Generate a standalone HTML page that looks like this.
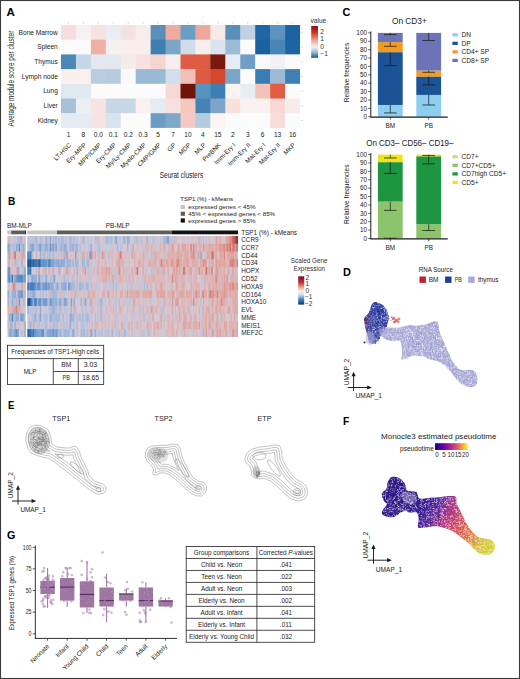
<!DOCTYPE html><html><head><meta charset="utf-8"><style>html,body{margin:0;padding:0;background:#fff;overflow:hidden;width:520px;height:679px;}svg{display:block;}text{font-family:"Liberation Sans", sans-serif;}</style></head><body>
<svg width="520" height="679" viewBox="0 0 520 679">
<rect x="0.00" y="0.00" width="520.00" height="679.00" fill="#fff"/>
<text x="6.50" y="16.30" font-size="11.5" font-weight="bold" fill="#000">A</text>
<rect x="61.00" y="25.00" width="15.44" height="15.20" fill="#f7dedd"/>
<rect x="75.94" y="25.00" width="15.44" height="15.20" fill="#f6f1f2"/>
<rect x="90.88" y="25.00" width="15.44" height="15.20" fill="#f6e2e1"/>
<rect x="105.82" y="25.00" width="15.44" height="15.20" fill="#e7edf3"/>
<rect x="120.76" y="25.00" width="15.44" height="15.20" fill="#f6e1e2"/>
<rect x="135.70" y="25.00" width="15.44" height="15.20" fill="#f8ecec"/>
<rect x="150.64" y="25.00" width="15.44" height="15.20" fill="#5b8fba"/>
<rect x="165.58" y="25.00" width="15.44" height="15.20" fill="#f0aba0"/>
<rect x="180.52" y="25.00" width="15.44" height="15.20" fill="#6b9dc6"/>
<rect x="195.46" y="25.00" width="15.44" height="15.20" fill="#eea79b"/>
<rect x="210.40" y="25.00" width="15.44" height="15.20" fill="#f8e8e6"/>
<rect x="225.34" y="25.00" width="15.44" height="15.20" fill="#5a8fba"/>
<rect x="240.28" y="25.00" width="15.44" height="15.20" fill="#c1d1e2"/>
<rect x="255.22" y="25.00" width="15.44" height="15.20" fill="#1f66a4"/>
<rect x="270.16" y="25.00" width="15.44" height="15.20" fill="#5f93bf"/>
<rect x="285.10" y="25.00" width="14.94" height="15.20" fill="#1b62a0"/>
<rect x="61.00" y="39.70" width="15.44" height="15.20" fill="#fbfbfc"/>
<rect x="75.94" y="39.70" width="15.44" height="15.20" fill="#fbfbfc"/>
<rect x="90.88" y="39.70" width="15.44" height="15.20" fill="#eeb1a3"/>
<rect x="105.82" y="39.70" width="15.44" height="15.20" fill="#f8f0f0"/>
<rect x="120.76" y="39.70" width="15.44" height="15.20" fill="#f8eeee"/>
<rect x="135.70" y="39.70" width="15.44" height="15.20" fill="#f8eeee"/>
<rect x="150.64" y="39.70" width="15.44" height="15.20" fill="#3f7fb0"/>
<rect x="165.58" y="39.70" width="15.44" height="15.20" fill="#7ca6c8"/>
<rect x="180.52" y="39.70" width="15.44" height="15.20" fill="#d0dde9"/>
<rect x="195.46" y="39.70" width="15.44" height="15.20" fill="#f7eeee"/>
<rect x="210.40" y="39.70" width="15.44" height="15.20" fill="#dbe4ee"/>
<rect x="225.34" y="39.70" width="15.44" height="15.20" fill="#9dbad4"/>
<rect x="240.28" y="39.70" width="15.44" height="15.20" fill="#fbfbfc"/>
<rect x="255.22" y="39.70" width="15.44" height="15.20" fill="#1a61a0"/>
<rect x="270.16" y="39.70" width="15.44" height="15.20" fill="#4885b6"/>
<rect x="285.10" y="39.70" width="14.94" height="15.20" fill="#1d64a2"/>
<rect x="61.00" y="54.40" width="15.44" height="15.20" fill="#4b88b5"/>
<rect x="75.94" y="54.40" width="15.44" height="15.20" fill="#c5d6e6"/>
<rect x="90.88" y="54.40" width="15.44" height="15.20" fill="#e3e8f0"/>
<rect x="105.82" y="54.40" width="15.44" height="15.20" fill="#e3e8f0"/>
<rect x="120.76" y="54.40" width="15.44" height="15.20" fill="#f6ebeb"/>
<rect x="135.70" y="54.40" width="15.44" height="15.20" fill="#f6e1e0"/>
<rect x="150.64" y="54.40" width="15.44" height="15.20" fill="#f5d5d0"/>
<rect x="165.58" y="54.40" width="15.44" height="15.20" fill="#f7eeee"/>
<rect x="180.52" y="54.40" width="15.44" height="15.20" fill="#de5b45"/>
<rect x="195.46" y="54.40" width="15.44" height="15.20" fill="#de5b45"/>
<rect x="210.40" y="54.40" width="15.44" height="15.20" fill="#7a1a0e"/>
<rect x="225.34" y="54.40" width="15.44" height="15.20" fill="#e6ecf3"/>
<rect x="240.28" y="54.40" width="15.44" height="15.20" fill="#6f9ec6"/>
<rect x="255.22" y="54.40" width="15.44" height="15.20" fill="#fafafa"/>
<rect x="270.16" y="54.40" width="15.44" height="15.20" fill="#f0f2f6"/>
<rect x="285.10" y="54.40" width="14.94" height="15.20" fill="#fbfbfc"/>
<rect x="61.00" y="69.10" width="15.44" height="15.20" fill="#fbf0ef"/>
<rect x="75.94" y="69.10" width="15.44" height="15.20" fill="#faf0ee"/>
<rect x="90.88" y="69.10" width="15.44" height="15.20" fill="#b8cde0"/>
<rect x="105.82" y="69.10" width="15.44" height="15.20" fill="#b5cbdf"/>
<rect x="120.76" y="69.10" width="15.44" height="15.20" fill="#faf9fa"/>
<rect x="135.70" y="69.10" width="15.44" height="15.20" fill="#9ab9d4"/>
<rect x="150.64" y="69.10" width="15.44" height="15.20" fill="#9ab9d4"/>
<rect x="165.58" y="69.10" width="15.44" height="15.20" fill="#d2dfeb"/>
<rect x="180.52" y="69.10" width="15.44" height="15.20" fill="#f3beb5"/>
<rect x="195.46" y="69.10" width="15.44" height="15.20" fill="#df5a44"/>
<rect x="210.40" y="69.10" width="15.44" height="15.20" fill="#d5472d"/>
<rect x="225.34" y="69.10" width="15.44" height="15.20" fill="#7aa4c8"/>
<rect x="240.28" y="69.10" width="15.44" height="15.20" fill="#fbfbfc"/>
<rect x="255.22" y="69.10" width="15.44" height="15.20" fill="#3a7db2"/>
<rect x="270.16" y="69.10" width="15.44" height="15.20" fill="#9dbad4"/>
<rect x="285.10" y="69.10" width="14.94" height="15.20" fill="#3f80b4"/>
<rect x="61.00" y="83.80" width="15.44" height="15.20" fill="#e0e8f0"/>
<rect x="75.94" y="83.80" width="15.44" height="15.20" fill="#e0e8f0"/>
<rect x="90.88" y="83.80" width="15.44" height="15.20" fill="#fbfbfc"/>
<rect x="105.82" y="83.80" width="15.44" height="15.20" fill="#fbfbfc"/>
<rect x="120.76" y="83.80" width="15.44" height="15.20" fill="#fbfbfc"/>
<rect x="135.70" y="83.80" width="15.44" height="15.20" fill="#fbfbfc"/>
<rect x="150.64" y="83.80" width="15.44" height="15.20" fill="#fbfbfc"/>
<rect x="165.58" y="83.80" width="15.44" height="15.20" fill="#f7d8d4"/>
<rect x="180.52" y="83.80" width="15.44" height="15.20" fill="#6e1408"/>
<rect x="195.46" y="83.80" width="15.44" height="15.20" fill="#5892bf"/>
<rect x="210.40" y="83.80" width="15.44" height="15.20" fill="#3d7eb3"/>
<rect x="225.34" y="83.80" width="15.44" height="15.20" fill="#fbf2f2"/>
<rect x="240.28" y="83.80" width="15.44" height="15.20" fill="#e8edf3"/>
<rect x="255.22" y="83.80" width="15.44" height="15.20" fill="#f3c2b8"/>
<rect x="270.16" y="83.80" width="15.44" height="15.20" fill="#e05d44"/>
<rect x="285.10" y="83.80" width="14.94" height="15.20" fill="#fbfbfc"/>
<rect x="61.00" y="98.50" width="15.44" height="15.20" fill="#a8c1d8"/>
<rect x="75.94" y="98.50" width="15.44" height="15.20" fill="#ecf0f5"/>
<rect x="90.88" y="98.50" width="15.44" height="15.20" fill="#f7e4e2"/>
<rect x="105.82" y="98.50" width="15.44" height="15.20" fill="#c7d7e6"/>
<rect x="120.76" y="98.50" width="15.44" height="15.20" fill="#c7d7e6"/>
<rect x="135.70" y="98.50" width="15.44" height="15.20" fill="#faf0ef"/>
<rect x="150.64" y="98.50" width="15.44" height="15.20" fill="#e4ebf2"/>
<rect x="165.58" y="98.50" width="15.44" height="15.20" fill="#f8e0de"/>
<rect x="180.52" y="98.50" width="15.44" height="15.20" fill="#f4c8c0"/>
<rect x="195.46" y="98.50" width="15.44" height="15.20" fill="#4383b6"/>
<rect x="210.40" y="98.50" width="15.44" height="15.20" fill="#7aa4c8"/>
<rect x="225.34" y="98.50" width="15.44" height="15.20" fill="#f8e0dc"/>
<rect x="240.28" y="98.50" width="15.44" height="15.20" fill="#faf2f1"/>
<rect x="255.22" y="98.50" width="15.44" height="15.20" fill="#f9f1f0"/>
<rect x="270.16" y="98.50" width="15.44" height="15.20" fill="#f7d8d4"/>
<rect x="285.10" y="98.50" width="14.94" height="15.20" fill="#f8eceb"/>
<rect x="61.00" y="113.20" width="15.44" height="14.70" fill="#e4ebf2"/>
<rect x="75.94" y="113.20" width="15.44" height="14.70" fill="#e4ebf2"/>
<rect x="90.88" y="113.20" width="15.44" height="14.70" fill="#f7e4e2"/>
<rect x="105.82" y="113.20" width="15.44" height="14.70" fill="#d9e3ee"/>
<rect x="120.76" y="113.20" width="15.44" height="14.70" fill="#fbfbfc"/>
<rect x="135.70" y="113.20" width="15.44" height="14.70" fill="#fbfbfc"/>
<rect x="150.64" y="113.20" width="15.44" height="14.70" fill="#6c9cc4"/>
<rect x="165.58" y="113.20" width="15.44" height="14.70" fill="#7ea8ca"/>
<rect x="180.52" y="113.20" width="15.44" height="14.70" fill="#f4cac3"/>
<rect x="195.46" y="113.20" width="15.44" height="14.70" fill="#b5cbdf"/>
<rect x="210.40" y="113.20" width="15.44" height="14.70" fill="#fbf4f4"/>
<rect x="225.34" y="113.20" width="15.44" height="14.70" fill="#fbfbfc"/>
<rect x="240.28" y="113.20" width="15.44" height="14.70" fill="#fbfbfc"/>
<rect x="255.22" y="113.20" width="15.44" height="14.70" fill="#fbfbfc"/>
<rect x="270.16" y="113.20" width="15.44" height="14.70" fill="#f8dcd8"/>
<rect x="285.10" y="113.20" width="14.94" height="14.70" fill="#fbfbfc"/>
<line x1="68.47" y1="21.80" x2="68.47" y2="24.40" stroke="#c4c4c4" stroke-width="0.6"/>
<line x1="83.41" y1="21.80" x2="83.41" y2="24.40" stroke="#c4c4c4" stroke-width="0.6"/>
<line x1="98.35" y1="21.80" x2="98.35" y2="24.40" stroke="#c4c4c4" stroke-width="0.6"/>
<line x1="113.29" y1="21.80" x2="113.29" y2="24.40" stroke="#c4c4c4" stroke-width="0.6"/>
<line x1="128.23" y1="21.80" x2="128.23" y2="24.40" stroke="#c4c4c4" stroke-width="0.6"/>
<line x1="143.17" y1="21.80" x2="143.17" y2="24.40" stroke="#c4c4c4" stroke-width="0.6"/>
<line x1="158.11" y1="21.80" x2="158.11" y2="24.40" stroke="#c4c4c4" stroke-width="0.6"/>
<line x1="173.05" y1="21.80" x2="173.05" y2="24.40" stroke="#c4c4c4" stroke-width="0.6"/>
<line x1="187.99" y1="21.80" x2="187.99" y2="24.40" stroke="#c4c4c4" stroke-width="0.6"/>
<line x1="202.93" y1="21.80" x2="202.93" y2="24.40" stroke="#c4c4c4" stroke-width="0.6"/>
<line x1="217.87" y1="21.80" x2="217.87" y2="24.40" stroke="#c4c4c4" stroke-width="0.6"/>
<line x1="232.81" y1="21.80" x2="232.81" y2="24.40" stroke="#c4c4c4" stroke-width="0.6"/>
<line x1="247.75" y1="21.80" x2="247.75" y2="24.40" stroke="#c4c4c4" stroke-width="0.6"/>
<line x1="262.69" y1="21.80" x2="262.69" y2="24.40" stroke="#c4c4c4" stroke-width="0.6"/>
<line x1="277.63" y1="21.80" x2="277.63" y2="24.40" stroke="#c4c4c4" stroke-width="0.6"/>
<line x1="292.57" y1="21.80" x2="292.57" y2="24.40" stroke="#c4c4c4" stroke-width="0.6"/>
<line x1="300.64" y1="32.35" x2="303.24" y2="32.35" stroke="#c4c4c4" stroke-width="0.6"/>
<line x1="300.64" y1="47.05" x2="303.24" y2="47.05" stroke="#c4c4c4" stroke-width="0.6"/>
<line x1="300.64" y1="61.75" x2="303.24" y2="61.75" stroke="#c4c4c4" stroke-width="0.6"/>
<line x1="300.64" y1="76.45" x2="303.24" y2="76.45" stroke="#c4c4c4" stroke-width="0.6"/>
<line x1="300.64" y1="91.15" x2="303.24" y2="91.15" stroke="#c4c4c4" stroke-width="0.6"/>
<line x1="300.64" y1="105.85" x2="303.24" y2="105.85" stroke="#c4c4c4" stroke-width="0.6"/>
<line x1="300.64" y1="120.55" x2="303.24" y2="120.55" stroke="#c4c4c4" stroke-width="0.6"/>
<text x="57.80" y="34.65" font-size="6.6" text-anchor="end" fill="#222">Bone Marrow</text>
<text x="57.80" y="49.35" font-size="6.6" text-anchor="end" fill="#222">Spleen</text>
<text x="57.80" y="64.05" font-size="6.6" text-anchor="end" fill="#222">Thymus</text>
<text x="57.80" y="78.75" font-size="6.6" text-anchor="end" fill="#222">Lymph node</text>
<text x="57.80" y="93.45" font-size="6.6" text-anchor="end" fill="#222">Lung</text>
<text x="57.80" y="108.15" font-size="6.6" text-anchor="end" fill="#222">Liver</text>
<text x="57.80" y="122.85" font-size="6.6" text-anchor="end" fill="#222">Kidney</text>
<text x="68.47" y="137.20" font-size="6.6" text-anchor="middle" fill="#222">1</text>
<text x="83.41" y="137.20" font-size="6.6" text-anchor="middle" fill="#222">8</text>
<text x="98.35" y="137.20" font-size="6.6" text-anchor="middle" fill="#222">0.0</text>
<text x="113.29" y="137.20" font-size="6.6" text-anchor="middle" fill="#222">0.1</text>
<text x="128.23" y="137.20" font-size="6.6" text-anchor="middle" fill="#222">0.2</text>
<text x="143.17" y="137.20" font-size="6.6" text-anchor="middle" fill="#222">0.3</text>
<text x="158.11" y="137.20" font-size="6.6" text-anchor="middle" fill="#222">5</text>
<text x="173.05" y="137.20" font-size="6.6" text-anchor="middle" fill="#222">7</text>
<text x="187.99" y="137.20" font-size="6.6" text-anchor="middle" fill="#222">10</text>
<text x="202.93" y="137.20" font-size="6.6" text-anchor="middle" fill="#222">4</text>
<text x="217.87" y="137.20" font-size="6.6" text-anchor="middle" fill="#222">15</text>
<text x="232.81" y="137.20" font-size="6.6" text-anchor="middle" fill="#222">2</text>
<text x="247.75" y="137.20" font-size="6.6" text-anchor="middle" fill="#222">3</text>
<text x="262.69" y="137.20" font-size="6.6" text-anchor="middle" fill="#222">6</text>
<text x="277.63" y="137.20" font-size="6.6" text-anchor="middle" fill="#222">13</text>
<text x="292.57" y="137.20" font-size="6.6" text-anchor="middle" fill="#222">16</text>
<text transform="translate(71.67 145.60) rotate(-45)" font-size="6.3" text-anchor="end" fill="#222">LT-HSC</text>
<text transform="translate(86.61 145.60) rotate(-45)" font-size="6.3" text-anchor="end" fill="#222">Ery-MPP</text>
<text transform="translate(101.55 145.60) rotate(-45)" font-size="6.3" text-anchor="end" fill="#222">MPP/CMP</text>
<text transform="translate(116.49 145.60) rotate(-45)" font-size="6.3" text-anchor="end" fill="#222">Ery-CMP</text>
<text transform="translate(131.43 145.60) rotate(-45)" font-size="6.3" text-anchor="end" fill="#222">My/Ly-CMP</text>
<text transform="translate(146.37 145.60) rotate(-45)" font-size="6.3" text-anchor="end" fill="#222">Myelo-CMP</text>
<text transform="translate(161.31 145.60) rotate(-45)" font-size="6.3" text-anchor="end" fill="#222">CMP/GMP</text>
<text transform="translate(176.25 145.60) rotate(-45)" font-size="6.3" text-anchor="end" fill="#222">GP</text>
<text transform="translate(191.19 145.60) rotate(-45)" font-size="6.3" text-anchor="end" fill="#222">MDP</text>
<text transform="translate(206.13 145.60) rotate(-45)" font-size="6.3" text-anchor="end" fill="#222">MLP</text>
<text transform="translate(221.07 145.60) rotate(-45)" font-size="6.3" text-anchor="end" fill="#222">PreBNK</text>
<text transform="translate(236.01 145.60) rotate(-45)" font-size="6.3" text-anchor="end" fill="#222">Imm-Ery I</text>
<text transform="translate(250.95 145.60) rotate(-45)" font-size="6.3" text-anchor="end" fill="#222">Imm-Ery II</text>
<text transform="translate(265.89 145.60) rotate(-45)" font-size="6.3" text-anchor="end" fill="#222">Mat-Ery I</text>
<text transform="translate(280.83 145.60) rotate(-45)" font-size="6.3" text-anchor="end" fill="#222">Mat-Ery II</text>
<text transform="translate(295.77 145.60) rotate(-45)" font-size="6.3" text-anchor="end" fill="#222">MKP</text>
<text transform="translate(159.70 178.30) scale(0.7858 1)" font-size="8.3" fill="#222">Seurat clusters</text>
<text transform="translate(14.40 78.60) rotate(-90) scale(0.7637 1)" font-size="8.4" text-anchor="middle" fill="#222">Average module score per cluster</text>
<text x="310.50" y="22.60" font-size="6.6" fill="#333">value</text>
<defs><linearGradient id="ga" x1="0" y1="0" x2="0" y2="1"><stop offset="0" stop-color="#8b0a0e"/><stop offset="0.2" stop-color="#d0301f"/><stop offset="0.45" stop-color="#f1a089"/><stop offset="0.66" stop-color="#f7f3f3"/><stop offset="0.82" stop-color="#98bcd7"/><stop offset="1" stop-color="#0e5a9a"/></linearGradient></defs>
<rect x="311.20" y="26.00" width="6.80" height="31.80" fill="url(#ga)"/>
<text x="320.30" y="33.90" font-size="6.6" fill="#333">2</text>
<text x="320.30" y="41.10" font-size="6.6" fill="#333">1</text>
<text x="320.30" y="48.80" font-size="6.6" fill="#333">0</text>
<text x="320.30" y="56.00" font-size="6.6" fill="#333">−1</text>
<text transform="translate(342.40 16.10) scale(0.9512 1)" font-size="11.5" font-weight="bold" fill="#000">C</text>
<text x="392.00" y="24.00" font-size="8.3" fill="#222">On CD3+</text>
<rect x="377.90" y="104.97" width="24.80" height="11.73" fill="#8ccdf0"/>
<rect x="377.90" y="52.17" width="24.80" height="52.79" fill="#1b5396"/>
<rect x="377.90" y="42.12" width="24.80" height="10.06" fill="#f49a1e"/>
<rect x="377.90" y="32.90" width="24.80" height="9.22" fill="#6c74b7"/>
<rect x="416.30" y="94.91" width="24.80" height="21.79" fill="#8ccdf0"/>
<rect x="416.30" y="76.48" width="24.80" height="18.44" fill="#1b5396"/>
<rect x="416.30" y="70.61" width="24.80" height="5.87" fill="#f49a1e"/>
<rect x="416.30" y="32.90" width="24.80" height="37.71" fill="#6c74b7"/>
<line x1="390.30" y1="104.97" x2="390.30" y2="112.93" stroke="#1a1a1a" stroke-width="0.7"/>
<line x1="384.00" y1="112.93" x2="396.60" y2="112.93" stroke="#1a1a1a" stroke-width="0.75"/>
<line x1="390.30" y1="52.17" x2="390.30" y2="65.58" stroke="#1a1a1a" stroke-width="0.7"/>
<line x1="384.00" y1="65.58" x2="396.60" y2="65.58" stroke="#1a1a1a" stroke-width="0.75"/>
<line x1="390.30" y1="42.12" x2="390.30" y2="46.31" stroke="#1a1a1a" stroke-width="0.7"/>
<line x1="384.00" y1="46.31" x2="396.60" y2="46.31" stroke="#1a1a1a" stroke-width="0.75"/>
<line x1="390.30" y1="32.90" x2="390.30" y2="34.58" stroke="#1a1a1a" stroke-width="0.7"/>
<line x1="384.00" y1="34.58" x2="396.60" y2="34.58" stroke="#1a1a1a" stroke-width="0.75"/>
<line x1="428.70" y1="94.91" x2="428.70" y2="104.97" stroke="#1a1a1a" stroke-width="0.7"/>
<line x1="422.40" y1="104.97" x2="435.00" y2="104.97" stroke="#1a1a1a" stroke-width="0.75"/>
<line x1="428.70" y1="76.48" x2="428.70" y2="84.86" stroke="#1a1a1a" stroke-width="0.7"/>
<line x1="422.40" y1="84.86" x2="435.00" y2="84.86" stroke="#1a1a1a" stroke-width="0.75"/>
<line x1="428.70" y1="70.61" x2="428.70" y2="72.29" stroke="#1a1a1a" stroke-width="0.7"/>
<line x1="422.40" y1="72.29" x2="435.00" y2="72.29" stroke="#1a1a1a" stroke-width="0.75"/>
<line x1="428.70" y1="32.90" x2="428.70" y2="40.44" stroke="#1a1a1a" stroke-width="0.7"/>
<line x1="422.40" y1="40.44" x2="435.00" y2="40.44" stroke="#1a1a1a" stroke-width="0.75"/>
<line x1="370.80" y1="31.40" x2="370.80" y2="117.10" stroke="#1a1a1a" stroke-width="1.0"/>
<line x1="370.30" y1="117.10" x2="447.70" y2="117.10" stroke="#1a1a1a" stroke-width="1.1"/>
<line x1="368.20" y1="116.70" x2="370.80" y2="116.70" stroke="#1a1a1a" stroke-width="0.7"/>
<text x="367.00" y="118.90" font-size="6.4" text-anchor="end" fill="#222">0</text>
<line x1="368.20" y1="108.32" x2="370.80" y2="108.32" stroke="#1a1a1a" stroke-width="0.7"/>
<text x="367.00" y="110.52" font-size="6.4" text-anchor="end" fill="#222">10</text>
<line x1="368.20" y1="99.94" x2="370.80" y2="99.94" stroke="#1a1a1a" stroke-width="0.7"/>
<text x="367.00" y="102.14" font-size="6.4" text-anchor="end" fill="#222">20</text>
<line x1="368.20" y1="91.56" x2="370.80" y2="91.56" stroke="#1a1a1a" stroke-width="0.7"/>
<text x="367.00" y="93.76" font-size="6.4" text-anchor="end" fill="#222">30</text>
<line x1="368.20" y1="83.18" x2="370.80" y2="83.18" stroke="#1a1a1a" stroke-width="0.7"/>
<text x="367.00" y="85.38" font-size="6.4" text-anchor="end" fill="#222">40</text>
<line x1="368.20" y1="74.80" x2="370.80" y2="74.80" stroke="#1a1a1a" stroke-width="0.7"/>
<text x="367.00" y="77.00" font-size="6.4" text-anchor="end" fill="#222">50</text>
<line x1="368.20" y1="66.42" x2="370.80" y2="66.42" stroke="#1a1a1a" stroke-width="0.7"/>
<text x="367.00" y="68.62" font-size="6.4" text-anchor="end" fill="#222">60</text>
<line x1="368.20" y1="58.04" x2="370.80" y2="58.04" stroke="#1a1a1a" stroke-width="0.7"/>
<text x="367.00" y="60.24" font-size="6.4" text-anchor="end" fill="#222">70</text>
<line x1="368.20" y1="49.66" x2="370.80" y2="49.66" stroke="#1a1a1a" stroke-width="0.7"/>
<text x="367.00" y="51.86" font-size="6.4" text-anchor="end" fill="#222">80</text>
<line x1="368.20" y1="41.28" x2="370.80" y2="41.28" stroke="#1a1a1a" stroke-width="0.7"/>
<text x="367.00" y="43.48" font-size="6.4" text-anchor="end" fill="#222">90</text>
<line x1="368.20" y1="32.90" x2="370.80" y2="32.90" stroke="#1a1a1a" stroke-width="0.7"/>
<text x="367.00" y="35.10" font-size="6.4" text-anchor="end" fill="#222">100</text>
<line x1="390.30" y1="117.10" x2="390.30" y2="119.50" stroke="#1a1a1a" stroke-width="0.7"/>
<line x1="428.70" y1="117.10" x2="428.70" y2="119.50" stroke="#1a1a1a" stroke-width="0.7"/>
<text x="390.30" y="127.90" font-size="6.4" text-anchor="middle" fill="#222">BM</text>
<text x="428.70" y="127.90" font-size="6.4" text-anchor="middle" fill="#222">PB</text>
<text transform="translate(348.90 72.50) rotate(-90) scale(0.8433 1)" font-size="7.8" text-anchor="middle" fill="#222">Relative frequencies</text>
<rect x="452.40" y="33.20" width="5.40" height="3.20" fill="#8ccdf0"/>
<text x="461.50" y="37.20" font-size="6.6" fill="#222">DN</text>
<rect x="452.40" y="41.75" width="5.40" height="3.20" fill="#1b5396"/>
<text x="461.50" y="45.75" font-size="6.6" fill="#222">DP</text>
<rect x="452.40" y="50.30" width="5.40" height="3.20" fill="#f49a1e"/>
<text x="461.50" y="54.30" font-size="6.6" fill="#222">CD4+ SP</text>
<rect x="452.40" y="58.85" width="5.40" height="3.20" fill="#6c74b7"/>
<text x="461.50" y="62.85" font-size="6.6" fill="#222">CD8+ SP</text>
<text transform="translate(366.20 146.30) scale(0.9628 1)" font-size="8.3" fill="#222">On CD3– CD56– CD19–</text>
<rect x="377.90" y="238.08" width="24.80" height="0.42" fill="#c9d98c"/>
<rect x="377.90" y="201.58" width="24.80" height="36.50" fill="#8cc46c"/>
<rect x="377.90" y="162.15" width="24.80" height="39.43" fill="#1e9540"/>
<rect x="377.90" y="154.60" width="24.80" height="7.55" fill="#efe41c"/>
<rect x="416.30" y="238.25" width="24.80" height="0.25" fill="#c9d98c"/>
<rect x="416.30" y="224.24" width="24.80" height="14.01" fill="#8cc46c"/>
<rect x="416.30" y="156.28" width="24.80" height="67.96" fill="#1e9540"/>
<rect x="416.30" y="154.60" width="24.80" height="1.68" fill="#efe41c"/>
<line x1="390.30" y1="237.66" x2="390.30" y2="238.25" stroke="#1a1a1a" stroke-width="0.7"/>
<line x1="384.00" y1="238.25" x2="396.60" y2="238.25" stroke="#1a1a1a" stroke-width="0.75"/>
<line x1="390.30" y1="201.58" x2="390.30" y2="210.39" stroke="#1a1a1a" stroke-width="0.7"/>
<line x1="384.00" y1="210.39" x2="396.60" y2="210.39" stroke="#1a1a1a" stroke-width="0.75"/>
<line x1="390.30" y1="162.15" x2="390.30" y2="173.48" stroke="#1a1a1a" stroke-width="0.7"/>
<line x1="384.00" y1="173.48" x2="396.60" y2="173.48" stroke="#1a1a1a" stroke-width="0.75"/>
<line x1="390.30" y1="154.60" x2="390.30" y2="157.96" stroke="#1a1a1a" stroke-width="0.7"/>
<line x1="384.00" y1="157.96" x2="396.60" y2="157.96" stroke="#1a1a1a" stroke-width="0.75"/>
<line x1="428.70" y1="224.24" x2="428.70" y2="230.53" stroke="#1a1a1a" stroke-width="0.7"/>
<line x1="422.40" y1="230.53" x2="435.00" y2="230.53" stroke="#1a1a1a" stroke-width="0.75"/>
<line x1="428.70" y1="156.28" x2="428.70" y2="163.83" stroke="#1a1a1a" stroke-width="0.7"/>
<line x1="422.40" y1="163.83" x2="435.00" y2="163.83" stroke="#1a1a1a" stroke-width="0.75"/>
<line x1="428.70" y1="154.60" x2="428.70" y2="155.44" stroke="#1a1a1a" stroke-width="0.7"/>
<line x1="422.40" y1="155.44" x2="435.00" y2="155.44" stroke="#1a1a1a" stroke-width="0.75"/>
<line x1="370.80" y1="153.10" x2="370.80" y2="238.90" stroke="#1a1a1a" stroke-width="1.0"/>
<line x1="370.30" y1="238.90" x2="447.70" y2="238.90" stroke="#1a1a1a" stroke-width="1.1"/>
<line x1="368.20" y1="238.50" x2="370.80" y2="238.50" stroke="#1a1a1a" stroke-width="0.7"/>
<text x="367.00" y="240.70" font-size="6.4" text-anchor="end" fill="#222">0</text>
<line x1="368.20" y1="230.11" x2="370.80" y2="230.11" stroke="#1a1a1a" stroke-width="0.7"/>
<text x="367.00" y="232.31" font-size="6.4" text-anchor="end" fill="#222">10</text>
<line x1="368.20" y1="221.72" x2="370.80" y2="221.72" stroke="#1a1a1a" stroke-width="0.7"/>
<text x="367.00" y="223.92" font-size="6.4" text-anchor="end" fill="#222">20</text>
<line x1="368.20" y1="213.33" x2="370.80" y2="213.33" stroke="#1a1a1a" stroke-width="0.7"/>
<text x="367.00" y="215.53" font-size="6.4" text-anchor="end" fill="#222">30</text>
<line x1="368.20" y1="204.94" x2="370.80" y2="204.94" stroke="#1a1a1a" stroke-width="0.7"/>
<text x="367.00" y="207.14" font-size="6.4" text-anchor="end" fill="#222">40</text>
<line x1="368.20" y1="196.55" x2="370.80" y2="196.55" stroke="#1a1a1a" stroke-width="0.7"/>
<text x="367.00" y="198.75" font-size="6.4" text-anchor="end" fill="#222">50</text>
<line x1="368.20" y1="188.16" x2="370.80" y2="188.16" stroke="#1a1a1a" stroke-width="0.7"/>
<text x="367.00" y="190.36" font-size="6.4" text-anchor="end" fill="#222">60</text>
<line x1="368.20" y1="179.77" x2="370.80" y2="179.77" stroke="#1a1a1a" stroke-width="0.7"/>
<text x="367.00" y="181.97" font-size="6.4" text-anchor="end" fill="#222">70</text>
<line x1="368.20" y1="171.38" x2="370.80" y2="171.38" stroke="#1a1a1a" stroke-width="0.7"/>
<text x="367.00" y="173.58" font-size="6.4" text-anchor="end" fill="#222">80</text>
<line x1="368.20" y1="162.99" x2="370.80" y2="162.99" stroke="#1a1a1a" stroke-width="0.7"/>
<text x="367.00" y="165.19" font-size="6.4" text-anchor="end" fill="#222">90</text>
<line x1="368.20" y1="154.60" x2="370.80" y2="154.60" stroke="#1a1a1a" stroke-width="0.7"/>
<text x="367.00" y="156.80" font-size="6.4" text-anchor="end" fill="#222">100</text>
<line x1="390.30" y1="238.90" x2="390.30" y2="241.30" stroke="#1a1a1a" stroke-width="0.7"/>
<line x1="428.70" y1="238.90" x2="428.70" y2="241.30" stroke="#1a1a1a" stroke-width="0.7"/>
<text x="390.30" y="249.70" font-size="6.4" text-anchor="middle" fill="#222">BM</text>
<text x="428.70" y="249.70" font-size="6.4" text-anchor="middle" fill="#222">PB</text>
<text transform="translate(348.90 194.25) rotate(-90) scale(0.8433 1)" font-size="7.8" text-anchor="middle" fill="#222">Relative frequencies</text>
<rect x="452.40" y="155.20" width="5.40" height="3.20" fill="#c9d98c"/>
<text x="461.50" y="159.20" font-size="6.6" fill="#222">CD7+</text>
<rect x="452.40" y="163.75" width="5.40" height="3.20" fill="#8cc46c"/>
<text x="461.50" y="167.75" font-size="6.6" fill="#222">CD7+CD5+</text>
<rect x="452.40" y="172.30" width="5.40" height="3.20" fill="#1e9540"/>
<text x="461.50" y="176.30" font-size="6.6" fill="#222">CD7high CD5+</text>
<rect x="452.40" y="180.85" width="5.40" height="3.20" fill="#efe41c"/>
<text x="461.50" y="184.85" font-size="6.6" fill="#222">CD5+</text>
<text transform="translate(7.90 205.10) scale(0.8790 1)" font-size="11.5" font-weight="bold" fill="#000">B</text>
<text transform="translate(180.20 200.70) scale(0.9798 1)" font-size="6.2" fill="#222">TSP1 (%) - kMeans</text>
<rect x="180.70" y="204.90" width="4.20" height="4.20" fill="#c4c4c4"/>
<text x="188.30" y="209.20" font-size="6.25" fill="#222">expressed genes &lt; 45%</text>
<rect x="180.70" y="211.65" width="4.20" height="4.20" fill="#5e5e5e"/>
<text x="188.30" y="215.95" font-size="6.25" fill="#222">45% &lt; expressed genes &lt; 85%</text>
<rect x="180.70" y="218.40" width="4.20" height="4.20" fill="#111111"/>
<text x="188.30" y="222.70" font-size="6.25" fill="#222">expressed genes &gt; 85%</text>
<text x="7.00" y="227.60" font-size="6.4" fill="#222">BM-MLP</text>
<text x="117.70" y="227.60" font-size="6.4" text-anchor="middle" fill="#222">PB-MLP</text>
<rect x="7.40" y="230.50" width="3.80" height="3.80" fill="#c4c4c4"/>
<rect x="11.20" y="230.50" width="13.50" height="3.80" fill="#5e5e5e"/>
<rect x="24.70" y="230.50" width="1.20" height="3.80" fill="#111"/>
<rect x="27.20" y="230.50" width="29.80" height="3.80" fill="#c4c4c4"/>
<rect x="57.00" y="230.50" width="115.00" height="3.80" fill="#5e5e5e"/>
<rect x="172.00" y="230.50" width="66.00" height="3.80" fill="#111"/>
<defs><filter id="hb" x="-2%" y="-2%" width="104%" height="104%"><feGaussianBlur stdDeviation="0.45 0.3"/></filter></defs>
<g filter="url(#hb)">
<path fill="#b6c1dc" d="M27.2 236.0h1.91v8.3h-1.91z"/>
<path fill="#c0c4da" d="M28.6 236.0h1.91v8.3h-1.91z"/>
<path fill="#b6c1dc" d="M30.0 236.0h1.91v8.3h-1.91z"/>
<path fill="#bbc3db" d="M31.4 236.0h1.91v8.3h-1.91z"/>
<path fill="#b8c2dc" d="M32.8 236.0h1.91v8.3h-1.91z"/>
<path fill="#b3bfdb" d="M34.2 236.0h1.91v8.3h-1.91z"/>
<path fill="#a7b8da" d="M35.6 236.0h1.91v8.3h-1.91z"/>
<path fill="#c0c4da" d="M37.0 236.0h1.91v8.3h-1.91z"/>
<path fill="#d7c3cc" d="M38.4 236.0h1.91v8.3h-1.91z"/>
<path fill="#aebcdb" d="M39.8 236.0h1.91v8.3h-1.91z"/>
<path fill="#b2bedb" d="M41.3 236.0h1.91v8.3h-1.91z"/>
<path fill="#ccc8d8" d="M42.7 236.0h1.91v8.3h-1.91z"/>
<path fill="#d7c3cb" d="M44.1 236.0h1.91v8.3h-1.91z"/>
<path fill="#98b0d7" d="M45.5 236.0h1.91v8.3h-1.91z"/>
<path fill="#bdc3db" d="M46.9 236.0h1.91v8.3h-1.91z"/>
<path fill="#bcc3db" d="M48.3 236.0h1.91v8.3h-1.91z"/>
<path fill="#8ca9d5" d="M49.7 236.0h1.91v8.3h-1.91z"/>
<path fill="#cbc7d8" d="M51.1 236.0h1.91v8.3h-1.91z"/>
<path fill="#acbbda" d="M52.5 236.0h1.91v8.3h-1.91z"/>
<path fill="#b5c0dc" d="M53.9 236.0h1.91v8.3h-1.91z"/>
<path fill="#9cb2d8" d="M55.3 236.0h1.91v8.3h-1.91z"/>
<path fill="#c7c6d9" d="M56.7 236.0h1.91v8.3h-1.91z"/>
<path fill="#a7b8da" d="M58.1 236.0h1.91v8.3h-1.91z"/>
<path fill="#c0c4da" d="M59.5 236.0h1.91v8.3h-1.91z"/>
<path fill="#aabada" d="M60.9 236.0h1.91v8.3h-1.91z"/>
<path fill="#a4b7d9" d="M62.3 236.0h1.91v8.3h-1.91z"/>
<path fill="#c1c5da" d="M63.7 236.0h1.91v8.3h-1.91z"/>
<path fill="#b0bddb" d="M65.1 236.0h1.91v8.3h-1.91z"/>
<path fill="#c5c6d9" d="M66.5 236.0h1.91v8.3h-1.91z"/>
<path fill="#c0c4da" d="M68.0 236.0h1.91v8.3h-1.91z"/>
<path fill="#a6b8d9" d="M69.4 236.0h1.91v8.3h-1.91z"/>
<path fill="#b1bedb" d="M70.8 236.0h1.91v8.3h-1.91z"/>
<path fill="#c3c5da" d="M72.2 236.0h1.91v8.3h-1.91z"/>
<path fill="#b2bedb" d="M73.6 236.0h1.91v8.3h-1.91z"/>
<path fill="#c7c6d9" d="M75.0 236.0h1.91v8.3h-1.91z"/>
<path fill="#b9c2dc" d="M76.4 236.0h1.91v8.3h-1.91z"/>
<path fill="#d5c8d4" d="M77.8 236.0h1.91v8.3h-1.91z"/>
<path fill="#d4c9d4" d="M79.2 236.0h1.91v8.3h-1.91z"/>
<path fill="#c2c5da" d="M80.6 236.0h1.91v8.3h-1.91z"/>
<path fill="#b3bfdb" d="M82.0 236.0h1.91v8.3h-1.91z"/>
<path fill="#a4b6d9" d="M83.4 236.0h1.91v8.3h-1.91z"/>
<path fill="#d3cad6" d="M84.8 236.0h1.91v8.3h-1.91z"/>
<path fill="#c7c6d9" d="M86.2 236.0h1.91v8.3h-1.91z"/>
<path fill="#bec4db" d="M87.6 236.0h1.91v8.3h-1.91z"/>
<path fill="#d5c8d2" d="M89.0 236.0h1.91v8.3h-1.91z"/>
<path fill="#c0c4da" d="M90.4 236.0h1.91v8.3h-1.91z"/>
<path fill="#d5c7d1" d="M91.8 236.0h1.91v8.3h-1.91z"/>
<path fill="#d3cad6" d="M93.3 236.0h1.91v8.3h-1.91z"/>
<path fill="#b0bddb" d="M94.7 236.0h1.91v8.3h-1.91z"/>
<path fill="#dcb6b8" d="M96.1 236.0h1.91v8.3h-1.91z"/>
<path fill="#aebcdb" d="M97.5 236.0h1.91v8.3h-1.91z"/>
<path fill="#c5c6d9" d="M98.9 236.0h1.91v8.3h-1.91z"/>
<path fill="#cac7d8" d="M100.3 236.0h1.91v8.3h-1.91z"/>
<path fill="#d5c8d3" d="M101.7 236.0h1.91v8.3h-1.91z"/>
<path fill="#d8bfc6" d="M103.1 236.0h1.91v8.3h-1.91z"/>
<path fill="#d9bfc5" d="M104.5 236.0h1.91v8.3h-1.91z"/>
<path fill="#a8b9da" d="M105.9 236.0h1.91v8.3h-1.91z"/>
<path fill="#a4b7d9" d="M107.3 236.0h1.91v8.3h-1.91z"/>
<path fill="#d7c2ca" d="M108.7 236.0h1.91v8.3h-1.91z"/>
<path fill="#a5b7d9" d="M110.1 236.0h1.91v8.3h-1.91z"/>
<path fill="#c4c5d9" d="M111.5 236.0h1.91v8.3h-1.91z"/>
<path fill="#cec8d7" d="M112.9 236.0h1.91v8.3h-1.91z"/>
<path fill="#a1b5d9" d="M114.3 236.0h1.91v8.3h-1.91z"/>
<path fill="#87a6d4" d="M115.7 236.0h1.91v8.3h-1.91z"/>
<path fill="#c3c5da" d="M117.1 236.0h1.91v8.3h-1.91z"/>
<path fill="#c2c5da" d="M118.5 236.0h1.91v8.3h-1.91z"/>
<path fill="#c8c6d9" d="M120.0 236.0h1.91v8.3h-1.91z"/>
<path fill="#d0c9d7" d="M121.4 236.0h1.91v8.3h-1.91z"/>
<path fill="#a4b7d9" d="M122.8 236.0h1.91v8.3h-1.91z"/>
<path fill="#9cb2d8" d="M124.2 236.0h1.91v8.3h-1.91z"/>
<path fill="#c8c7d9" d="M125.6 236.0h1.91v8.3h-1.91z"/>
<path fill="#9bb2d8" d="M127.0 236.0h1.91v8.3h-1.91z"/>
<path fill="#9eb3d8" d="M128.4 236.0h1.91v8.3h-1.91z"/>
<path fill="#cec8d7" d="M129.8 236.0h1.91v8.3h-1.91z"/>
<path fill="#d1c9d7" d="M131.2 236.0h1.91v8.3h-1.91z"/>
<path fill="#d4cad5" d="M132.6 236.0h1.91v8.3h-1.91z"/>
<path fill="#afbddb" d="M134.0 236.0h1.91v8.3h-1.91z"/>
<path fill="#b6c1dc" d="M135.4 236.0h1.91v8.3h-1.91z"/>
<path fill="#b0bedb" d="M136.8 236.0h1.91v8.3h-1.91z"/>
<path fill="#c5c6d9" d="M138.2 236.0h1.91v8.3h-1.91z"/>
<path fill="#c7c6d9" d="M139.6 236.0h1.91v8.3h-1.91z"/>
<path fill="#b5c1dc" d="M141.0 236.0h1.91v8.3h-1.91z"/>
<path fill="#d2c9d6" d="M142.4 236.0h1.91v8.3h-1.91z"/>
<path fill="#cec8d7" d="M143.8 236.0h1.91v8.3h-1.91z"/>
<path fill="#dbb8bb" d="M145.2 236.0h1.91v8.3h-1.91z"/>
<path fill="#a0b4d9" d="M146.7 236.0h1.91v8.3h-1.91z"/>
<path fill="#d6c6d0" d="M148.1 236.0h1.91v8.3h-1.91z"/>
<path fill="#c3c5da" d="M149.5 236.0h1.91v8.3h-1.91z"/>
<path fill="#d4cad5" d="M150.9 236.0h1.91v8.3h-1.91z"/>
<path fill="#b4c0db" d="M152.3 236.0h1.91v8.3h-1.91z"/>
<path fill="#c1c5da" d="M153.7 236.0h1.91v8.3h-1.91z"/>
<path fill="#d7c2ca" d="M155.1 236.0h1.91v8.3h-1.91z"/>
<path fill="#c6c6d9" d="M156.5 236.0h1.91v8.3h-1.91z"/>
<path fill="#d5c8d3" d="M157.9 236.0h1.91v8.3h-1.91z"/>
<path fill="#c6c6d9" d="M159.3 236.0h1.91v8.3h-1.91z"/>
<path fill="#dabcc1" d="M160.7 236.0h1.91v8.3h-1.91z"/>
<path fill="#bfc4db" d="M162.1 236.0h1.91v8.3h-1.91z"/>
<path fill="#a2b5d9" d="M163.5 236.0h1.91v8.3h-1.91z"/>
<path fill="#aebcdb" d="M164.9 236.0h1.91v8.3h-1.91z"/>
<path fill="#8eaad6" d="M166.3 236.0h1.91v8.3h-1.91z"/>
<path fill="#84a5d3" d="M167.7 236.0h1.91v8.3h-1.91z"/>
<path fill="#bcc3db" d="M169.1 236.0h1.91v8.3h-1.91z"/>
<path fill="#dababe" d="M170.5 236.0h1.91v8.3h-1.91z"/>
<path fill="#d9bdc2" d="M171.9 236.0h1.91v8.3h-1.91z"/>
<path fill="#b2bedb" d="M173.4 236.0h1.91v8.3h-1.91z"/>
<path fill="#bac2dc" d="M174.8 236.0h1.91v8.3h-1.91z"/>
<path fill="#dababe" d="M176.2 236.0h1.91v8.3h-1.91z"/>
<path fill="#d6c5cf" d="M177.6 236.0h1.91v8.3h-1.91z"/>
<path fill="#d3cad6" d="M179.0 236.0h1.91v8.3h-1.91z"/>
<path fill="#d1c9d7" d="M180.4 236.0h1.91v8.3h-1.91z"/>
<path fill="#d6c4cd" d="M181.8 236.0h1.91v8.3h-1.91z"/>
<path fill="#dababe" d="M183.2 236.0h1.91v8.3h-1.91z"/>
<path fill="#d5c8d3" d="M184.6 236.0h1.91v8.3h-1.91z"/>
<path fill="#d6c5cf" d="M186.0 236.0h1.91v8.3h-1.91z"/>
<path fill="#c4c5d9" d="M187.4 236.0h1.91v8.3h-1.91z"/>
<path fill="#d5c7d1" d="M188.8 236.0h1.91v8.3h-1.91z"/>
<path fill="#cfc8d7" d="M190.2 236.0h1.91v8.3h-1.91z"/>
<path fill="#d9bdc2" d="M191.6 236.0h1.91v8.3h-1.91z"/>
<path fill="#ccc8d8" d="M193.0 236.0h1.91v8.3h-1.91z"/>
<path fill="#d6c5cf" d="M194.4 236.0h1.91v8.3h-1.91z"/>
<path fill="#d6c4cd" d="M195.8 236.0h1.91v8.3h-1.91z"/>
<path fill="#bec4db" d="M197.2 236.0h1.91v8.3h-1.91z"/>
<path fill="#ddaeac" d="M198.7 236.0h1.91v8.3h-1.91z"/>
<path fill="#d9bcc2" d="M200.1 236.0h1.91v8.3h-1.91z"/>
<path fill="#cbc7d8" d="M201.5 236.0h1.91v8.3h-1.91z"/>
<path fill="#dcb5b6" d="M202.9 236.0h1.91v8.3h-1.91z"/>
<path fill="#d3cad6" d="M204.3 236.0h1.91v8.3h-1.91z"/>
<path fill="#b7c1dc" d="M205.7 236.0h1.91v8.3h-1.91z"/>
<path fill="#d4c9d4" d="M207.1 236.0h1.91v8.3h-1.91z"/>
<path fill="#dabcc0" d="M208.5 236.0h1.91v8.3h-1.91z"/>
<path fill="#d6c4cd" d="M209.9 236.0h1.91v8.3h-1.91z"/>
<path fill="#d5c8d3" d="M211.3 236.0h1.91v8.3h-1.91z"/>
<path fill="#d8c1c9" d="M212.7 236.0h1.91v8.3h-1.91z"/>
<path fill="#d3cad6" d="M214.1 236.0h1.91v8.3h-1.91z"/>
<path fill="#dfa7a2" d="M215.5 236.0h1.91v8.3h-1.91z"/>
<path fill="#ddb0af" d="M216.9 236.0h1.91v8.3h-1.91z"/>
<path fill="#d9bdc2" d="M218.3 236.0h1.91v8.3h-1.91z"/>
<path fill="#deaba8" d="M219.7 236.0h1.91v8.3h-1.91z"/>
<path fill="#d6c4cd" d="M221.1 236.0h1.91v8.3h-1.91z"/>
<path fill="#d5c7d1" d="M222.5 236.0h1.91v8.3h-1.91z"/>
<path fill="#d1c9d7" d="M223.9 236.0h1.91v8.3h-1.91z"/>
<path fill="#deaaa7" d="M225.4 236.0h1.91v8.3h-1.91z"/>
<path fill="#dfa49e" d="M226.8 236.0h1.91v8.3h-1.91z"/>
<path fill="#df9d95" d="M228.2 236.0h1.91v8.3h-1.91z"/>
<path fill="#da8c86" d="M229.6 236.0h1.91v8.3h-1.91z"/>
<path fill="#d98c85" d="M231.0 236.0h1.91v8.3h-1.91z"/>
<path fill="#c75958" d="M232.4 236.0h1.91v8.3h-1.91z"/>
<path fill="#ca5f5c" d="M233.8 236.0h1.91v8.3h-1.91z"/>
<path fill="#b33940" d="M235.2 236.0h1.91v8.3h-1.91z"/>
<path fill="#a92832" d="M236.6 236.0h1.41v8.3h-1.41z"/>
<path fill="#bdc3db" d="M27.2 243.8h1.91v8.3h-1.91z"/>
<path fill="#acbbda" d="M28.6 243.8h1.91v8.3h-1.91z"/>
<path fill="#99b0d8" d="M30.0 243.8h1.91v8.3h-1.91z"/>
<path fill="#85a5d4" d="M31.4 243.8h1.91v8.3h-1.91z"/>
<path fill="#8ba8d5" d="M32.8 243.8h1.91v8.3h-1.91z"/>
<path fill="#b8c2dc" d="M34.2 243.8h1.91v8.3h-1.91z"/>
<path fill="#acbbda" d="M35.6 243.8h1.91v8.3h-1.91z"/>
<path fill="#b1bedb" d="M37.0 243.8h1.91v8.3h-1.91z"/>
<path fill="#94add7" d="M38.4 243.8h1.91v8.3h-1.91z"/>
<path fill="#7fa2d2" d="M39.8 243.8h1.91v8.3h-1.91z"/>
<path fill="#a6b8d9" d="M41.3 243.8h1.91v8.3h-1.91z"/>
<path fill="#bac3dc" d="M42.7 243.8h1.91v8.3h-1.91z"/>
<path fill="#9cb2d8" d="M44.1 243.8h1.91v8.3h-1.91z"/>
<path fill="#95aed7" d="M45.5 243.8h1.91v8.3h-1.91z"/>
<path fill="#9fb4d8" d="M46.9 243.8h1.91v8.3h-1.91z"/>
<path fill="#b0bddb" d="M48.3 243.8h1.91v8.3h-1.91z"/>
<path fill="#6e99cd" d="M49.7 243.8h1.91v8.3h-1.91z"/>
<path fill="#9cb2d8" d="M51.1 243.8h1.91v8.3h-1.91z"/>
<path fill="#7ca0d1" d="M52.5 243.8h1.91v8.3h-1.91z"/>
<path fill="#adbcda" d="M53.9 243.8h1.91v8.3h-1.91z"/>
<path fill="#80a3d2" d="M55.3 243.8h1.91v8.3h-1.91z"/>
<path fill="#b3bfdb" d="M56.7 243.8h1.91v8.3h-1.91z"/>
<path fill="#bdc3db" d="M58.1 243.8h1.91v8.3h-1.91z"/>
<path fill="#a7b8da" d="M59.5 243.8h1.91v8.3h-1.91z"/>
<path fill="#a0b4d9" d="M60.9 243.8h1.91v8.3h-1.91z"/>
<path fill="#afbddb" d="M62.3 243.8h1.91v8.3h-1.91z"/>
<path fill="#91acd6" d="M63.7 243.8h1.91v8.3h-1.91z"/>
<path fill="#92acd7" d="M65.1 243.8h1.91v8.3h-1.91z"/>
<path fill="#b9c2dc" d="M66.5 243.8h1.91v8.3h-1.91z"/>
<path fill="#d5c6d0" d="M68.0 243.8h1.91v8.3h-1.91z"/>
<path fill="#9ab1d8" d="M69.4 243.8h1.91v8.3h-1.91z"/>
<path fill="#a8b9da" d="M70.8 243.8h1.91v8.3h-1.91z"/>
<path fill="#91acd6" d="M72.2 243.8h1.91v8.3h-1.91z"/>
<path fill="#b2bfdb" d="M73.6 243.8h1.91v8.3h-1.91z"/>
<path fill="#a5b7d9" d="M75.0 243.8h1.91v8.3h-1.91z"/>
<path fill="#94add7" d="M76.4 243.8h1.91v8.3h-1.91z"/>
<path fill="#cfc9d7" d="M77.8 243.8h1.91v8.3h-1.91z"/>
<path fill="#adbcda" d="M79.2 243.8h1.91v8.3h-1.91z"/>
<path fill="#c8c7d9" d="M80.6 243.8h1.91v8.3h-1.91z"/>
<path fill="#d4c9d4" d="M82.0 243.8h1.91v8.3h-1.91z"/>
<path fill="#c0c4da" d="M83.4 243.8h1.91v8.3h-1.91z"/>
<path fill="#c6c6d9" d="M84.8 243.8h1.91v8.3h-1.91z"/>
<path fill="#d4c9d4" d="M86.2 243.8h1.91v8.3h-1.91z"/>
<path fill="#bac2dc" d="M87.6 243.8h1.91v8.3h-1.91z"/>
<path fill="#bfc4da" d="M89.0 243.8h1.91v8.3h-1.91z"/>
<path fill="#90abd6" d="M90.4 243.8h1.91v8.3h-1.91z"/>
<path fill="#c8c7d9" d="M91.8 243.8h1.91v8.3h-1.91z"/>
<path fill="#d7c3cc" d="M93.3 243.8h1.91v8.3h-1.91z"/>
<path fill="#cdc8d8" d="M94.7 243.8h1.91v8.3h-1.91z"/>
<path fill="#c3c5da" d="M96.1 243.8h1.91v8.3h-1.91z"/>
<path fill="#b9c2dc" d="M97.5 243.8h1.91v8.3h-1.91z"/>
<path fill="#acbbda" d="M98.9 243.8h1.91v8.3h-1.91z"/>
<path fill="#cac7d8" d="M100.3 243.8h1.91v8.3h-1.91z"/>
<path fill="#c6c6d9" d="M101.7 243.8h1.91v8.3h-1.91z"/>
<path fill="#c8c7d9" d="M103.1 243.8h1.91v8.3h-1.91z"/>
<path fill="#d3cad6" d="M104.5 243.8h1.91v8.3h-1.91z"/>
<path fill="#c1c5da" d="M105.9 243.8h1.91v8.3h-1.91z"/>
<path fill="#cec8d7" d="M107.3 243.8h1.91v8.3h-1.91z"/>
<path fill="#d6c5ce" d="M108.7 243.8h1.91v8.3h-1.91z"/>
<path fill="#c2c5da" d="M110.1 243.8h1.91v8.3h-1.91z"/>
<path fill="#d5c8d3" d="M111.5 243.8h1.91v8.3h-1.91z"/>
<path fill="#dbb9bd" d="M112.9 243.8h1.91v8.3h-1.91z"/>
<path fill="#d6c6d0" d="M114.3 243.8h1.91v8.3h-1.91z"/>
<path fill="#c3c5da" d="M115.7 243.8h1.91v8.3h-1.91z"/>
<path fill="#a6b8d9" d="M117.1 243.8h1.91v8.3h-1.91z"/>
<path fill="#d4c9d5" d="M118.5 243.8h1.91v8.3h-1.91z"/>
<path fill="#b3bfdb" d="M120.0 243.8h1.91v8.3h-1.91z"/>
<path fill="#c1c5da" d="M121.4 243.8h1.91v8.3h-1.91z"/>
<path fill="#d5c9d4" d="M122.8 243.8h1.91v8.3h-1.91z"/>
<path fill="#d5c6d1" d="M124.2 243.8h1.91v8.3h-1.91z"/>
<path fill="#d5c8d2" d="M125.6 243.8h1.91v8.3h-1.91z"/>
<path fill="#9db3d8" d="M127.0 243.8h1.91v8.3h-1.91z"/>
<path fill="#cac7d8" d="M128.4 243.8h1.91v8.3h-1.91z"/>
<path fill="#c9c7d8" d="M129.8 243.8h1.91v8.3h-1.91z"/>
<path fill="#dcb6b8" d="M131.2 243.8h1.91v8.3h-1.91z"/>
<path fill="#dfa6a1" d="M132.6 243.8h1.91v8.3h-1.91z"/>
<path fill="#d6c5cf" d="M134.0 243.8h1.91v8.3h-1.91z"/>
<path fill="#c8c6d9" d="M135.4 243.8h1.91v8.3h-1.91z"/>
<path fill="#c2c5da" d="M136.8 243.8h1.91v8.3h-1.91z"/>
<path fill="#dabbbf" d="M138.2 243.8h1.91v8.3h-1.91z"/>
<path fill="#d4c9d4" d="M139.6 243.8h1.91v8.3h-1.91z"/>
<path fill="#c5c6d9" d="M141.0 243.8h1.91v8.3h-1.91z"/>
<path fill="#d9bec5" d="M142.4 243.8h1.91v8.3h-1.91z"/>
<path fill="#c8c7d8" d="M143.8 243.8h1.91v8.3h-1.91z"/>
<path fill="#dcb4b4" d="M145.2 243.8h1.91v8.3h-1.91z"/>
<path fill="#dbb9bd" d="M146.7 243.8h1.91v8.3h-1.91z"/>
<path fill="#ddb2b2" d="M148.1 243.8h1.91v8.3h-1.91z"/>
<path fill="#d5c9d4" d="M149.5 243.8h1.91v8.3h-1.91z"/>
<path fill="#ddb0b0" d="M150.9 243.8h1.91v8.3h-1.91z"/>
<path fill="#dabbc0" d="M152.3 243.8h1.91v8.3h-1.91z"/>
<path fill="#d7c3cb" d="M153.7 243.8h1.91v8.3h-1.91z"/>
<path fill="#d9bdc2" d="M155.1 243.8h1.91v8.3h-1.91z"/>
<path fill="#cbc8d8" d="M156.5 243.8h1.91v8.3h-1.91z"/>
<path fill="#d5c8d3" d="M157.9 243.8h1.91v8.3h-1.91z"/>
<path fill="#ddb1b0" d="M159.3 243.8h1.91v8.3h-1.91z"/>
<path fill="#dbb9bc" d="M160.7 243.8h1.91v8.3h-1.91z"/>
<path fill="#d8bfc6" d="M162.1 243.8h1.91v8.3h-1.91z"/>
<path fill="#deaba7" d="M163.5 243.8h1.91v8.3h-1.91z"/>
<path fill="#bbc3db" d="M164.9 243.8h1.91v8.3h-1.91z"/>
<path fill="#cbc7d8" d="M166.3 243.8h1.91v8.3h-1.91z"/>
<path fill="#dcb7b9" d="M167.7 243.8h1.91v8.3h-1.91z"/>
<path fill="#dcb7ba" d="M169.1 243.8h1.91v8.3h-1.91z"/>
<path fill="#dababe" d="M170.5 243.8h1.91v8.3h-1.91z"/>
<path fill="#de9991" d="M171.9 243.8h1.91v8.3h-1.91z"/>
<path fill="#dbb7ba" d="M173.4 243.8h1.91v8.3h-1.91z"/>
<path fill="#d4c9d4" d="M174.8 243.8h1.91v8.3h-1.91z"/>
<path fill="#d9bfc5" d="M176.2 243.8h1.91v8.3h-1.91z"/>
<path fill="#dfa7a2" d="M177.6 243.8h1.91v8.3h-1.91z"/>
<path fill="#ddaead" d="M179.0 243.8h1.91v8.3h-1.91z"/>
<path fill="#d0c9d7" d="M180.4 243.8h1.91v8.3h-1.91z"/>
<path fill="#df9c94" d="M181.8 243.8h1.91v8.3h-1.91z"/>
<path fill="#dfa7a2" d="M183.2 243.8h1.91v8.3h-1.91z"/>
<path fill="#dfa7a2" d="M184.6 243.8h1.91v8.3h-1.91z"/>
<path fill="#dcb5b7" d="M186.0 243.8h1.91v8.3h-1.91z"/>
<path fill="#ddb3b3" d="M187.4 243.8h1.91v8.3h-1.91z"/>
<path fill="#d6c5ce" d="M188.8 243.8h1.91v8.3h-1.91z"/>
<path fill="#d6827c" d="M190.2 243.8h1.91v8.3h-1.91z"/>
<path fill="#dcb5b7" d="M191.6 243.8h1.91v8.3h-1.91z"/>
<path fill="#da8c86" d="M193.0 243.8h1.91v8.3h-1.91z"/>
<path fill="#dcb3b4" d="M194.4 243.8h1.91v8.3h-1.91z"/>
<path fill="#deaaa7" d="M195.8 243.8h1.91v8.3h-1.91z"/>
<path fill="#d6c5cf" d="M197.2 243.8h1.91v8.3h-1.91z"/>
<path fill="#ddb1b0" d="M198.7 243.8h1.91v8.3h-1.91z"/>
<path fill="#deaba8" d="M200.1 243.8h1.91v8.3h-1.91z"/>
<path fill="#d7c1c9" d="M201.5 243.8h1.91v8.3h-1.91z"/>
<path fill="#dd9790" d="M202.9 243.8h1.91v8.3h-1.91z"/>
<path fill="#ddb2b2" d="M204.3 243.8h1.91v8.3h-1.91z"/>
<path fill="#ddb0b0" d="M205.7 243.8h1.91v8.3h-1.91z"/>
<path fill="#dbb9bc" d="M207.1 243.8h1.91v8.3h-1.91z"/>
<path fill="#dea9a5" d="M208.5 243.8h1.91v8.3h-1.91z"/>
<path fill="#deadab" d="M209.9 243.8h1.91v8.3h-1.91z"/>
<path fill="#dea9a4" d="M211.3 243.8h1.91v8.3h-1.91z"/>
<path fill="#ddafae" d="M212.7 243.8h1.91v8.3h-1.91z"/>
<path fill="#ddb2b3" d="M214.1 243.8h1.91v8.3h-1.91z"/>
<path fill="#deaaa7" d="M215.5 243.8h1.91v8.3h-1.91z"/>
<path fill="#deaba9" d="M216.9 243.8h1.91v8.3h-1.91z"/>
<path fill="#dfa5a0" d="M218.3 243.8h1.91v8.3h-1.91z"/>
<path fill="#dd9790" d="M219.7 243.8h1.91v8.3h-1.91z"/>
<path fill="#dfa7a3" d="M221.1 243.8h1.91v8.3h-1.91z"/>
<path fill="#dc958d" d="M222.5 243.8h1.91v8.3h-1.91z"/>
<path fill="#d98c85" d="M223.9 243.8h1.91v8.3h-1.91z"/>
<path fill="#e0a29a" d="M225.4 243.8h1.91v8.3h-1.91z"/>
<path fill="#d27671" d="M226.8 243.8h1.91v8.3h-1.91z"/>
<path fill="#de9a92" d="M228.2 243.8h1.91v8.3h-1.91z"/>
<path fill="#cf6c68" d="M229.6 243.8h1.91v8.3h-1.91z"/>
<path fill="#e0a29a" d="M231.0 243.8h1.91v8.3h-1.91z"/>
<path fill="#d06e69" d="M232.4 243.8h1.91v8.3h-1.91z"/>
<path fill="#d98983" d="M233.8 243.8h1.91v8.3h-1.91z"/>
<path fill="#d88881" d="M235.2 243.8h1.91v8.3h-1.91z"/>
<path fill="#d2746f" d="M236.6 243.8h1.41v8.3h-1.41z"/>
<path fill="#427bb9" d="M27.2 251.5h1.91v8.3h-1.91z"/>
<path fill="#5f91ca" d="M28.6 251.5h1.91v8.3h-1.91z"/>
<path fill="#437dbb" d="M30.0 251.5h1.91v8.3h-1.91z"/>
<path fill="#a9b9da" d="M31.4 251.5h1.91v8.3h-1.91z"/>
<path fill="#cfc9d7" d="M32.8 251.5h1.91v8.3h-1.91z"/>
<path fill="#d0c9d7" d="M34.2 251.5h1.91v8.3h-1.91z"/>
<path fill="#ddb1b1" d="M35.6 251.5h1.91v8.3h-1.91z"/>
<path fill="#c9c7d8" d="M37.0 251.5h1.91v8.3h-1.91z"/>
<path fill="#d4cad6" d="M38.4 251.5h1.91v8.3h-1.91z"/>
<path fill="#99b0d8" d="M39.8 251.5h1.91v8.3h-1.91z"/>
<path fill="#ddb3b4" d="M41.3 251.5h1.91v8.3h-1.91z"/>
<path fill="#bdc3db" d="M42.7 251.5h1.91v8.3h-1.91z"/>
<path fill="#a0b5d9" d="M44.1 251.5h1.91v8.3h-1.91z"/>
<path fill="#d2cad6" d="M45.5 251.5h1.91v8.3h-1.91z"/>
<path fill="#deaca9" d="M46.9 251.5h1.91v8.3h-1.91z"/>
<path fill="#b4c0db" d="M48.3 251.5h1.91v8.3h-1.91z"/>
<path fill="#aebcdb" d="M49.7 251.5h1.91v8.3h-1.91z"/>
<path fill="#c4c5d9" d="M51.1 251.5h1.91v8.3h-1.91z"/>
<path fill="#a8b9da" d="M52.5 251.5h1.91v8.3h-1.91z"/>
<path fill="#d8c0c8" d="M53.9 251.5h1.91v8.3h-1.91z"/>
<path fill="#b7c1dc" d="M55.3 251.5h1.91v8.3h-1.91z"/>
<path fill="#cac7d8" d="M56.7 251.5h1.91v8.3h-1.91z"/>
<path fill="#dababe" d="M58.1 251.5h1.91v8.3h-1.91z"/>
<path fill="#cfc8d7" d="M59.5 251.5h1.91v8.3h-1.91z"/>
<path fill="#dcb4b5" d="M60.9 251.5h1.91v8.3h-1.91z"/>
<path fill="#c4c5d9" d="M62.3 251.5h1.91v8.3h-1.91z"/>
<path fill="#a3b6d9" d="M63.7 251.5h1.91v8.3h-1.91z"/>
<path fill="#a2b6d9" d="M65.1 251.5h1.91v8.3h-1.91z"/>
<path fill="#db928b" d="M66.5 251.5h1.91v8.3h-1.91z"/>
<path fill="#d6c4cd" d="M68.0 251.5h1.91v8.3h-1.91z"/>
<path fill="#d7c2ca" d="M69.4 251.5h1.91v8.3h-1.91z"/>
<path fill="#d8c1c8" d="M70.8 251.5h1.91v8.3h-1.91z"/>
<path fill="#d8c0c7" d="M72.2 251.5h1.91v8.3h-1.91z"/>
<path fill="#d8c1c8" d="M73.6 251.5h1.91v8.3h-1.91z"/>
<path fill="#d7837d" d="M75.0 251.5h1.91v8.3h-1.91z"/>
<path fill="#bec4db" d="M76.4 251.5h1.91v8.3h-1.91z"/>
<path fill="#b5c0dc" d="M77.8 251.5h1.91v8.3h-1.91z"/>
<path fill="#d0c9d7" d="M79.2 251.5h1.91v8.3h-1.91z"/>
<path fill="#b8c2dc" d="M80.6 251.5h1.91v8.3h-1.91z"/>
<path fill="#deadaa" d="M82.0 251.5h1.91v8.3h-1.91z"/>
<path fill="#deaaa6" d="M83.4 251.5h1.91v8.3h-1.91z"/>
<path fill="#cbc7d8" d="M84.8 251.5h1.91v8.3h-1.91z"/>
<path fill="#b0bddb" d="M86.2 251.5h1.91v8.3h-1.91z"/>
<path fill="#d7c2ca" d="M87.6 251.5h1.91v8.3h-1.91z"/>
<path fill="#db8f88" d="M89.0 251.5h1.91v8.3h-1.91z"/>
<path fill="#739ccf" d="M90.4 251.5h1.91v8.3h-1.91z"/>
<path fill="#deaaa7" d="M91.8 251.5h1.91v8.3h-1.91z"/>
<path fill="#c9c7d8" d="M93.3 251.5h1.91v8.3h-1.91z"/>
<path fill="#dea9a4" d="M94.7 251.5h1.91v8.3h-1.91z"/>
<path fill="#d6c4ce" d="M96.1 251.5h1.91v8.3h-1.91z"/>
<path fill="#dabbbf" d="M97.5 251.5h1.91v8.3h-1.91z"/>
<path fill="#afbddb" d="M98.9 251.5h1.91v8.3h-1.91z"/>
<path fill="#cdc8d7" d="M100.3 251.5h1.91v8.3h-1.91z"/>
<path fill="#dc958e" d="M101.7 251.5h1.91v8.3h-1.91z"/>
<path fill="#dea9a5" d="M103.1 251.5h1.91v8.3h-1.91z"/>
<path fill="#d9bdc2" d="M104.5 251.5h1.91v8.3h-1.91z"/>
<path fill="#d1c9d7" d="M105.9 251.5h1.91v8.3h-1.91z"/>
<path fill="#b7c1dc" d="M107.3 251.5h1.91v8.3h-1.91z"/>
<path fill="#dcb7b9" d="M108.7 251.5h1.91v8.3h-1.91z"/>
<path fill="#d9bdc2" d="M110.1 251.5h1.91v8.3h-1.91z"/>
<path fill="#dbb8bb" d="M111.5 251.5h1.91v8.3h-1.91z"/>
<path fill="#d9bcc2" d="M112.9 251.5h1.91v8.3h-1.91z"/>
<path fill="#ccc8d8" d="M114.3 251.5h1.91v8.3h-1.91z"/>
<path fill="#d8c0c8" d="M115.7 251.5h1.91v8.3h-1.91z"/>
<path fill="#dabbc0" d="M117.1 251.5h1.91v8.3h-1.91z"/>
<path fill="#df9d95" d="M118.5 251.5h1.91v8.3h-1.91z"/>
<path fill="#d57c77" d="M120.0 251.5h1.91v8.3h-1.91z"/>
<path fill="#ddb2b2" d="M121.4 251.5h1.91v8.3h-1.91z"/>
<path fill="#cbc7d8" d="M122.8 251.5h1.91v8.3h-1.91z"/>
<path fill="#d9bdc2" d="M124.2 251.5h1.91v8.3h-1.91z"/>
<path fill="#d8bfc5" d="M125.6 251.5h1.91v8.3h-1.91z"/>
<path fill="#c6c6d9" d="M127.0 251.5h1.91v8.3h-1.91z"/>
<path fill="#dbbabd" d="M128.4 251.5h1.91v8.3h-1.91z"/>
<path fill="#cfc9d7" d="M129.8 251.5h1.91v8.3h-1.91z"/>
<path fill="#e0a29a" d="M131.2 251.5h1.91v8.3h-1.91z"/>
<path fill="#ddb3b3" d="M132.6 251.5h1.91v8.3h-1.91z"/>
<path fill="#ddb2b2" d="M134.0 251.5h1.91v8.3h-1.91z"/>
<path fill="#dabbbf" d="M135.4 251.5h1.91v8.3h-1.91z"/>
<path fill="#d6c6d0" d="M136.8 251.5h1.91v8.3h-1.91z"/>
<path fill="#d8bfc5" d="M138.2 251.5h1.91v8.3h-1.91z"/>
<path fill="#dabcc1" d="M139.6 251.5h1.91v8.3h-1.91z"/>
<path fill="#d7c2ca" d="M141.0 251.5h1.91v8.3h-1.91z"/>
<path fill="#deadab" d="M142.4 251.5h1.91v8.3h-1.91z"/>
<path fill="#dcb4b5" d="M143.8 251.5h1.91v8.3h-1.91z"/>
<path fill="#c7c6d9" d="M145.2 251.5h1.91v8.3h-1.91z"/>
<path fill="#dbb9bc" d="M146.7 251.5h1.91v8.3h-1.91z"/>
<path fill="#cac7d8" d="M148.1 251.5h1.91v8.3h-1.91z"/>
<path fill="#d7c3cc" d="M149.5 251.5h1.91v8.3h-1.91z"/>
<path fill="#ddb1b1" d="M150.9 251.5h1.91v8.3h-1.91z"/>
<path fill="#bac3dc" d="M152.3 251.5h1.91v8.3h-1.91z"/>
<path fill="#ddb1b0" d="M153.7 251.5h1.91v8.3h-1.91z"/>
<path fill="#deaba8" d="M155.1 251.5h1.91v8.3h-1.91z"/>
<path fill="#dcb7ba" d="M156.5 251.5h1.91v8.3h-1.91z"/>
<path fill="#dcb4b5" d="M157.9 251.5h1.91v8.3h-1.91z"/>
<path fill="#dbb9bd" d="M159.3 251.5h1.91v8.3h-1.91z"/>
<path fill="#d7c3cb" d="M160.7 251.5h1.91v8.3h-1.91z"/>
<path fill="#d8bfc6" d="M162.1 251.5h1.91v8.3h-1.91z"/>
<path fill="#dabbbf" d="M163.5 251.5h1.91v8.3h-1.91z"/>
<path fill="#dbbabd" d="M164.9 251.5h1.91v8.3h-1.91z"/>
<path fill="#bec4db" d="M166.3 251.5h1.91v8.3h-1.91z"/>
<path fill="#ddaeac" d="M167.7 251.5h1.91v8.3h-1.91z"/>
<path fill="#ddb3b4" d="M169.1 251.5h1.91v8.3h-1.91z"/>
<path fill="#ddb2b3" d="M170.5 251.5h1.91v8.3h-1.91z"/>
<path fill="#deaca9" d="M171.9 251.5h1.91v8.3h-1.91z"/>
<path fill="#deaba7" d="M173.4 251.5h1.91v8.3h-1.91z"/>
<path fill="#bec4db" d="M174.8 251.5h1.91v8.3h-1.91z"/>
<path fill="#dfa6a1" d="M176.2 251.5h1.91v8.3h-1.91z"/>
<path fill="#dea9a4" d="M177.6 251.5h1.91v8.3h-1.91z"/>
<path fill="#deaca9" d="M179.0 251.5h1.91v8.3h-1.91z"/>
<path fill="#deaaa6" d="M180.4 251.5h1.91v8.3h-1.91z"/>
<path fill="#dbb9bc" d="M181.8 251.5h1.91v8.3h-1.91z"/>
<path fill="#ddb2b2" d="M183.2 251.5h1.91v8.3h-1.91z"/>
<path fill="#dea9a6" d="M184.6 251.5h1.91v8.3h-1.91z"/>
<path fill="#dfa8a3" d="M186.0 251.5h1.91v8.3h-1.91z"/>
<path fill="#deaba8" d="M187.4 251.5h1.91v8.3h-1.91z"/>
<path fill="#c0c4da" d="M188.8 251.5h1.91v8.3h-1.91z"/>
<path fill="#dfa39d" d="M190.2 251.5h1.91v8.3h-1.91z"/>
<path fill="#de9b94" d="M191.6 251.5h1.91v8.3h-1.91z"/>
<path fill="#da8d87" d="M193.0 251.5h1.91v8.3h-1.91z"/>
<path fill="#dea9a6" d="M194.4 251.5h1.91v8.3h-1.91z"/>
<path fill="#cbc7d8" d="M195.8 251.5h1.91v8.3h-1.91z"/>
<path fill="#e0a098" d="M197.2 251.5h1.91v8.3h-1.91z"/>
<path fill="#ddb2b3" d="M198.7 251.5h1.91v8.3h-1.91z"/>
<path fill="#92add7" d="M200.1 251.5h1.91v8.3h-1.91z"/>
<path fill="#ddaeac" d="M201.5 251.5h1.91v8.3h-1.91z"/>
<path fill="#d0c9d7" d="M202.9 251.5h1.91v8.3h-1.91z"/>
<path fill="#bfc4db" d="M204.3 251.5h1.91v8.3h-1.91z"/>
<path fill="#dcb6b8" d="M205.7 251.5h1.91v8.3h-1.91z"/>
<path fill="#e09f97" d="M207.1 251.5h1.91v8.3h-1.91z"/>
<path fill="#ddb1b1" d="M208.5 251.5h1.91v8.3h-1.91z"/>
<path fill="#deaeac" d="M209.9 251.5h1.91v8.3h-1.91z"/>
<path fill="#d1736e" d="M211.3 251.5h1.91v8.3h-1.91z"/>
<path fill="#d57f79" d="M212.7 251.5h1.91v8.3h-1.91z"/>
<path fill="#dbb9bd" d="M214.1 251.5h1.91v8.3h-1.91z"/>
<path fill="#deaba8" d="M215.5 251.5h1.91v8.3h-1.91z"/>
<path fill="#d8bfc6" d="M216.9 251.5h1.91v8.3h-1.91z"/>
<path fill="#d9bcc1" d="M218.3 251.5h1.91v8.3h-1.91z"/>
<path fill="#dfa7a2" d="M219.7 251.5h1.91v8.3h-1.91z"/>
<path fill="#dfa6a1" d="M221.1 251.5h1.91v8.3h-1.91z"/>
<path fill="#ddb1b0" d="M222.5 251.5h1.91v8.3h-1.91z"/>
<path fill="#d98982" d="M223.9 251.5h1.91v8.3h-1.91z"/>
<path fill="#d8c1c8" d="M225.4 251.5h1.91v8.3h-1.91z"/>
<path fill="#ddaead" d="M226.8 251.5h1.91v8.3h-1.91z"/>
<path fill="#dfa39d" d="M228.2 251.5h1.91v8.3h-1.91z"/>
<path fill="#dfa59f" d="M229.6 251.5h1.91v8.3h-1.91z"/>
<path fill="#e09e97" d="M231.0 251.5h1.91v8.3h-1.91z"/>
<path fill="#de9b94" d="M232.4 251.5h1.91v8.3h-1.91z"/>
<path fill="#dcb3b4" d="M233.8 251.5h1.91v8.3h-1.91z"/>
<path fill="#e09f97" d="M235.2 251.5h1.91v8.3h-1.91z"/>
<path fill="#d7c1c9" d="M236.6 251.5h1.41v8.3h-1.41z"/>
<path fill="#23508f" d="M27.2 259.3h1.91v8.3h-1.91z"/>
<path fill="#2a5a99" d="M28.6 259.3h1.91v8.3h-1.91z"/>
<path fill="#23508f" d="M30.0 259.3h1.91v8.3h-1.91z"/>
<path fill="#4078b7" d="M31.4 259.3h1.91v8.3h-1.91z"/>
<path fill="#2d5d9c" d="M32.8 259.3h1.91v8.3h-1.91z"/>
<path fill="#3a70af" d="M34.2 259.3h1.91v8.3h-1.91z"/>
<path fill="#3f77b5" d="M35.6 259.3h1.91v8.3h-1.91z"/>
<path fill="#457fbd" d="M37.0 259.3h1.91v8.3h-1.91z"/>
<path fill="#2b5b9a" d="M38.4 259.3h1.91v8.3h-1.91z"/>
<path fill="#427bb9" d="M39.8 259.3h1.91v8.3h-1.91z"/>
<path fill="#6b98cd" d="M41.3 259.3h1.91v8.3h-1.91z"/>
<path fill="#5e91c9" d="M42.7 259.3h1.91v8.3h-1.91z"/>
<path fill="#6091ca" d="M44.1 259.3h1.91v8.3h-1.91z"/>
<path fill="#6494cb" d="M45.5 259.3h1.91v8.3h-1.91z"/>
<path fill="#89a7d5" d="M46.9 259.3h1.91v8.3h-1.91z"/>
<path fill="#417ab8" d="M48.3 259.3h1.91v8.3h-1.91z"/>
<path fill="#6594cb" d="M49.7 259.3h1.91v8.3h-1.91z"/>
<path fill="#86a6d4" d="M51.1 259.3h1.91v8.3h-1.91z"/>
<path fill="#799fd1" d="M52.5 259.3h1.91v8.3h-1.91z"/>
<path fill="#9db3d8" d="M53.9 259.3h1.91v8.3h-1.91z"/>
<path fill="#8da9d6" d="M55.3 259.3h1.91v8.3h-1.91z"/>
<path fill="#8fabd6" d="M56.7 259.3h1.91v8.3h-1.91z"/>
<path fill="#84a5d3" d="M58.1 259.3h1.91v8.3h-1.91z"/>
<path fill="#a4b7d9" d="M59.5 259.3h1.91v8.3h-1.91z"/>
<path fill="#87a6d4" d="M60.9 259.3h1.91v8.3h-1.91z"/>
<path fill="#92add7" d="M62.3 259.3h1.91v8.3h-1.91z"/>
<path fill="#90abd6" d="M63.7 259.3h1.91v8.3h-1.91z"/>
<path fill="#c0c4da" d="M65.1 259.3h1.91v8.3h-1.91z"/>
<path fill="#9ab1d8" d="M66.5 259.3h1.91v8.3h-1.91z"/>
<path fill="#a1b5d9" d="M68.0 259.3h1.91v8.3h-1.91z"/>
<path fill="#97afd7" d="M69.4 259.3h1.91v8.3h-1.91z"/>
<path fill="#bec4db" d="M70.8 259.3h1.91v8.3h-1.91z"/>
<path fill="#9eb3d8" d="M72.2 259.3h1.91v8.3h-1.91z"/>
<path fill="#c2c5da" d="M73.6 259.3h1.91v8.3h-1.91z"/>
<path fill="#a5b7d9" d="M75.0 259.3h1.91v8.3h-1.91z"/>
<path fill="#a4b7d9" d="M76.4 259.3h1.91v8.3h-1.91z"/>
<path fill="#b0bddb" d="M77.8 259.3h1.91v8.3h-1.91z"/>
<path fill="#cfc9d7" d="M79.2 259.3h1.91v8.3h-1.91z"/>
<path fill="#c8c7d9" d="M80.6 259.3h1.91v8.3h-1.91z"/>
<path fill="#9ab1d8" d="M82.0 259.3h1.91v8.3h-1.91z"/>
<path fill="#acbbda" d="M83.4 259.3h1.91v8.3h-1.91z"/>
<path fill="#c8c7d9" d="M84.8 259.3h1.91v8.3h-1.91z"/>
<path fill="#a9b9da" d="M86.2 259.3h1.91v8.3h-1.91z"/>
<path fill="#a7b8da" d="M87.6 259.3h1.91v8.3h-1.91z"/>
<path fill="#dabbbf" d="M89.0 259.3h1.91v8.3h-1.91z"/>
<path fill="#c5c6d9" d="M90.4 259.3h1.91v8.3h-1.91z"/>
<path fill="#d7c2ca" d="M91.8 259.3h1.91v8.3h-1.91z"/>
<path fill="#c8c6d9" d="M93.3 259.3h1.91v8.3h-1.91z"/>
<path fill="#d7c2ca" d="M94.7 259.3h1.91v8.3h-1.91z"/>
<path fill="#d8bfc6" d="M96.1 259.3h1.91v8.3h-1.91z"/>
<path fill="#dcb4b5" d="M97.5 259.3h1.91v8.3h-1.91z"/>
<path fill="#bcc3db" d="M98.9 259.3h1.91v8.3h-1.91z"/>
<path fill="#ccc8d8" d="M100.3 259.3h1.91v8.3h-1.91z"/>
<path fill="#d9bdc3" d="M101.7 259.3h1.91v8.3h-1.91z"/>
<path fill="#cec8d7" d="M103.1 259.3h1.91v8.3h-1.91z"/>
<path fill="#dcb5b7" d="M104.5 259.3h1.91v8.3h-1.91z"/>
<path fill="#d8bfc6" d="M105.9 259.3h1.91v8.3h-1.91z"/>
<path fill="#d4cad6" d="M107.3 259.3h1.91v8.3h-1.91z"/>
<path fill="#dcb6b9" d="M108.7 259.3h1.91v8.3h-1.91z"/>
<path fill="#d4cad6" d="M110.1 259.3h1.91v8.3h-1.91z"/>
<path fill="#ddb3b3" d="M111.5 259.3h1.91v8.3h-1.91z"/>
<path fill="#d2c9d6" d="M112.9 259.3h1.91v8.3h-1.91z"/>
<path fill="#d6c4ce" d="M114.3 259.3h1.91v8.3h-1.91z"/>
<path fill="#dcb6b8" d="M115.7 259.3h1.91v8.3h-1.91z"/>
<path fill="#dfa6a1" d="M117.1 259.3h1.91v8.3h-1.91z"/>
<path fill="#dfa6a1" d="M118.5 259.3h1.91v8.3h-1.91z"/>
<path fill="#dcb6b8" d="M120.0 259.3h1.91v8.3h-1.91z"/>
<path fill="#ddb2b3" d="M121.4 259.3h1.91v8.3h-1.91z"/>
<path fill="#ddb1b1" d="M122.8 259.3h1.91v8.3h-1.91z"/>
<path fill="#d7c3cb" d="M124.2 259.3h1.91v8.3h-1.91z"/>
<path fill="#d6c4cd" d="M125.6 259.3h1.91v8.3h-1.91z"/>
<path fill="#d5c7d1" d="M127.0 259.3h1.91v8.3h-1.91z"/>
<path fill="#dcb7ba" d="M128.4 259.3h1.91v8.3h-1.91z"/>
<path fill="#d6c6cf" d="M129.8 259.3h1.91v8.3h-1.91z"/>
<path fill="#d5c7d2" d="M131.2 259.3h1.91v8.3h-1.91z"/>
<path fill="#d5c8d2" d="M132.6 259.3h1.91v8.3h-1.91z"/>
<path fill="#ddb2b2" d="M134.0 259.3h1.91v8.3h-1.91z"/>
<path fill="#d6c5ce" d="M135.4 259.3h1.91v8.3h-1.91z"/>
<path fill="#dabbbf" d="M136.8 259.3h1.91v8.3h-1.91z"/>
<path fill="#deaba8" d="M138.2 259.3h1.91v8.3h-1.91z"/>
<path fill="#ddb1b1" d="M139.6 259.3h1.91v8.3h-1.91z"/>
<path fill="#dabcc1" d="M141.0 259.3h1.91v8.3h-1.91z"/>
<path fill="#deadab" d="M142.4 259.3h1.91v8.3h-1.91z"/>
<path fill="#d7c2c9" d="M143.8 259.3h1.91v8.3h-1.91z"/>
<path fill="#dababe" d="M145.2 259.3h1.91v8.3h-1.91z"/>
<path fill="#d4c9d5" d="M146.7 259.3h1.91v8.3h-1.91z"/>
<path fill="#dfa6a1" d="M148.1 259.3h1.91v8.3h-1.91z"/>
<path fill="#dcb6b8" d="M149.5 259.3h1.91v8.3h-1.91z"/>
<path fill="#dcb4b6" d="M150.9 259.3h1.91v8.3h-1.91z"/>
<path fill="#ddb2b3" d="M152.3 259.3h1.91v8.3h-1.91z"/>
<path fill="#dcb4b6" d="M153.7 259.3h1.91v8.3h-1.91z"/>
<path fill="#dfa59f" d="M155.1 259.3h1.91v8.3h-1.91z"/>
<path fill="#d5c8d3" d="M156.5 259.3h1.91v8.3h-1.91z"/>
<path fill="#dcb6b9" d="M157.9 259.3h1.91v8.3h-1.91z"/>
<path fill="#dcb4b6" d="M159.3 259.3h1.91v8.3h-1.91z"/>
<path fill="#d6807a" d="M160.7 259.3h1.91v8.3h-1.91z"/>
<path fill="#deaba9" d="M162.1 259.3h1.91v8.3h-1.91z"/>
<path fill="#ddaeac" d="M163.5 259.3h1.91v8.3h-1.91z"/>
<path fill="#ddb0af" d="M164.9 259.3h1.91v8.3h-1.91z"/>
<path fill="#e0a29b" d="M166.3 259.3h1.91v8.3h-1.91z"/>
<path fill="#ddb2b3" d="M167.7 259.3h1.91v8.3h-1.91z"/>
<path fill="#dbb7ba" d="M169.1 259.3h1.91v8.3h-1.91z"/>
<path fill="#df9d95" d="M170.5 259.3h1.91v8.3h-1.91z"/>
<path fill="#dd968e" d="M171.9 259.3h1.91v8.3h-1.91z"/>
<path fill="#deaaa7" d="M173.4 259.3h1.91v8.3h-1.91z"/>
<path fill="#dcb6b9" d="M174.8 259.3h1.91v8.3h-1.91z"/>
<path fill="#d98c85" d="M176.2 259.3h1.91v8.3h-1.91z"/>
<path fill="#da8d86" d="M177.6 259.3h1.91v8.3h-1.91z"/>
<path fill="#dfa6a1" d="M179.0 259.3h1.91v8.3h-1.91z"/>
<path fill="#dfa59f" d="M180.4 259.3h1.91v8.3h-1.91z"/>
<path fill="#d8c1c8" d="M181.8 259.3h1.91v8.3h-1.91z"/>
<path fill="#e0a199" d="M183.2 259.3h1.91v8.3h-1.91z"/>
<path fill="#dcb3b4" d="M184.6 259.3h1.91v8.3h-1.91z"/>
<path fill="#dfa6a1" d="M186.0 259.3h1.91v8.3h-1.91z"/>
<path fill="#e0a29c" d="M187.4 259.3h1.91v8.3h-1.91z"/>
<path fill="#dcb5b6" d="M188.8 259.3h1.91v8.3h-1.91z"/>
<path fill="#d9bec3" d="M190.2 259.3h1.91v8.3h-1.91z"/>
<path fill="#deaba8" d="M191.6 259.3h1.91v8.3h-1.91z"/>
<path fill="#deadaa" d="M193.0 259.3h1.91v8.3h-1.91z"/>
<path fill="#deacaa" d="M194.4 259.3h1.91v8.3h-1.91z"/>
<path fill="#ddb0af" d="M195.8 259.3h1.91v8.3h-1.91z"/>
<path fill="#ddb0b0" d="M197.2 259.3h1.91v8.3h-1.91z"/>
<path fill="#d5c7d2" d="M198.7 259.3h1.91v8.3h-1.91z"/>
<path fill="#dfa6a1" d="M200.1 259.3h1.91v8.3h-1.91z"/>
<path fill="#deaca9" d="M201.5 259.3h1.91v8.3h-1.91z"/>
<path fill="#dc938c" d="M202.9 259.3h1.91v8.3h-1.91z"/>
<path fill="#de9b93" d="M204.3 259.3h1.91v8.3h-1.91z"/>
<path fill="#e0a29b" d="M205.7 259.3h1.91v8.3h-1.91z"/>
<path fill="#d4cad5" d="M207.1 259.3h1.91v8.3h-1.91z"/>
<path fill="#deadab" d="M208.5 259.3h1.91v8.3h-1.91z"/>
<path fill="#dabbbf" d="M209.9 259.3h1.91v8.3h-1.91z"/>
<path fill="#dfa8a4" d="M211.3 259.3h1.91v8.3h-1.91z"/>
<path fill="#dfa59f" d="M212.7 259.3h1.91v8.3h-1.91z"/>
<path fill="#d4cad5" d="M214.1 259.3h1.91v8.3h-1.91z"/>
<path fill="#dd968f" d="M215.5 259.3h1.91v8.3h-1.91z"/>
<path fill="#ddafae" d="M216.9 259.3h1.91v8.3h-1.91z"/>
<path fill="#e0a29b" d="M218.3 259.3h1.91v8.3h-1.91z"/>
<path fill="#dfa8a4" d="M219.7 259.3h1.91v8.3h-1.91z"/>
<path fill="#deaaa6" d="M221.1 259.3h1.91v8.3h-1.91z"/>
<path fill="#deaba9" d="M222.5 259.3h1.91v8.3h-1.91z"/>
<path fill="#dfa49e" d="M223.9 259.3h1.91v8.3h-1.91z"/>
<path fill="#ddafad" d="M225.4 259.3h1.91v8.3h-1.91z"/>
<path fill="#dbb8bc" d="M226.8 259.3h1.91v8.3h-1.91z"/>
<path fill="#dea9a5" d="M228.2 259.3h1.91v8.3h-1.91z"/>
<path fill="#d88680" d="M229.6 259.3h1.91v8.3h-1.91z"/>
<path fill="#d98a83" d="M231.0 259.3h1.91v8.3h-1.91z"/>
<path fill="#d47c77" d="M232.4 259.3h1.91v8.3h-1.91z"/>
<path fill="#dd9890" d="M233.8 259.3h1.91v8.3h-1.91z"/>
<path fill="#dfa59f" d="M235.2 259.3h1.91v8.3h-1.91z"/>
<path fill="#d7867f" d="M236.6 259.3h1.41v8.3h-1.41z"/>
<path fill="#447ebc" d="M27.2 267.1h1.91v8.3h-1.91z"/>
<path fill="#4681bf" d="M28.6 267.1h1.91v8.3h-1.91z"/>
<path fill="#3f77b5" d="M30.0 267.1h1.91v8.3h-1.91z"/>
<path fill="#d1c9d7" d="M31.4 267.1h1.91v8.3h-1.91z"/>
<path fill="#c5c6d9" d="M32.8 267.1h1.91v8.3h-1.91z"/>
<path fill="#ccc8d8" d="M34.2 267.1h1.91v8.3h-1.91z"/>
<path fill="#b7c1dc" d="M35.6 267.1h1.91v8.3h-1.91z"/>
<path fill="#d6c5ce" d="M37.0 267.1h1.91v8.3h-1.91z"/>
<path fill="#dc938c" d="M38.4 267.1h1.91v8.3h-1.91z"/>
<path fill="#d4cad6" d="M39.8 267.1h1.91v8.3h-1.91z"/>
<path fill="#d6c6d0" d="M41.3 267.1h1.91v8.3h-1.91z"/>
<path fill="#dcb5b6" d="M42.7 267.1h1.91v8.3h-1.91z"/>
<path fill="#ddb2b2" d="M44.1 267.1h1.91v8.3h-1.91z"/>
<path fill="#b2bfdb" d="M45.5 267.1h1.91v8.3h-1.91z"/>
<path fill="#d6c6d0" d="M46.9 267.1h1.91v8.3h-1.91z"/>
<path fill="#dea9a5" d="M48.3 267.1h1.91v8.3h-1.91z"/>
<path fill="#d7c3cb" d="M49.7 267.1h1.91v8.3h-1.91z"/>
<path fill="#d8bfc6" d="M51.1 267.1h1.91v8.3h-1.91z"/>
<path fill="#deaaa7" d="M52.5 267.1h1.91v8.3h-1.91z"/>
<path fill="#c3c5da" d="M53.9 267.1h1.91v8.3h-1.91z"/>
<path fill="#d5c8d3" d="M55.3 267.1h1.91v8.3h-1.91z"/>
<path fill="#d4cad6" d="M56.7 267.1h1.91v8.3h-1.91z"/>
<path fill="#dfa5a0" d="M58.1 267.1h1.91v8.3h-1.91z"/>
<path fill="#aabada" d="M59.5 267.1h1.91v8.3h-1.91z"/>
<path fill="#d4cad6" d="M60.9 267.1h1.91v8.3h-1.91z"/>
<path fill="#d4c9d4" d="M62.3 267.1h1.91v8.3h-1.91z"/>
<path fill="#d9bdc3" d="M63.7 267.1h1.91v8.3h-1.91z"/>
<path fill="#ddb2b2" d="M65.1 267.1h1.91v8.3h-1.91z"/>
<path fill="#e09f97" d="M66.5 267.1h1.91v8.3h-1.91z"/>
<path fill="#b8c2dc" d="M68.0 267.1h1.91v8.3h-1.91z"/>
<path fill="#dcb5b6" d="M69.4 267.1h1.91v8.3h-1.91z"/>
<path fill="#d6c5ce" d="M70.8 267.1h1.91v8.3h-1.91z"/>
<path fill="#cbc7d8" d="M72.2 267.1h1.91v8.3h-1.91z"/>
<path fill="#dcb4b5" d="M73.6 267.1h1.91v8.3h-1.91z"/>
<path fill="#d5c8d4" d="M75.0 267.1h1.91v8.3h-1.91z"/>
<path fill="#9bb2d8" d="M76.4 267.1h1.91v8.3h-1.91z"/>
<path fill="#d7c3cc" d="M77.8 267.1h1.91v8.3h-1.91z"/>
<path fill="#c3c5da" d="M79.2 267.1h1.91v8.3h-1.91z"/>
<path fill="#d0c9d7" d="M80.6 267.1h1.91v8.3h-1.91z"/>
<path fill="#ddb3b4" d="M82.0 267.1h1.91v8.3h-1.91z"/>
<path fill="#ddb3b3" d="M83.4 267.1h1.91v8.3h-1.91z"/>
<path fill="#dc958e" d="M84.8 267.1h1.91v8.3h-1.91z"/>
<path fill="#d5c7d1" d="M86.2 267.1h1.91v8.3h-1.91z"/>
<path fill="#bac3db" d="M87.6 267.1h1.91v8.3h-1.91z"/>
<path fill="#d7c2c9" d="M89.0 267.1h1.91v8.3h-1.91z"/>
<path fill="#bfc4db" d="M90.4 267.1h1.91v8.3h-1.91z"/>
<path fill="#ccc8d8" d="M91.8 267.1h1.91v8.3h-1.91z"/>
<path fill="#ddb0af" d="M93.3 267.1h1.91v8.3h-1.91z"/>
<path fill="#d1c9d7" d="M94.7 267.1h1.91v8.3h-1.91z"/>
<path fill="#c0c4da" d="M96.1 267.1h1.91v8.3h-1.91z"/>
<path fill="#dfa7a1" d="M97.5 267.1h1.91v8.3h-1.91z"/>
<path fill="#d7c4cd" d="M98.9 267.1h1.91v8.3h-1.91z"/>
<path fill="#ddb1b1" d="M100.3 267.1h1.91v8.3h-1.91z"/>
<path fill="#ddb3b3" d="M101.7 267.1h1.91v8.3h-1.91z"/>
<path fill="#deadab" d="M103.1 267.1h1.91v8.3h-1.91z"/>
<path fill="#dcb3b4" d="M104.5 267.1h1.91v8.3h-1.91z"/>
<path fill="#e0a098" d="M105.9 267.1h1.91v8.3h-1.91z"/>
<path fill="#deaca9" d="M107.3 267.1h1.91v8.3h-1.91z"/>
<path fill="#dfa8a3" d="M108.7 267.1h1.91v8.3h-1.91z"/>
<path fill="#dcb4b5" d="M110.1 267.1h1.91v8.3h-1.91z"/>
<path fill="#c1c4da" d="M111.5 267.1h1.91v8.3h-1.91z"/>
<path fill="#d9bfc5" d="M112.9 267.1h1.91v8.3h-1.91z"/>
<path fill="#d9bdc2" d="M114.3 267.1h1.91v8.3h-1.91z"/>
<path fill="#dabbbf" d="M115.7 267.1h1.91v8.3h-1.91z"/>
<path fill="#bdc3db" d="M117.1 267.1h1.91v8.3h-1.91z"/>
<path fill="#db928b" d="M118.5 267.1h1.91v8.3h-1.91z"/>
<path fill="#ddb0af" d="M120.0 267.1h1.91v8.3h-1.91z"/>
<path fill="#d3cad6" d="M121.4 267.1h1.91v8.3h-1.91z"/>
<path fill="#a9bada" d="M122.8 267.1h1.91v8.3h-1.91z"/>
<path fill="#d7c3cb" d="M124.2 267.1h1.91v8.3h-1.91z"/>
<path fill="#dcb4b6" d="M125.6 267.1h1.91v8.3h-1.91z"/>
<path fill="#c5c6d9" d="M127.0 267.1h1.91v8.3h-1.91z"/>
<path fill="#dbb7ba" d="M128.4 267.1h1.91v8.3h-1.91z"/>
<path fill="#d6c6cf" d="M129.8 267.1h1.91v8.3h-1.91z"/>
<path fill="#dfa49e" d="M131.2 267.1h1.91v8.3h-1.91z"/>
<path fill="#d7c2ca" d="M132.6 267.1h1.91v8.3h-1.91z"/>
<path fill="#dbb9bc" d="M134.0 267.1h1.91v8.3h-1.91z"/>
<path fill="#dfa59f" d="M135.4 267.1h1.91v8.3h-1.91z"/>
<path fill="#d06f6a" d="M136.8 267.1h1.91v8.3h-1.91z"/>
<path fill="#d7c2ca" d="M138.2 267.1h1.91v8.3h-1.91z"/>
<path fill="#d7c3cb" d="M139.6 267.1h1.91v8.3h-1.91z"/>
<path fill="#d3cad6" d="M141.0 267.1h1.91v8.3h-1.91z"/>
<path fill="#dfa49d" d="M142.4 267.1h1.91v8.3h-1.91z"/>
<path fill="#ccc8d8" d="M143.8 267.1h1.91v8.3h-1.91z"/>
<path fill="#d8c1c9" d="M145.2 267.1h1.91v8.3h-1.91z"/>
<path fill="#d9bdc2" d="M146.7 267.1h1.91v8.3h-1.91z"/>
<path fill="#d3cad6" d="M148.1 267.1h1.91v8.3h-1.91z"/>
<path fill="#cfc9d7" d="M149.5 267.1h1.91v8.3h-1.91z"/>
<path fill="#dcb7ba" d="M150.9 267.1h1.91v8.3h-1.91z"/>
<path fill="#b5c0dc" d="M152.3 267.1h1.91v8.3h-1.91z"/>
<path fill="#c4c6d9" d="M153.7 267.1h1.91v8.3h-1.91z"/>
<path fill="#dbb9bc" d="M155.1 267.1h1.91v8.3h-1.91z"/>
<path fill="#ddb3b4" d="M156.5 267.1h1.91v8.3h-1.91z"/>
<path fill="#ddb1b1" d="M157.9 267.1h1.91v8.3h-1.91z"/>
<path fill="#bbc3db" d="M159.3 267.1h1.91v8.3h-1.91z"/>
<path fill="#dababe" d="M160.7 267.1h1.91v8.3h-1.91z"/>
<path fill="#deaca9" d="M162.1 267.1h1.91v8.3h-1.91z"/>
<path fill="#dfa7a2" d="M163.5 267.1h1.91v8.3h-1.91z"/>
<path fill="#d8c0c8" d="M164.9 267.1h1.91v8.3h-1.91z"/>
<path fill="#c4c5d9" d="M166.3 267.1h1.91v8.3h-1.91z"/>
<path fill="#dea9a5" d="M167.7 267.1h1.91v8.3h-1.91z"/>
<path fill="#d5c6d0" d="M169.1 267.1h1.91v8.3h-1.91z"/>
<path fill="#d1c9d7" d="M170.5 267.1h1.91v8.3h-1.91z"/>
<path fill="#dcb6b8" d="M171.9 267.1h1.91v8.3h-1.91z"/>
<path fill="#de9891" d="M173.4 267.1h1.91v8.3h-1.91z"/>
<path fill="#ddb3b3" d="M174.8 267.1h1.91v8.3h-1.91z"/>
<path fill="#dd9790" d="M176.2 267.1h1.91v8.3h-1.91z"/>
<path fill="#dababe" d="M177.6 267.1h1.91v8.3h-1.91z"/>
<path fill="#e0a29b" d="M179.0 267.1h1.91v8.3h-1.91z"/>
<path fill="#d7c2c9" d="M180.4 267.1h1.91v8.3h-1.91z"/>
<path fill="#ddb2b2" d="M181.8 267.1h1.91v8.3h-1.91z"/>
<path fill="#cd6560" d="M183.2 267.1h1.91v8.3h-1.91z"/>
<path fill="#deaaa6" d="M184.6 267.1h1.91v8.3h-1.91z"/>
<path fill="#d9bec4" d="M186.0 267.1h1.91v8.3h-1.91z"/>
<path fill="#dcb4b5" d="M187.4 267.1h1.91v8.3h-1.91z"/>
<path fill="#ddb3b3" d="M188.8 267.1h1.91v8.3h-1.91z"/>
<path fill="#dc948d" d="M190.2 267.1h1.91v8.3h-1.91z"/>
<path fill="#d7c3cc" d="M191.6 267.1h1.91v8.3h-1.91z"/>
<path fill="#c7c6d9" d="M193.0 267.1h1.91v8.3h-1.91z"/>
<path fill="#dcb7b9" d="M194.4 267.1h1.91v8.3h-1.91z"/>
<path fill="#ddb2b2" d="M195.8 267.1h1.91v8.3h-1.91z"/>
<path fill="#dcb4b5" d="M197.2 267.1h1.91v8.3h-1.91z"/>
<path fill="#dc948d" d="M198.7 267.1h1.91v8.3h-1.91z"/>
<path fill="#dbb8bb" d="M200.1 267.1h1.91v8.3h-1.91z"/>
<path fill="#dea9a5" d="M201.5 267.1h1.91v8.3h-1.91z"/>
<path fill="#d5c8d3" d="M202.9 267.1h1.91v8.3h-1.91z"/>
<path fill="#deaeac" d="M204.3 267.1h1.91v8.3h-1.91z"/>
<path fill="#d06e69" d="M205.7 267.1h1.91v8.3h-1.91z"/>
<path fill="#deadab" d="M207.1 267.1h1.91v8.3h-1.91z"/>
<path fill="#dea9a5" d="M208.5 267.1h1.91v8.3h-1.91z"/>
<path fill="#dcb4b5" d="M209.9 267.1h1.91v8.3h-1.91z"/>
<path fill="#d37973" d="M211.3 267.1h1.91v8.3h-1.91z"/>
<path fill="#d6c6cf" d="M212.7 267.1h1.91v8.3h-1.91z"/>
<path fill="#d9bec4" d="M214.1 267.1h1.91v8.3h-1.91z"/>
<path fill="#e0a19a" d="M215.5 267.1h1.91v8.3h-1.91z"/>
<path fill="#dd978f" d="M216.9 267.1h1.91v8.3h-1.91z"/>
<path fill="#dabbc0" d="M218.3 267.1h1.91v8.3h-1.91z"/>
<path fill="#deadab" d="M219.7 267.1h1.91v8.3h-1.91z"/>
<path fill="#dbb8bc" d="M221.1 267.1h1.91v8.3h-1.91z"/>
<path fill="#dcb5b6" d="M222.5 267.1h1.91v8.3h-1.91z"/>
<path fill="#deaeac" d="M223.9 267.1h1.91v8.3h-1.91z"/>
<path fill="#cec8d7" d="M225.4 267.1h1.91v8.3h-1.91z"/>
<path fill="#ddb2b2" d="M226.8 267.1h1.91v8.3h-1.91z"/>
<path fill="#dfa59f" d="M228.2 267.1h1.91v8.3h-1.91z"/>
<path fill="#d3cad6" d="M229.6 267.1h1.91v8.3h-1.91z"/>
<path fill="#d8bfc5" d="M231.0 267.1h1.91v8.3h-1.91z"/>
<path fill="#de9a93" d="M232.4 267.1h1.91v8.3h-1.91z"/>
<path fill="#d4cad6" d="M233.8 267.1h1.91v8.3h-1.91z"/>
<path fill="#dfa8a4" d="M235.2 267.1h1.91v8.3h-1.91z"/>
<path fill="#d5c8d4" d="M236.6 267.1h1.41v8.3h-1.41z"/>
<path fill="#9eb3d8" d="M27.2 274.8h1.91v8.3h-1.91z"/>
<path fill="#bec4db" d="M28.6 274.8h1.91v8.3h-1.91z"/>
<path fill="#b6c1dc" d="M30.0 274.8h1.91v8.3h-1.91z"/>
<path fill="#7da1d1" d="M31.4 274.8h1.91v8.3h-1.91z"/>
<path fill="#9eb3d8" d="M32.8 274.8h1.91v8.3h-1.91z"/>
<path fill="#8da9d6" d="M34.2 274.8h1.91v8.3h-1.91z"/>
<path fill="#9cb2d8" d="M35.6 274.8h1.91v8.3h-1.91z"/>
<path fill="#cbc7d8" d="M37.0 274.8h1.91v8.3h-1.91z"/>
<path fill="#799fd0" d="M38.4 274.8h1.91v8.3h-1.91z"/>
<path fill="#b3bfdb" d="M39.8 274.8h1.91v8.3h-1.91z"/>
<path fill="#aabada" d="M41.3 274.8h1.91v8.3h-1.91z"/>
<path fill="#cac7d8" d="M42.7 274.8h1.91v8.3h-1.91z"/>
<path fill="#b2bfdb" d="M44.1 274.8h1.91v8.3h-1.91z"/>
<path fill="#97afd7" d="M45.5 274.8h1.91v8.3h-1.91z"/>
<path fill="#b9c2dc" d="M46.9 274.8h1.91v8.3h-1.91z"/>
<path fill="#ccc8d8" d="M48.3 274.8h1.91v8.3h-1.91z"/>
<path fill="#acbbda" d="M49.7 274.8h1.91v8.3h-1.91z"/>
<path fill="#c2c5da" d="M51.1 274.8h1.91v8.3h-1.91z"/>
<path fill="#a0b4d9" d="M52.5 274.8h1.91v8.3h-1.91z"/>
<path fill="#84a5d3" d="M53.9 274.8h1.91v8.3h-1.91z"/>
<path fill="#c5c6d9" d="M55.3 274.8h1.91v8.3h-1.91z"/>
<path fill="#d3cad6" d="M56.7 274.8h1.91v8.3h-1.91z"/>
<path fill="#c2c5da" d="M58.1 274.8h1.91v8.3h-1.91z"/>
<path fill="#d0c9d7" d="M59.5 274.8h1.91v8.3h-1.91z"/>
<path fill="#d8c0c6" d="M60.9 274.8h1.91v8.3h-1.91z"/>
<path fill="#c3c5da" d="M62.3 274.8h1.91v8.3h-1.91z"/>
<path fill="#a6b8d9" d="M63.7 274.8h1.91v8.3h-1.91z"/>
<path fill="#c6c6d9" d="M65.1 274.8h1.91v8.3h-1.91z"/>
<path fill="#d9bdc3" d="M66.5 274.8h1.91v8.3h-1.91z"/>
<path fill="#b7c1dc" d="M68.0 274.8h1.91v8.3h-1.91z"/>
<path fill="#d6c6d0" d="M69.4 274.8h1.91v8.3h-1.91z"/>
<path fill="#c1c5da" d="M70.8 274.8h1.91v8.3h-1.91z"/>
<path fill="#b3bfdb" d="M72.2 274.8h1.91v8.3h-1.91z"/>
<path fill="#d8bfc5" d="M73.6 274.8h1.91v8.3h-1.91z"/>
<path fill="#d6c4cd" d="M75.0 274.8h1.91v8.3h-1.91z"/>
<path fill="#b3bfdb" d="M76.4 274.8h1.91v8.3h-1.91z"/>
<path fill="#cec8d7" d="M77.8 274.8h1.91v8.3h-1.91z"/>
<path fill="#dcb6b8" d="M79.2 274.8h1.91v8.3h-1.91z"/>
<path fill="#dabcc1" d="M80.6 274.8h1.91v8.3h-1.91z"/>
<path fill="#cec8d7" d="M82.0 274.8h1.91v8.3h-1.91z"/>
<path fill="#d8c1c8" d="M83.4 274.8h1.91v8.3h-1.91z"/>
<path fill="#d9bdc2" d="M84.8 274.8h1.91v8.3h-1.91z"/>
<path fill="#c1c5da" d="M86.2 274.8h1.91v8.3h-1.91z"/>
<path fill="#d8c0c8" d="M87.6 274.8h1.91v8.3h-1.91z"/>
<path fill="#d9bcc2" d="M89.0 274.8h1.91v8.3h-1.91z"/>
<path fill="#c2c5da" d="M90.4 274.8h1.91v8.3h-1.91z"/>
<path fill="#d6c5cf" d="M91.8 274.8h1.91v8.3h-1.91z"/>
<path fill="#d7c2ca" d="M93.3 274.8h1.91v8.3h-1.91z"/>
<path fill="#d5c7d2" d="M94.7 274.8h1.91v8.3h-1.91z"/>
<path fill="#d9bdc2" d="M96.1 274.8h1.91v8.3h-1.91z"/>
<path fill="#d7c3cc" d="M97.5 274.8h1.91v8.3h-1.91z"/>
<path fill="#dabbbf" d="M98.9 274.8h1.91v8.3h-1.91z"/>
<path fill="#d9bec4" d="M100.3 274.8h1.91v8.3h-1.91z"/>
<path fill="#ddb2b2" d="M101.7 274.8h1.91v8.3h-1.91z"/>
<path fill="#ddb2b3" d="M103.1 274.8h1.91v8.3h-1.91z"/>
<path fill="#dcb4b6" d="M104.5 274.8h1.91v8.3h-1.91z"/>
<path fill="#dfa59f" d="M105.9 274.8h1.91v8.3h-1.91z"/>
<path fill="#d5c7d2" d="M107.3 274.8h1.91v8.3h-1.91z"/>
<path fill="#deadab" d="M108.7 274.8h1.91v8.3h-1.91z"/>
<path fill="#d4c9d5" d="M110.1 274.8h1.91v8.3h-1.91z"/>
<path fill="#dfa8a3" d="M111.5 274.8h1.91v8.3h-1.91z"/>
<path fill="#deadab" d="M112.9 274.8h1.91v8.3h-1.91z"/>
<path fill="#bec4db" d="M114.3 274.8h1.91v8.3h-1.91z"/>
<path fill="#c5c6d9" d="M115.7 274.8h1.91v8.3h-1.91z"/>
<path fill="#dababe" d="M117.1 274.8h1.91v8.3h-1.91z"/>
<path fill="#dcb6b7" d="M118.5 274.8h1.91v8.3h-1.91z"/>
<path fill="#ddb0af" d="M120.0 274.8h1.91v8.3h-1.91z"/>
<path fill="#dbb8bb" d="M121.4 274.8h1.91v8.3h-1.91z"/>
<path fill="#d8c1c9" d="M122.8 274.8h1.91v8.3h-1.91z"/>
<path fill="#dabbbf" d="M124.2 274.8h1.91v8.3h-1.91z"/>
<path fill="#dabbbf" d="M125.6 274.8h1.91v8.3h-1.91z"/>
<path fill="#d9bdc3" d="M127.0 274.8h1.91v8.3h-1.91z"/>
<path fill="#b5c0dc" d="M128.4 274.8h1.91v8.3h-1.91z"/>
<path fill="#dcb5b7" d="M129.8 274.8h1.91v8.3h-1.91z"/>
<path fill="#d7c3cb" d="M131.2 274.8h1.91v8.3h-1.91z"/>
<path fill="#deadab" d="M132.6 274.8h1.91v8.3h-1.91z"/>
<path fill="#d7c2ca" d="M134.0 274.8h1.91v8.3h-1.91z"/>
<path fill="#d2c9d6" d="M135.4 274.8h1.91v8.3h-1.91z"/>
<path fill="#dbb9bd" d="M136.8 274.8h1.91v8.3h-1.91z"/>
<path fill="#d9bec4" d="M138.2 274.8h1.91v8.3h-1.91z"/>
<path fill="#d2c9d6" d="M139.6 274.8h1.91v8.3h-1.91z"/>
<path fill="#c7c6d9" d="M141.0 274.8h1.91v8.3h-1.91z"/>
<path fill="#dbbabd" d="M142.4 274.8h1.91v8.3h-1.91z"/>
<path fill="#dcb6b7" d="M143.8 274.8h1.91v8.3h-1.91z"/>
<path fill="#ddb0af" d="M145.2 274.8h1.91v8.3h-1.91z"/>
<path fill="#d6c5ce" d="M146.7 274.8h1.91v8.3h-1.91z"/>
<path fill="#ddaeac" d="M148.1 274.8h1.91v8.3h-1.91z"/>
<path fill="#d9bec3" d="M149.5 274.8h1.91v8.3h-1.91z"/>
<path fill="#dcb4b5" d="M150.9 274.8h1.91v8.3h-1.91z"/>
<path fill="#ddafae" d="M152.3 274.8h1.91v8.3h-1.91z"/>
<path fill="#deadab" d="M153.7 274.8h1.91v8.3h-1.91z"/>
<path fill="#dababe" d="M155.1 274.8h1.91v8.3h-1.91z"/>
<path fill="#d8bfc6" d="M156.5 274.8h1.91v8.3h-1.91z"/>
<path fill="#dcb5b6" d="M157.9 274.8h1.91v8.3h-1.91z"/>
<path fill="#dbb8bb" d="M159.3 274.8h1.91v8.3h-1.91z"/>
<path fill="#d7c2c9" d="M160.7 274.8h1.91v8.3h-1.91z"/>
<path fill="#dcb4b5" d="M162.1 274.8h1.91v8.3h-1.91z"/>
<path fill="#dabcc1" d="M163.5 274.8h1.91v8.3h-1.91z"/>
<path fill="#d9bec4" d="M164.9 274.8h1.91v8.3h-1.91z"/>
<path fill="#c9c7d8" d="M166.3 274.8h1.91v8.3h-1.91z"/>
<path fill="#dcb5b7" d="M167.7 274.8h1.91v8.3h-1.91z"/>
<path fill="#dbb9bc" d="M169.1 274.8h1.91v8.3h-1.91z"/>
<path fill="#d9bcc2" d="M170.5 274.8h1.91v8.3h-1.91z"/>
<path fill="#d88781" d="M171.9 274.8h1.91v8.3h-1.91z"/>
<path fill="#dbb8bb" d="M173.4 274.8h1.91v8.3h-1.91z"/>
<path fill="#dfa6a0" d="M174.8 274.8h1.91v8.3h-1.91z"/>
<path fill="#deaaa7" d="M176.2 274.8h1.91v8.3h-1.91z"/>
<path fill="#d9bcc2" d="M177.6 274.8h1.91v8.3h-1.91z"/>
<path fill="#d9bdc2" d="M179.0 274.8h1.91v8.3h-1.91z"/>
<path fill="#ddb2b3" d="M180.4 274.8h1.91v8.3h-1.91z"/>
<path fill="#ddb1b1" d="M181.8 274.8h1.91v8.3h-1.91z"/>
<path fill="#ddb2b2" d="M183.2 274.8h1.91v8.3h-1.91z"/>
<path fill="#d8c1c8" d="M184.6 274.8h1.91v8.3h-1.91z"/>
<path fill="#cdc8d7" d="M186.0 274.8h1.91v8.3h-1.91z"/>
<path fill="#dbb8bb" d="M187.4 274.8h1.91v8.3h-1.91z"/>
<path fill="#bdc3db" d="M188.8 274.8h1.91v8.3h-1.91z"/>
<path fill="#ddafae" d="M190.2 274.8h1.91v8.3h-1.91z"/>
<path fill="#d6c4cd" d="M191.6 274.8h1.91v8.3h-1.91z"/>
<path fill="#dbb7ba" d="M193.0 274.8h1.91v8.3h-1.91z"/>
<path fill="#dcb6b8" d="M194.4 274.8h1.91v8.3h-1.91z"/>
<path fill="#ddb0b0" d="M195.8 274.8h1.91v8.3h-1.91z"/>
<path fill="#d2c9d6" d="M197.2 274.8h1.91v8.3h-1.91z"/>
<path fill="#d1c9d7" d="M198.7 274.8h1.91v8.3h-1.91z"/>
<path fill="#ccc8d8" d="M200.1 274.8h1.91v8.3h-1.91z"/>
<path fill="#c2c5da" d="M201.5 274.8h1.91v8.3h-1.91z"/>
<path fill="#d9bdc3" d="M202.9 274.8h1.91v8.3h-1.91z"/>
<path fill="#deadab" d="M204.3 274.8h1.91v8.3h-1.91z"/>
<path fill="#dabbbf" d="M205.7 274.8h1.91v8.3h-1.91z"/>
<path fill="#dcb5b7" d="M207.1 274.8h1.91v8.3h-1.91z"/>
<path fill="#d8bfc6" d="M208.5 274.8h1.91v8.3h-1.91z"/>
<path fill="#dcb4b5" d="M209.9 274.8h1.91v8.3h-1.91z"/>
<path fill="#ddb1b1" d="M211.3 274.8h1.91v8.3h-1.91z"/>
<path fill="#ddb2b2" d="M212.7 274.8h1.91v8.3h-1.91z"/>
<path fill="#dcb4b5" d="M214.1 274.8h1.91v8.3h-1.91z"/>
<path fill="#da8d86" d="M215.5 274.8h1.91v8.3h-1.91z"/>
<path fill="#dfa7a2" d="M216.9 274.8h1.91v8.3h-1.91z"/>
<path fill="#ddb0af" d="M218.3 274.8h1.91v8.3h-1.91z"/>
<path fill="#d8bfc6" d="M219.7 274.8h1.91v8.3h-1.91z"/>
<path fill="#deaba8" d="M221.1 274.8h1.91v8.3h-1.91z"/>
<path fill="#dbbabe" d="M222.5 274.8h1.91v8.3h-1.91z"/>
<path fill="#e0a098" d="M223.9 274.8h1.91v8.3h-1.91z"/>
<path fill="#dcb4b5" d="M225.4 274.8h1.91v8.3h-1.91z"/>
<path fill="#de9891" d="M226.8 274.8h1.91v8.3h-1.91z"/>
<path fill="#ccc8d8" d="M228.2 274.8h1.91v8.3h-1.91z"/>
<path fill="#dcb7b9" d="M229.6 274.8h1.91v8.3h-1.91z"/>
<path fill="#deadaa" d="M231.0 274.8h1.91v8.3h-1.91z"/>
<path fill="#deaca9" d="M232.4 274.8h1.91v8.3h-1.91z"/>
<path fill="#dababe" d="M233.8 274.8h1.91v8.3h-1.91z"/>
<path fill="#deacaa" d="M235.2 274.8h1.91v8.3h-1.91z"/>
<path fill="#d8c0c7" d="M236.6 274.8h1.41v8.3h-1.41z"/>
<path fill="#356aa8" d="M27.2 282.6h1.91v8.3h-1.91z"/>
<path fill="#6092ca" d="M28.6 282.6h1.91v8.3h-1.91z"/>
<path fill="#427bb9" d="M30.0 282.6h1.91v8.3h-1.91z"/>
<path fill="#427bba" d="M31.4 282.6h1.91v8.3h-1.91z"/>
<path fill="#4984c2" d="M32.8 282.6h1.91v8.3h-1.91z"/>
<path fill="#4f89c5" d="M34.2 282.6h1.91v8.3h-1.91z"/>
<path fill="#86a6d4" d="M35.6 282.6h1.91v8.3h-1.91z"/>
<path fill="#6996cc" d="M37.0 282.6h1.91v8.3h-1.91z"/>
<path fill="#568cc7" d="M38.4 282.6h1.91v8.3h-1.91z"/>
<path fill="#81a3d3" d="M39.8 282.6h1.91v8.3h-1.91z"/>
<path fill="#92acd7" d="M41.3 282.6h1.91v8.3h-1.91z"/>
<path fill="#729bce" d="M42.7 282.6h1.91v8.3h-1.91z"/>
<path fill="#799fd0" d="M44.1 282.6h1.91v8.3h-1.91z"/>
<path fill="#6192ca" d="M45.5 282.6h1.91v8.3h-1.91z"/>
<path fill="#87a7d4" d="M46.9 282.6h1.91v8.3h-1.91z"/>
<path fill="#6a97cd" d="M48.3 282.6h1.91v8.3h-1.91z"/>
<path fill="#9eb3d8" d="M49.7 282.6h1.91v8.3h-1.91z"/>
<path fill="#8ba8d5" d="M51.1 282.6h1.91v8.3h-1.91z"/>
<path fill="#96afd7" d="M52.5 282.6h1.91v8.3h-1.91z"/>
<path fill="#bdc4db" d="M53.9 282.6h1.91v8.3h-1.91z"/>
<path fill="#abbada" d="M55.3 282.6h1.91v8.3h-1.91z"/>
<path fill="#8aa8d5" d="M56.7 282.6h1.91v8.3h-1.91z"/>
<path fill="#afbddb" d="M58.1 282.6h1.91v8.3h-1.91z"/>
<path fill="#c5c6d9" d="M59.5 282.6h1.91v8.3h-1.91z"/>
<path fill="#9db2d8" d="M60.9 282.6h1.91v8.3h-1.91z"/>
<path fill="#95aed7" d="M62.3 282.6h1.91v8.3h-1.91z"/>
<path fill="#8faad6" d="M63.7 282.6h1.91v8.3h-1.91z"/>
<path fill="#82a4d3" d="M65.1 282.6h1.91v8.3h-1.91z"/>
<path fill="#ccc8d8" d="M66.5 282.6h1.91v8.3h-1.91z"/>
<path fill="#789ed0" d="M68.0 282.6h1.91v8.3h-1.91z"/>
<path fill="#86a6d4" d="M69.4 282.6h1.91v8.3h-1.91z"/>
<path fill="#a7b8da" d="M70.8 282.6h1.91v8.3h-1.91z"/>
<path fill="#a3b6d9" d="M72.2 282.6h1.91v8.3h-1.91z"/>
<path fill="#afbddb" d="M73.6 282.6h1.91v8.3h-1.91z"/>
<path fill="#c5c6d9" d="M75.0 282.6h1.91v8.3h-1.91z"/>
<path fill="#a8b9da" d="M76.4 282.6h1.91v8.3h-1.91z"/>
<path fill="#cdc8d8" d="M77.8 282.6h1.91v8.3h-1.91z"/>
<path fill="#92acd7" d="M79.2 282.6h1.91v8.3h-1.91z"/>
<path fill="#b2bfdb" d="M80.6 282.6h1.91v8.3h-1.91z"/>
<path fill="#a8b9da" d="M82.0 282.6h1.91v8.3h-1.91z"/>
<path fill="#bec4db" d="M83.4 282.6h1.91v8.3h-1.91z"/>
<path fill="#c0c4da" d="M84.8 282.6h1.91v8.3h-1.91z"/>
<path fill="#9ab1d8" d="M86.2 282.6h1.91v8.3h-1.91z"/>
<path fill="#b0bddb" d="M87.6 282.6h1.91v8.3h-1.91z"/>
<path fill="#d6c6d0" d="M89.0 282.6h1.91v8.3h-1.91z"/>
<path fill="#b6c1dc" d="M90.4 282.6h1.91v8.3h-1.91z"/>
<path fill="#bac3dc" d="M91.8 282.6h1.91v8.3h-1.91z"/>
<path fill="#dabcc0" d="M93.3 282.6h1.91v8.3h-1.91z"/>
<path fill="#d9bdc2" d="M94.7 282.6h1.91v8.3h-1.91z"/>
<path fill="#b9c2dc" d="M96.1 282.6h1.91v8.3h-1.91z"/>
<path fill="#cfc9d7" d="M97.5 282.6h1.91v8.3h-1.91z"/>
<path fill="#dabcc1" d="M98.9 282.6h1.91v8.3h-1.91z"/>
<path fill="#d4cad6" d="M100.3 282.6h1.91v8.3h-1.91z"/>
<path fill="#cec8d7" d="M101.7 282.6h1.91v8.3h-1.91z"/>
<path fill="#c0c4da" d="M103.1 282.6h1.91v8.3h-1.91z"/>
<path fill="#c2c5da" d="M104.5 282.6h1.91v8.3h-1.91z"/>
<path fill="#c2c5da" d="M105.9 282.6h1.91v8.3h-1.91z"/>
<path fill="#c3c5da" d="M107.3 282.6h1.91v8.3h-1.91z"/>
<path fill="#d9bec5" d="M108.7 282.6h1.91v8.3h-1.91z"/>
<path fill="#bbc3db" d="M110.1 282.6h1.91v8.3h-1.91z"/>
<path fill="#c3c5da" d="M111.5 282.6h1.91v8.3h-1.91z"/>
<path fill="#adbcda" d="M112.9 282.6h1.91v8.3h-1.91z"/>
<path fill="#cbc8d8" d="M114.3 282.6h1.91v8.3h-1.91z"/>
<path fill="#aebcdb" d="M115.7 282.6h1.91v8.3h-1.91z"/>
<path fill="#c3c5da" d="M117.1 282.6h1.91v8.3h-1.91z"/>
<path fill="#d7c2ca" d="M118.5 282.6h1.91v8.3h-1.91z"/>
<path fill="#d7c3cc" d="M120.0 282.6h1.91v8.3h-1.91z"/>
<path fill="#d8bfc6" d="M121.4 282.6h1.91v8.3h-1.91z"/>
<path fill="#c9c7d8" d="M122.8 282.6h1.91v8.3h-1.91z"/>
<path fill="#cac7d8" d="M124.2 282.6h1.91v8.3h-1.91z"/>
<path fill="#d4cad5" d="M125.6 282.6h1.91v8.3h-1.91z"/>
<path fill="#b8c2dc" d="M127.0 282.6h1.91v8.3h-1.91z"/>
<path fill="#d6c4cd" d="M128.4 282.6h1.91v8.3h-1.91z"/>
<path fill="#bdc3db" d="M129.8 282.6h1.91v8.3h-1.91z"/>
<path fill="#ddb0b0" d="M131.2 282.6h1.91v8.3h-1.91z"/>
<path fill="#d6c5ce" d="M132.6 282.6h1.91v8.3h-1.91z"/>
<path fill="#c4c5da" d="M134.0 282.6h1.91v8.3h-1.91z"/>
<path fill="#c9c7d8" d="M135.4 282.6h1.91v8.3h-1.91z"/>
<path fill="#c7c6d9" d="M136.8 282.6h1.91v8.3h-1.91z"/>
<path fill="#dabbc0" d="M138.2 282.6h1.91v8.3h-1.91z"/>
<path fill="#c6c6d9" d="M139.6 282.6h1.91v8.3h-1.91z"/>
<path fill="#dbb9bd" d="M141.0 282.6h1.91v8.3h-1.91z"/>
<path fill="#cec8d7" d="M142.4 282.6h1.91v8.3h-1.91z"/>
<path fill="#acbbda" d="M143.8 282.6h1.91v8.3h-1.91z"/>
<path fill="#cbc7d8" d="M145.2 282.6h1.91v8.3h-1.91z"/>
<path fill="#a8b9da" d="M146.7 282.6h1.91v8.3h-1.91z"/>
<path fill="#d6c5ce" d="M148.1 282.6h1.91v8.3h-1.91z"/>
<path fill="#dbb8bb" d="M149.5 282.6h1.91v8.3h-1.91z"/>
<path fill="#ddb3b3" d="M150.9 282.6h1.91v8.3h-1.91z"/>
<path fill="#cbc7d8" d="M152.3 282.6h1.91v8.3h-1.91z"/>
<path fill="#d0c9d7" d="M153.7 282.6h1.91v8.3h-1.91z"/>
<path fill="#dfa7a2" d="M155.1 282.6h1.91v8.3h-1.91z"/>
<path fill="#d8bfc6" d="M156.5 282.6h1.91v8.3h-1.91z"/>
<path fill="#dbb9bd" d="M157.9 282.6h1.91v8.3h-1.91z"/>
<path fill="#ddb2b3" d="M159.3 282.6h1.91v8.3h-1.91z"/>
<path fill="#df9c95" d="M160.7 282.6h1.91v8.3h-1.91z"/>
<path fill="#dcb6b8" d="M162.1 282.6h1.91v8.3h-1.91z"/>
<path fill="#dababe" d="M163.5 282.6h1.91v8.3h-1.91z"/>
<path fill="#d6c5ce" d="M164.9 282.6h1.91v8.3h-1.91z"/>
<path fill="#d7c3cb" d="M166.3 282.6h1.91v8.3h-1.91z"/>
<path fill="#d5c7d2" d="M167.7 282.6h1.91v8.3h-1.91z"/>
<path fill="#cac7d8" d="M169.1 282.6h1.91v8.3h-1.91z"/>
<path fill="#dababe" d="M170.5 282.6h1.91v8.3h-1.91z"/>
<path fill="#dbb9bc" d="M171.9 282.6h1.91v8.3h-1.91z"/>
<path fill="#d8c1c9" d="M173.4 282.6h1.91v8.3h-1.91z"/>
<path fill="#d9bdc3" d="M174.8 282.6h1.91v8.3h-1.91z"/>
<path fill="#de9992" d="M176.2 282.6h1.91v8.3h-1.91z"/>
<path fill="#d7c1c9" d="M177.6 282.6h1.91v8.3h-1.91z"/>
<path fill="#dabbc0" d="M179.0 282.6h1.91v8.3h-1.91z"/>
<path fill="#dabcc0" d="M180.4 282.6h1.91v8.3h-1.91z"/>
<path fill="#ddaeac" d="M181.8 282.6h1.91v8.3h-1.91z"/>
<path fill="#dfa7a3" d="M183.2 282.6h1.91v8.3h-1.91z"/>
<path fill="#d6c4cd" d="M184.6 282.6h1.91v8.3h-1.91z"/>
<path fill="#d7c2c9" d="M186.0 282.6h1.91v8.3h-1.91z"/>
<path fill="#d2c9d6" d="M187.4 282.6h1.91v8.3h-1.91z"/>
<path fill="#d5c9d4" d="M188.8 282.6h1.91v8.3h-1.91z"/>
<path fill="#deadaa" d="M190.2 282.6h1.91v8.3h-1.91z"/>
<path fill="#dbb9bc" d="M191.6 282.6h1.91v8.3h-1.91z"/>
<path fill="#dababe" d="M193.0 282.6h1.91v8.3h-1.91z"/>
<path fill="#dcb6b8" d="M194.4 282.6h1.91v8.3h-1.91z"/>
<path fill="#ddb2b2" d="M195.8 282.6h1.91v8.3h-1.91z"/>
<path fill="#ddb0af" d="M197.2 282.6h1.91v8.3h-1.91z"/>
<path fill="#dbbabe" d="M198.7 282.6h1.91v8.3h-1.91z"/>
<path fill="#d7c1c9" d="M200.1 282.6h1.91v8.3h-1.91z"/>
<path fill="#cbc7d8" d="M201.5 282.6h1.91v8.3h-1.91z"/>
<path fill="#d9bcc2" d="M202.9 282.6h1.91v8.3h-1.91z"/>
<path fill="#dea9a5" d="M204.3 282.6h1.91v8.3h-1.91z"/>
<path fill="#d5c6d0" d="M205.7 282.6h1.91v8.3h-1.91z"/>
<path fill="#d9bec4" d="M207.1 282.6h1.91v8.3h-1.91z"/>
<path fill="#dfa7a3" d="M208.5 282.6h1.91v8.3h-1.91z"/>
<path fill="#dbb7ba" d="M209.9 282.6h1.91v8.3h-1.91z"/>
<path fill="#ddb2b3" d="M211.3 282.6h1.91v8.3h-1.91z"/>
<path fill="#deadab" d="M212.7 282.6h1.91v8.3h-1.91z"/>
<path fill="#dcb5b7" d="M214.1 282.6h1.91v8.3h-1.91z"/>
<path fill="#dfa6a0" d="M215.5 282.6h1.91v8.3h-1.91z"/>
<path fill="#dbbabd" d="M216.9 282.6h1.91v8.3h-1.91z"/>
<path fill="#deadab" d="M218.3 282.6h1.91v8.3h-1.91z"/>
<path fill="#dcb6b8" d="M219.7 282.6h1.91v8.3h-1.91z"/>
<path fill="#ddb1b1" d="M221.1 282.6h1.91v8.3h-1.91z"/>
<path fill="#deadaa" d="M222.5 282.6h1.91v8.3h-1.91z"/>
<path fill="#dd9790" d="M223.9 282.6h1.91v8.3h-1.91z"/>
<path fill="#e0a19a" d="M225.4 282.6h1.91v8.3h-1.91z"/>
<path fill="#ddaead" d="M226.8 282.6h1.91v8.3h-1.91z"/>
<path fill="#e0a29a" d="M228.2 282.6h1.91v8.3h-1.91z"/>
<path fill="#de9b93" d="M229.6 282.6h1.91v8.3h-1.91z"/>
<path fill="#e0a199" d="M231.0 282.6h1.91v8.3h-1.91z"/>
<path fill="#d6817b" d="M232.4 282.6h1.91v8.3h-1.91z"/>
<path fill="#dea8a4" d="M233.8 282.6h1.91v8.3h-1.91z"/>
<path fill="#e0a29b" d="M235.2 282.6h1.91v8.3h-1.91z"/>
<path fill="#dd9790" d="M236.6 282.6h1.41v8.3h-1.41z"/>
<path fill="#90abd6" d="M27.2 290.4h1.91v8.3h-1.91z"/>
<path fill="#b8c2dc" d="M28.6 290.4h1.91v8.3h-1.91z"/>
<path fill="#a3b6d9" d="M30.0 290.4h1.91v8.3h-1.91z"/>
<path fill="#a2b5d9" d="M31.4 290.4h1.91v8.3h-1.91z"/>
<path fill="#89a7d5" d="M32.8 290.4h1.91v8.3h-1.91z"/>
<path fill="#99b0d8" d="M34.2 290.4h1.91v8.3h-1.91z"/>
<path fill="#bac3dc" d="M35.6 290.4h1.91v8.3h-1.91z"/>
<path fill="#d5c6d0" d="M37.0 290.4h1.91v8.3h-1.91z"/>
<path fill="#cbc7d8" d="M38.4 290.4h1.91v8.3h-1.91z"/>
<path fill="#b7c1dc" d="M39.8 290.4h1.91v8.3h-1.91z"/>
<path fill="#c1c5da" d="M41.3 290.4h1.91v8.3h-1.91z"/>
<path fill="#b5c0dc" d="M42.7 290.4h1.91v8.3h-1.91z"/>
<path fill="#ccc8d8" d="M44.1 290.4h1.91v8.3h-1.91z"/>
<path fill="#b7c2dc" d="M45.5 290.4h1.91v8.3h-1.91z"/>
<path fill="#d2c9d6" d="M46.9 290.4h1.91v8.3h-1.91z"/>
<path fill="#dcb6b8" d="M48.3 290.4h1.91v8.3h-1.91z"/>
<path fill="#bcc3db" d="M49.7 290.4h1.91v8.3h-1.91z"/>
<path fill="#a8b9da" d="M51.1 290.4h1.91v8.3h-1.91z"/>
<path fill="#a8b9da" d="M52.5 290.4h1.91v8.3h-1.91z"/>
<path fill="#a3b6d9" d="M53.9 290.4h1.91v8.3h-1.91z"/>
<path fill="#a5b7d9" d="M55.3 290.4h1.91v8.3h-1.91z"/>
<path fill="#dabbc0" d="M56.7 290.4h1.91v8.3h-1.91z"/>
<path fill="#ccc8d8" d="M58.1 290.4h1.91v8.3h-1.91z"/>
<path fill="#bac3dc" d="M59.5 290.4h1.91v8.3h-1.91z"/>
<path fill="#d8bfc6" d="M60.9 290.4h1.91v8.3h-1.91z"/>
<path fill="#dbb8bc" d="M62.3 290.4h1.91v8.3h-1.91z"/>
<path fill="#b8c2dc" d="M63.7 290.4h1.91v8.3h-1.91z"/>
<path fill="#c6c6d9" d="M65.1 290.4h1.91v8.3h-1.91z"/>
<path fill="#d2c9d7" d="M66.5 290.4h1.91v8.3h-1.91z"/>
<path fill="#d7c1c9" d="M68.0 290.4h1.91v8.3h-1.91z"/>
<path fill="#d5c7d2" d="M69.4 290.4h1.91v8.3h-1.91z"/>
<path fill="#dbb8bb" d="M70.8 290.4h1.91v8.3h-1.91z"/>
<path fill="#dabbbf" d="M72.2 290.4h1.91v8.3h-1.91z"/>
<path fill="#dbb9bd" d="M73.6 290.4h1.91v8.3h-1.91z"/>
<path fill="#deaba8" d="M75.0 290.4h1.91v8.3h-1.91z"/>
<path fill="#d8bfc6" d="M76.4 290.4h1.91v8.3h-1.91z"/>
<path fill="#c1c5da" d="M77.8 290.4h1.91v8.3h-1.91z"/>
<path fill="#d9bdc3" d="M79.2 290.4h1.91v8.3h-1.91z"/>
<path fill="#d8c1c8" d="M80.6 290.4h1.91v8.3h-1.91z"/>
<path fill="#d5c6d1" d="M82.0 290.4h1.91v8.3h-1.91z"/>
<path fill="#ddb3b4" d="M83.4 290.4h1.91v8.3h-1.91z"/>
<path fill="#d6c4cd" d="M84.8 290.4h1.91v8.3h-1.91z"/>
<path fill="#c6c6d9" d="M86.2 290.4h1.91v8.3h-1.91z"/>
<path fill="#deaca9" d="M87.6 290.4h1.91v8.3h-1.91z"/>
<path fill="#deadaa" d="M89.0 290.4h1.91v8.3h-1.91z"/>
<path fill="#d6c5ce" d="M90.4 290.4h1.91v8.3h-1.91z"/>
<path fill="#deaca9" d="M91.8 290.4h1.91v8.3h-1.91z"/>
<path fill="#ddaeac" d="M93.3 290.4h1.91v8.3h-1.91z"/>
<path fill="#dabbbf" d="M94.7 290.4h1.91v8.3h-1.91z"/>
<path fill="#cdc8d7" d="M96.1 290.4h1.91v8.3h-1.91z"/>
<path fill="#d9bec4" d="M97.5 290.4h1.91v8.3h-1.91z"/>
<path fill="#d5c8d3" d="M98.9 290.4h1.91v8.3h-1.91z"/>
<path fill="#d6c6d0" d="M100.3 290.4h1.91v8.3h-1.91z"/>
<path fill="#ddb3b3" d="M101.7 290.4h1.91v8.3h-1.91z"/>
<path fill="#deaba8" d="M103.1 290.4h1.91v8.3h-1.91z"/>
<path fill="#dababe" d="M104.5 290.4h1.91v8.3h-1.91z"/>
<path fill="#d5c8d3" d="M105.9 290.4h1.91v8.3h-1.91z"/>
<path fill="#de9991" d="M107.3 290.4h1.91v8.3h-1.91z"/>
<path fill="#dcb4b6" d="M108.7 290.4h1.91v8.3h-1.91z"/>
<path fill="#d0c9d7" d="M110.1 290.4h1.91v8.3h-1.91z"/>
<path fill="#ddb3b4" d="M111.5 290.4h1.91v8.3h-1.91z"/>
<path fill="#dcb5b6" d="M112.9 290.4h1.91v8.3h-1.91z"/>
<path fill="#d8c0c7" d="M114.3 290.4h1.91v8.3h-1.91z"/>
<path fill="#dcb4b6" d="M115.7 290.4h1.91v8.3h-1.91z"/>
<path fill="#d8c1c9" d="M117.1 290.4h1.91v8.3h-1.91z"/>
<path fill="#d6c4ce" d="M118.5 290.4h1.91v8.3h-1.91z"/>
<path fill="#ddafae" d="M120.0 290.4h1.91v8.3h-1.91z"/>
<path fill="#dfa6a1" d="M121.4 290.4h1.91v8.3h-1.91z"/>
<path fill="#d5c8d2" d="M122.8 290.4h1.91v8.3h-1.91z"/>
<path fill="#dcb7b9" d="M124.2 290.4h1.91v8.3h-1.91z"/>
<path fill="#ddb3b3" d="M125.6 290.4h1.91v8.3h-1.91z"/>
<path fill="#e0a098" d="M127.0 290.4h1.91v8.3h-1.91z"/>
<path fill="#d7c2ca" d="M128.4 290.4h1.91v8.3h-1.91z"/>
<path fill="#dfa5a0" d="M129.8 290.4h1.91v8.3h-1.91z"/>
<path fill="#ddaead" d="M131.2 290.4h1.91v8.3h-1.91z"/>
<path fill="#ddb2b2" d="M132.6 290.4h1.91v8.3h-1.91z"/>
<path fill="#ddaeac" d="M134.0 290.4h1.91v8.3h-1.91z"/>
<path fill="#deacaa" d="M135.4 290.4h1.91v8.3h-1.91z"/>
<path fill="#dfa7a2" d="M136.8 290.4h1.91v8.3h-1.91z"/>
<path fill="#dfa7a3" d="M138.2 290.4h1.91v8.3h-1.91z"/>
<path fill="#d9bfc5" d="M139.6 290.4h1.91v8.3h-1.91z"/>
<path fill="#d9bdc2" d="M141.0 290.4h1.91v8.3h-1.91z"/>
<path fill="#deaba9" d="M142.4 290.4h1.91v8.3h-1.91z"/>
<path fill="#deadab" d="M143.8 290.4h1.91v8.3h-1.91z"/>
<path fill="#dfa49e" d="M145.2 290.4h1.91v8.3h-1.91z"/>
<path fill="#dcb5b6" d="M146.7 290.4h1.91v8.3h-1.91z"/>
<path fill="#dfa7a1" d="M148.1 290.4h1.91v8.3h-1.91z"/>
<path fill="#dfa49d" d="M149.5 290.4h1.91v8.3h-1.91z"/>
<path fill="#deaaa6" d="M150.9 290.4h1.91v8.3h-1.91z"/>
<path fill="#d7c2ca" d="M152.3 290.4h1.91v8.3h-1.91z"/>
<path fill="#d7c2ca" d="M153.7 290.4h1.91v8.3h-1.91z"/>
<path fill="#d8c1c8" d="M155.1 290.4h1.91v8.3h-1.91z"/>
<path fill="#e0a19a" d="M156.5 290.4h1.91v8.3h-1.91z"/>
<path fill="#dcb6b7" d="M157.9 290.4h1.91v8.3h-1.91z"/>
<path fill="#dfa39d" d="M159.3 290.4h1.91v8.3h-1.91z"/>
<path fill="#dfa7a2" d="M160.7 290.4h1.91v8.3h-1.91z"/>
<path fill="#dfa59f" d="M162.1 290.4h1.91v8.3h-1.91z"/>
<path fill="#dfa39d" d="M163.5 290.4h1.91v8.3h-1.91z"/>
<path fill="#d9bdc2" d="M164.9 290.4h1.91v8.3h-1.91z"/>
<path fill="#d8c0c7" d="M166.3 290.4h1.91v8.3h-1.91z"/>
<path fill="#ddb1b1" d="M167.7 290.4h1.91v8.3h-1.91z"/>
<path fill="#ddb3b4" d="M169.1 290.4h1.91v8.3h-1.91z"/>
<path fill="#dcb5b6" d="M170.5 290.4h1.91v8.3h-1.91z"/>
<path fill="#e0a39c" d="M171.9 290.4h1.91v8.3h-1.91z"/>
<path fill="#e0a19a" d="M173.4 290.4h1.91v8.3h-1.91z"/>
<path fill="#d4c9d5" d="M174.8 290.4h1.91v8.3h-1.91z"/>
<path fill="#deaaa7" d="M176.2 290.4h1.91v8.3h-1.91z"/>
<path fill="#dcb6b8" d="M177.6 290.4h1.91v8.3h-1.91z"/>
<path fill="#deadab" d="M179.0 290.4h1.91v8.3h-1.91z"/>
<path fill="#dfa59f" d="M180.4 290.4h1.91v8.3h-1.91z"/>
<path fill="#deaaa6" d="M181.8 290.4h1.91v8.3h-1.91z"/>
<path fill="#e0a199" d="M183.2 290.4h1.91v8.3h-1.91z"/>
<path fill="#d5c8d3" d="M184.6 290.4h1.91v8.3h-1.91z"/>
<path fill="#e0a098" d="M186.0 290.4h1.91v8.3h-1.91z"/>
<path fill="#ddb3b4" d="M187.4 290.4h1.91v8.3h-1.91z"/>
<path fill="#deaba8" d="M188.8 290.4h1.91v8.3h-1.91z"/>
<path fill="#dfa8a4" d="M190.2 290.4h1.91v8.3h-1.91z"/>
<path fill="#c7c6d9" d="M191.6 290.4h1.91v8.3h-1.91z"/>
<path fill="#ddaead" d="M193.0 290.4h1.91v8.3h-1.91z"/>
<path fill="#dfa7a2" d="M194.4 290.4h1.91v8.3h-1.91z"/>
<path fill="#db918a" d="M195.8 290.4h1.91v8.3h-1.91z"/>
<path fill="#deaaa7" d="M197.2 290.4h1.91v8.3h-1.91z"/>
<path fill="#dfa8a3" d="M198.7 290.4h1.91v8.3h-1.91z"/>
<path fill="#d4c9d4" d="M200.1 290.4h1.91v8.3h-1.91z"/>
<path fill="#e09f97" d="M201.5 290.4h1.91v8.3h-1.91z"/>
<path fill="#d88680" d="M202.9 290.4h1.91v8.3h-1.91z"/>
<path fill="#dcb5b7" d="M204.3 290.4h1.91v8.3h-1.91z"/>
<path fill="#dfa6a1" d="M205.7 290.4h1.91v8.3h-1.91z"/>
<path fill="#d5c8d3" d="M207.1 290.4h1.91v8.3h-1.91z"/>
<path fill="#dc948d" d="M208.5 290.4h1.91v8.3h-1.91z"/>
<path fill="#d57e78" d="M209.9 290.4h1.91v8.3h-1.91z"/>
<path fill="#dd968f" d="M211.3 290.4h1.91v8.3h-1.91z"/>
<path fill="#db918a" d="M212.7 290.4h1.91v8.3h-1.91z"/>
<path fill="#deaaa6" d="M214.1 290.4h1.91v8.3h-1.91z"/>
<path fill="#deaba8" d="M215.5 290.4h1.91v8.3h-1.91z"/>
<path fill="#d6807a" d="M216.9 290.4h1.91v8.3h-1.91z"/>
<path fill="#dcb5b7" d="M218.3 290.4h1.91v8.3h-1.91z"/>
<path fill="#deaaa6" d="M219.7 290.4h1.91v8.3h-1.91z"/>
<path fill="#dfa39d" d="M221.1 290.4h1.91v8.3h-1.91z"/>
<path fill="#e0a199" d="M222.5 290.4h1.91v8.3h-1.91z"/>
<path fill="#dc948d" d="M223.9 290.4h1.91v8.3h-1.91z"/>
<path fill="#dfa39d" d="M225.4 290.4h1.91v8.3h-1.91z"/>
<path fill="#deaeac" d="M226.8 290.4h1.91v8.3h-1.91z"/>
<path fill="#dbb8bb" d="M228.2 290.4h1.91v8.3h-1.91z"/>
<path fill="#dfa7a2" d="M229.6 290.4h1.91v8.3h-1.91z"/>
<path fill="#dcb3b4" d="M231.0 290.4h1.91v8.3h-1.91z"/>
<path fill="#deaba8" d="M232.4 290.4h1.91v8.3h-1.91z"/>
<path fill="#ddb3b3" d="M233.8 290.4h1.91v8.3h-1.91z"/>
<path fill="#dfa39c" d="M235.2 290.4h1.91v8.3h-1.91z"/>
<path fill="#dbb8bc" d="M236.6 290.4h1.41v8.3h-1.41z"/>
<path fill="#245291" d="M27.2 298.2h1.91v8.3h-1.91z"/>
<path fill="#245190" d="M28.6 298.2h1.91v8.3h-1.91z"/>
<path fill="#376baa" d="M30.0 298.2h1.91v8.3h-1.91z"/>
<path fill="#6292ca" d="M31.4 298.2h1.91v8.3h-1.91z"/>
<path fill="#94aed7" d="M32.8 298.2h1.91v8.3h-1.91z"/>
<path fill="#3f77b6" d="M34.2 298.2h1.91v8.3h-1.91z"/>
<path fill="#598ec8" d="M35.6 298.2h1.91v8.3h-1.91z"/>
<path fill="#96afd7" d="M37.0 298.2h1.91v8.3h-1.91z"/>
<path fill="#6393cb" d="M38.4 298.2h1.91v8.3h-1.91z"/>
<path fill="#6092ca" d="M39.8 298.2h1.91v8.3h-1.91z"/>
<path fill="#a5b7d9" d="M41.3 298.2h1.91v8.3h-1.91z"/>
<path fill="#739bcf" d="M42.7 298.2h1.91v8.3h-1.91z"/>
<path fill="#789ed0" d="M44.1 298.2h1.91v8.3h-1.91z"/>
<path fill="#6896cc" d="M45.5 298.2h1.91v8.3h-1.91z"/>
<path fill="#a0b4d9" d="M46.9 298.2h1.91v8.3h-1.91z"/>
<path fill="#a9bada" d="M48.3 298.2h1.91v8.3h-1.91z"/>
<path fill="#6896cc" d="M49.7 298.2h1.91v8.3h-1.91z"/>
<path fill="#81a3d3" d="M51.1 298.2h1.91v8.3h-1.91z"/>
<path fill="#98afd7" d="M52.5 298.2h1.91v8.3h-1.91z"/>
<path fill="#a1b5d9" d="M53.9 298.2h1.91v8.3h-1.91z"/>
<path fill="#7fa2d2" d="M55.3 298.2h1.91v8.3h-1.91z"/>
<path fill="#b2bfdb" d="M56.7 298.2h1.91v8.3h-1.91z"/>
<path fill="#a8b9da" d="M58.1 298.2h1.91v8.3h-1.91z"/>
<path fill="#84a5d3" d="M59.5 298.2h1.91v8.3h-1.91z"/>
<path fill="#a7b8da" d="M60.9 298.2h1.91v8.3h-1.91z"/>
<path fill="#b5c0dc" d="M62.3 298.2h1.91v8.3h-1.91z"/>
<path fill="#84a5d3" d="M63.7 298.2h1.91v8.3h-1.91z"/>
<path fill="#769dd0" d="M65.1 298.2h1.91v8.3h-1.91z"/>
<path fill="#aabada" d="M66.5 298.2h1.91v8.3h-1.91z"/>
<path fill="#c3c5da" d="M68.0 298.2h1.91v8.3h-1.91z"/>
<path fill="#c4c5d9" d="M69.4 298.2h1.91v8.3h-1.91z"/>
<path fill="#7ba0d1" d="M70.8 298.2h1.91v8.3h-1.91z"/>
<path fill="#d7c2ca" d="M72.2 298.2h1.91v8.3h-1.91z"/>
<path fill="#95aed7" d="M73.6 298.2h1.91v8.3h-1.91z"/>
<path fill="#d4c9d5" d="M75.0 298.2h1.91v8.3h-1.91z"/>
<path fill="#cac7d8" d="M76.4 298.2h1.91v8.3h-1.91z"/>
<path fill="#cdc8d7" d="M77.8 298.2h1.91v8.3h-1.91z"/>
<path fill="#c7c6d9" d="M79.2 298.2h1.91v8.3h-1.91z"/>
<path fill="#9db3d8" d="M80.6 298.2h1.91v8.3h-1.91z"/>
<path fill="#c9c7d8" d="M82.0 298.2h1.91v8.3h-1.91z"/>
<path fill="#b1bedb" d="M83.4 298.2h1.91v8.3h-1.91z"/>
<path fill="#89a7d5" d="M84.8 298.2h1.91v8.3h-1.91z"/>
<path fill="#dbb9bd" d="M86.2 298.2h1.91v8.3h-1.91z"/>
<path fill="#d1c9d7" d="M87.6 298.2h1.91v8.3h-1.91z"/>
<path fill="#dcb4b5" d="M89.0 298.2h1.91v8.3h-1.91z"/>
<path fill="#a1b5d9" d="M90.4 298.2h1.91v8.3h-1.91z"/>
<path fill="#dababf" d="M91.8 298.2h1.91v8.3h-1.91z"/>
<path fill="#d9bdc3" d="M93.3 298.2h1.91v8.3h-1.91z"/>
<path fill="#d7c2ca" d="M94.7 298.2h1.91v8.3h-1.91z"/>
<path fill="#d6c5ce" d="M96.1 298.2h1.91v8.3h-1.91z"/>
<path fill="#bac3dc" d="M97.5 298.2h1.91v8.3h-1.91z"/>
<path fill="#bcc3db" d="M98.9 298.2h1.91v8.3h-1.91z"/>
<path fill="#9fb4d8" d="M100.3 298.2h1.91v8.3h-1.91z"/>
<path fill="#b0bedb" d="M101.7 298.2h1.91v8.3h-1.91z"/>
<path fill="#cdc8d8" d="M103.1 298.2h1.91v8.3h-1.91z"/>
<path fill="#c1c5da" d="M104.5 298.2h1.91v8.3h-1.91z"/>
<path fill="#cac7d8" d="M105.9 298.2h1.91v8.3h-1.91z"/>
<path fill="#d3cad6" d="M107.3 298.2h1.91v8.3h-1.91z"/>
<path fill="#deaba8" d="M108.7 298.2h1.91v8.3h-1.91z"/>
<path fill="#d8c0c7" d="M110.1 298.2h1.91v8.3h-1.91z"/>
<path fill="#d1c9d7" d="M111.5 298.2h1.91v8.3h-1.91z"/>
<path fill="#d8bfc5" d="M112.9 298.2h1.91v8.3h-1.91z"/>
<path fill="#c4c5da" d="M114.3 298.2h1.91v8.3h-1.91z"/>
<path fill="#c0c4da" d="M115.7 298.2h1.91v8.3h-1.91z"/>
<path fill="#d7c3cb" d="M117.1 298.2h1.91v8.3h-1.91z"/>
<path fill="#b9c2dc" d="M118.5 298.2h1.91v8.3h-1.91z"/>
<path fill="#d5c8d3" d="M120.0 298.2h1.91v8.3h-1.91z"/>
<path fill="#c6c6d9" d="M121.4 298.2h1.91v8.3h-1.91z"/>
<path fill="#cac7d8" d="M122.8 298.2h1.91v8.3h-1.91z"/>
<path fill="#dbb8bb" d="M124.2 298.2h1.91v8.3h-1.91z"/>
<path fill="#cdc8d7" d="M125.6 298.2h1.91v8.3h-1.91z"/>
<path fill="#c7c6d9" d="M127.0 298.2h1.91v8.3h-1.91z"/>
<path fill="#c1c5da" d="M128.4 298.2h1.91v8.3h-1.91z"/>
<path fill="#c0c4da" d="M129.8 298.2h1.91v8.3h-1.91z"/>
<path fill="#ccc8d8" d="M131.2 298.2h1.91v8.3h-1.91z"/>
<path fill="#ddafae" d="M132.6 298.2h1.91v8.3h-1.91z"/>
<path fill="#deaaa7" d="M134.0 298.2h1.91v8.3h-1.91z"/>
<path fill="#d7c2ca" d="M135.4 298.2h1.91v8.3h-1.91z"/>
<path fill="#cac7d8" d="M136.8 298.2h1.91v8.3h-1.91z"/>
<path fill="#ddb2b2" d="M138.2 298.2h1.91v8.3h-1.91z"/>
<path fill="#d0c9d7" d="M139.6 298.2h1.91v8.3h-1.91z"/>
<path fill="#dabcc1" d="M141.0 298.2h1.91v8.3h-1.91z"/>
<path fill="#d9bec4" d="M142.4 298.2h1.91v8.3h-1.91z"/>
<path fill="#d8c1c8" d="M143.8 298.2h1.91v8.3h-1.91z"/>
<path fill="#d9bdc2" d="M145.2 298.2h1.91v8.3h-1.91z"/>
<path fill="#c8c7d9" d="M146.7 298.2h1.91v8.3h-1.91z"/>
<path fill="#d5c8d4" d="M148.1 298.2h1.91v8.3h-1.91z"/>
<path fill="#b9c2dc" d="M149.5 298.2h1.91v8.3h-1.91z"/>
<path fill="#d8c0c7" d="M150.9 298.2h1.91v8.3h-1.91z"/>
<path fill="#cbc7d8" d="M152.3 298.2h1.91v8.3h-1.91z"/>
<path fill="#d7c3cc" d="M153.7 298.2h1.91v8.3h-1.91z"/>
<path fill="#d4c9d5" d="M155.1 298.2h1.91v8.3h-1.91z"/>
<path fill="#d7c1c9" d="M156.5 298.2h1.91v8.3h-1.91z"/>
<path fill="#ddb3b4" d="M157.9 298.2h1.91v8.3h-1.91z"/>
<path fill="#c7c6d9" d="M159.3 298.2h1.91v8.3h-1.91z"/>
<path fill="#d5c6d1" d="M160.7 298.2h1.91v8.3h-1.91z"/>
<path fill="#c5c6d9" d="M162.1 298.2h1.91v8.3h-1.91z"/>
<path fill="#ddb2b3" d="M163.5 298.2h1.91v8.3h-1.91z"/>
<path fill="#ddb3b3" d="M164.9 298.2h1.91v8.3h-1.91z"/>
<path fill="#d8c0c7" d="M166.3 298.2h1.91v8.3h-1.91z"/>
<path fill="#d6c4ce" d="M167.7 298.2h1.91v8.3h-1.91z"/>
<path fill="#ddb0b0" d="M169.1 298.2h1.91v8.3h-1.91z"/>
<path fill="#cbc7d8" d="M170.5 298.2h1.91v8.3h-1.91z"/>
<path fill="#de9a93" d="M171.9 298.2h1.91v8.3h-1.91z"/>
<path fill="#d3cad6" d="M173.4 298.2h1.91v8.3h-1.91z"/>
<path fill="#aabada" d="M174.8 298.2h1.91v8.3h-1.91z"/>
<path fill="#dd968f" d="M176.2 298.2h1.91v8.3h-1.91z"/>
<path fill="#dfa59f" d="M177.6 298.2h1.91v8.3h-1.91z"/>
<path fill="#d4cad6" d="M179.0 298.2h1.91v8.3h-1.91z"/>
<path fill="#dbbabe" d="M180.4 298.2h1.91v8.3h-1.91z"/>
<path fill="#dbb8bc" d="M181.8 298.2h1.91v8.3h-1.91z"/>
<path fill="#dcb5b7" d="M183.2 298.2h1.91v8.3h-1.91z"/>
<path fill="#c5c6d9" d="M184.6 298.2h1.91v8.3h-1.91z"/>
<path fill="#d7c3cc" d="M186.0 298.2h1.91v8.3h-1.91z"/>
<path fill="#ddb3b3" d="M187.4 298.2h1.91v8.3h-1.91z"/>
<path fill="#d9bdc2" d="M188.8 298.2h1.91v8.3h-1.91z"/>
<path fill="#dea8a4" d="M190.2 298.2h1.91v8.3h-1.91z"/>
<path fill="#d9bdc2" d="M191.6 298.2h1.91v8.3h-1.91z"/>
<path fill="#da8e87" d="M193.0 298.2h1.91v8.3h-1.91z"/>
<path fill="#d8c0c7" d="M194.4 298.2h1.91v8.3h-1.91z"/>
<path fill="#dcb3b4" d="M195.8 298.2h1.91v8.3h-1.91z"/>
<path fill="#c5c6d9" d="M197.2 298.2h1.91v8.3h-1.91z"/>
<path fill="#d5c8d3" d="M198.7 298.2h1.91v8.3h-1.91z"/>
<path fill="#ddb2b2" d="M200.1 298.2h1.91v8.3h-1.91z"/>
<path fill="#d4cad6" d="M201.5 298.2h1.91v8.3h-1.91z"/>
<path fill="#deadab" d="M202.9 298.2h1.91v8.3h-1.91z"/>
<path fill="#d6c4ce" d="M204.3 298.2h1.91v8.3h-1.91z"/>
<path fill="#d9bdc3" d="M205.7 298.2h1.91v8.3h-1.91z"/>
<path fill="#d6c5cf" d="M207.1 298.2h1.91v8.3h-1.91z"/>
<path fill="#dcb6b8" d="M208.5 298.2h1.91v8.3h-1.91z"/>
<path fill="#d8c0c7" d="M209.9 298.2h1.91v8.3h-1.91z"/>
<path fill="#dfa6a1" d="M211.3 298.2h1.91v8.3h-1.91z"/>
<path fill="#deaba8" d="M212.7 298.2h1.91v8.3h-1.91z"/>
<path fill="#d6c5cf" d="M214.1 298.2h1.91v8.3h-1.91z"/>
<path fill="#dcb6b8" d="M215.5 298.2h1.91v8.3h-1.91z"/>
<path fill="#dfa7a2" d="M216.9 298.2h1.91v8.3h-1.91z"/>
<path fill="#dcb4b5" d="M218.3 298.2h1.91v8.3h-1.91z"/>
<path fill="#dfa8a3" d="M219.7 298.2h1.91v8.3h-1.91z"/>
<path fill="#d98983" d="M221.1 298.2h1.91v8.3h-1.91z"/>
<path fill="#deadab" d="M222.5 298.2h1.91v8.3h-1.91z"/>
<path fill="#deaba8" d="M223.9 298.2h1.91v8.3h-1.91z"/>
<path fill="#dcb6b8" d="M225.4 298.2h1.91v8.3h-1.91z"/>
<path fill="#dabcc1" d="M226.8 298.2h1.91v8.3h-1.91z"/>
<path fill="#d7c1c9" d="M228.2 298.2h1.91v8.3h-1.91z"/>
<path fill="#d8c1c9" d="M229.6 298.2h1.91v8.3h-1.91z"/>
<path fill="#d9bdc2" d="M231.0 298.2h1.91v8.3h-1.91z"/>
<path fill="#deadab" d="M232.4 298.2h1.91v8.3h-1.91z"/>
<path fill="#dfa7a3" d="M233.8 298.2h1.91v8.3h-1.91z"/>
<path fill="#ddaeac" d="M235.2 298.2h1.91v8.3h-1.91z"/>
<path fill="#ddb1b1" d="M236.6 298.2h1.41v8.3h-1.41z"/>
<path fill="#89a7d5" d="M27.2 305.9h1.91v8.3h-1.91z"/>
<path fill="#ccc8d8" d="M28.6 305.9h1.91v8.3h-1.91z"/>
<path fill="#b1bedb" d="M30.0 305.9h1.91v8.3h-1.91z"/>
<path fill="#c6c6d9" d="M31.4 305.9h1.91v8.3h-1.91z"/>
<path fill="#b8c2dc" d="M32.8 305.9h1.91v8.3h-1.91z"/>
<path fill="#c1c5da" d="M34.2 305.9h1.91v8.3h-1.91z"/>
<path fill="#a9bada" d="M35.6 305.9h1.91v8.3h-1.91z"/>
<path fill="#cbc8d8" d="M37.0 305.9h1.91v8.3h-1.91z"/>
<path fill="#d8c1c8" d="M38.4 305.9h1.91v8.3h-1.91z"/>
<path fill="#90abd6" d="M39.8 305.9h1.91v8.3h-1.91z"/>
<path fill="#d0c9d7" d="M41.3 305.9h1.91v8.3h-1.91z"/>
<path fill="#d6c6d0" d="M42.7 305.9h1.91v8.3h-1.91z"/>
<path fill="#c0c4da" d="M44.1 305.9h1.91v8.3h-1.91z"/>
<path fill="#bec4db" d="M45.5 305.9h1.91v8.3h-1.91z"/>
<path fill="#d2c9d6" d="M46.9 305.9h1.91v8.3h-1.91z"/>
<path fill="#b4c0db" d="M48.3 305.9h1.91v8.3h-1.91z"/>
<path fill="#b7c1dc" d="M49.7 305.9h1.91v8.3h-1.91z"/>
<path fill="#a5b7d9" d="M51.1 305.9h1.91v8.3h-1.91z"/>
<path fill="#9bb1d8" d="M52.5 305.9h1.91v8.3h-1.91z"/>
<path fill="#a5b7d9" d="M53.9 305.9h1.91v8.3h-1.91z"/>
<path fill="#abbada" d="M55.3 305.9h1.91v8.3h-1.91z"/>
<path fill="#c3c5da" d="M56.7 305.9h1.91v8.3h-1.91z"/>
<path fill="#c0c4da" d="M58.1 305.9h1.91v8.3h-1.91z"/>
<path fill="#a9b9da" d="M59.5 305.9h1.91v8.3h-1.91z"/>
<path fill="#dbb8bb" d="M60.9 305.9h1.91v8.3h-1.91z"/>
<path fill="#d6c5cf" d="M62.3 305.9h1.91v8.3h-1.91z"/>
<path fill="#bcc3db" d="M63.7 305.9h1.91v8.3h-1.91z"/>
<path fill="#bac3dc" d="M65.1 305.9h1.91v8.3h-1.91z"/>
<path fill="#c5c6d9" d="M66.5 305.9h1.91v8.3h-1.91z"/>
<path fill="#d3cad6" d="M68.0 305.9h1.91v8.3h-1.91z"/>
<path fill="#c2c5da" d="M69.4 305.9h1.91v8.3h-1.91z"/>
<path fill="#a0b4d9" d="M70.8 305.9h1.91v8.3h-1.91z"/>
<path fill="#cec8d7" d="M72.2 305.9h1.91v8.3h-1.91z"/>
<path fill="#ddafae" d="M73.6 305.9h1.91v8.3h-1.91z"/>
<path fill="#afbddb" d="M75.0 305.9h1.91v8.3h-1.91z"/>
<path fill="#d5c8d3" d="M76.4 305.9h1.91v8.3h-1.91z"/>
<path fill="#d2cad6" d="M77.8 305.9h1.91v8.3h-1.91z"/>
<path fill="#d2c9d6" d="M79.2 305.9h1.91v8.3h-1.91z"/>
<path fill="#d8c0c7" d="M80.6 305.9h1.91v8.3h-1.91z"/>
<path fill="#b4c0db" d="M82.0 305.9h1.91v8.3h-1.91z"/>
<path fill="#d2c9d6" d="M83.4 305.9h1.91v8.3h-1.91z"/>
<path fill="#dbb9bd" d="M84.8 305.9h1.91v8.3h-1.91z"/>
<path fill="#bfc4db" d="M86.2 305.9h1.91v8.3h-1.91z"/>
<path fill="#c8c6d9" d="M87.6 305.9h1.91v8.3h-1.91z"/>
<path fill="#d7c2ca" d="M89.0 305.9h1.91v8.3h-1.91z"/>
<path fill="#b9c2dc" d="M90.4 305.9h1.91v8.3h-1.91z"/>
<path fill="#ddb1b1" d="M91.8 305.9h1.91v8.3h-1.91z"/>
<path fill="#c0c4da" d="M93.3 305.9h1.91v8.3h-1.91z"/>
<path fill="#d7c4cd" d="M94.7 305.9h1.91v8.3h-1.91z"/>
<path fill="#cdc8d8" d="M96.1 305.9h1.91v8.3h-1.91z"/>
<path fill="#dabcc1" d="M97.5 305.9h1.91v8.3h-1.91z"/>
<path fill="#c6c6d9" d="M98.9 305.9h1.91v8.3h-1.91z"/>
<path fill="#9eb3d8" d="M100.3 305.9h1.91v8.3h-1.91z"/>
<path fill="#d6c6d0" d="M101.7 305.9h1.91v8.3h-1.91z"/>
<path fill="#bec4db" d="M103.1 305.9h1.91v8.3h-1.91z"/>
<path fill="#d3cad6" d="M104.5 305.9h1.91v8.3h-1.91z"/>
<path fill="#dcb4b5" d="M105.9 305.9h1.91v8.3h-1.91z"/>
<path fill="#c7c6d9" d="M107.3 305.9h1.91v8.3h-1.91z"/>
<path fill="#d0c9d7" d="M108.7 305.9h1.91v8.3h-1.91z"/>
<path fill="#dbb8bb" d="M110.1 305.9h1.91v8.3h-1.91z"/>
<path fill="#d6c4ce" d="M111.5 305.9h1.91v8.3h-1.91z"/>
<path fill="#dcb5b6" d="M112.9 305.9h1.91v8.3h-1.91z"/>
<path fill="#d7c1c9" d="M114.3 305.9h1.91v8.3h-1.91z"/>
<path fill="#bcc3db" d="M115.7 305.9h1.91v8.3h-1.91z"/>
<path fill="#d2cad6" d="M117.1 305.9h1.91v8.3h-1.91z"/>
<path fill="#dcb6b8" d="M118.5 305.9h1.91v8.3h-1.91z"/>
<path fill="#ddb3b3" d="M120.0 305.9h1.91v8.3h-1.91z"/>
<path fill="#d9bdc3" d="M121.4 305.9h1.91v8.3h-1.91z"/>
<path fill="#cfc9d7" d="M122.8 305.9h1.91v8.3h-1.91z"/>
<path fill="#d2c9d6" d="M124.2 305.9h1.91v8.3h-1.91z"/>
<path fill="#d5c8d3" d="M125.6 305.9h1.91v8.3h-1.91z"/>
<path fill="#dcb6b9" d="M127.0 305.9h1.91v8.3h-1.91z"/>
<path fill="#d5c7d1" d="M128.4 305.9h1.91v8.3h-1.91z"/>
<path fill="#c6c6d9" d="M129.8 305.9h1.91v8.3h-1.91z"/>
<path fill="#d8c1c9" d="M131.2 305.9h1.91v8.3h-1.91z"/>
<path fill="#dcb4b5" d="M132.6 305.9h1.91v8.3h-1.91z"/>
<path fill="#dabcc0" d="M134.0 305.9h1.91v8.3h-1.91z"/>
<path fill="#d5c7d1" d="M135.4 305.9h1.91v8.3h-1.91z"/>
<path fill="#d0c9d7" d="M136.8 305.9h1.91v8.3h-1.91z"/>
<path fill="#dcb7b9" d="M138.2 305.9h1.91v8.3h-1.91z"/>
<path fill="#bbc3db" d="M139.6 305.9h1.91v8.3h-1.91z"/>
<path fill="#c4c6d9" d="M141.0 305.9h1.91v8.3h-1.91z"/>
<path fill="#ddb3b4" d="M142.4 305.9h1.91v8.3h-1.91z"/>
<path fill="#d5c8d3" d="M143.8 305.9h1.91v8.3h-1.91z"/>
<path fill="#dabcc1" d="M145.2 305.9h1.91v8.3h-1.91z"/>
<path fill="#dcb6b8" d="M146.7 305.9h1.91v8.3h-1.91z"/>
<path fill="#dcb6b8" d="M148.1 305.9h1.91v8.3h-1.91z"/>
<path fill="#d7c2c9" d="M149.5 305.9h1.91v8.3h-1.91z"/>
<path fill="#de9a93" d="M150.9 305.9h1.91v8.3h-1.91z"/>
<path fill="#ddb1b1" d="M152.3 305.9h1.91v8.3h-1.91z"/>
<path fill="#d7c3cc" d="M153.7 305.9h1.91v8.3h-1.91z"/>
<path fill="#ddb0af" d="M155.1 305.9h1.91v8.3h-1.91z"/>
<path fill="#dababe" d="M156.5 305.9h1.91v8.3h-1.91z"/>
<path fill="#d7c2ca" d="M157.9 305.9h1.91v8.3h-1.91z"/>
<path fill="#dabcc0" d="M159.3 305.9h1.91v8.3h-1.91z"/>
<path fill="#dabbbf" d="M160.7 305.9h1.91v8.3h-1.91z"/>
<path fill="#b4c0db" d="M162.1 305.9h1.91v8.3h-1.91z"/>
<path fill="#dabcc1" d="M163.5 305.9h1.91v8.3h-1.91z"/>
<path fill="#d3cad6" d="M164.9 305.9h1.91v8.3h-1.91z"/>
<path fill="#ccc8d8" d="M166.3 305.9h1.91v8.3h-1.91z"/>
<path fill="#c6c6d9" d="M167.7 305.9h1.91v8.3h-1.91z"/>
<path fill="#d6c6d0" d="M169.1 305.9h1.91v8.3h-1.91z"/>
<path fill="#dababe" d="M170.5 305.9h1.91v8.3h-1.91z"/>
<path fill="#deaba8" d="M171.9 305.9h1.91v8.3h-1.91z"/>
<path fill="#ccc8d8" d="M173.4 305.9h1.91v8.3h-1.91z"/>
<path fill="#dcb5b7" d="M174.8 305.9h1.91v8.3h-1.91z"/>
<path fill="#d4c9d5" d="M176.2 305.9h1.91v8.3h-1.91z"/>
<path fill="#dbb9bd" d="M177.6 305.9h1.91v8.3h-1.91z"/>
<path fill="#deaaa7" d="M179.0 305.9h1.91v8.3h-1.91z"/>
<path fill="#d6c4cd" d="M180.4 305.9h1.91v8.3h-1.91z"/>
<path fill="#dabbc0" d="M181.8 305.9h1.91v8.3h-1.91z"/>
<path fill="#dfa8a4" d="M183.2 305.9h1.91v8.3h-1.91z"/>
<path fill="#d6c5ce" d="M184.6 305.9h1.91v8.3h-1.91z"/>
<path fill="#d9bdc2" d="M186.0 305.9h1.91v8.3h-1.91z"/>
<path fill="#dcb5b6" d="M187.4 305.9h1.91v8.3h-1.91z"/>
<path fill="#ddb1b1" d="M188.8 305.9h1.91v8.3h-1.91z"/>
<path fill="#c5c6d9" d="M190.2 305.9h1.91v8.3h-1.91z"/>
<path fill="#d4c9d4" d="M191.6 305.9h1.91v8.3h-1.91z"/>
<path fill="#d9bfc5" d="M193.0 305.9h1.91v8.3h-1.91z"/>
<path fill="#d6c5ce" d="M194.4 305.9h1.91v8.3h-1.91z"/>
<path fill="#d7c2ca" d="M195.8 305.9h1.91v8.3h-1.91z"/>
<path fill="#d5c6d0" d="M197.2 305.9h1.91v8.3h-1.91z"/>
<path fill="#ddb3b4" d="M198.7 305.9h1.91v8.3h-1.91z"/>
<path fill="#cbc8d8" d="M200.1 305.9h1.91v8.3h-1.91z"/>
<path fill="#dabcc1" d="M201.5 305.9h1.91v8.3h-1.91z"/>
<path fill="#ddafad" d="M202.9 305.9h1.91v8.3h-1.91z"/>
<path fill="#cec8d7" d="M204.3 305.9h1.91v8.3h-1.91z"/>
<path fill="#ddafad" d="M205.7 305.9h1.91v8.3h-1.91z"/>
<path fill="#deaca9" d="M207.1 305.9h1.91v8.3h-1.91z"/>
<path fill="#deadaa" d="M208.5 305.9h1.91v8.3h-1.91z"/>
<path fill="#d7c3cc" d="M209.9 305.9h1.91v8.3h-1.91z"/>
<path fill="#ddb1b0" d="M211.3 305.9h1.91v8.3h-1.91z"/>
<path fill="#d8c0c7" d="M212.7 305.9h1.91v8.3h-1.91z"/>
<path fill="#dabbbf" d="M214.1 305.9h1.91v8.3h-1.91z"/>
<path fill="#e0a29b" d="M215.5 305.9h1.91v8.3h-1.91z"/>
<path fill="#dcb5b7" d="M216.9 305.9h1.91v8.3h-1.91z"/>
<path fill="#dcb7b9" d="M218.3 305.9h1.91v8.3h-1.91z"/>
<path fill="#dfa8a3" d="M219.7 305.9h1.91v8.3h-1.91z"/>
<path fill="#dabbbf" d="M221.1 305.9h1.91v8.3h-1.91z"/>
<path fill="#dcb7b9" d="M222.5 305.9h1.91v8.3h-1.91z"/>
<path fill="#dbb9bd" d="M223.9 305.9h1.91v8.3h-1.91z"/>
<path fill="#d8c1c9" d="M225.4 305.9h1.91v8.3h-1.91z"/>
<path fill="#dbb9bd" d="M226.8 305.9h1.91v8.3h-1.91z"/>
<path fill="#de9b94" d="M228.2 305.9h1.91v8.3h-1.91z"/>
<path fill="#dabbc0" d="M229.6 305.9h1.91v8.3h-1.91z"/>
<path fill="#d8c1c9" d="M231.0 305.9h1.91v8.3h-1.91z"/>
<path fill="#ddb1b1" d="M232.4 305.9h1.91v8.3h-1.91z"/>
<path fill="#dcb4b6" d="M233.8 305.9h1.91v8.3h-1.91z"/>
<path fill="#dfa49e" d="M235.2 305.9h1.91v8.3h-1.91z"/>
<path fill="#ddafae" d="M236.6 305.9h1.41v8.3h-1.41z"/>
<path fill="#d6c5ce" d="M27.2 313.7h1.91v8.3h-1.91z"/>
<path fill="#bcc3db" d="M28.6 313.7h1.91v8.3h-1.91z"/>
<path fill="#cec8d7" d="M30.0 313.7h1.91v8.3h-1.91z"/>
<path fill="#b1bedb" d="M31.4 313.7h1.91v8.3h-1.91z"/>
<path fill="#bdc4db" d="M32.8 313.7h1.91v8.3h-1.91z"/>
<path fill="#8aa8d5" d="M34.2 313.7h1.91v8.3h-1.91z"/>
<path fill="#b5c0dc" d="M35.6 313.7h1.91v8.3h-1.91z"/>
<path fill="#c3c5da" d="M37.0 313.7h1.91v8.3h-1.91z"/>
<path fill="#adbcda" d="M38.4 313.7h1.91v8.3h-1.91z"/>
<path fill="#7fa2d2" d="M39.8 313.7h1.91v8.3h-1.91z"/>
<path fill="#cfc9d7" d="M41.3 313.7h1.91v8.3h-1.91z"/>
<path fill="#b6c1dc" d="M42.7 313.7h1.91v8.3h-1.91z"/>
<path fill="#b2bfdb" d="M44.1 313.7h1.91v8.3h-1.91z"/>
<path fill="#abbbda" d="M45.5 313.7h1.91v8.3h-1.91z"/>
<path fill="#b7c1dc" d="M46.9 313.7h1.91v8.3h-1.91z"/>
<path fill="#cbc7d8" d="M48.3 313.7h1.91v8.3h-1.91z"/>
<path fill="#92acd7" d="M49.7 313.7h1.91v8.3h-1.91z"/>
<path fill="#a4b7d9" d="M51.1 313.7h1.91v8.3h-1.91z"/>
<path fill="#b0bddb" d="M52.5 313.7h1.91v8.3h-1.91z"/>
<path fill="#b4c0db" d="M53.9 313.7h1.91v8.3h-1.91z"/>
<path fill="#a3b6d9" d="M55.3 313.7h1.91v8.3h-1.91z"/>
<path fill="#b1bedb" d="M56.7 313.7h1.91v8.3h-1.91z"/>
<path fill="#a0b4d9" d="M58.1 313.7h1.91v8.3h-1.91z"/>
<path fill="#c2c5da" d="M59.5 313.7h1.91v8.3h-1.91z"/>
<path fill="#d5c7d1" d="M60.9 313.7h1.91v8.3h-1.91z"/>
<path fill="#a9b9da" d="M62.3 313.7h1.91v8.3h-1.91z"/>
<path fill="#c7c6d9" d="M63.7 313.7h1.91v8.3h-1.91z"/>
<path fill="#cdc8d8" d="M65.1 313.7h1.91v8.3h-1.91z"/>
<path fill="#b9c2dc" d="M66.5 313.7h1.91v8.3h-1.91z"/>
<path fill="#d3cad6" d="M68.0 313.7h1.91v8.3h-1.91z"/>
<path fill="#93add7" d="M69.4 313.7h1.91v8.3h-1.91z"/>
<path fill="#99b0d8" d="M70.8 313.7h1.91v8.3h-1.91z"/>
<path fill="#9eb3d8" d="M72.2 313.7h1.91v8.3h-1.91z"/>
<path fill="#b4c0db" d="M73.6 313.7h1.91v8.3h-1.91z"/>
<path fill="#c9c7d8" d="M75.0 313.7h1.91v8.3h-1.91z"/>
<path fill="#b3bfdb" d="M76.4 313.7h1.91v8.3h-1.91z"/>
<path fill="#c7c6d9" d="M77.8 313.7h1.91v8.3h-1.91z"/>
<path fill="#a2b6d9" d="M79.2 313.7h1.91v8.3h-1.91z"/>
<path fill="#cac7d8" d="M80.6 313.7h1.91v8.3h-1.91z"/>
<path fill="#a8b9da" d="M82.0 313.7h1.91v8.3h-1.91z"/>
<path fill="#bbc3db" d="M83.4 313.7h1.91v8.3h-1.91z"/>
<path fill="#c0c4da" d="M84.8 313.7h1.91v8.3h-1.91z"/>
<path fill="#a3b6d9" d="M86.2 313.7h1.91v8.3h-1.91z"/>
<path fill="#adbcda" d="M87.6 313.7h1.91v8.3h-1.91z"/>
<path fill="#c2c5da" d="M89.0 313.7h1.91v8.3h-1.91z"/>
<path fill="#bac3dc" d="M90.4 313.7h1.91v8.3h-1.91z"/>
<path fill="#d7c3cc" d="M91.8 313.7h1.91v8.3h-1.91z"/>
<path fill="#d5c9d4" d="M93.3 313.7h1.91v8.3h-1.91z"/>
<path fill="#b0bddb" d="M94.7 313.7h1.91v8.3h-1.91z"/>
<path fill="#cfc8d7" d="M96.1 313.7h1.91v8.3h-1.91z"/>
<path fill="#c1c5da" d="M97.5 313.7h1.91v8.3h-1.91z"/>
<path fill="#c9c7d8" d="M98.9 313.7h1.91v8.3h-1.91z"/>
<path fill="#a2b6d9" d="M100.3 313.7h1.91v8.3h-1.91z"/>
<path fill="#dabbbf" d="M101.7 313.7h1.91v8.3h-1.91z"/>
<path fill="#c2c5da" d="M103.1 313.7h1.91v8.3h-1.91z"/>
<path fill="#c5c6d9" d="M104.5 313.7h1.91v8.3h-1.91z"/>
<path fill="#d4cad6" d="M105.9 313.7h1.91v8.3h-1.91z"/>
<path fill="#dabbc0" d="M107.3 313.7h1.91v8.3h-1.91z"/>
<path fill="#d8bfc6" d="M108.7 313.7h1.91v8.3h-1.91z"/>
<path fill="#d7c4cd" d="M110.1 313.7h1.91v8.3h-1.91z"/>
<path fill="#d4cad6" d="M111.5 313.7h1.91v8.3h-1.91z"/>
<path fill="#d8bfc6" d="M112.9 313.7h1.91v8.3h-1.91z"/>
<path fill="#dabbbf" d="M114.3 313.7h1.91v8.3h-1.91z"/>
<path fill="#c4c5da" d="M115.7 313.7h1.91v8.3h-1.91z"/>
<path fill="#dabcc1" d="M117.1 313.7h1.91v8.3h-1.91z"/>
<path fill="#d3cad6" d="M118.5 313.7h1.91v8.3h-1.91z"/>
<path fill="#d6c4cd" d="M120.0 313.7h1.91v8.3h-1.91z"/>
<path fill="#ccc8d8" d="M121.4 313.7h1.91v8.3h-1.91z"/>
<path fill="#c1c5da" d="M122.8 313.7h1.91v8.3h-1.91z"/>
<path fill="#d6c5cf" d="M124.2 313.7h1.91v8.3h-1.91z"/>
<path fill="#c1c5da" d="M125.6 313.7h1.91v8.3h-1.91z"/>
<path fill="#cec8d7" d="M127.0 313.7h1.91v8.3h-1.91z"/>
<path fill="#d5c8d3" d="M128.4 313.7h1.91v8.3h-1.91z"/>
<path fill="#d6c6d0" d="M129.8 313.7h1.91v8.3h-1.91z"/>
<path fill="#b7c2dc" d="M131.2 313.7h1.91v8.3h-1.91z"/>
<path fill="#d6c5cf" d="M132.6 313.7h1.91v8.3h-1.91z"/>
<path fill="#d7c1c9" d="M134.0 313.7h1.91v8.3h-1.91z"/>
<path fill="#c5c6d9" d="M135.4 313.7h1.91v8.3h-1.91z"/>
<path fill="#d5c8d3" d="M136.8 313.7h1.91v8.3h-1.91z"/>
<path fill="#b9c2dc" d="M138.2 313.7h1.91v8.3h-1.91z"/>
<path fill="#d8c1c8" d="M139.6 313.7h1.91v8.3h-1.91z"/>
<path fill="#c9c7d8" d="M141.0 313.7h1.91v8.3h-1.91z"/>
<path fill="#dbb8bb" d="M142.4 313.7h1.91v8.3h-1.91z"/>
<path fill="#b5c0dc" d="M143.8 313.7h1.91v8.3h-1.91z"/>
<path fill="#d9bdc3" d="M145.2 313.7h1.91v8.3h-1.91z"/>
<path fill="#cbc8d8" d="M146.7 313.7h1.91v8.3h-1.91z"/>
<path fill="#dababe" d="M148.1 313.7h1.91v8.3h-1.91z"/>
<path fill="#c6c6d9" d="M149.5 313.7h1.91v8.3h-1.91z"/>
<path fill="#d6c5ce" d="M150.9 313.7h1.91v8.3h-1.91z"/>
<path fill="#dfa49e" d="M152.3 313.7h1.91v8.3h-1.91z"/>
<path fill="#cdc8d8" d="M153.7 313.7h1.91v8.3h-1.91z"/>
<path fill="#d5c8d4" d="M155.1 313.7h1.91v8.3h-1.91z"/>
<path fill="#d4c9d5" d="M156.5 313.7h1.91v8.3h-1.91z"/>
<path fill="#d4c9d5" d="M157.9 313.7h1.91v8.3h-1.91z"/>
<path fill="#ddb3b3" d="M159.3 313.7h1.91v8.3h-1.91z"/>
<path fill="#dea9a5" d="M160.7 313.7h1.91v8.3h-1.91z"/>
<path fill="#c6c6d9" d="M162.1 313.7h1.91v8.3h-1.91z"/>
<path fill="#c2c5da" d="M163.5 313.7h1.91v8.3h-1.91z"/>
<path fill="#d9bdc2" d="M164.9 313.7h1.91v8.3h-1.91z"/>
<path fill="#d8bfc6" d="M166.3 313.7h1.91v8.3h-1.91z"/>
<path fill="#dcb7ba" d="M167.7 313.7h1.91v8.3h-1.91z"/>
<path fill="#dcb6b9" d="M169.1 313.7h1.91v8.3h-1.91z"/>
<path fill="#d3cad6" d="M170.5 313.7h1.91v8.3h-1.91z"/>
<path fill="#ddb3b3" d="M171.9 313.7h1.91v8.3h-1.91z"/>
<path fill="#c1c4da" d="M173.4 313.7h1.91v8.3h-1.91z"/>
<path fill="#c3c5da" d="M174.8 313.7h1.91v8.3h-1.91z"/>
<path fill="#ddb0b0" d="M176.2 313.7h1.91v8.3h-1.91z"/>
<path fill="#d6c4cd" d="M177.6 313.7h1.91v8.3h-1.91z"/>
<path fill="#dfa39c" d="M179.0 313.7h1.91v8.3h-1.91z"/>
<path fill="#d9bec4" d="M180.4 313.7h1.91v8.3h-1.91z"/>
<path fill="#d8c1c9" d="M181.8 313.7h1.91v8.3h-1.91z"/>
<path fill="#ddafae" d="M183.2 313.7h1.91v8.3h-1.91z"/>
<path fill="#deacaa" d="M184.6 313.7h1.91v8.3h-1.91z"/>
<path fill="#dcb6b8" d="M186.0 313.7h1.91v8.3h-1.91z"/>
<path fill="#d1c9d7" d="M187.4 313.7h1.91v8.3h-1.91z"/>
<path fill="#d9bec3" d="M188.8 313.7h1.91v8.3h-1.91z"/>
<path fill="#dea9a5" d="M190.2 313.7h1.91v8.3h-1.91z"/>
<path fill="#d5c7d2" d="M191.6 313.7h1.91v8.3h-1.91z"/>
<path fill="#d9bec5" d="M193.0 313.7h1.91v8.3h-1.91z"/>
<path fill="#deacaa" d="M194.4 313.7h1.91v8.3h-1.91z"/>
<path fill="#dbb7ba" d="M195.8 313.7h1.91v8.3h-1.91z"/>
<path fill="#d0c9d7" d="M197.2 313.7h1.91v8.3h-1.91z"/>
<path fill="#d8bfc6" d="M198.7 313.7h1.91v8.3h-1.91z"/>
<path fill="#cac7d8" d="M200.1 313.7h1.91v8.3h-1.91z"/>
<path fill="#dabcc1" d="M201.5 313.7h1.91v8.3h-1.91z"/>
<path fill="#dcb4b6" d="M202.9 313.7h1.91v8.3h-1.91z"/>
<path fill="#dcb7b9" d="M204.3 313.7h1.91v8.3h-1.91z"/>
<path fill="#deaaa7" d="M205.7 313.7h1.91v8.3h-1.91z"/>
<path fill="#c0c4da" d="M207.1 313.7h1.91v8.3h-1.91z"/>
<path fill="#deaeac" d="M208.5 313.7h1.91v8.3h-1.91z"/>
<path fill="#ddb1b1" d="M209.9 313.7h1.91v8.3h-1.91z"/>
<path fill="#deacaa" d="M211.3 313.7h1.91v8.3h-1.91z"/>
<path fill="#dea9a5" d="M212.7 313.7h1.91v8.3h-1.91z"/>
<path fill="#d5c8d2" d="M214.1 313.7h1.91v8.3h-1.91z"/>
<path fill="#dbbabe" d="M215.5 313.7h1.91v8.3h-1.91z"/>
<path fill="#e0a29a" d="M216.9 313.7h1.91v8.3h-1.91z"/>
<path fill="#d7c4cc" d="M218.3 313.7h1.91v8.3h-1.91z"/>
<path fill="#c6c6d9" d="M219.7 313.7h1.91v8.3h-1.91z"/>
<path fill="#dea9a5" d="M221.1 313.7h1.91v8.3h-1.91z"/>
<path fill="#d6c4cd" d="M222.5 313.7h1.91v8.3h-1.91z"/>
<path fill="#ddb1b0" d="M223.9 313.7h1.91v8.3h-1.91z"/>
<path fill="#d4cad6" d="M225.4 313.7h1.91v8.3h-1.91z"/>
<path fill="#d6c5cf" d="M226.8 313.7h1.91v8.3h-1.91z"/>
<path fill="#d5c8d2" d="M228.2 313.7h1.91v8.3h-1.91z"/>
<path fill="#dabbc0" d="M229.6 313.7h1.91v8.3h-1.91z"/>
<path fill="#dcb5b7" d="M231.0 313.7h1.91v8.3h-1.91z"/>
<path fill="#d5c8d3" d="M232.4 313.7h1.91v8.3h-1.91z"/>
<path fill="#deaaa6" d="M233.8 313.7h1.91v8.3h-1.91z"/>
<path fill="#dababe" d="M235.2 313.7h1.91v8.3h-1.91z"/>
<path fill="#d8bfc5" d="M236.6 313.7h1.41v8.3h-1.41z"/>
<path fill="#c5c6d9" d="M27.2 321.5h1.91v8.3h-1.91z"/>
<path fill="#bac3dc" d="M28.6 321.5h1.91v8.3h-1.91z"/>
<path fill="#94aed7" d="M30.0 321.5h1.91v8.3h-1.91z"/>
<path fill="#d4c9d5" d="M31.4 321.5h1.91v8.3h-1.91z"/>
<path fill="#a3b6d9" d="M32.8 321.5h1.91v8.3h-1.91z"/>
<path fill="#b7c1dc" d="M34.2 321.5h1.91v8.3h-1.91z"/>
<path fill="#c1c4da" d="M35.6 321.5h1.91v8.3h-1.91z"/>
<path fill="#d9bec4" d="M37.0 321.5h1.91v8.3h-1.91z"/>
<path fill="#afbddb" d="M38.4 321.5h1.91v8.3h-1.91z"/>
<path fill="#ccc8d8" d="M39.8 321.5h1.91v8.3h-1.91z"/>
<path fill="#b5c0dc" d="M41.3 321.5h1.91v8.3h-1.91z"/>
<path fill="#d5c7d1" d="M42.7 321.5h1.91v8.3h-1.91z"/>
<path fill="#b2bfdb" d="M44.1 321.5h1.91v8.3h-1.91z"/>
<path fill="#b0bedb" d="M45.5 321.5h1.91v8.3h-1.91z"/>
<path fill="#d9bdc3" d="M46.9 321.5h1.91v8.3h-1.91z"/>
<path fill="#cfc9d7" d="M48.3 321.5h1.91v8.3h-1.91z"/>
<path fill="#b9c2dc" d="M49.7 321.5h1.91v8.3h-1.91z"/>
<path fill="#dbbabe" d="M51.1 321.5h1.91v8.3h-1.91z"/>
<path fill="#bac2dc" d="M52.5 321.5h1.91v8.3h-1.91z"/>
<path fill="#a7b8da" d="M53.9 321.5h1.91v8.3h-1.91z"/>
<path fill="#c3c5da" d="M55.3 321.5h1.91v8.3h-1.91z"/>
<path fill="#acbbda" d="M56.7 321.5h1.91v8.3h-1.91z"/>
<path fill="#d1c9d7" d="M58.1 321.5h1.91v8.3h-1.91z"/>
<path fill="#d8c0c7" d="M59.5 321.5h1.91v8.3h-1.91z"/>
<path fill="#bfc4da" d="M60.9 321.5h1.91v8.3h-1.91z"/>
<path fill="#bbc3db" d="M62.3 321.5h1.91v8.3h-1.91z"/>
<path fill="#b4c0db" d="M63.7 321.5h1.91v8.3h-1.91z"/>
<path fill="#c5c6d9" d="M65.1 321.5h1.91v8.3h-1.91z"/>
<path fill="#b7c1dc" d="M66.5 321.5h1.91v8.3h-1.91z"/>
<path fill="#d5c8d3" d="M68.0 321.5h1.91v8.3h-1.91z"/>
<path fill="#8fabd6" d="M69.4 321.5h1.91v8.3h-1.91z"/>
<path fill="#bfc4db" d="M70.8 321.5h1.91v8.3h-1.91z"/>
<path fill="#bbc3db" d="M72.2 321.5h1.91v8.3h-1.91z"/>
<path fill="#bfc4da" d="M73.6 321.5h1.91v8.3h-1.91z"/>
<path fill="#d7c4cd" d="M75.0 321.5h1.91v8.3h-1.91z"/>
<path fill="#acbbda" d="M76.4 321.5h1.91v8.3h-1.91z"/>
<path fill="#d5c7d1" d="M77.8 321.5h1.91v8.3h-1.91z"/>
<path fill="#d3cad6" d="M79.2 321.5h1.91v8.3h-1.91z"/>
<path fill="#bcc3db" d="M80.6 321.5h1.91v8.3h-1.91z"/>
<path fill="#b3bfdb" d="M82.0 321.5h1.91v8.3h-1.91z"/>
<path fill="#b9c2dc" d="M83.4 321.5h1.91v8.3h-1.91z"/>
<path fill="#d5c8d3" d="M84.8 321.5h1.91v8.3h-1.91z"/>
<path fill="#b1bedb" d="M86.2 321.5h1.91v8.3h-1.91z"/>
<path fill="#d2cad6" d="M87.6 321.5h1.91v8.3h-1.91z"/>
<path fill="#dcb5b6" d="M89.0 321.5h1.91v8.3h-1.91z"/>
<path fill="#d5c9d4" d="M90.4 321.5h1.91v8.3h-1.91z"/>
<path fill="#ddb1b1" d="M91.8 321.5h1.91v8.3h-1.91z"/>
<path fill="#cdc8d7" d="M93.3 321.5h1.91v8.3h-1.91z"/>
<path fill="#b7c2dc" d="M94.7 321.5h1.91v8.3h-1.91z"/>
<path fill="#ddb0b0" d="M96.1 321.5h1.91v8.3h-1.91z"/>
<path fill="#d8c1c9" d="M97.5 321.5h1.91v8.3h-1.91z"/>
<path fill="#d7c3cc" d="M98.9 321.5h1.91v8.3h-1.91z"/>
<path fill="#d4c9d5" d="M100.3 321.5h1.91v8.3h-1.91z"/>
<path fill="#dcb5b7" d="M101.7 321.5h1.91v8.3h-1.91z"/>
<path fill="#d8bfc6" d="M103.1 321.5h1.91v8.3h-1.91z"/>
<path fill="#dabbbf" d="M104.5 321.5h1.91v8.3h-1.91z"/>
<path fill="#d7c2ca" d="M105.9 321.5h1.91v8.3h-1.91z"/>
<path fill="#d9bec5" d="M107.3 321.5h1.91v8.3h-1.91z"/>
<path fill="#dabbc0" d="M108.7 321.5h1.91v8.3h-1.91z"/>
<path fill="#d4c9d5" d="M110.1 321.5h1.91v8.3h-1.91z"/>
<path fill="#dbb9bc" d="M111.5 321.5h1.91v8.3h-1.91z"/>
<path fill="#cac7d8" d="M112.9 321.5h1.91v8.3h-1.91z"/>
<path fill="#ddafae" d="M114.3 321.5h1.91v8.3h-1.91z"/>
<path fill="#cbc8d8" d="M115.7 321.5h1.91v8.3h-1.91z"/>
<path fill="#d9bdc2" d="M117.1 321.5h1.91v8.3h-1.91z"/>
<path fill="#d5c8d4" d="M118.5 321.5h1.91v8.3h-1.91z"/>
<path fill="#d7c3cb" d="M120.0 321.5h1.91v8.3h-1.91z"/>
<path fill="#dfa49f" d="M121.4 321.5h1.91v8.3h-1.91z"/>
<path fill="#c8c7d8" d="M122.8 321.5h1.91v8.3h-1.91z"/>
<path fill="#bbc3db" d="M124.2 321.5h1.91v8.3h-1.91z"/>
<path fill="#d4cad5" d="M125.6 321.5h1.91v8.3h-1.91z"/>
<path fill="#c3c5da" d="M127.0 321.5h1.91v8.3h-1.91z"/>
<path fill="#deaba8" d="M128.4 321.5h1.91v8.3h-1.91z"/>
<path fill="#d8c1c9" d="M129.8 321.5h1.91v8.3h-1.91z"/>
<path fill="#ddafae" d="M131.2 321.5h1.91v8.3h-1.91z"/>
<path fill="#d2c9d7" d="M132.6 321.5h1.91v8.3h-1.91z"/>
<path fill="#d8c0c7" d="M134.0 321.5h1.91v8.3h-1.91z"/>
<path fill="#dabbc0" d="M135.4 321.5h1.91v8.3h-1.91z"/>
<path fill="#deacaa" d="M136.8 321.5h1.91v8.3h-1.91z"/>
<path fill="#d8c1c8" d="M138.2 321.5h1.91v8.3h-1.91z"/>
<path fill="#dabcc1" d="M139.6 321.5h1.91v8.3h-1.91z"/>
<path fill="#d9bfc5" d="M141.0 321.5h1.91v8.3h-1.91z"/>
<path fill="#d1c9d7" d="M142.4 321.5h1.91v8.3h-1.91z"/>
<path fill="#d8c1c9" d="M143.8 321.5h1.91v8.3h-1.91z"/>
<path fill="#d6c5ce" d="M145.2 321.5h1.91v8.3h-1.91z"/>
<path fill="#a9bada" d="M146.7 321.5h1.91v8.3h-1.91z"/>
<path fill="#dcb7ba" d="M148.1 321.5h1.91v8.3h-1.91z"/>
<path fill="#dababf" d="M149.5 321.5h1.91v8.3h-1.91z"/>
<path fill="#d9bdc2" d="M150.9 321.5h1.91v8.3h-1.91z"/>
<path fill="#d1c9d7" d="M152.3 321.5h1.91v8.3h-1.91z"/>
<path fill="#deaca9" d="M153.7 321.5h1.91v8.3h-1.91z"/>
<path fill="#dcb5b7" d="M155.1 321.5h1.91v8.3h-1.91z"/>
<path fill="#ddb2b3" d="M156.5 321.5h1.91v8.3h-1.91z"/>
<path fill="#dfa5a0" d="M157.9 321.5h1.91v8.3h-1.91z"/>
<path fill="#d6c4cd" d="M159.3 321.5h1.91v8.3h-1.91z"/>
<path fill="#ddaead" d="M160.7 321.5h1.91v8.3h-1.91z"/>
<path fill="#d5c8d3" d="M162.1 321.5h1.91v8.3h-1.91z"/>
<path fill="#dababe" d="M163.5 321.5h1.91v8.3h-1.91z"/>
<path fill="#d5c8d3" d="M164.9 321.5h1.91v8.3h-1.91z"/>
<path fill="#d4c9d5" d="M166.3 321.5h1.91v8.3h-1.91z"/>
<path fill="#ddafae" d="M167.7 321.5h1.91v8.3h-1.91z"/>
<path fill="#d8bfc6" d="M169.1 321.5h1.91v8.3h-1.91z"/>
<path fill="#dabbc0" d="M170.5 321.5h1.91v8.3h-1.91z"/>
<path fill="#ddb0af" d="M171.9 321.5h1.91v8.3h-1.91z"/>
<path fill="#dabbbf" d="M173.4 321.5h1.91v8.3h-1.91z"/>
<path fill="#d4cad6" d="M174.8 321.5h1.91v8.3h-1.91z"/>
<path fill="#d9bfc5" d="M176.2 321.5h1.91v8.3h-1.91z"/>
<path fill="#dcb6b8" d="M177.6 321.5h1.91v8.3h-1.91z"/>
<path fill="#d7c2c9" d="M179.0 321.5h1.91v8.3h-1.91z"/>
<path fill="#dabbc0" d="M180.4 321.5h1.91v8.3h-1.91z"/>
<path fill="#dabcc1" d="M181.8 321.5h1.91v8.3h-1.91z"/>
<path fill="#de9b93" d="M183.2 321.5h1.91v8.3h-1.91z"/>
<path fill="#ddaeac" d="M184.6 321.5h1.91v8.3h-1.91z"/>
<path fill="#ddb2b3" d="M186.0 321.5h1.91v8.3h-1.91z"/>
<path fill="#dbb8ba" d="M187.4 321.5h1.91v8.3h-1.91z"/>
<path fill="#dfa39d" d="M188.8 321.5h1.91v8.3h-1.91z"/>
<path fill="#ddb1b1" d="M190.2 321.5h1.91v8.3h-1.91z"/>
<path fill="#d9bdc3" d="M191.6 321.5h1.91v8.3h-1.91z"/>
<path fill="#deadaa" d="M193.0 321.5h1.91v8.3h-1.91z"/>
<path fill="#ddb1b1" d="M194.4 321.5h1.91v8.3h-1.91z"/>
<path fill="#dfa49e" d="M195.8 321.5h1.91v8.3h-1.91z"/>
<path fill="#dbb9bd" d="M197.2 321.5h1.91v8.3h-1.91z"/>
<path fill="#de9b93" d="M198.7 321.5h1.91v8.3h-1.91z"/>
<path fill="#cec8d7" d="M200.1 321.5h1.91v8.3h-1.91z"/>
<path fill="#ddb3b4" d="M201.5 321.5h1.91v8.3h-1.91z"/>
<path fill="#d8bfc6" d="M202.9 321.5h1.91v8.3h-1.91z"/>
<path fill="#deaba8" d="M204.3 321.5h1.91v8.3h-1.91z"/>
<path fill="#ddb3b3" d="M205.7 321.5h1.91v8.3h-1.91z"/>
<path fill="#d8c0c7" d="M207.1 321.5h1.91v8.3h-1.91z"/>
<path fill="#dfa49e" d="M208.5 321.5h1.91v8.3h-1.91z"/>
<path fill="#dea9a6" d="M209.9 321.5h1.91v8.3h-1.91z"/>
<path fill="#d9bcc1" d="M211.3 321.5h1.91v8.3h-1.91z"/>
<path fill="#dcb6b8" d="M212.7 321.5h1.91v8.3h-1.91z"/>
<path fill="#ccc8d8" d="M214.1 321.5h1.91v8.3h-1.91z"/>
<path fill="#dea9a5" d="M215.5 321.5h1.91v8.3h-1.91z"/>
<path fill="#deaba8" d="M216.9 321.5h1.91v8.3h-1.91z"/>
<path fill="#dcb6b8" d="M218.3 321.5h1.91v8.3h-1.91z"/>
<path fill="#dabcc1" d="M219.7 321.5h1.91v8.3h-1.91z"/>
<path fill="#dcb7b9" d="M221.1 321.5h1.91v8.3h-1.91z"/>
<path fill="#d8c1c9" d="M222.5 321.5h1.91v8.3h-1.91z"/>
<path fill="#dfa49e" d="M223.9 321.5h1.91v8.3h-1.91z"/>
<path fill="#e0a29b" d="M225.4 321.5h1.91v8.3h-1.91z"/>
<path fill="#d4cad6" d="M226.8 321.5h1.91v8.3h-1.91z"/>
<path fill="#dcb6b8" d="M228.2 321.5h1.91v8.3h-1.91z"/>
<path fill="#dbb9bc" d="M229.6 321.5h1.91v8.3h-1.91z"/>
<path fill="#ddb1b1" d="M231.0 321.5h1.91v8.3h-1.91z"/>
<path fill="#ddb3b4" d="M232.4 321.5h1.91v8.3h-1.91z"/>
<path fill="#ddb2b2" d="M233.8 321.5h1.91v8.3h-1.91z"/>
<path fill="#dcb5b7" d="M235.2 321.5h1.91v8.3h-1.91z"/>
<path fill="#dfa6a1" d="M236.6 321.5h1.41v8.3h-1.41z"/>
<path fill="#3569a8" d="M27.2 329.2h1.91v7.8h-1.91z"/>
<path fill="#3569a7" d="M28.6 329.2h1.91v7.8h-1.91z"/>
<path fill="#396ead" d="M30.0 329.2h1.91v7.8h-1.91z"/>
<path fill="#5089c6" d="M31.4 329.2h1.91v7.8h-1.91z"/>
<path fill="#4179b8" d="M32.8 329.2h1.91v7.8h-1.91z"/>
<path fill="#6a97cd" d="M34.2 329.2h1.91v7.8h-1.91z"/>
<path fill="#739ccf" d="M35.6 329.2h1.91v7.8h-1.91z"/>
<path fill="#7ba0d1" d="M37.0 329.2h1.91v7.8h-1.91z"/>
<path fill="#83a4d3" d="M38.4 329.2h1.91v7.8h-1.91z"/>
<path fill="#8ba8d5" d="M39.8 329.2h1.91v7.8h-1.91z"/>
<path fill="#5d90c9" d="M41.3 329.2h1.91v7.8h-1.91z"/>
<path fill="#6695cc" d="M42.7 329.2h1.91v7.8h-1.91z"/>
<path fill="#b8c2dc" d="M44.1 329.2h1.91v7.8h-1.91z"/>
<path fill="#acbbda" d="M45.5 329.2h1.91v7.8h-1.91z"/>
<path fill="#86a6d4" d="M46.9 329.2h1.91v7.8h-1.91z"/>
<path fill="#87a6d4" d="M48.3 329.2h1.91v7.8h-1.91z"/>
<path fill="#7ca1d1" d="M49.7 329.2h1.91v7.8h-1.91z"/>
<path fill="#8faad6" d="M51.1 329.2h1.91v7.8h-1.91z"/>
<path fill="#6092ca" d="M52.5 329.2h1.91v7.8h-1.91z"/>
<path fill="#95aed7" d="M53.9 329.2h1.91v7.8h-1.91z"/>
<path fill="#6e99ce" d="M55.3 329.2h1.91v7.8h-1.91z"/>
<path fill="#88a7d5" d="M56.7 329.2h1.91v7.8h-1.91z"/>
<path fill="#b0bddb" d="M58.1 329.2h1.91v7.8h-1.91z"/>
<path fill="#9eb3d8" d="M59.5 329.2h1.91v7.8h-1.91z"/>
<path fill="#abbbda" d="M60.9 329.2h1.91v7.8h-1.91z"/>
<path fill="#b8c2dc" d="M62.3 329.2h1.91v7.8h-1.91z"/>
<path fill="#a3b6d9" d="M63.7 329.2h1.91v7.8h-1.91z"/>
<path fill="#a0b4d9" d="M65.1 329.2h1.91v7.8h-1.91z"/>
<path fill="#afbddb" d="M66.5 329.2h1.91v7.8h-1.91z"/>
<path fill="#9eb3d8" d="M68.0 329.2h1.91v7.8h-1.91z"/>
<path fill="#c4c5d9" d="M69.4 329.2h1.91v7.8h-1.91z"/>
<path fill="#bac2dc" d="M70.8 329.2h1.91v7.8h-1.91z"/>
<path fill="#8eaad6" d="M72.2 329.2h1.91v7.8h-1.91z"/>
<path fill="#a9bada" d="M73.6 329.2h1.91v7.8h-1.91z"/>
<path fill="#ccc8d8" d="M75.0 329.2h1.91v7.8h-1.91z"/>
<path fill="#b6c1dc" d="M76.4 329.2h1.91v7.8h-1.91z"/>
<path fill="#d5c7d2" d="M77.8 329.2h1.91v7.8h-1.91z"/>
<path fill="#d5c7d1" d="M79.2 329.2h1.91v7.8h-1.91z"/>
<path fill="#a4b6d9" d="M80.6 329.2h1.91v7.8h-1.91z"/>
<path fill="#b4c0db" d="M82.0 329.2h1.91v7.8h-1.91z"/>
<path fill="#9cb2d8" d="M83.4 329.2h1.91v7.8h-1.91z"/>
<path fill="#bec4db" d="M84.8 329.2h1.91v7.8h-1.91z"/>
<path fill="#afbddb" d="M86.2 329.2h1.91v7.8h-1.91z"/>
<path fill="#dcb7ba" d="M87.6 329.2h1.91v7.8h-1.91z"/>
<path fill="#c9c7d8" d="M89.0 329.2h1.91v7.8h-1.91z"/>
<path fill="#789ed0" d="M90.4 329.2h1.91v7.8h-1.91z"/>
<path fill="#b7c1dc" d="M91.8 329.2h1.91v7.8h-1.91z"/>
<path fill="#c0c4da" d="M93.3 329.2h1.91v7.8h-1.91z"/>
<path fill="#9bb1d8" d="M94.7 329.2h1.91v7.8h-1.91z"/>
<path fill="#c0c4da" d="M96.1 329.2h1.91v7.8h-1.91z"/>
<path fill="#bfc4db" d="M97.5 329.2h1.91v7.8h-1.91z"/>
<path fill="#bac3dc" d="M98.9 329.2h1.91v7.8h-1.91z"/>
<path fill="#bdc4db" d="M100.3 329.2h1.91v7.8h-1.91z"/>
<path fill="#b4c0db" d="M101.7 329.2h1.91v7.8h-1.91z"/>
<path fill="#cec8d7" d="M103.1 329.2h1.91v7.8h-1.91z"/>
<path fill="#bec4db" d="M104.5 329.2h1.91v7.8h-1.91z"/>
<path fill="#b8c2dc" d="M105.9 329.2h1.91v7.8h-1.91z"/>
<path fill="#adbcda" d="M107.3 329.2h1.91v7.8h-1.91z"/>
<path fill="#c2c5da" d="M108.7 329.2h1.91v7.8h-1.91z"/>
<path fill="#cac7d8" d="M110.1 329.2h1.91v7.8h-1.91z"/>
<path fill="#a5b7d9" d="M111.5 329.2h1.91v7.8h-1.91z"/>
<path fill="#c0c4da" d="M112.9 329.2h1.91v7.8h-1.91z"/>
<path fill="#d4c9d5" d="M114.3 329.2h1.91v7.8h-1.91z"/>
<path fill="#b4bfdb" d="M115.7 329.2h1.91v7.8h-1.91z"/>
<path fill="#c6c6d9" d="M117.1 329.2h1.91v7.8h-1.91z"/>
<path fill="#b0bddb" d="M118.5 329.2h1.91v7.8h-1.91z"/>
<path fill="#dababe" d="M120.0 329.2h1.91v7.8h-1.91z"/>
<path fill="#dabbbf" d="M121.4 329.2h1.91v7.8h-1.91z"/>
<path fill="#c2c5da" d="M122.8 329.2h1.91v7.8h-1.91z"/>
<path fill="#9db3d8" d="M124.2 329.2h1.91v7.8h-1.91z"/>
<path fill="#bdc4db" d="M125.6 329.2h1.91v7.8h-1.91z"/>
<path fill="#cbc8d8" d="M127.0 329.2h1.91v7.8h-1.91z"/>
<path fill="#dabbc0" d="M128.4 329.2h1.91v7.8h-1.91z"/>
<path fill="#d2c9d6" d="M129.8 329.2h1.91v7.8h-1.91z"/>
<path fill="#dcb5b6" d="M131.2 329.2h1.91v7.8h-1.91z"/>
<path fill="#c9c7d8" d="M132.6 329.2h1.91v7.8h-1.91z"/>
<path fill="#c8c7d9" d="M134.0 329.2h1.91v7.8h-1.91z"/>
<path fill="#ccc8d8" d="M135.4 329.2h1.91v7.8h-1.91z"/>
<path fill="#d5c9d4" d="M136.8 329.2h1.91v7.8h-1.91z"/>
<path fill="#c2c5da" d="M138.2 329.2h1.91v7.8h-1.91z"/>
<path fill="#d7c2ca" d="M139.6 329.2h1.91v7.8h-1.91z"/>
<path fill="#dabbc0" d="M141.0 329.2h1.91v7.8h-1.91z"/>
<path fill="#c0c4da" d="M142.4 329.2h1.91v7.8h-1.91z"/>
<path fill="#b8c2dc" d="M143.8 329.2h1.91v7.8h-1.91z"/>
<path fill="#d5c7d1" d="M145.2 329.2h1.91v7.8h-1.91z"/>
<path fill="#bdc4db" d="M146.7 329.2h1.91v7.8h-1.91z"/>
<path fill="#a5b7d9" d="M148.1 329.2h1.91v7.8h-1.91z"/>
<path fill="#d8c1c8" d="M149.5 329.2h1.91v7.8h-1.91z"/>
<path fill="#d9bec4" d="M150.9 329.2h1.91v7.8h-1.91z"/>
<path fill="#d4cad6" d="M152.3 329.2h1.91v7.8h-1.91z"/>
<path fill="#deacaa" d="M153.7 329.2h1.91v7.8h-1.91z"/>
<path fill="#d8c0c8" d="M155.1 329.2h1.91v7.8h-1.91z"/>
<path fill="#c7c6d9" d="M156.5 329.2h1.91v7.8h-1.91z"/>
<path fill="#d9bdc3" d="M157.9 329.2h1.91v7.8h-1.91z"/>
<path fill="#c6c6d9" d="M159.3 329.2h1.91v7.8h-1.91z"/>
<path fill="#d2c9d6" d="M160.7 329.2h1.91v7.8h-1.91z"/>
<path fill="#d5c8d3" d="M162.1 329.2h1.91v7.8h-1.91z"/>
<path fill="#d4c9d5" d="M163.5 329.2h1.91v7.8h-1.91z"/>
<path fill="#c4c5d9" d="M164.9 329.2h1.91v7.8h-1.91z"/>
<path fill="#dabbbf" d="M166.3 329.2h1.91v7.8h-1.91z"/>
<path fill="#dbb9bd" d="M167.7 329.2h1.91v7.8h-1.91z"/>
<path fill="#d9bec4" d="M169.1 329.2h1.91v7.8h-1.91z"/>
<path fill="#dababe" d="M170.5 329.2h1.91v7.8h-1.91z"/>
<path fill="#deadab" d="M171.9 329.2h1.91v7.8h-1.91z"/>
<path fill="#dcb4b5" d="M173.4 329.2h1.91v7.8h-1.91z"/>
<path fill="#d6c6d0" d="M174.8 329.2h1.91v7.8h-1.91z"/>
<path fill="#dfa8a4" d="M176.2 329.2h1.91v7.8h-1.91z"/>
<path fill="#d4cad6" d="M177.6 329.2h1.91v7.8h-1.91z"/>
<path fill="#d6c5ce" d="M179.0 329.2h1.91v7.8h-1.91z"/>
<path fill="#c6c6d9" d="M180.4 329.2h1.91v7.8h-1.91z"/>
<path fill="#d8bfc6" d="M181.8 329.2h1.91v7.8h-1.91z"/>
<path fill="#dcb4b6" d="M183.2 329.2h1.91v7.8h-1.91z"/>
<path fill="#ddb2b3" d="M184.6 329.2h1.91v7.8h-1.91z"/>
<path fill="#d5c8d3" d="M186.0 329.2h1.91v7.8h-1.91z"/>
<path fill="#d9bdc3" d="M187.4 329.2h1.91v7.8h-1.91z"/>
<path fill="#d4c9d5" d="M188.8 329.2h1.91v7.8h-1.91z"/>
<path fill="#d6c5cf" d="M190.2 329.2h1.91v7.8h-1.91z"/>
<path fill="#c8c6d9" d="M191.6 329.2h1.91v7.8h-1.91z"/>
<path fill="#dcb5b6" d="M193.0 329.2h1.91v7.8h-1.91z"/>
<path fill="#c8c7d8" d="M194.4 329.2h1.91v7.8h-1.91z"/>
<path fill="#dbb9bd" d="M195.8 329.2h1.91v7.8h-1.91z"/>
<path fill="#d8bfc5" d="M197.2 329.2h1.91v7.8h-1.91z"/>
<path fill="#d6c4ce" d="M198.7 329.2h1.91v7.8h-1.91z"/>
<path fill="#c3c5da" d="M200.1 329.2h1.91v7.8h-1.91z"/>
<path fill="#c5c6d9" d="M201.5 329.2h1.91v7.8h-1.91z"/>
<path fill="#e0a199" d="M202.9 329.2h1.91v7.8h-1.91z"/>
<path fill="#bdc4db" d="M204.3 329.2h1.91v7.8h-1.91z"/>
<path fill="#e0a19a" d="M205.7 329.2h1.91v7.8h-1.91z"/>
<path fill="#dabcc1" d="M207.1 329.2h1.91v7.8h-1.91z"/>
<path fill="#dbb8bb" d="M208.5 329.2h1.91v7.8h-1.91z"/>
<path fill="#cfc9d7" d="M209.9 329.2h1.91v7.8h-1.91z"/>
<path fill="#dfa6a1" d="M211.3 329.2h1.91v7.8h-1.91z"/>
<path fill="#e0a29a" d="M212.7 329.2h1.91v7.8h-1.91z"/>
<path fill="#cfc8d7" d="M214.1 329.2h1.91v7.8h-1.91z"/>
<path fill="#ddb2b2" d="M215.5 329.2h1.91v7.8h-1.91z"/>
<path fill="#e0a199" d="M216.9 329.2h1.91v7.8h-1.91z"/>
<path fill="#ddb2b2" d="M218.3 329.2h1.91v7.8h-1.91z"/>
<path fill="#e09f97" d="M219.7 329.2h1.91v7.8h-1.91z"/>
<path fill="#d9bdc3" d="M221.1 329.2h1.91v7.8h-1.91z"/>
<path fill="#dcb4b5" d="M222.5 329.2h1.91v7.8h-1.91z"/>
<path fill="#d9bdc3" d="M223.9 329.2h1.91v7.8h-1.91z"/>
<path fill="#df9d95" d="M225.4 329.2h1.91v7.8h-1.91z"/>
<path fill="#d9bdc3" d="M226.8 329.2h1.91v7.8h-1.91z"/>
<path fill="#c3c5da" d="M228.2 329.2h1.91v7.8h-1.91z"/>
<path fill="#dbb8bb" d="M229.6 329.2h1.91v7.8h-1.91z"/>
<path fill="#d9bcc2" d="M231.0 329.2h1.91v7.8h-1.91z"/>
<path fill="#d98b84" d="M232.4 329.2h1.91v7.8h-1.91z"/>
<path fill="#dcb7b9" d="M233.8 329.2h1.91v7.8h-1.91z"/>
<path fill="#deaca9" d="M235.2 329.2h1.91v7.8h-1.91z"/>
<path fill="#deaaa7" d="M236.6 329.2h1.41v7.8h-1.41z"/>
</g>
<g filter="url(#hb)">
<path fill="#ddb2b2" d="M7.4 236.0h1.92v8.3h-1.92z"/>
<path fill="#c2c5da" d="M8.8 236.0h1.92v8.3h-1.92z"/>
<path fill="#d9bec4" d="M10.2 236.0h1.92v8.3h-1.92z"/>
<path fill="#d4cad5" d="M11.7 236.0h1.92v8.3h-1.92z"/>
<path fill="#bbc3db" d="M13.1 236.0h1.92v8.3h-1.92z"/>
<path fill="#c6c6d9" d="M14.5 236.0h1.92v8.3h-1.92z"/>
<path fill="#c5c6d9" d="M15.9 236.0h1.92v8.3h-1.92z"/>
<path fill="#a4b6d9" d="M17.4 236.0h1.92v8.3h-1.92z"/>
<path fill="#dbbabe" d="M18.8 236.0h1.92v8.3h-1.92z"/>
<path fill="#92acd7" d="M20.2 236.0h1.92v8.3h-1.92z"/>
<path fill="#dabbbf" d="M21.6 236.0h1.92v8.3h-1.92z"/>
<path fill="#d8c0c6" d="M23.1 236.0h1.92v8.3h-1.92z"/>
<path fill="#c1c5da" d="M24.5 236.0h1.42v8.3h-1.42z"/>
<path fill="#82a4d3" d="M7.4 243.8h1.92v8.3h-1.92z"/>
<path fill="#98b0d7" d="M8.8 243.8h1.92v8.3h-1.92z"/>
<path fill="#b2bfdb" d="M10.2 243.8h1.92v8.3h-1.92z"/>
<path fill="#bcc3db" d="M11.7 243.8h1.92v8.3h-1.92z"/>
<path fill="#abbbda" d="M13.1 243.8h1.92v8.3h-1.92z"/>
<path fill="#c4c5d9" d="M14.5 243.8h1.92v8.3h-1.92z"/>
<path fill="#8ba9d5" d="M15.9 243.8h1.92v8.3h-1.92z"/>
<path fill="#a9bada" d="M17.4 243.8h1.92v8.3h-1.92z"/>
<path fill="#5e90c9" d="M18.8 243.8h1.92v8.3h-1.92z"/>
<path fill="#bcc3db" d="M20.2 243.8h1.92v8.3h-1.92z"/>
<path fill="#a6b8d9" d="M21.6 243.8h1.92v8.3h-1.92z"/>
<path fill="#91acd6" d="M23.1 243.8h1.92v8.3h-1.92z"/>
<path fill="#c9c7d8" d="M24.5 243.8h1.42v8.3h-1.42z"/>
<path fill="#dea8a4" d="M7.4 251.5h1.92v8.3h-1.92z"/>
<path fill="#90abd6" d="M8.8 251.5h1.92v8.3h-1.92z"/>
<path fill="#dcb5b7" d="M10.2 251.5h1.92v8.3h-1.92z"/>
<path fill="#c1c5da" d="M11.7 251.5h1.92v8.3h-1.92z"/>
<path fill="#e0a19a" d="M13.1 251.5h1.92v8.3h-1.92z"/>
<path fill="#d0706b" d="M14.5 251.5h1.92v8.3h-1.92z"/>
<path fill="#d7c2ca" d="M15.9 251.5h1.92v8.3h-1.92z"/>
<path fill="#dcb5b6" d="M17.4 251.5h1.92v8.3h-1.92z"/>
<path fill="#dabcc1" d="M18.8 251.5h1.92v8.3h-1.92z"/>
<path fill="#ddafae" d="M20.2 251.5h1.92v8.3h-1.92z"/>
<path fill="#dea9a6" d="M21.6 251.5h1.92v8.3h-1.92z"/>
<path fill="#de9a93" d="M23.1 251.5h1.92v8.3h-1.92z"/>
<path fill="#d0c9d7" d="M24.5 251.5h1.42v8.3h-1.42z"/>
<path fill="#deadab" d="M7.4 259.3h1.92v8.3h-1.92z"/>
<path fill="#adbbda" d="M8.8 259.3h1.92v8.3h-1.92z"/>
<path fill="#d4c9d5" d="M10.2 259.3h1.92v8.3h-1.92z"/>
<path fill="#dcb5b7" d="M11.7 259.3h1.92v8.3h-1.92z"/>
<path fill="#d8bfc6" d="M13.1 259.3h1.92v8.3h-1.92z"/>
<path fill="#acbbda" d="M14.5 259.3h1.92v8.3h-1.92z"/>
<path fill="#b5c0dc" d="M15.9 259.3h1.92v8.3h-1.92z"/>
<path fill="#bdc3db" d="M17.4 259.3h1.92v8.3h-1.92z"/>
<path fill="#cac7d8" d="M18.8 259.3h1.92v8.3h-1.92z"/>
<path fill="#dcb6b7" d="M20.2 259.3h1.92v8.3h-1.92z"/>
<path fill="#9fb4d8" d="M21.6 259.3h1.92v8.3h-1.92z"/>
<path fill="#d6c5cf" d="M23.1 259.3h1.92v8.3h-1.92z"/>
<path fill="#d7c2ca" d="M24.5 259.3h1.42v8.3h-1.42z"/>
<path fill="#6f99ce" d="M7.4 267.1h1.92v8.3h-1.92z"/>
<path fill="#6a97cd" d="M8.8 267.1h1.92v8.3h-1.92z"/>
<path fill="#ddaead" d="M10.2 267.1h1.92v8.3h-1.92z"/>
<path fill="#d6c5ce" d="M11.7 267.1h1.92v8.3h-1.92z"/>
<path fill="#dabcc1" d="M13.1 267.1h1.92v8.3h-1.92z"/>
<path fill="#d7c3cb" d="M14.5 267.1h1.92v8.3h-1.92z"/>
<path fill="#dea9a5" d="M15.9 267.1h1.92v8.3h-1.92z"/>
<path fill="#87a6d4" d="M17.4 267.1h1.92v8.3h-1.92z"/>
<path fill="#ddb3b4" d="M18.8 267.1h1.92v8.3h-1.92z"/>
<path fill="#c4c5da" d="M20.2 267.1h1.92v8.3h-1.92z"/>
<path fill="#c3c5da" d="M21.6 267.1h1.92v8.3h-1.92z"/>
<path fill="#abbbda" d="M23.1 267.1h1.92v8.3h-1.92z"/>
<path fill="#89a7d5" d="M24.5 267.1h1.42v8.3h-1.42z"/>
<path fill="#6695cb" d="M7.4 274.8h1.92v8.3h-1.92z"/>
<path fill="#588ec8" d="M8.8 274.8h1.92v8.3h-1.92z"/>
<path fill="#8eaad6" d="M10.2 274.8h1.92v8.3h-1.92z"/>
<path fill="#4179b7" d="M11.7 274.8h1.92v8.3h-1.92z"/>
<path fill="#b1bedb" d="M13.1 274.8h1.92v8.3h-1.92z"/>
<path fill="#84a5d3" d="M14.5 274.8h1.92v8.3h-1.92z"/>
<path fill="#6c98cd" d="M15.9 274.8h1.92v8.3h-1.92z"/>
<path fill="#578dc7" d="M17.4 274.8h1.92v8.3h-1.92z"/>
<path fill="#548bc7" d="M18.8 274.8h1.92v8.3h-1.92z"/>
<path fill="#4782c1" d="M20.2 274.8h1.92v8.3h-1.92z"/>
<path fill="#5f91c9" d="M21.6 274.8h1.92v8.3h-1.92z"/>
<path fill="#789ed0" d="M23.1 274.8h1.92v8.3h-1.92z"/>
<path fill="#6f9ace" d="M24.5 274.8h1.42v8.3h-1.42z"/>
<path fill="#c7c6d9" d="M7.4 282.6h1.92v8.3h-1.92z"/>
<path fill="#dbb9bd" d="M8.8 282.6h1.92v8.3h-1.92z"/>
<path fill="#d5c8d2" d="M10.2 282.6h1.92v8.3h-1.92z"/>
<path fill="#ddb0b0" d="M11.7 282.6h1.92v8.3h-1.92z"/>
<path fill="#d6817b" d="M13.1 282.6h1.92v8.3h-1.92z"/>
<path fill="#dfa7a3" d="M14.5 282.6h1.92v8.3h-1.92z"/>
<path fill="#dababe" d="M15.9 282.6h1.92v8.3h-1.92z"/>
<path fill="#c0c4da" d="M17.4 282.6h1.92v8.3h-1.92z"/>
<path fill="#c7c6d9" d="M18.8 282.6h1.92v8.3h-1.92z"/>
<path fill="#bec4db" d="M20.2 282.6h1.92v8.3h-1.92z"/>
<path fill="#dfa5a0" d="M21.6 282.6h1.92v8.3h-1.92z"/>
<path fill="#d6c5ce" d="M23.1 282.6h1.92v8.3h-1.92z"/>
<path fill="#ddb2b3" d="M24.5 282.6h1.42v8.3h-1.42z"/>
<path fill="#93add7" d="M7.4 290.4h1.92v8.3h-1.92z"/>
<path fill="#adbcda" d="M8.8 290.4h1.92v8.3h-1.92z"/>
<path fill="#d5c7d1" d="M10.2 290.4h1.92v8.3h-1.92z"/>
<path fill="#90abd6" d="M11.7 290.4h1.92v8.3h-1.92z"/>
<path fill="#9db3d8" d="M13.1 290.4h1.92v8.3h-1.92z"/>
<path fill="#8ba9d5" d="M14.5 290.4h1.92v8.3h-1.92z"/>
<path fill="#c8c7d9" d="M15.9 290.4h1.92v8.3h-1.92z"/>
<path fill="#82a3d3" d="M17.4 290.4h1.92v8.3h-1.92z"/>
<path fill="#7da1d1" d="M18.8 290.4h1.92v8.3h-1.92z"/>
<path fill="#719bce" d="M20.2 290.4h1.92v8.3h-1.92z"/>
<path fill="#709ace" d="M21.6 290.4h1.92v8.3h-1.92z"/>
<path fill="#bbc3db" d="M23.1 290.4h1.92v8.3h-1.92z"/>
<path fill="#deadab" d="M24.5 290.4h1.42v8.3h-1.42z"/>
<path fill="#98afd7" d="M7.4 298.2h1.92v8.3h-1.92z"/>
<path fill="#d6c5cf" d="M8.8 298.2h1.92v8.3h-1.92z"/>
<path fill="#c4c5d9" d="M10.2 298.2h1.92v8.3h-1.92z"/>
<path fill="#94add7" d="M11.7 298.2h1.92v8.3h-1.92z"/>
<path fill="#b2bfdb" d="M13.1 298.2h1.92v8.3h-1.92z"/>
<path fill="#b4c0db" d="M14.5 298.2h1.92v8.3h-1.92z"/>
<path fill="#a3b6d9" d="M15.9 298.2h1.92v8.3h-1.92z"/>
<path fill="#ddb0af" d="M17.4 298.2h1.92v8.3h-1.92z"/>
<path fill="#709ace" d="M18.8 298.2h1.92v8.3h-1.92z"/>
<path fill="#c8c7d9" d="M20.2 298.2h1.92v8.3h-1.92z"/>
<path fill="#c7c6d9" d="M21.6 298.2h1.92v8.3h-1.92z"/>
<path fill="#a7b8da" d="M23.1 298.2h1.92v8.3h-1.92z"/>
<path fill="#c1c5da" d="M24.5 298.2h1.42v8.3h-1.42z"/>
<path fill="#deacaa" d="M7.4 305.9h1.92v8.3h-1.92z"/>
<path fill="#dabbc0" d="M8.8 305.9h1.92v8.3h-1.92z"/>
<path fill="#dcb5b7" d="M10.2 305.9h1.92v8.3h-1.92z"/>
<path fill="#ddb0af" d="M11.7 305.9h1.92v8.3h-1.92z"/>
<path fill="#9fb4d8" d="M13.1 305.9h1.92v8.3h-1.92z"/>
<path fill="#e0a099" d="M14.5 305.9h1.92v8.3h-1.92z"/>
<path fill="#d7847e" d="M15.9 305.9h1.92v8.3h-1.92z"/>
<path fill="#deaaa7" d="M17.4 305.9h1.92v8.3h-1.92z"/>
<path fill="#deaaa6" d="M18.8 305.9h1.92v8.3h-1.92z"/>
<path fill="#b7c1dc" d="M20.2 305.9h1.92v8.3h-1.92z"/>
<path fill="#d7c1c9" d="M21.6 305.9h1.92v8.3h-1.92z"/>
<path fill="#cac7d8" d="M23.1 305.9h1.92v8.3h-1.92z"/>
<path fill="#d1c9d7" d="M24.5 305.9h1.42v8.3h-1.42z"/>
<path fill="#cbc7d8" d="M7.4 313.7h1.92v8.3h-1.92z"/>
<path fill="#8ca9d5" d="M8.8 313.7h1.92v8.3h-1.92z"/>
<path fill="#a5b7d9" d="M10.2 313.7h1.92v8.3h-1.92z"/>
<path fill="#598ec8" d="M11.7 313.7h1.92v8.3h-1.92z"/>
<path fill="#a4b7d9" d="M13.1 313.7h1.92v8.3h-1.92z"/>
<path fill="#adbcda" d="M14.5 313.7h1.92v8.3h-1.92z"/>
<path fill="#90abd6" d="M15.9 313.7h1.92v8.3h-1.92z"/>
<path fill="#8fabd6" d="M17.4 313.7h1.92v8.3h-1.92z"/>
<path fill="#dabbc0" d="M18.8 313.7h1.92v8.3h-1.92z"/>
<path fill="#799fd0" d="M20.2 313.7h1.92v8.3h-1.92z"/>
<path fill="#80a3d2" d="M21.6 313.7h1.92v8.3h-1.92z"/>
<path fill="#8ba9d5" d="M23.1 313.7h1.92v8.3h-1.92z"/>
<path fill="#d2cad6" d="M24.5 313.7h1.42v8.3h-1.42z"/>
<path fill="#ddafae" d="M7.4 321.5h1.92v8.3h-1.92z"/>
<path fill="#c3c5da" d="M8.8 321.5h1.92v8.3h-1.92z"/>
<path fill="#9db3d8" d="M10.2 321.5h1.92v8.3h-1.92z"/>
<path fill="#a8b9da" d="M11.7 321.5h1.92v8.3h-1.92z"/>
<path fill="#d6c6cf" d="M13.1 321.5h1.92v8.3h-1.92z"/>
<path fill="#96afd7" d="M14.5 321.5h1.92v8.3h-1.92z"/>
<path fill="#d9bdc2" d="M15.9 321.5h1.92v8.3h-1.92z"/>
<path fill="#d9bec3" d="M17.4 321.5h1.92v8.3h-1.92z"/>
<path fill="#bac3dc" d="M18.8 321.5h1.92v8.3h-1.92z"/>
<path fill="#cdc8d8" d="M20.2 321.5h1.92v8.3h-1.92z"/>
<path fill="#d0c9d7" d="M21.6 321.5h1.92v8.3h-1.92z"/>
<path fill="#dababf" d="M23.1 321.5h1.92v8.3h-1.92z"/>
<path fill="#91acd6" d="M24.5 321.5h1.42v8.3h-1.42z"/>
<path fill="#cac7d8" d="M7.4 329.2h1.92v7.8h-1.92z"/>
<path fill="#93add7" d="M8.8 329.2h1.92v7.8h-1.92z"/>
<path fill="#82a4d3" d="M10.2 329.2h1.92v7.8h-1.92z"/>
<path fill="#a4b7d9" d="M11.7 329.2h1.92v7.8h-1.92z"/>
<path fill="#99b0d8" d="M13.1 329.2h1.92v7.8h-1.92z"/>
<path fill="#789ed0" d="M14.5 329.2h1.92v7.8h-1.92z"/>
<path fill="#5c90c9" d="M15.9 329.2h1.92v7.8h-1.92z"/>
<path fill="#7a9fd1" d="M17.4 329.2h1.92v7.8h-1.92z"/>
<path fill="#d2cad6" d="M18.8 329.2h1.92v7.8h-1.92z"/>
<path fill="#d8bfc6" d="M20.2 329.2h1.92v7.8h-1.92z"/>
<path fill="#b9c2dc" d="M21.6 329.2h1.92v7.8h-1.92z"/>
<path fill="#cac7d8" d="M23.1 329.2h1.92v7.8h-1.92z"/>
<path fill="#8daad6" d="M24.5 329.2h1.42v7.8h-1.42z"/>
</g>
<text x="241.20" y="234.60" font-size="6.4" fill="#222">TSP1 (%) - kMeans</text>
<text x="241.20" y="242.18" font-size="6.4" fill="#222">CCR9</text>
<text x="241.20" y="249.95" font-size="6.4" fill="#222">CCR7</text>
<text x="241.20" y="257.72" font-size="6.4" fill="#222">CD44</text>
<text x="241.20" y="265.49" font-size="6.4" fill="#222">CD34</text>
<text x="241.20" y="273.26" font-size="6.4" fill="#222">HOPX</text>
<text x="241.20" y="281.03" font-size="6.4" fill="#222">CD52</text>
<text x="241.20" y="288.80" font-size="6.4" fill="#222">HOXA9</text>
<text x="241.20" y="296.57" font-size="6.4" fill="#222">CD164</text>
<text x="241.20" y="304.34" font-size="6.4" fill="#222">HOXA10</text>
<text x="241.20" y="312.11" font-size="6.4" fill="#222">EVL</text>
<text x="241.20" y="319.88" font-size="6.4" fill="#222">MME</text>
<text x="241.20" y="327.65" font-size="6.4" fill="#222">MEIS1</text>
<text x="241.20" y="335.42" font-size="6.4" fill="#222">MEF2C</text>
<text x="309.20" y="263.00" font-size="6.4" text-anchor="middle" fill="#333">Scaled Gene</text>
<text x="309.20" y="270.50" font-size="6.4" text-anchor="middle" fill="#333">Expression</text>
<defs><linearGradient id="gb" x1="0" y1="0" x2="0" y2="1"><stop offset="0" stop-color="#7a0a1a"/><stop offset="0.22" stop-color="#c2303a"/><stop offset="0.4" stop-color="#f0a98c"/><stop offset="0.52" stop-color="#faf0e8"/><stop offset="0.65" stop-color="#c8e0f0"/><stop offset="0.82" stop-color="#3a88c0"/><stop offset="1" stop-color="#102f6a"/></linearGradient></defs>
<rect x="298.20" y="276.30" width="6.00" height="28.30" fill="url(#gb)"/>
<text x="305.60" y="279.50" font-size="6.6" fill="#333">2</text>
<text x="305.60" y="286.10" font-size="6.6" fill="#333">1</text>
<text x="305.60" y="292.80" font-size="6.6" fill="#333">0</text>
<text x="305.00" y="299.40" font-size="6.6" fill="#333">−1</text>
<text x="305.00" y="305.80" font-size="6.6" fill="#333">−2</text>
<g stroke="#231f20" stroke-width="0.8" fill="none"><rect x="7.4" y="345.3" width="96.3" height="39.1"/><line x1="7.4" y1="358.6" x2="103.7" y2="358.6"/><line x1="53.3" y1="371.5" x2="103.7" y2="371.5"/><line x1="53.3" y1="358.6" x2="53.3" y2="384.4"/><line x1="78.3" y1="358.6" x2="78.3" y2="384.4"/></g>
<text transform="translate(55.20 354.00) scale(0.9494 1)" font-size="6.6" text-anchor="middle" fill="#222">Frequencies of TSP1-High cells</text>
<text transform="translate(30.00 373.70) scale(0.9358 1)" font-size="6.6" text-anchor="middle" fill="#222">MLP</text>
<text transform="translate(66.30 366.70) scale(1.0100 1)" font-size="6.6" text-anchor="middle" fill="#222">BM</text>
<text transform="translate(90.40 366.70) scale(1.0509 1)" font-size="6.6" text-anchor="middle" fill="#222">3.03</text>
<text transform="translate(66.20 380.40) scale(0.8404 1)" font-size="6.6" text-anchor="middle" fill="#222">PB</text>
<text transform="translate(90.60 380.40) scale(1.0172 1)" font-size="6.6" text-anchor="middle" fill="#222">18.65</text>
<text transform="translate(342.90 276.20) scale(0.9512 1)" font-size="11.5" font-weight="bold" fill="#000">D</text>
<text transform="translate(418.70 272.10) scale(0.9865 1)" font-size="6.3" fill="#222">RNA Source</text>
<rect x="419.50" y="276.50" width="6.40" height="6.40" fill="#c41f2e"/>
<text transform="translate(428.70 282.00) scale(1.0476 1)" font-size="6.3" fill="#222">BM</text>
<rect x="445.10" y="276.50" width="6.40" height="6.40" fill="#1f3f94"/>
<text transform="translate(454.70 282.00) scale(0.8567 1)" font-size="6.3" fill="#222">PB</text>
<rect x="468.20" y="276.50" width="6.40" height="6.40" fill="#a9a9d9"/>
<text x="478.00" y="282.00" font-size="6.3" fill="#222">thymus</text>
<path d="M383.5,329.5C384.6,328.3 385.9,327.8 388.0,327.5C390.1,327.2 393.5,328.0 396.0,327.8C398.5,327.6 400.5,326.9 403.0,326.4C405.5,325.9 408.9,325.1 411.0,325.0C413.1,324.9 414.1,325.8 415.7,325.8C417.3,325.8 418.7,325.2 420.4,325.0C422.1,324.8 424.0,324.8 425.8,324.4C427.6,324.0 429.4,323.0 431.0,322.4C432.6,321.8 434.1,320.9 435.2,321.0C436.3,321.1 437.2,321.5 437.9,323.0C438.6,324.5 438.5,327.5 439.2,330.0C439.9,332.5 441.0,335.5 442.0,338.0C443.0,340.5 443.9,342.5 445.0,345.0C446.1,347.5 447.2,350.1 448.5,353.0C449.8,355.9 451.5,359.8 453.0,362.3C454.5,364.8 455.9,366.6 457.7,368.0C459.4,369.4 461.6,370.1 463.5,370.4C465.4,370.7 467.4,369.7 469.2,369.8C471.0,369.9 473.1,370.1 474.4,371.0C475.6,371.9 476.2,373.4 476.7,375.0C477.2,376.6 477.5,379.1 477.3,380.8C477.1,382.5 476.8,384.3 475.6,385.4C474.5,386.4 472.2,387.1 470.4,387.1C468.6,387.1 466.5,386.2 464.6,385.4C462.7,384.5 460.5,383.5 458.8,382.0C457.1,380.5 455.7,378.1 454.2,376.2C452.7,374.3 451.3,372.3 449.6,370.4C447.9,368.5 445.9,366.2 443.8,364.6C441.7,363.0 439.3,361.9 437.0,361.0C434.7,360.1 432.2,360.2 430.0,359.5C427.8,358.8 425.6,357.1 424.0,356.5C422.4,355.9 422.1,355.9 420.4,355.8C418.7,355.7 415.8,355.2 413.6,355.6C411.4,356.0 409.0,357.4 407.0,358.0C405.0,358.6 402.3,360.1 401.5,359.4C400.7,358.7 402.2,356.2 402.2,354.0C402.2,351.8 401.9,348.2 401.5,346.0C401.1,343.8 401.3,341.4 400.0,340.6C398.7,339.8 395.3,341.2 393.5,341.2C391.7,341.2 390.6,340.9 389.0,340.5C387.4,340.1 385.2,339.5 384.0,338.5C382.8,337.5 381.6,336.0 381.5,334.5C381.4,333.0 382.4,330.7 383.5,329.5Z" fill="#b0b0da"/>
<path d="M406.7 326.2h0.8v0.8h-0.8zM426.3 332.2h0.8v0.8h-0.8zM441.5 348.4h0.8v0.8h-0.8zM432.6 332.5h0.8v0.8h-0.8zM475.6 383.8h0.8v0.8h-0.8zM470.3 375.6h0.8v0.8h-0.8zM432.4 340.9h0.8v0.8h-0.8zM456.2 376.2h0.8v0.8h-0.8zM407.1 346.7h0.8v0.8h-0.8zM405.7 332.7h0.8v0.8h-0.8zM402.9 338.1h0.8v0.8h-0.8zM474.2 371.4h0.8v0.8h-0.8zM424.5 330.0h0.8v0.8h-0.8zM444.2 346.8h0.8v0.8h-0.8zM426.1 351.5h0.8v0.8h-0.8zM454.9 367.0h0.8v0.8h-0.8zM473.2 378.4h0.8v0.8h-0.8zM457.0 377.3h0.8v0.8h-0.8zM419.0 339.9h0.8v0.8h-0.8zM402.7 338.7h0.8v0.8h-0.8zM407.0 338.2h0.8v0.8h-0.8zM430.9 327.6h0.8v0.8h-0.8zM435.5 357.4h0.8v0.8h-0.8zM467.0 372.9h0.8v0.8h-0.8zM465.9 374.4h0.8v0.8h-0.8zM452.8 366.9h0.8v0.8h-0.8zM427.4 338.8h0.8v0.8h-0.8zM413.9 354.9h0.8v0.8h-0.8zM465.8 382.8h0.8v0.8h-0.8zM449.2 361.0h0.8v0.8h-0.8zM421.6 344.5h0.8v0.8h-0.8zM428.4 335.7h0.8v0.8h-0.8zM422.5 354.6h0.8v0.8h-0.8zM445.1 361.6h0.8v0.8h-0.8zM406.0 345.9h0.8v0.8h-0.8zM462.4 383.5h0.8v0.8h-0.8zM473.6 377.8h0.8v0.8h-0.8zM404.8 350.4h0.8v0.8h-0.8zM448.0 356.7h0.8v0.8h-0.8zM405.1 355.3h0.8v0.8h-0.8zM440.8 362.7h0.8v0.8h-0.8zM411.6 332.7h0.8v0.8h-0.8zM463.6 371.5h0.8v0.8h-0.8zM435.1 332.8h0.8v0.8h-0.8zM439.9 340.0h0.8v0.8h-0.8zM430.6 351.4h0.8v0.8h-0.8zM459.8 377.9h0.8v0.8h-0.8zM391.7 339.0h0.8v0.8h-0.8zM444.5 346.1h0.8v0.8h-0.8zM422.0 347.6h0.8v0.8h-0.8zM399.9 327.2h0.8v0.8h-0.8zM412.5 351.2h0.8v0.8h-0.8zM459.2 371.4h0.8v0.8h-0.8zM419.5 337.4h0.8v0.8h-0.8zM403.9 355.3h0.8v0.8h-0.8zM383.3 337.3h0.8v0.8h-0.8zM402.3 342.3h0.8v0.8h-0.8zM423.6 350.6h0.8v0.8h-0.8zM434.0 352.3h0.8v0.8h-0.8zM384.6 338.6h0.8v0.8h-0.8zM417.0 355.2h0.8v0.8h-0.8zM475.9 374.9h0.8v0.8h-0.8zM405.8 333.6h0.8v0.8h-0.8zM431.8 359.6h0.8v0.8h-0.8zM465.7 384.9h0.8v0.8h-0.8zM437.6 329.2h0.8v0.8h-0.8zM431.2 325.7h0.8v0.8h-0.8zM392.2 329.1h0.8v0.8h-0.8zM410.4 341.5h0.8v0.8h-0.8zM450.5 364.8h0.8v0.8h-0.8zM389.3 335.0h0.8v0.8h-0.8zM432.3 338.2h0.8v0.8h-0.8zM444.8 350.4h0.8v0.8h-0.8zM444.4 350.1h0.8v0.8h-0.8zM457.1 368.3h0.8v0.8h-0.8zM421.9 343.3h0.8v0.8h-0.8zM408.1 335.1h0.8v0.8h-0.8zM422.8 331.7h0.8v0.8h-0.8zM410.6 334.1h0.8v0.8h-0.8zM435.9 336.6h0.8v0.8h-0.8zM441.8 342.0h0.8v0.8h-0.8zM413.5 351.6h0.8v0.8h-0.8zM435.4 353.4h0.8v0.8h-0.8zM446.7 353.5h0.8v0.8h-0.8zM420.7 350.2h0.8v0.8h-0.8zM460.1 381.7h0.8v0.8h-0.8zM474.2 372.5h0.8v0.8h-0.8zM419.5 347.9h0.8v0.8h-0.8zM407.2 338.9h0.8v0.8h-0.8zM404.3 327.8h0.8v0.8h-0.8zM434.6 350.5h0.8v0.8h-0.8zM449.8 363.3h0.8v0.8h-0.8zM419.5 350.5h0.8v0.8h-0.8zM432.4 327.3h0.8v0.8h-0.8zM406.5 330.7h0.8v0.8h-0.8zM431.2 350.2h0.8v0.8h-0.8zM449.5 358.1h0.8v0.8h-0.8zM441.0 359.5h0.8v0.8h-0.8zM472.2 385.7h0.8v0.8h-0.8zM386.8 334.5h0.8v0.8h-0.8zM419.8 325.6h0.8v0.8h-0.8zM422.2 336.2h0.8v0.8h-0.8zM435.1 324.3h0.8v0.8h-0.8zM400.6 337.4h0.8v0.8h-0.8zM441.2 353.7h0.8v0.8h-0.8zM407.7 341.3h0.8v0.8h-0.8zM414.8 333.9h0.8v0.8h-0.8zM425.2 354.4h0.8v0.8h-0.8zM467.4 376.3h0.8v0.8h-0.8zM433.8 324.4h0.8v0.8h-0.8zM422.7 345.8h0.8v0.8h-0.8zM420.3 345.1h0.8v0.8h-0.8zM419.6 330.5h0.8v0.8h-0.8zM460.8 380.6h0.8v0.8h-0.8zM446.2 359.9h0.8v0.8h-0.8zM437.2 360.7h0.8v0.8h-0.8zM426.0 344.8h0.8v0.8h-0.8zM434.4 331.8h0.8v0.8h-0.8zM434.8 348.3h0.8v0.8h-0.8zM410.0 347.5h0.8v0.8h-0.8zM432.9 323.9h0.8v0.8h-0.8zM427.2 334.3h0.8v0.8h-0.8zM417.3 345.1h0.8v0.8h-0.8zM427.2 329.0h0.8v0.8h-0.8zM432.2 326.9h0.8v0.8h-0.8zM445.5 364.2h0.8v0.8h-0.8zM412.2 335.2h0.8v0.8h-0.8zM405.8 342.6h0.8v0.8h-0.8zM437.5 345.4h0.8v0.8h-0.8zM450.9 367.6h0.8v0.8h-0.8zM428.4 341.3h0.8v0.8h-0.8zM441.7 350.2h0.8v0.8h-0.8zM467.7 382.1h0.8v0.8h-0.8zM437.3 325.7h0.8v0.8h-0.8zM438.7 336.9h0.8v0.8h-0.8zM418.7 346.0h0.8v0.8h-0.8zM422.4 346.8h0.8v0.8h-0.8zM430.8 350.3h0.8v0.8h-0.8zM426.6 349.0h0.8v0.8h-0.8zM446.2 357.1h0.8v0.8h-0.8zM439.7 339.8h0.8v0.8h-0.8zM403.3 357.5h0.8v0.8h-0.8zM414.5 328.4h0.8v0.8h-0.8zM449.8 366.7h0.8v0.8h-0.8zM468.7 373.7h0.8v0.8h-0.8zM405.7 352.7h0.8v0.8h-0.8zM441.9 341.8h0.8v0.8h-0.8zM435.0 349.1h0.8v0.8h-0.8zM454.0 370.7h0.8v0.8h-0.8zM383.4 333.2h0.8v0.8h-0.8zM447.8 367.7h0.8v0.8h-0.8zM425.7 356.8h0.8v0.8h-0.8zM438.3 338.6h0.8v0.8h-0.8zM416.2 327.8h0.8v0.8h-0.8zM441.9 356.6h0.8v0.8h-0.8zM440.1 339.5h0.8v0.8h-0.8zM476.0 373.8h0.8v0.8h-0.8zM384.8 335.8h0.8v0.8h-0.8zM451.5 360.9h0.8v0.8h-0.8zM423.5 326.7h0.8v0.8h-0.8zM441.0 349.0h0.8v0.8h-0.8zM401.3 336.9h0.8v0.8h-0.8zM460.2 377.0h0.8v0.8h-0.8zM403.1 335.3h0.8v0.8h-0.8zM403.0 334.6h0.8v0.8h-0.8zM404.8 330.1h0.8v0.8h-0.8zM421.9 354.2h0.8v0.8h-0.8zM399.9 328.7h0.8v0.8h-0.8zM407.4 333.3h0.8v0.8h-0.8zM474.7 373.5h0.8v0.8h-0.8zM443.6 346.0h0.8v0.8h-0.8zM420.1 341.0h0.8v0.8h-0.8zM458.7 374.1h0.8v0.8h-0.8zM407.2 337.0h0.8v0.8h-0.8zM458.2 380.4h0.8v0.8h-0.8zM460.3 374.2h0.8v0.8h-0.8zM455.1 375.4h0.8v0.8h-0.8zM401.7 357.7h0.8v0.8h-0.8zM435.3 321.8h0.8v0.8h-0.8zM398.6 336.7h0.8v0.8h-0.8zM454.4 365.5h0.8v0.8h-0.8zM427.2 325.7h0.8v0.8h-0.8zM422.3 350.1h0.8v0.8h-0.8zM412.7 332.8h0.8v0.8h-0.8zM426.9 337.8h0.8v0.8h-0.8zM474.2 377.9h0.8v0.8h-0.8zM437.1 351.8h0.8v0.8h-0.8zM459.3 375.9h0.8v0.8h-0.8zM427.8 340.9h0.8v0.8h-0.8zM422.0 352.7h0.8v0.8h-0.8zM455.4 369.5h0.8v0.8h-0.8zM418.6 337.4h0.8v0.8h-0.8zM433.2 340.5h0.8v0.8h-0.8zM421.2 353.4h0.8v0.8h-0.8zM434.4 335.4h0.8v0.8h-0.8zM412.4 332.5h0.8v0.8h-0.8zM401.2 328.5h0.8v0.8h-0.8zM436.6 333.4h0.8v0.8h-0.8zM468.6 378.7h0.8v0.8h-0.8zM399.0 327.5h0.8v0.8h-0.8zM436.0 345.0h0.8v0.8h-0.8zM468.1 373.8h0.8v0.8h-0.8zM457.5 376.1h0.8v0.8h-0.8zM429.5 345.9h0.8v0.8h-0.8zM457.0 379.7h0.8v0.8h-0.8zM417.4 355.2h0.8v0.8h-0.8zM430.6 327.3h0.8v0.8h-0.8zM407.5 356.6h0.8v0.8h-0.8zM472.2 384.3h0.8v0.8h-0.8zM470.9 379.1h0.8v0.8h-0.8zM470.9 371.8h0.8v0.8h-0.8zM418.3 337.4h0.8v0.8h-0.8zM447.4 366.8h0.8v0.8h-0.8zM441.2 354.6h0.8v0.8h-0.8zM469.9 383.3h0.8v0.8h-0.8zM458.8 381.3h0.8v0.8h-0.8zM417.5 332.5h0.8v0.8h-0.8zM415.0 352.8h0.8v0.8h-0.8zM467.3 371.6h0.8v0.8h-0.8zM440.0 344.3h0.8v0.8h-0.8zM438.3 337.5h0.8v0.8h-0.8zM410.4 330.9h0.8v0.8h-0.8zM433.2 328.1h0.8v0.8h-0.8zM432.3 339.0h0.8v0.8h-0.8zM440.8 347.8h0.8v0.8h-0.8zM404.4 348.2h0.8v0.8h-0.8zM468.5 385.1h0.8v0.8h-0.8zM404.4 335.2h0.8v0.8h-0.8zM430.4 331.6h0.8v0.8h-0.8zM446.8 360.2h0.8v0.8h-0.8zM418.2 347.6h0.8v0.8h-0.8zM432.6 342.4h0.8v0.8h-0.8zM408.2 342.9h0.8v0.8h-0.8zM428.5 339.1h0.8v0.8h-0.8zM412.5 348.8h0.8v0.8h-0.8zM415.4 348.8h0.8v0.8h-0.8zM411.5 336.0h0.8v0.8h-0.8zM471.3 379.3h0.8v0.8h-0.8zM437.9 350.0h0.8v0.8h-0.8zM448.3 367.3h0.8v0.8h-0.8zM393.5 337.7h0.8v0.8h-0.8zM396.4 329.2h0.8v0.8h-0.8zM424.2 346.8h0.8v0.8h-0.8zM439.4 348.1h0.8v0.8h-0.8zM462.2 379.0h0.8v0.8h-0.8zM397.7 334.0h0.8v0.8h-0.8zM440.9 362.2h0.8v0.8h-0.8zM434.5 339.6h0.8v0.8h-0.8zM456.9 379.3h0.8v0.8h-0.8zM396.1 328.5h0.8v0.8h-0.8zM416.1 326.4h0.8v0.8h-0.8zM421.7 329.6h0.8v0.8h-0.8zM413.2 329.8h0.8v0.8h-0.8zM414.3 350.1h0.8v0.8h-0.8zM441.5 351.2h0.8v0.8h-0.8zM408.6 348.2h0.8v0.8h-0.8zM418.4 340.3h0.8v0.8h-0.8zM439.0 354.9h0.8v0.8h-0.8zM421.9 347.2h0.8v0.8h-0.8zM474.8 379.0h0.8v0.8h-0.8zM404.4 328.7h0.8v0.8h-0.8zM409.2 343.8h0.8v0.8h-0.8zM408.9 349.6h0.8v0.8h-0.8zM438.0 328.2h0.8v0.8h-0.8zM393.7 340.6h0.8v0.8h-0.8zM425.2 341.6h0.8v0.8h-0.8zM413.6 353.1h0.8v0.8h-0.8zM413.3 350.9h0.8v0.8h-0.8zM421.3 352.6h0.8v0.8h-0.8zM399.6 334.4h0.8v0.8h-0.8zM440.3 338.4h0.8v0.8h-0.8zM405.7 353.7h0.8v0.8h-0.8zM439.4 349.9h0.8v0.8h-0.8zM397.7 336.7h0.8v0.8h-0.8zM439.9 348.1h0.8v0.8h-0.8zM411.7 354.3h0.8v0.8h-0.8zM471.6 375.2h0.8v0.8h-0.8zM446.8 366.9h0.8v0.8h-0.8zM385.1 333.9h0.8v0.8h-0.8zM436.6 349.0h0.8v0.8h-0.8zM389.4 334.4h0.8v0.8h-0.8zM437.0 347.6h0.8v0.8h-0.8zM465.6 371.2h0.8v0.8h-0.8zM428.9 344.7h0.8v0.8h-0.8zM402.0 340.3h0.8v0.8h-0.8zM415.5 344.9h0.8v0.8h-0.8zM434.2 327.3h0.8v0.8h-0.8zM412.9 337.9h0.8v0.8h-0.8zM399.1 331.0h0.8v0.8h-0.8zM445.9 352.1h0.8v0.8h-0.8zM429.8 341.5h0.8v0.8h-0.8zM422.3 352.8h0.8v0.8h-0.8zM405.1 335.6h0.8v0.8h-0.8zM418.9 330.6h0.8v0.8h-0.8zM439.7 334.9h0.8v0.8h-0.8zM434.3 328.9h0.8v0.8h-0.8zM444.6 344.9h0.8v0.8h-0.8zM388.7 333.0h0.8v0.8h-0.8zM407.7 331.9h0.8v0.8h-0.8zM429.2 356.7h0.8v0.8h-0.8zM437.5 323.4h0.8v0.8h-0.8zM433.2 330.9h0.8v0.8h-0.8zM413.1 338.1h0.8v0.8h-0.8zM430.7 341.7h0.8v0.8h-0.8zM436.1 352.5h0.8v0.8h-0.8zM436.8 330.1h0.8v0.8h-0.8zM405.7 357.6h0.8v0.8h-0.8zM415.4 343.7h0.8v0.8h-0.8zM422.6 338.5h0.8v0.8h-0.8zM415.7 331.8h0.8v0.8h-0.8zM429.4 341.6h0.8v0.8h-0.8zM412.0 334.5h0.8v0.8h-0.8zM415.2 326.3h0.8v0.8h-0.8zM469.5 370.5h0.8v0.8h-0.8zM408.1 327.7h0.8v0.8h-0.8zM467.3 374.5h0.8v0.8h-0.8zM399.5 339.7h0.8v0.8h-0.8zM405.3 331.2h0.8v0.8h-0.8zM414.4 337.5h0.8v0.8h-0.8zM403.9 356.7h0.8v0.8h-0.8zM437.6 342.8h0.8v0.8h-0.8zM396.1 330.8h0.8v0.8h-0.8zM416.2 328.3h0.8v0.8h-0.8zM406.9 357.7h0.8v0.8h-0.8zM434.3 334.3h0.8v0.8h-0.8zM434.9 323.9h0.8v0.8h-0.8zM423.9 330.3h0.8v0.8h-0.8zM437.5 351.4h0.8v0.8h-0.8zM439.8 357.4h0.8v0.8h-0.8zM401.9 328.5h0.8v0.8h-0.8zM409.4 351.1h0.8v0.8h-0.8zM410.0 350.6h0.8v0.8h-0.8zM409.8 330.1h0.8v0.8h-0.8zM417.4 339.9h0.8v0.8h-0.8zM421.4 354.1h0.8v0.8h-0.8zM405.2 337.7h0.8v0.8h-0.8zM384.2 330.1h0.8v0.8h-0.8zM430.5 340.5h0.8v0.8h-0.8zM393.4 340.6h0.8v0.8h-0.8zM432.0 356.6h0.8v0.8h-0.8zM433.8 350.1h0.8v0.8h-0.8zM407.3 330.7h0.8v0.8h-0.8zM388.3 338.7h0.8v0.8h-0.8zM447.6 361.5h0.8v0.8h-0.8zM418.2 351.7h0.8v0.8h-0.8zM436.4 332.9h0.8v0.8h-0.8zM437.0 341.1h0.8v0.8h-0.8zM436.0 338.1h0.8v0.8h-0.8zM400.8 334.6h0.8v0.8h-0.8zM392.1 336.8h0.8v0.8h-0.8zM421.9 334.3h0.8v0.8h-0.8zM434.9 332.6h0.8v0.8h-0.8zM410.6 355.8h0.8v0.8h-0.8zM423.5 325.6h0.8v0.8h-0.8zM403.0 350.1h0.8v0.8h-0.8zM410.0 346.6h0.8v0.8h-0.8zM401.2 340.0h0.8v0.8h-0.8zM463.7 376.6h0.8v0.8h-0.8zM468.5 378.8h0.8v0.8h-0.8zM404.7 350.0h0.8v0.8h-0.8zM428.4 334.9h0.8v0.8h-0.8zM423.4 345.9h0.8v0.8h-0.8zM401.7 339.7h0.8v0.8h-0.8zM408.0 356.1h0.8v0.8h-0.8zM429.4 340.8h0.8v0.8h-0.8zM403.7 344.7h0.8v0.8h-0.8zM407.6 329.1h0.8v0.8h-0.8zM419.0 345.6h0.8v0.8h-0.8zM411.0 347.9h0.8v0.8h-0.8zM403.2 350.8h0.8v0.8h-0.8zM399.1 330.5h0.8v0.8h-0.8zM428.4 351.2h0.8v0.8h-0.8zM429.6 329.8h0.8v0.8h-0.8zM403.4 326.8h0.8v0.8h-0.8zM392.3 339.7h0.8v0.8h-0.8zM463.1 378.6h0.8v0.8h-0.8zM403.2 358.2h0.8v0.8h-0.8zM436.7 338.1h0.8v0.8h-0.8zM421.9 345.2h0.8v0.8h-0.8zM476.0 380.3h0.8v0.8h-0.8zM412.0 333.0h0.8v0.8h-0.8zM468.7 371.7h0.8v0.8h-0.8zM393.7 330.0h0.8v0.8h-0.8zM460.3 375.5h0.8v0.8h-0.8zM407.9 329.1h0.8v0.8h-0.8zM406.0 328.9h0.8v0.8h-0.8zM447.0 358.1h0.8v0.8h-0.8zM405.3 332.8h0.8v0.8h-0.8zM424.3 348.1h0.8v0.8h-0.8zM427.5 336.7h0.8v0.8h-0.8zM426.1 341.5h0.8v0.8h-0.8zM409.1 326.7h0.8v0.8h-0.8zM414.9 341.9h0.8v0.8h-0.8zM436.2 335.7h0.8v0.8h-0.8zM442.9 346.1h0.8v0.8h-0.8zM433.6 347.3h0.8v0.8h-0.8zM410.9 339.6h0.8v0.8h-0.8zM412.6 333.2h0.8v0.8h-0.8zM406.8 340.4h0.8v0.8h-0.8zM431.1 340.2h0.8v0.8h-0.8zM439.9 333.4h0.8v0.8h-0.8zM433.1 351.1h0.8v0.8h-0.8zM403.8 358.3h0.8v0.8h-0.8zM408.7 330.5h0.8v0.8h-0.8zM411.7 344.3h0.8v0.8h-0.8zM406.2 356.7h0.8v0.8h-0.8zM404.3 341.8h0.8v0.8h-0.8zM432.4 348.2h0.8v0.8h-0.8zM417.6 353.4h0.8v0.8h-0.8zM462.3 382.4h0.8v0.8h-0.8zM474.4 371.4h0.8v0.8h-0.8zM469.1 372.6h0.8v0.8h-0.8zM467.8 378.0h0.8v0.8h-0.8zM416.6 352.8h0.8v0.8h-0.8zM432.8 343.8h0.8v0.8h-0.8zM457.9 379.6h0.8v0.8h-0.8zM409.6 328.7h0.8v0.8h-0.8zM403.8 336.7h0.8v0.8h-0.8zM462.2 373.0h0.8v0.8h-0.8zM405.3 339.1h0.8v0.8h-0.8zM390.3 334.7h0.8v0.8h-0.8zM393.6 338.8h0.8v0.8h-0.8zM446.1 347.9h0.8v0.8h-0.8zM440.4 337.8h0.8v0.8h-0.8zM397.6 333.9h0.8v0.8h-0.8zM417.2 347.8h0.8v0.8h-0.8zM394.9 333.2h0.8v0.8h-0.8zM404.1 342.9h0.8v0.8h-0.8zM432.1 346.8h0.8v0.8h-0.8zM439.6 343.2h0.8v0.8h-0.8zM443.7 349.3h0.8v0.8h-0.8zM431.9 355.5h0.8v0.8h-0.8zM405.7 344.6h0.8v0.8h-0.8zM412.3 344.1h0.8v0.8h-0.8zM434.1 334.7h0.8v0.8h-0.8zM393.7 329.9h0.8v0.8h-0.8zM411.3 343.4h0.8v0.8h-0.8zM470.8 381.0h0.8v0.8h-0.8zM394.9 340.8h0.8v0.8h-0.8zM451.1 370.3h0.8v0.8h-0.8zM469.3 378.0h0.8v0.8h-0.8zM439.3 337.8h0.8v0.8h-0.8zM413.0 336.5h0.8v0.8h-0.8zM451.3 367.6h0.8v0.8h-0.8zM414.7 343.2h0.8v0.8h-0.8zM402.7 348.3h0.8v0.8h-0.8zM442.5 349.1h0.8v0.8h-0.8zM475.5 377.1h0.8v0.8h-0.8zM440.0 362.1h0.8v0.8h-0.8zM460.5 372.2h0.8v0.8h-0.8zM388.4 328.1h0.8v0.8h-0.8zM421.6 335.6h0.8v0.8h-0.8zM439.0 358.2h0.8v0.8h-0.8zM407.2 343.6h0.8v0.8h-0.8zM417.0 340.8h0.8v0.8h-0.8zM383.5 334.9h0.8v0.8h-0.8zM423.9 343.5h0.8v0.8h-0.8zM396.7 336.1h0.8v0.8h-0.8zM411.5 335.4h0.8v0.8h-0.8zM403.2 344.4h0.8v0.8h-0.8zM414.1 332.2h0.8v0.8h-0.8zM414.5 332.2h0.8v0.8h-0.8zM474.2 385.7h0.8v0.8h-0.8zM411.0 331.6h0.8v0.8h-0.8zM455.5 377.8h0.8v0.8h-0.8zM413.5 334.0h0.8v0.8h-0.8zM467.4 371.8h0.8v0.8h-0.8zM409.5 346.8h0.8v0.8h-0.8zM404.8 348.7h0.8v0.8h-0.8zM446.2 352.5h0.8v0.8h-0.8zM420.7 338.5h0.8v0.8h-0.8zM450.5 361.5h0.8v0.8h-0.8zM441.0 356.9h0.8v0.8h-0.8zM440.9 349.7h0.8v0.8h-0.8zM435.8 358.9h0.8v0.8h-0.8zM467.8 374.8h0.8v0.8h-0.8zM391.3 329.8h0.8v0.8h-0.8zM444.0 358.3h0.8v0.8h-0.8zM465.4 373.9h0.8v0.8h-0.8zM466.6 370.9h0.8v0.8h-0.8zM475.3 377.8h0.8v0.8h-0.8zM401.2 343.0h0.8v0.8h-0.8zM404.0 349.1h0.8v0.8h-0.8zM431.8 353.1h0.8v0.8h-0.8zM435.2 346.7h0.8v0.8h-0.8zM430.7 328.3h0.8v0.8h-0.8zM422.1 344.4h0.8v0.8h-0.8zM424.7 331.6h0.8v0.8h-0.8zM420.7 327.1h0.8v0.8h-0.8zM409.2 337.9h0.8v0.8h-0.8zM397.7 335.1h0.8v0.8h-0.8zM383.6 332.8h0.8v0.8h-0.8zM409.8 331.9h0.8v0.8h-0.8zM456.8 373.3h0.8v0.8h-0.8zM404.4 342.8h0.8v0.8h-0.8zM474.1 380.8h0.8v0.8h-0.8zM413.9 340.1h0.8v0.8h-0.8zM422.3 327.1h0.8v0.8h-0.8zM427.0 332.3h0.8v0.8h-0.8zM419.9 338.1h0.8v0.8h-0.8zM448.4 355.9h0.8v0.8h-0.8zM404.4 334.7h0.8v0.8h-0.8zM421.7 339.3h0.8v0.8h-0.8zM385.9 335.7h0.8v0.8h-0.8zM460.1 369.3h0.8v0.8h-0.8zM437.2 325.1h0.8v0.8h-0.8zM438.4 334.3h0.8v0.8h-0.8zM457.7 368.6h0.8v0.8h-0.8zM408.1 334.2h0.8v0.8h-0.8zM391.3 336.2h0.8v0.8h-0.8zM409.3 338.8h0.8v0.8h-0.8zM416.0 339.9h0.8v0.8h-0.8zM465.2 371.3h0.8v0.8h-0.8zM414.1 345.0h0.8v0.8h-0.8zM419.9 329.8h0.8v0.8h-0.8zM466.5 376.8h0.8v0.8h-0.8zM414.6 354.5h0.8v0.8h-0.8zM423.3 345.3h0.8v0.8h-0.8zM413.4 337.7h0.8v0.8h-0.8zM410.3 348.7h0.8v0.8h-0.8zM429.0 355.7h0.8v0.8h-0.8zM423.5 336.5h0.8v0.8h-0.8zM413.3 336.1h0.8v0.8h-0.8zM433.1 325.4h0.8v0.8h-0.8zM433.5 348.2h0.8v0.8h-0.8zM420.1 335.1h0.8v0.8h-0.8zM404.5 330.2h0.8v0.8h-0.8zM459.1 371.7h0.8v0.8h-0.8zM422.9 337.1h0.8v0.8h-0.8zM430.9 331.0h0.8v0.8h-0.8zM401.3 330.5h0.8v0.8h-0.8zM441.9 357.9h0.8v0.8h-0.8zM440.2 333.6h0.8v0.8h-0.8zM431.7 357.8h0.8v0.8h-0.8zM407.5 348.6h0.8v0.8h-0.8zM456.8 378.1h0.8v0.8h-0.8zM467.6 373.3h0.8v0.8h-0.8zM426.7 333.0h0.8v0.8h-0.8zM409.5 341.8h0.8v0.8h-0.8zM411.9 334.3h0.8v0.8h-0.8zM437.1 352.7h0.8v0.8h-0.8zM465.5 378.1h0.8v0.8h-0.8zM428.1 326.2h0.8v0.8h-0.8zM451.0 363.7h0.8v0.8h-0.8zM390.8 334.5h0.8v0.8h-0.8zM453.2 364.7h0.8v0.8h-0.8zM439.4 351.9h0.8v0.8h-0.8zM408.1 340.0h0.8v0.8h-0.8zM474.3 373.2h0.8v0.8h-0.8zM397.4 328.9h0.8v0.8h-0.8zM408.5 331.9h0.8v0.8h-0.8zM438.2 330.2h0.8v0.8h-0.8zM425.1 340.0h0.8v0.8h-0.8zM428.4 341.3h0.8v0.8h-0.8zM412.2 331.4h0.8v0.8h-0.8zM408.6 348.1h0.8v0.8h-0.8zM392.8 336.1h0.8v0.8h-0.8zM432.9 345.4h0.8v0.8h-0.8zM406.9 336.8h0.8v0.8h-0.8zM441.4 348.2h0.8v0.8h-0.8zM433.4 344.0h0.8v0.8h-0.8zM392.6 331.3h0.8v0.8h-0.8zM396.3 328.0h0.8v0.8h-0.8zM399.7 340.4h0.8v0.8h-0.8zM404.5 347.6h0.8v0.8h-0.8zM417.1 345.7h0.8v0.8h-0.8zM429.6 358.3h0.8v0.8h-0.8zM406.0 356.4h0.8v0.8h-0.8zM427.5 348.4h0.8v0.8h-0.8zM392.2 340.1h0.8v0.8h-0.8zM469.3 383.1h0.8v0.8h-0.8zM421.0 349.8h0.8v0.8h-0.8zM387.1 333.9h0.8v0.8h-0.8zM429.9 350.9h0.8v0.8h-0.8zM463.0 384.3h0.8v0.8h-0.8zM445.7 358.4h0.8v0.8h-0.8zM445.4 353.4h0.8v0.8h-0.8zM473.5 375.9h0.8v0.8h-0.8zM426.3 350.7h0.8v0.8h-0.8zM420.1 351.4h0.8v0.8h-0.8zM451.1 366.8h0.8v0.8h-0.8zM426.8 325.0h0.8v0.8h-0.8zM395.8 339.6h0.8v0.8h-0.8zM469.6 376.3h0.8v0.8h-0.8zM469.3 385.6h0.8v0.8h-0.8zM441.9 356.3h0.8v0.8h-0.8zM432.9 323.5h0.8v0.8h-0.8zM409.5 329.4h0.8v0.8h-0.8zM431.8 336.6h0.8v0.8h-0.8zM407.5 334.0h0.8v0.8h-0.8zM429.6 334.6h0.8v0.8h-0.8zM430.8 353.2h0.8v0.8h-0.8zM441.6 355.1h0.8v0.8h-0.8zM441.6 358.6h0.8v0.8h-0.8zM451.4 359.9h0.8v0.8h-0.8zM387.9 336.3h0.8v0.8h-0.8zM425.2 341.7h0.8v0.8h-0.8zM403.8 356.7h0.8v0.8h-0.8zM387.0 331.0h0.8v0.8h-0.8zM453.6 365.6h0.8v0.8h-0.8zM394.8 328.8h0.8v0.8h-0.8zM425.6 337.4h0.8v0.8h-0.8zM393.4 328.2h0.8v0.8h-0.8zM447.8 367.8h0.8v0.8h-0.8zM404.9 341.3h0.8v0.8h-0.8zM433.6 356.6h0.8v0.8h-0.8zM411.2 352.4h0.8v0.8h-0.8zM404.0 333.3h0.8v0.8h-0.8zM390.2 334.1h0.8v0.8h-0.8zM444.4 352.0h0.8v0.8h-0.8zM411.2 354.3h0.8v0.8h-0.8zM422.1 333.9h0.8v0.8h-0.8zM438.8 334.8h0.8v0.8h-0.8zM470.6 383.0h0.8v0.8h-0.8zM422.8 346.8h0.8v0.8h-0.8zM427.9 344.3h0.8v0.8h-0.8zM418.6 329.0h0.8v0.8h-0.8zM415.6 352.0h0.8v0.8h-0.8zM420.3 328.4h0.8v0.8h-0.8zM450.6 368.3h0.8v0.8h-0.8zM445.9 365.5h0.8v0.8h-0.8zM382.3 335.4h0.8v0.8h-0.8zM413.7 337.9h0.8v0.8h-0.8zM418.7 347.4h0.8v0.8h-0.8zM464.4 384.2h0.8v0.8h-0.8zM440.5 339.0h0.8v0.8h-0.8zM434.8 344.4h0.8v0.8h-0.8zM416.0 348.5h0.8v0.8h-0.8zM394.9 335.2h0.8v0.8h-0.8zM401.5 343.1h0.8v0.8h-0.8zM421.8 339.0h0.8v0.8h-0.8zM412.3 335.3h0.8v0.8h-0.8zM424.0 350.3h0.8v0.8h-0.8zM405.0 353.0h0.8v0.8h-0.8zM427.6 355.7h0.8v0.8h-0.8zM471.1 382.2h0.8v0.8h-0.8zM429.6 338.4h0.8v0.8h-0.8zM454.3 373.5h0.8v0.8h-0.8zM474.8 383.6h0.8v0.8h-0.8zM454.4 371.3h0.8v0.8h-0.8zM451.5 359.3h0.8v0.8h-0.8zM403.0 356.3h0.8v0.8h-0.8zM441.7 358.6h0.8v0.8h-0.8zM406.1 329.4h0.8v0.8h-0.8zM409.8 346.7h0.8v0.8h-0.8zM435.7 341.0h0.8v0.8h-0.8zM435.4 344.4h0.8v0.8h-0.8zM408.9 355.8h0.8v0.8h-0.8zM470.1 373.7h0.8v0.8h-0.8zM400.9 335.1h0.8v0.8h-0.8z" fill="#ffffff" fill-opacity="0.8"/>
<path d="M431.1 347.1h0.8v0.8h-0.8zM420.1 344.7h0.8v0.8h-0.8zM403.7 349.8h0.8v0.8h-0.8zM473.6 381.6h0.8v0.8h-0.8zM411.4 335.0h0.8v0.8h-0.8zM436.4 343.7h0.8v0.8h-0.8zM471.6 386.1h0.8v0.8h-0.8zM450.3 364.7h0.8v0.8h-0.8zM417.7 330.5h0.8v0.8h-0.8zM418.3 347.1h0.8v0.8h-0.8zM389.2 334.6h0.8v0.8h-0.8zM438.5 342.5h0.8v0.8h-0.8zM437.8 325.2h0.8v0.8h-0.8zM431.9 333.0h0.8v0.8h-0.8zM443.2 351.0h0.8v0.8h-0.8zM384.0 331.7h0.8v0.8h-0.8zM415.9 344.1h0.8v0.8h-0.8zM426.6 337.7h0.8v0.8h-0.8zM398.5 339.0h0.8v0.8h-0.8zM408.3 347.4h0.8v0.8h-0.8zM407.9 346.1h0.8v0.8h-0.8zM410.7 344.4h0.8v0.8h-0.8zM390.5 328.9h0.8v0.8h-0.8zM389.1 334.9h0.8v0.8h-0.8zM430.1 349.9h0.8v0.8h-0.8zM404.9 331.2h0.8v0.8h-0.8zM442.9 362.3h0.8v0.8h-0.8zM456.4 376.4h0.8v0.8h-0.8zM437.0 329.0h0.8v0.8h-0.8zM401.0 332.7h0.8v0.8h-0.8zM440.6 361.1h0.8v0.8h-0.8zM419.3 355.3h0.8v0.8h-0.8zM469.2 375.4h0.8v0.8h-0.8zM401.4 335.9h0.8v0.8h-0.8zM431.0 341.8h0.8v0.8h-0.8zM410.1 351.4h0.8v0.8h-0.8zM418.9 337.3h0.8v0.8h-0.8zM428.9 339.9h0.8v0.8h-0.8zM450.8 360.1h0.8v0.8h-0.8zM409.0 326.9h0.8v0.8h-0.8zM420.7 332.2h0.8v0.8h-0.8zM410.7 336.8h0.8v0.8h-0.8zM471.4 371.7h0.8v0.8h-0.8zM430.6 322.9h0.8v0.8h-0.8zM448.2 358.4h0.8v0.8h-0.8zM405.3 357.7h0.8v0.8h-0.8zM444.2 349.6h0.8v0.8h-0.8zM402.4 341.5h0.8v0.8h-0.8zM454.4 368.4h0.8v0.8h-0.8zM385.7 336.5h0.8v0.8h-0.8zM435.5 329.9h0.8v0.8h-0.8zM476.2 382.6h0.8v0.8h-0.8zM417.5 351.0h0.8v0.8h-0.8zM420.5 355.6h0.8v0.8h-0.8zM430.1 355.2h0.8v0.8h-0.8zM423.9 352.2h0.8v0.8h-0.8zM435.0 351.8h0.8v0.8h-0.8zM407.0 340.2h0.8v0.8h-0.8zM435.0 339.4h0.8v0.8h-0.8zM451.6 361.9h0.8v0.8h-0.8zM467.8 374.7h0.8v0.8h-0.8zM435.4 335.2h0.8v0.8h-0.8zM416.5 332.2h0.8v0.8h-0.8zM432.2 323.8h0.8v0.8h-0.8zM438.2 326.7h0.8v0.8h-0.8zM453.5 365.2h0.8v0.8h-0.8zM429.9 350.0h0.8v0.8h-0.8zM401.4 339.9h0.8v0.8h-0.8zM390.5 338.7h0.8v0.8h-0.8zM444.2 357.5h0.8v0.8h-0.8zM435.9 356.0h0.8v0.8h-0.8zM472.1 377.2h0.8v0.8h-0.8zM406.8 357.8h0.8v0.8h-0.8zM448.7 363.8h0.8v0.8h-0.8zM445.6 357.8h0.8v0.8h-0.8zM442.4 355.5h0.8v0.8h-0.8zM415.3 349.1h0.8v0.8h-0.8zM456.1 377.6h0.8v0.8h-0.8zM423.5 341.4h0.8v0.8h-0.8zM401.6 342.8h0.8v0.8h-0.8zM468.2 386.0h0.8v0.8h-0.8zM425.1 353.6h0.8v0.8h-0.8zM420.5 345.9h0.8v0.8h-0.8zM431.8 351.6h0.8v0.8h-0.8zM467.4 375.8h0.8v0.8h-0.8zM437.8 356.3h0.8v0.8h-0.8zM456.4 369.1h0.8v0.8h-0.8zM395.7 329.6h0.8v0.8h-0.8zM429.2 332.8h0.8v0.8h-0.8zM428.3 325.4h0.8v0.8h-0.8zM463.0 370.8h0.8v0.8h-0.8zM406.1 350.3h0.8v0.8h-0.8zM434.4 348.8h0.8v0.8h-0.8zM465.5 379.3h0.8v0.8h-0.8zM454.3 373.5h0.8v0.8h-0.8zM429.5 338.9h0.8v0.8h-0.8zM392.0 334.5h0.8v0.8h-0.8zM449.3 359.5h0.8v0.8h-0.8zM400.2 331.7h0.8v0.8h-0.8zM459.7 375.2h0.8v0.8h-0.8zM433.6 332.4h0.8v0.8h-0.8zM460.6 370.9h0.8v0.8h-0.8zM437.1 359.0h0.8v0.8h-0.8zM418.6 336.9h0.8v0.8h-0.8zM474.6 378.4h0.8v0.8h-0.8zM458.3 369.2h0.8v0.8h-0.8zM421.2 348.4h0.8v0.8h-0.8zM438.3 330.8h0.8v0.8h-0.8zM432.8 337.5h0.8v0.8h-0.8zM409.1 344.4h0.8v0.8h-0.8zM429.6 340.2h0.8v0.8h-0.8zM417.4 337.6h0.8v0.8h-0.8zM400.3 341.5h0.8v0.8h-0.8zM432.3 347.3h0.8v0.8h-0.8zM385.9 330.5h0.8v0.8h-0.8zM386.1 333.0h0.8v0.8h-0.8zM430.1 352.6h0.8v0.8h-0.8zM402.3 358.3h0.8v0.8h-0.8zM397.9 335.7h0.8v0.8h-0.8zM412.0 345.4h0.8v0.8h-0.8zM427.9 332.0h0.8v0.8h-0.8zM402.6 335.3h0.8v0.8h-0.8zM436.0 340.9h0.8v0.8h-0.8zM408.1 355.6h0.8v0.8h-0.8zM441.9 346.3h0.8v0.8h-0.8zM438.0 343.9h0.8v0.8h-0.8zM430.8 346.6h0.8v0.8h-0.8zM440.5 354.4h0.8v0.8h-0.8zM426.5 337.3h0.8v0.8h-0.8zM455.3 375.7h0.8v0.8h-0.8zM409.2 340.1h0.8v0.8h-0.8zM386.6 338.1h0.8v0.8h-0.8zM434.9 333.5h0.8v0.8h-0.8zM389.6 337.8h0.8v0.8h-0.8zM446.3 352.2h0.8v0.8h-0.8zM442.6 343.3h0.8v0.8h-0.8zM437.0 326.4h0.8v0.8h-0.8zM449.1 366.9h0.8v0.8h-0.8zM445.7 360.3h0.8v0.8h-0.8zM445.3 357.7h0.8v0.8h-0.8zM418.7 343.2h0.8v0.8h-0.8zM451.8 365.6h0.8v0.8h-0.8zM408.4 334.4h0.8v0.8h-0.8zM413.1 341.0h0.8v0.8h-0.8zM408.6 335.9h0.8v0.8h-0.8zM419.1 349.3h0.8v0.8h-0.8zM448.1 364.2h0.8v0.8h-0.8zM413.0 328.4h0.8v0.8h-0.8zM420.9 333.9h0.8v0.8h-0.8zM470.2 371.4h0.8v0.8h-0.8zM408.8 354.8h0.8v0.8h-0.8zM440.3 354.3h0.8v0.8h-0.8zM437.5 335.6h0.8v0.8h-0.8zM419.5 332.1h0.8v0.8h-0.8zM418.8 327.8h0.8v0.8h-0.8zM391.1 329.0h0.8v0.8h-0.8zM430.3 342.2h0.8v0.8h-0.8zM406.7 353.7h0.8v0.8h-0.8zM441.3 344.2h0.8v0.8h-0.8zM407.5 354.4h0.8v0.8h-0.8zM441.9 341.8h0.8v0.8h-0.8zM410.4 352.5h0.8v0.8h-0.8zM458.9 379.6h0.8v0.8h-0.8zM413.9 343.2h0.8v0.8h-0.8zM435.5 350.3h0.8v0.8h-0.8zM445.3 348.9h0.8v0.8h-0.8zM436.1 333.4h0.8v0.8h-0.8zM407.2 331.0h0.8v0.8h-0.8zM466.2 385.0h0.8v0.8h-0.8zM435.8 325.7h0.8v0.8h-0.8zM434.8 337.9h0.8v0.8h-0.8zM404.9 337.3h0.8v0.8h-0.8zM416.6 336.9h0.8v0.8h-0.8zM432.7 323.3h0.8v0.8h-0.8zM435.2 337.0h0.8v0.8h-0.8zM452.1 364.8h0.8v0.8h-0.8zM423.7 350.5h0.8v0.8h-0.8zM466.5 372.0h0.8v0.8h-0.8zM403.1 337.8h0.8v0.8h-0.8zM472.3 370.9h0.8v0.8h-0.8zM428.0 337.5h0.8v0.8h-0.8zM409.3 326.6h0.8v0.8h-0.8zM416.1 343.4h0.8v0.8h-0.8zM470.4 375.0h0.8v0.8h-0.8zM436.5 344.9h0.8v0.8h-0.8zM449.0 366.7h0.8v0.8h-0.8zM474.5 375.1h0.8v0.8h-0.8zM430.6 338.6h0.8v0.8h-0.8zM448.9 366.8h0.8v0.8h-0.8zM466.2 372.2h0.8v0.8h-0.8zM400.8 335.2h0.8v0.8h-0.8zM389.7 339.2h0.8v0.8h-0.8zM408.9 325.4h0.8v0.8h-0.8zM452.4 370.4h0.8v0.8h-0.8zM442.1 353.3h0.8v0.8h-0.8zM456.0 366.0h0.8v0.8h-0.8zM404.1 335.2h0.8v0.8h-0.8zM475.4 383.7h0.8v0.8h-0.8zM453.2 372.9h0.8v0.8h-0.8zM427.5 357.8h0.8v0.8h-0.8zM424.5 336.6h0.8v0.8h-0.8zM422.7 347.8h0.8v0.8h-0.8zM435.3 348.4h0.8v0.8h-0.8zM431.2 357.4h0.8v0.8h-0.8zM417.8 334.9h0.8v0.8h-0.8zM413.5 351.2h0.8v0.8h-0.8zM412.3 341.5h0.8v0.8h-0.8zM446.6 353.3h0.8v0.8h-0.8zM408.0 355.7h0.8v0.8h-0.8zM442.5 341.7h0.8v0.8h-0.8zM460.5 370.5h0.8v0.8h-0.8zM453.6 364.6h0.8v0.8h-0.8zM398.2 330.4h0.8v0.8h-0.8zM429.8 332.4h0.8v0.8h-0.8zM424.1 327.0h0.8v0.8h-0.8zM433.1 359.0h0.8v0.8h-0.8zM428.5 323.6h0.8v0.8h-0.8zM448.6 354.6h0.8v0.8h-0.8zM425.0 332.7h0.8v0.8h-0.8zM408.0 342.3h0.8v0.8h-0.8zM430.4 349.2h0.8v0.8h-0.8zM468.0 370.3h0.8v0.8h-0.8zM425.1 332.9h0.8v0.8h-0.8zM435.4 324.8h0.8v0.8h-0.8zM432.9 322.2h0.8v0.8h-0.8zM404.0 327.2h0.8v0.8h-0.8zM463.5 379.7h0.8v0.8h-0.8zM414.6 346.5h0.8v0.8h-0.8zM420.1 339.3h0.8v0.8h-0.8zM449.5 361.0h0.8v0.8h-0.8zM418.2 343.8h0.8v0.8h-0.8zM454.8 369.2h0.8v0.8h-0.8zM463.5 382.3h0.8v0.8h-0.8zM391.7 329.3h0.8v0.8h-0.8zM442.0 363.4h0.8v0.8h-0.8zM411.8 336.7h0.8v0.8h-0.8zM465.7 378.7h0.8v0.8h-0.8zM430.4 325.4h0.8v0.8h-0.8zM410.6 338.7h0.8v0.8h-0.8zM402.7 348.8h0.8v0.8h-0.8zM439.6 356.1h0.8v0.8h-0.8zM418.2 355.1h0.8v0.8h-0.8zM416.9 337.0h0.8v0.8h-0.8zM449.1 354.4h0.8v0.8h-0.8zM432.6 336.8h0.8v0.8h-0.8zM435.2 352.6h0.8v0.8h-0.8zM383.1 330.8h0.8v0.8h-0.8zM446.7 357.1h0.8v0.8h-0.8zM416.8 350.8h0.8v0.8h-0.8zM403.7 329.1h0.8v0.8h-0.8zM408.3 348.3h0.8v0.8h-0.8zM475.3 373.0h0.8v0.8h-0.8zM412.4 339.0h0.8v0.8h-0.8zM431.4 326.5h0.8v0.8h-0.8zM437.7 360.3h0.8v0.8h-0.8zM438.6 340.7h0.8v0.8h-0.8zM407.1 342.8h0.8v0.8h-0.8zM384.5 331.7h0.8v0.8h-0.8zM409.0 354.9h0.8v0.8h-0.8zM447.3 367.6h0.8v0.8h-0.8zM456.4 375.8h0.8v0.8h-0.8zM437.9 360.2h0.8v0.8h-0.8zM440.2 338.9h0.8v0.8h-0.8zM441.5 346.4h0.8v0.8h-0.8zM422.7 333.3h0.8v0.8h-0.8zM467.0 376.6h0.8v0.8h-0.8zM433.2 326.5h0.8v0.8h-0.8zM435.7 341.2h0.8v0.8h-0.8zM427.5 338.3h0.8v0.8h-0.8zM439.8 344.5h0.8v0.8h-0.8zM432.1 351.1h0.8v0.8h-0.8zM430.3 332.8h0.8v0.8h-0.8zM398.1 339.8h0.8v0.8h-0.8zM474.6 375.1h0.8v0.8h-0.8zM416.1 333.4h0.8v0.8h-0.8zM424.1 338.2h0.8v0.8h-0.8zM418.3 346.2h0.8v0.8h-0.8zM407.5 340.2h0.8v0.8h-0.8zM453.4 363.1h0.8v0.8h-0.8zM408.5 343.7h0.8v0.8h-0.8zM443.2 341.7h0.8v0.8h-0.8zM437.5 332.1h0.8v0.8h-0.8zM430.4 344.7h0.8v0.8h-0.8zM428.1 341.3h0.8v0.8h-0.8zM473.5 372.7h0.8v0.8h-0.8zM400.7 329.4h0.8v0.8h-0.8zM383.8 332.9h0.8v0.8h-0.8zM470.5 378.7h0.8v0.8h-0.8zM402.1 333.8h0.8v0.8h-0.8zM467.5 379.9h0.8v0.8h-0.8zM418.3 344.4h0.8v0.8h-0.8zM408.2 329.6h0.8v0.8h-0.8zM431.7 348.3h0.8v0.8h-0.8zM470.5 377.7h0.8v0.8h-0.8zM472.0 375.5h0.8v0.8h-0.8zM465.7 372.6h0.8v0.8h-0.8zM388.9 334.8h0.8v0.8h-0.8zM470.0 385.9h0.8v0.8h-0.8zM426.6 352.1h0.8v0.8h-0.8zM463.6 381.3h0.8v0.8h-0.8zM454.3 374.6h0.8v0.8h-0.8zM426.3 348.0h0.8v0.8h-0.8zM411.3 338.5h0.8v0.8h-0.8zM423.4 346.3h0.8v0.8h-0.8zM453.7 372.8h0.8v0.8h-0.8zM458.0 376.8h0.8v0.8h-0.8zM416.2 345.4h0.8v0.8h-0.8zM448.7 355.7h0.8v0.8h-0.8zM460.3 374.7h0.8v0.8h-0.8zM418.1 343.1h0.8v0.8h-0.8zM440.2 354.8h0.8v0.8h-0.8zM411.8 338.5h0.8v0.8h-0.8zM422.5 337.6h0.8v0.8h-0.8zM405.6 348.4h0.8v0.8h-0.8zM412.8 353.6h0.8v0.8h-0.8zM408.2 343.3h0.8v0.8h-0.8zM425.6 349.0h0.8v0.8h-0.8zM409.2 341.1h0.8v0.8h-0.8zM411.3 333.7h0.8v0.8h-0.8zM437.3 327.1h0.8v0.8h-0.8zM405.3 332.3h0.8v0.8h-0.8zM412.2 343.9h0.8v0.8h-0.8zM435.1 325.6h0.8v0.8h-0.8zM421.1 333.7h0.8v0.8h-0.8zM450.8 367.2h0.8v0.8h-0.8zM428.8 352.7h0.8v0.8h-0.8zM434.5 343.9h0.8v0.8h-0.8zM429.8 333.0h0.8v0.8h-0.8zM450.2 364.7h0.8v0.8h-0.8zM435.2 347.5h0.8v0.8h-0.8zM447.5 355.8h0.8v0.8h-0.8zM411.3 350.5h0.8v0.8h-0.8zM413.8 346.1h0.8v0.8h-0.8zM443.9 343.2h0.8v0.8h-0.8zM423.1 349.6h0.8v0.8h-0.8zM418.7 331.4h0.8v0.8h-0.8zM397.7 332.2h0.8v0.8h-0.8zM450.4 369.0h0.8v0.8h-0.8zM415.5 326.3h0.8v0.8h-0.8zM427.2 340.4h0.8v0.8h-0.8zM405.9 344.4h0.8v0.8h-0.8zM416.7 335.9h0.8v0.8h-0.8zM441.6 359.0h0.8v0.8h-0.8zM429.8 336.0h0.8v0.8h-0.8zM427.8 329.3h0.8v0.8h-0.8zM393.6 331.7h0.8v0.8h-0.8zM435.2 337.8h0.8v0.8h-0.8zM428.0 324.6h0.8v0.8h-0.8zM448.0 361.7h0.8v0.8h-0.8zM445.5 346.9h0.8v0.8h-0.8z" fill="#8484c0" fill-opacity="0.8"/>
<defs><linearGradient id="gbl" x1="0" y1="0" x2="0" y2="1"><stop offset="0" stop-color="#2c3a9e"/><stop offset="0.55" stop-color="#3a48a6"/><stop offset="1" stop-color="#6a70bc"/></linearGradient></defs>
<path d="M374.2,302.2C375.2,301.9 376.7,302.3 378.0,302.7C379.3,303.1 380.9,303.8 382.0,304.6C383.1,305.4 383.9,306.4 384.8,307.5C385.7,308.6 386.6,310.0 387.2,311.3C387.8,312.6 387.9,313.9 388.2,315.2C388.4,316.5 388.8,317.7 388.7,319.0C388.6,320.3 388.0,321.8 387.7,322.9C387.4,324.0 387.2,324.8 386.7,325.8C386.2,326.8 385.4,327.8 384.8,328.7C384.2,329.6 383.5,330.4 382.9,331.5C382.3,332.6 381.6,334.1 381.0,335.4C380.4,336.7 379.8,337.9 379.0,339.2C378.2,340.5 377.3,342.2 376.2,343.0C375.1,343.8 373.4,344.1 372.3,344.0C371.2,343.9 370.0,343.4 369.4,342.6C368.8,341.8 368.8,340.4 368.5,339.2C368.2,338.0 367.9,336.8 367.5,335.4C367.1,334.0 366.5,332.5 366.0,330.6C365.5,328.7 364.9,325.7 364.6,323.8C364.3,321.9 363.9,320.3 364.1,319.0C364.3,317.7 364.9,317.1 365.6,316.2C366.3,315.2 367.7,314.6 368.5,313.3C369.3,312.0 369.8,309.9 370.4,308.5C370.9,307.1 371.2,305.7 371.8,304.6C372.4,303.6 373.2,302.5 374.2,302.2Z" fill="url(#gbl)"/>
<path d="M376.1 340.5h0.8v0.8h-0.8zM381.1 318.7h0.8v0.8h-0.8zM382.6 318.1h0.8v0.8h-0.8zM384.2 313.2h0.8v0.8h-0.8zM379.5 321.7h0.8v0.8h-0.8zM373.7 319.4h0.8v0.8h-0.8zM375.7 317.5h0.8v0.8h-0.8zM379.5 328.5h0.8v0.8h-0.8zM374.1 329.2h0.8v0.8h-0.8zM380.3 333.4h0.8v0.8h-0.8zM368.2 329.5h0.8v0.8h-0.8zM374.4 339.0h0.8v0.8h-0.8zM379.3 336.1h0.8v0.8h-0.8zM384.0 311.1h0.8v0.8h-0.8zM381.1 319.9h0.8v0.8h-0.8zM380.6 307.7h0.8v0.8h-0.8zM371.7 318.8h0.8v0.8h-0.8zM373.6 343.1h0.8v0.8h-0.8zM376.6 339.3h0.8v0.8h-0.8zM375.9 305.3h0.8v0.8h-0.8zM371.1 340.2h0.8v0.8h-0.8zM374.4 306.7h0.8v0.8h-0.8zM374.2 333.2h0.8v0.8h-0.8zM378.4 327.0h0.8v0.8h-0.8zM371.0 323.5h0.8v0.8h-0.8zM375.1 340.2h0.8v0.8h-0.8zM385.7 320.5h0.8v0.8h-0.8zM376.5 314.4h0.8v0.8h-0.8zM378.0 307.6h0.8v0.8h-0.8zM387.9 319.5h0.8v0.8h-0.8zM387.4 315.2h0.8v0.8h-0.8zM373.6 342.9h0.8v0.8h-0.8zM383.4 317.3h0.8v0.8h-0.8zM368.2 318.5h0.8v0.8h-0.8zM373.3 339.6h0.8v0.8h-0.8zM377.4 340.9h0.8v0.8h-0.8zM374.1 318.5h0.8v0.8h-0.8zM377.6 330.6h0.8v0.8h-0.8zM371.8 333.0h0.8v0.8h-0.8zM373.4 334.7h0.8v0.8h-0.8zM381.3 308.3h0.8v0.8h-0.8zM370.3 315.2h0.8v0.8h-0.8zM376.7 340.1h0.8v0.8h-0.8zM380.5 330.1h0.8v0.8h-0.8zM380.4 332.5h0.8v0.8h-0.8zM372.4 329.3h0.8v0.8h-0.8zM375.7 310.7h0.8v0.8h-0.8zM376.0 310.8h0.8v0.8h-0.8zM383.6 306.9h0.8v0.8h-0.8zM383.1 329.7h0.8v0.8h-0.8zM368.0 318.0h0.8v0.8h-0.8zM373.5 321.2h0.8v0.8h-0.8zM368.2 331.4h0.8v0.8h-0.8zM373.2 303.7h0.8v0.8h-0.8zM383.0 312.4h0.8v0.8h-0.8zM374.0 319.8h0.8v0.8h-0.8zM374.2 327.1h0.8v0.8h-0.8zM364.7 321.1h0.8v0.8h-0.8zM385.8 318.3h0.8v0.8h-0.8zM369.7 338.3h0.8v0.8h-0.8zM372.4 338.1h0.8v0.8h-0.8zM386.8 312.9h0.8v0.8h-0.8zM369.2 328.5h0.8v0.8h-0.8zM371.1 324.8h0.8v0.8h-0.8zM374.8 332.3h0.8v0.8h-0.8zM369.0 314.3h0.8v0.8h-0.8zM367.5 315.8h0.8v0.8h-0.8zM382.2 305.5h0.8v0.8h-0.8zM368.9 340.2h0.8v0.8h-0.8zM376.5 307.7h0.8v0.8h-0.8zM379.0 320.8h0.8v0.8h-0.8zM379.9 326.6h0.8v0.8h-0.8zM382.2 330.1h0.8v0.8h-0.8zM372.5 306.9h0.8v0.8h-0.8zM370.8 322.8h0.8v0.8h-0.8zM378.5 303.0h0.8v0.8h-0.8zM374.6 307.3h0.8v0.8h-0.8zM373.6 318.4h0.8v0.8h-0.8zM374.5 315.4h0.8v0.8h-0.8zM383.3 321.6h0.8v0.8h-0.8zM386.4 316.6h0.8v0.8h-0.8zM367.6 317.0h0.8v0.8h-0.8zM385.5 317.2h0.8v0.8h-0.8zM370.5 310.2h0.8v0.8h-0.8zM366.9 321.0h0.8v0.8h-0.8zM381.2 314.5h0.8v0.8h-0.8zM383.4 309.3h0.8v0.8h-0.8zM386.8 319.0h0.8v0.8h-0.8zM369.5 318.2h0.8v0.8h-0.8zM366.1 325.7h0.8v0.8h-0.8zM379.3 324.2h0.8v0.8h-0.8zM368.0 328.7h0.8v0.8h-0.8zM378.1 323.6h0.8v0.8h-0.8zM378.1 319.5h0.8v0.8h-0.8zM378.0 339.5h0.8v0.8h-0.8zM372.7 320.6h0.8v0.8h-0.8zM374.9 338.4h0.8v0.8h-0.8zM370.1 320.6h0.8v0.8h-0.8zM382.6 318.6h0.8v0.8h-0.8zM385.1 324.7h0.8v0.8h-0.8zM366.5 317.5h0.8v0.8h-0.8zM367.7 320.6h0.8v0.8h-0.8zM373.1 316.4h0.8v0.8h-0.8zM383.6 308.2h0.8v0.8h-0.8zM386.9 324.8h0.8v0.8h-0.8zM377.3 326.7h0.8v0.8h-0.8zM377.7 326.5h0.8v0.8h-0.8zM369.1 339.9h0.8v0.8h-0.8zM371.9 327.3h0.8v0.8h-0.8zM371.8 343.5h0.8v0.8h-0.8zM368.8 318.7h0.8v0.8h-0.8zM373.2 311.1h0.8v0.8h-0.8zM365.9 318.5h0.8v0.8h-0.8zM385.9 316.5h0.8v0.8h-0.8zM375.9 331.0h0.8v0.8h-0.8zM373.0 308.1h0.8v0.8h-0.8zM379.8 318.9h0.8v0.8h-0.8zM385.7 315.9h0.8v0.8h-0.8zM370.4 312.2h0.8v0.8h-0.8zM376.9 317.8h0.8v0.8h-0.8zM387.2 316.2h0.8v0.8h-0.8zM376.0 342.3h0.8v0.8h-0.8zM377.4 315.5h0.8v0.8h-0.8zM380.7 330.8h0.8v0.8h-0.8zM384.3 310.1h0.8v0.8h-0.8zM388.1 314.8h0.8v0.8h-0.8zM367.5 317.2h0.8v0.8h-0.8zM372.7 304.6h0.8v0.8h-0.8zM369.0 325.2h0.8v0.8h-0.8zM385.5 318.0h0.8v0.8h-0.8zM376.6 312.4h0.8v0.8h-0.8zM375.6 315.3h0.8v0.8h-0.8zM384.4 308.9h0.8v0.8h-0.8zM368.3 325.2h0.8v0.8h-0.8zM381.5 315.9h0.8v0.8h-0.8zM387.0 316.3h0.8v0.8h-0.8zM386.2 311.2h0.8v0.8h-0.8zM386.2 321.3h0.8v0.8h-0.8zM381.6 307.8h0.8v0.8h-0.8zM374.0 305.8h0.8v0.8h-0.8zM376.2 339.0h0.8v0.8h-0.8zM366.4 328.9h0.8v0.8h-0.8zM368.2 323.5h0.8v0.8h-0.8zM372.5 313.7h0.8v0.8h-0.8zM375.0 331.1h0.8v0.8h-0.8zM379.9 307.8h0.8v0.8h-0.8zM370.5 323.2h0.8v0.8h-0.8zM371.9 329.7h0.8v0.8h-0.8zM369.3 323.0h0.8v0.8h-0.8zM383.5 309.0h0.8v0.8h-0.8zM383.2 325.9h0.8v0.8h-0.8zM385.2 318.9h0.8v0.8h-0.8zM370.8 317.6h0.8v0.8h-0.8zM380.9 307.9h0.8v0.8h-0.8zM368.1 329.4h0.8v0.8h-0.8zM387.3 314.0h0.8v0.8h-0.8zM372.8 317.8h0.8v0.8h-0.8zM372.9 313.4h0.8v0.8h-0.8zM383.6 314.0h0.8v0.8h-0.8zM374.3 321.9h0.8v0.8h-0.8zM381.1 315.9h0.8v0.8h-0.8zM383.8 318.4h0.8v0.8h-0.8zM372.4 313.3h0.8v0.8h-0.8zM382.1 325.1h0.8v0.8h-0.8zM379.8 326.0h0.8v0.8h-0.8zM373.5 321.4h0.8v0.8h-0.8zM375.8 340.6h0.8v0.8h-0.8zM372.7 308.6h0.8v0.8h-0.8zM366.2 316.3h0.8v0.8h-0.8zM378.2 326.5h0.8v0.8h-0.8zM382.0 329.8h0.8v0.8h-0.8zM366.2 318.5h0.8v0.8h-0.8zM373.2 306.9h0.8v0.8h-0.8zM378.6 334.6h0.8v0.8h-0.8zM365.2 324.4h0.8v0.8h-0.8zM377.8 305.0h0.8v0.8h-0.8zM376.8 312.3h0.8v0.8h-0.8zM369.2 330.1h0.8v0.8h-0.8zM374.1 341.0h0.8v0.8h-0.8zM374.2 340.0h0.8v0.8h-0.8zM372.9 338.4h0.8v0.8h-0.8zM378.0 308.0h0.8v0.8h-0.8zM381.2 323.6h0.8v0.8h-0.8zM369.6 324.7h0.8v0.8h-0.8zM375.1 303.6h0.8v0.8h-0.8zM381.6 332.1h0.8v0.8h-0.8zM373.2 329.1h0.8v0.8h-0.8zM379.1 304.4h0.8v0.8h-0.8zM381.9 313.6h0.8v0.8h-0.8zM374.6 328.1h0.8v0.8h-0.8zM376.5 313.9h0.8v0.8h-0.8zM378.9 309.9h0.8v0.8h-0.8zM383.0 329.5h0.8v0.8h-0.8zM369.4 332.7h0.8v0.8h-0.8zM368.5 321.5h0.8v0.8h-0.8zM372.5 328.7h0.8v0.8h-0.8zM381.6 316.7h0.8v0.8h-0.8zM382.9 327.6h0.8v0.8h-0.8zM385.9 312.0h0.8v0.8h-0.8zM379.0 329.8h0.8v0.8h-0.8zM369.7 322.7h0.8v0.8h-0.8zM378.5 315.4h0.8v0.8h-0.8zM383.9 317.5h0.8v0.8h-0.8zM377.2 326.9h0.8v0.8h-0.8zM366.6 326.5h0.8v0.8h-0.8zM383.2 313.9h0.8v0.8h-0.8zM373.3 326.4h0.8v0.8h-0.8zM375.6 341.5h0.8v0.8h-0.8zM377.7 305.4h0.8v0.8h-0.8zM377.3 303.0h0.8v0.8h-0.8zM367.4 322.7h0.8v0.8h-0.8zM375.5 305.1h0.8v0.8h-0.8zM372.5 314.2h0.8v0.8h-0.8zM371.2 320.7h0.8v0.8h-0.8zM369.9 332.1h0.8v0.8h-0.8zM382.0 313.1h0.8v0.8h-0.8zM376.3 320.6h0.8v0.8h-0.8zM365.0 324.8h0.8v0.8h-0.8zM370.6 342.0h0.8v0.8h-0.8zM380.5 336.0h0.8v0.8h-0.8zM383.9 321.5h0.8v0.8h-0.8zM370.3 322.6h0.8v0.8h-0.8zM377.6 320.3h0.8v0.8h-0.8zM371.9 330.2h0.8v0.8h-0.8zM386.0 313.4h0.8v0.8h-0.8zM381.0 316.6h0.8v0.8h-0.8zM377.0 317.0h0.8v0.8h-0.8zM388.4 319.6h0.8v0.8h-0.8zM386.2 320.8h0.8v0.8h-0.8zM370.5 309.6h0.8v0.8h-0.8zM380.9 317.4h0.8v0.8h-0.8zM385.6 310.5h0.8v0.8h-0.8zM370.7 316.4h0.8v0.8h-0.8zM370.6 319.5h0.8v0.8h-0.8zM383.2 307.2h0.8v0.8h-0.8zM376.6 338.5h0.8v0.8h-0.8zM371.9 307.0h0.8v0.8h-0.8zM370.7 341.5h0.8v0.8h-0.8zM383.1 328.9h0.8v0.8h-0.8zM372.0 331.5h0.8v0.8h-0.8zM378.8 326.1h0.8v0.8h-0.8zM385.2 326.6h0.8v0.8h-0.8zM366.2 327.8h0.8v0.8h-0.8zM371.3 328.9h0.8v0.8h-0.8zM384.6 317.0h0.8v0.8h-0.8zM370.8 315.6h0.8v0.8h-0.8zM380.2 333.5h0.8v0.8h-0.8zM375.4 319.5h0.8v0.8h-0.8zM385.2 308.4h0.8v0.8h-0.8zM385.4 318.9h0.8v0.8h-0.8zM377.4 341.1h0.8v0.8h-0.8zM376.6 313.1h0.8v0.8h-0.8zM374.0 329.8h0.8v0.8h-0.8zM387.0 324.6h0.8v0.8h-0.8zM375.4 324.2h0.8v0.8h-0.8zM387.1 317.5h0.8v0.8h-0.8zM365.6 318.6h0.8v0.8h-0.8zM380.1 337.0h0.8v0.8h-0.8zM384.0 327.3h0.8v0.8h-0.8zM366.3 324.7h0.8v0.8h-0.8z" fill="#ffffff" fill-opacity="0.75"/>
<path d="M373.6 314.3h0.9v0.9h-0.9zM373.4 306.4h0.9v0.9h-0.9zM379.5 315.6h0.9v0.9h-0.9zM383.3 306.0h0.9v0.9h-0.9zM377.5 330.4h0.9v0.9h-0.9zM368.7 321.8h0.9v0.9h-0.9zM376.4 307.7h0.9v0.9h-0.9zM381.2 320.7h0.9v0.9h-0.9zM379.4 306.8h0.9v0.9h-0.9zM373.2 339.4h0.9v0.9h-0.9zM371.8 340.6h0.9v0.9h-0.9zM371.8 316.1h0.9v0.9h-0.9zM378.1 308.1h0.9v0.9h-0.9zM375.3 308.0h0.9v0.9h-0.9zM375.2 340.1h0.9v0.9h-0.9zM381.9 333.4h0.9v0.9h-0.9zM374.6 339.6h0.9v0.9h-0.9zM367.0 319.3h0.9v0.9h-0.9zM368.6 331.0h0.9v0.9h-0.9zM378.0 331.1h0.9v0.9h-0.9zM375.9 326.0h0.9v0.9h-0.9zM370.3 323.1h0.9v0.9h-0.9zM364.4 318.7h0.9v0.9h-0.9zM377.1 322.2h0.9v0.9h-0.9zM372.4 328.2h0.9v0.9h-0.9zM374.0 319.2h0.9v0.9h-0.9zM375.8 317.0h0.9v0.9h-0.9zM368.3 319.0h0.9v0.9h-0.9zM373.7 317.3h0.9v0.9h-0.9zM367.0 326.1h0.9v0.9h-0.9zM378.1 326.0h0.9v0.9h-0.9zM373.9 315.8h0.9v0.9h-0.9zM385.0 312.4h0.9v0.9h-0.9zM366.7 332.1h0.9v0.9h-0.9zM376.3 309.9h0.9v0.9h-0.9zM378.0 304.7h0.9v0.9h-0.9zM378.1 325.9h0.9v0.9h-0.9zM377.5 337.1h0.9v0.9h-0.9zM376.9 324.0h0.9v0.9h-0.9zM364.7 323.6h0.9v0.9h-0.9zM378.0 340.6h0.9v0.9h-0.9zM367.6 318.2h0.9v0.9h-0.9zM383.3 309.1h0.9v0.9h-0.9zM383.1 327.0h0.9v0.9h-0.9zM385.7 316.5h0.9v0.9h-0.9zM374.0 304.7h0.9v0.9h-0.9zM376.8 334.6h0.9v0.9h-0.9zM376.7 324.0h0.9v0.9h-0.9zM371.8 341.7h0.9v0.9h-0.9zM381.9 314.8h0.9v0.9h-0.9zM369.3 330.4h0.9v0.9h-0.9zM376.6 327.2h0.9v0.9h-0.9zM367.3 334.2h0.9v0.9h-0.9zM385.3 319.7h0.9v0.9h-0.9zM371.6 343.0h0.9v0.9h-0.9zM377.4 320.5h0.9v0.9h-0.9zM371.0 323.9h0.9v0.9h-0.9zM380.5 317.5h0.9v0.9h-0.9zM371.7 338.3h0.9v0.9h-0.9zM380.3 315.0h0.9v0.9h-0.9zM367.9 318.3h0.9v0.9h-0.9zM369.3 327.5h0.9v0.9h-0.9zM372.5 314.8h0.9v0.9h-0.9zM368.7 330.8h0.9v0.9h-0.9zM369.5 329.8h0.9v0.9h-0.9zM377.6 328.9h0.9v0.9h-0.9zM379.8 329.4h0.9v0.9h-0.9zM383.3 316.2h0.9v0.9h-0.9zM385.0 320.7h0.9v0.9h-0.9zM372.5 328.7h0.9v0.9h-0.9zM373.3 323.0h0.9v0.9h-0.9zM377.8 331.8h0.9v0.9h-0.9zM371.4 330.2h0.9v0.9h-0.9zM369.8 335.3h0.9v0.9h-0.9zM372.0 326.2h0.9v0.9h-0.9zM371.7 320.6h0.9v0.9h-0.9zM376.5 333.1h0.9v0.9h-0.9zM373.5 339.3h0.9v0.9h-0.9zM376.9 339.7h0.9v0.9h-0.9zM380.4 305.0h0.9v0.9h-0.9zM386.3 309.9h0.9v0.9h-0.9zM368.0 317.6h0.9v0.9h-0.9zM370.6 317.8h0.9v0.9h-0.9zM379.9 314.7h0.9v0.9h-0.9zM376.2 340.4h0.9v0.9h-0.9zM367.0 324.6h0.9v0.9h-0.9zM369.3 334.5h0.9v0.9h-0.9zM369.2 336.1h0.9v0.9h-0.9zM374.0 341.1h0.9v0.9h-0.9zM373.0 322.8h0.9v0.9h-0.9zM374.3 339.5h0.9v0.9h-0.9zM378.5 336.0h0.9v0.9h-0.9zM371.8 337.0h0.9v0.9h-0.9zM382.7 325.8h0.9v0.9h-0.9zM374.0 323.1h0.9v0.9h-0.9zM372.9 308.1h0.9v0.9h-0.9zM369.8 335.9h0.9v0.9h-0.9zM369.8 328.1h0.9v0.9h-0.9zM374.5 341.6h0.9v0.9h-0.9zM372.5 312.2h0.9v0.9h-0.9zM368.8 327.5h0.9v0.9h-0.9zM377.3 340.2h0.9v0.9h-0.9zM373.9 312.5h0.9v0.9h-0.9zM371.7 323.6h0.9v0.9h-0.9zM381.8 321.7h0.9v0.9h-0.9zM373.9 341.1h0.9v0.9h-0.9zM375.2 307.4h0.9v0.9h-0.9zM383.3 310.6h0.9v0.9h-0.9zM373.7 327.8h0.9v0.9h-0.9zM380.1 307.9h0.9v0.9h-0.9zM379.6 327.5h0.9v0.9h-0.9zM376.8 320.0h0.9v0.9h-0.9zM372.8 321.9h0.9v0.9h-0.9zM367.7 318.4h0.9v0.9h-0.9zM372.6 341.4h0.9v0.9h-0.9zM367.4 329.8h0.9v0.9h-0.9zM378.9 329.8h0.9v0.9h-0.9zM371.5 337.6h0.9v0.9h-0.9zM385.3 319.9h0.9v0.9h-0.9zM371.0 310.7h0.9v0.9h-0.9zM376.2 336.9h0.9v0.9h-0.9zM379.8 319.6h0.9v0.9h-0.9zM387.5 319.9h0.9v0.9h-0.9zM371.8 323.0h0.9v0.9h-0.9zM372.6 318.6h0.9v0.9h-0.9zM376.3 305.4h0.9v0.9h-0.9zM378.9 326.5h0.9v0.9h-0.9zM381.6 312.4h0.9v0.9h-0.9zM373.2 327.2h0.9v0.9h-0.9zM370.8 316.8h0.9v0.9h-0.9zM370.6 322.8h0.9v0.9h-0.9zM380.0 312.0h0.9v0.9h-0.9zM371.9 321.5h0.9v0.9h-0.9zM381.2 317.6h0.9v0.9h-0.9zM365.6 323.9h0.9v0.9h-0.9zM378.4 304.1h0.9v0.9h-0.9zM379.9 305.7h0.9v0.9h-0.9zM373.3 303.7h0.9v0.9h-0.9zM378.9 309.4h0.9v0.9h-0.9zM376.8 321.6h0.9v0.9h-0.9zM373.7 333.5h0.9v0.9h-0.9zM368.7 317.0h0.9v0.9h-0.9zM365.5 320.1h0.9v0.9h-0.9zM375.2 311.5h0.9v0.9h-0.9zM370.8 309.7h0.9v0.9h-0.9zM381.7 306.6h0.9v0.9h-0.9zM383.6 327.2h0.9v0.9h-0.9zM387.4 314.5h0.9v0.9h-0.9zM379.0 328.0h0.9v0.9h-0.9zM368.8 327.3h0.9v0.9h-0.9z" fill="#6a78c4" fill-opacity="0.8"/>
<path d="M382.8 315.8h0.9v0.9h-0.9zM382.9 308.5h0.9v0.9h-0.9zM373.4 319.2h0.9v0.9h-0.9zM381.2 327.9h0.9v0.9h-0.9zM371.1 333.0h0.9v0.9h-0.9zM370.0 337.5h0.9v0.9h-0.9zM371.7 330.1h0.9v0.9h-0.9zM366.9 319.4h0.9v0.9h-0.9zM373.7 314.9h0.9v0.9h-0.9zM377.3 324.1h0.9v0.9h-0.9zM370.7 318.2h0.9v0.9h-0.9zM368.0 316.4h0.9v0.9h-0.9zM370.3 319.3h0.9v0.9h-0.9zM383.0 312.8h0.9v0.9h-0.9zM374.1 314.3h0.9v0.9h-0.9zM378.2 338.5h0.9v0.9h-0.9zM374.6 302.9h0.9v0.9h-0.9zM372.7 313.5h0.9v0.9h-0.9zM378.3 332.5h0.9v0.9h-0.9zM388.2 315.5h0.9v0.9h-0.9zM373.0 305.8h0.9v0.9h-0.9zM384.6 323.0h0.9v0.9h-0.9zM369.8 323.2h0.9v0.9h-0.9zM376.0 336.4h0.9v0.9h-0.9zM369.7 323.4h0.9v0.9h-0.9zM375.0 306.4h0.9v0.9h-0.9zM374.8 325.4h0.9v0.9h-0.9zM374.3 334.8h0.9v0.9h-0.9zM372.3 332.7h0.9v0.9h-0.9zM376.2 311.3h0.9v0.9h-0.9zM378.7 309.8h0.9v0.9h-0.9zM379.1 334.4h0.9v0.9h-0.9zM378.7 337.2h0.9v0.9h-0.9zM373.5 330.1h0.9v0.9h-0.9zM375.1 340.5h0.9v0.9h-0.9zM385.5 326.3h0.9v0.9h-0.9zM368.5 339.3h0.9v0.9h-0.9zM379.5 318.3h0.9v0.9h-0.9zM373.5 315.1h0.9v0.9h-0.9zM375.8 323.1h0.9v0.9h-0.9zM377.1 310.2h0.9v0.9h-0.9zM371.2 329.3h0.9v0.9h-0.9zM382.9 319.7h0.9v0.9h-0.9zM375.8 339.9h0.9v0.9h-0.9zM369.9 323.3h0.9v0.9h-0.9zM382.0 316.3h0.9v0.9h-0.9zM375.7 303.7h0.9v0.9h-0.9zM380.9 309.2h0.9v0.9h-0.9zM370.5 311.6h0.9v0.9h-0.9zM381.8 318.9h0.9v0.9h-0.9zM369.8 315.7h0.9v0.9h-0.9zM373.0 310.7h0.9v0.9h-0.9zM375.6 335.3h0.9v0.9h-0.9zM376.9 309.1h0.9v0.9h-0.9zM375.8 308.1h0.9v0.9h-0.9zM382.1 324.7h0.9v0.9h-0.9zM384.0 327.5h0.9v0.9h-0.9zM380.1 327.4h0.9v0.9h-0.9zM383.3 311.3h0.9v0.9h-0.9zM378.5 313.4h0.9v0.9h-0.9zM382.7 305.5h0.9v0.9h-0.9zM382.2 312.7h0.9v0.9h-0.9zM371.8 320.3h0.9v0.9h-0.9zM382.5 332.2h0.9v0.9h-0.9zM382.2 314.9h0.9v0.9h-0.9zM369.6 328.0h0.9v0.9h-0.9zM388.6 318.4h0.9v0.9h-0.9zM369.5 323.4h0.9v0.9h-0.9zM368.8 316.7h0.9v0.9h-0.9zM382.2 312.3h0.9v0.9h-0.9zM375.1 329.1h0.9v0.9h-0.9zM385.9 326.1h0.9v0.9h-0.9zM376.5 306.7h0.9v0.9h-0.9zM377.2 320.4h0.9v0.9h-0.9zM378.2 308.1h0.9v0.9h-0.9zM383.9 329.7h0.9v0.9h-0.9zM376.8 311.6h0.9v0.9h-0.9zM375.6 302.6h0.9v0.9h-0.9zM372.1 322.2h0.9v0.9h-0.9zM366.4 326.4h0.9v0.9h-0.9zM375.0 304.5h0.9v0.9h-0.9zM367.7 322.6h0.9v0.9h-0.9zM377.9 314.1h0.9v0.9h-0.9zM373.7 340.8h0.9v0.9h-0.9zM379.6 314.1h0.9v0.9h-0.9zM375.2 343.2h0.9v0.9h-0.9zM385.4 320.0h0.9v0.9h-0.9zM377.1 321.4h0.9v0.9h-0.9zM369.7 311.4h0.9v0.9h-0.9zM377.1 326.5h0.9v0.9h-0.9zM373.2 339.4h0.9v0.9h-0.9zM377.8 338.0h0.9v0.9h-0.9zM381.2 330.6h0.9v0.9h-0.9zM380.6 334.6h0.9v0.9h-0.9zM372.0 313.2h0.9v0.9h-0.9zM368.9 338.0h0.9v0.9h-0.9zM378.8 338.3h0.9v0.9h-0.9zM385.5 309.6h0.9v0.9h-0.9zM376.8 331.8h0.9v0.9h-0.9zM379.9 317.2h0.9v0.9h-0.9zM373.6 312.6h0.9v0.9h-0.9zM385.8 317.0h0.9v0.9h-0.9zM385.6 309.7h0.9v0.9h-0.9zM378.4 316.8h0.9v0.9h-0.9zM377.2 310.4h0.9v0.9h-0.9zM373.5 321.5h0.9v0.9h-0.9zM378.4 310.8h0.9v0.9h-0.9zM379.0 311.1h0.9v0.9h-0.9zM378.1 320.9h0.9v0.9h-0.9zM380.3 306.8h0.9v0.9h-0.9zM374.2 325.4h0.9v0.9h-0.9zM378.2 314.8h0.9v0.9h-0.9zM366.9 328.6h0.9v0.9h-0.9zM378.0 322.0h0.9v0.9h-0.9zM381.8 321.7h0.9v0.9h-0.9zM383.3 314.3h0.9v0.9h-0.9zM372.2 340.3h0.9v0.9h-0.9zM378.3 307.3h0.9v0.9h-0.9zM371.6 322.3h0.9v0.9h-0.9zM377.8 322.6h0.9v0.9h-0.9z" fill="#1c2a86" fill-opacity="0.9"/>
<ellipse cx="370" cy="338" rx="4.5" ry="7" fill="#b4acd8" opacity="0.55"/>
<ellipse cx="383" cy="332" rx="4" ry="5" fill="#b4b0dc" opacity="0.5"/>
<path d="M369.6 325.7h0.9v0.9h-0.9zM366.3 320.2h0.9v0.9h-0.9zM365.3 320.1h0.9v0.9h-0.9zM369.8 321.5h0.9v0.9h-0.9zM370.2 320.3h0.9v0.9h-0.9zM368.8 324.7h0.9v0.9h-0.9zM366.8 330.6h0.9v0.9h-0.9zM365.2 325.6h0.9v0.9h-0.9zM366.5 320.9h0.9v0.9h-0.9zM370.3 327.6h0.9v0.9h-0.9zM367.5 318.1h0.9v0.9h-0.9zM367.5 323.2h0.9v0.9h-0.9zM368.0 324.9h0.9v0.9h-0.9zM370.8 330.7h0.9v0.9h-0.9zM366.2 317.2h0.9v0.9h-0.9zM366.4 320.7h0.9v0.9h-0.9zM368.2 317.3h0.9v0.9h-0.9zM364.8 318.8h0.9v0.9h-0.9zM369.5 329.3h0.9v0.9h-0.9zM366.2 326.9h0.9v0.9h-0.9zM368.5 316.5h0.9v0.9h-0.9zM368.1 318.7h0.9v0.9h-0.9zM366.7 318.1h0.9v0.9h-0.9zM366.2 328.1h0.9v0.9h-0.9zM367.3 316.7h0.9v0.9h-0.9zM368.1 321.1h0.9v0.9h-0.9zM370.0 323.3h0.9v0.9h-0.9zM367.9 318.8h0.9v0.9h-0.9zM366.3 317.1h0.9v0.9h-0.9zM370.1 315.5h0.9v0.9h-0.9zM366.9 319.3h0.9v0.9h-0.9zM370.7 316.5h0.9v0.9h-0.9zM369.5 329.5h0.9v0.9h-0.9zM368.4 330.4h0.9v0.9h-0.9zM365.1 320.9h0.9v0.9h-0.9zM369.6 331.2h0.9v0.9h-0.9zM366.0 329.3h0.9v0.9h-0.9zM366.5 328.5h0.9v0.9h-0.9zM369.5 331.9h0.9v0.9h-0.9zM369.2 314.6h0.9v0.9h-0.9zM370.1 326.7h0.9v0.9h-0.9zM368.4 323.6h0.9v0.9h-0.9zM368.2 315.5h0.9v0.9h-0.9zM365.4 318.1h0.9v0.9h-0.9zM366.7 322.3h0.9v0.9h-0.9zM367.7 324.5h0.9v0.9h-0.9zM368.5 329.5h0.9v0.9h-0.9zM368.2 319.9h0.9v0.9h-0.9zM370.9 327.5h0.9v0.9h-0.9zM366.3 322.2h0.9v0.9h-0.9zM370.5 331.3h0.9v0.9h-0.9zM367.6 323.5h0.9v0.9h-0.9zM370.8 324.5h0.9v0.9h-0.9zM367.7 317.4h0.9v0.9h-0.9z" fill="#5e3478" fill-opacity="0.7"/>
<circle cx="365.5" cy="319.5" r="1.6" fill="#7a2a52"/>
<circle cx="366.5" cy="322.5" r="1.1" fill="#a0243a"/>
<circle cx="393.5" cy="318.5" r="1.7" fill="#e0706e"/>
<circle cx="396.5" cy="320.5" r="1.8" fill="#e86a66"/>
<circle cx="399" cy="319" r="1.4" fill="#f08a86"/>
<circle cx="394.5" cy="322.0" r="1.3" fill="#d85a5a"/>
<circle cx="398.5" cy="322.2" r="1.1" fill="#e47a76"/>
<circle cx="391.5" cy="317.2" r="1.0" fill="#e89090"/>
<circle cx="364.5" cy="342.5" r="1.1" fill="#6a1f3a"/>
<circle cx="385.5" cy="326" r="1.1" fill="#7a2a4a"/>
<circle cx="391" cy="320.5" r="0.8" fill="#f0a0a0"/>
<g stroke="#1a1a1a" stroke-width="0.95" fill="none"><line x1="353.6" y1="391.1" x2="353.6" y2="375.0"/><line x1="347.7" y1="387.5" x2="368.1" y2="387.5"/></g>
<path d="M353.6,371.7 L351.5,376.3 L355.7,376.3Z" fill="#1a1a1a"/>
<path d="M371.9,387.5 L367.2,385.4 L367.2,389.6Z" fill="#1a1a1a"/>
<text transform="translate(355.60 398.40) scale(0.8278 1)" font-size="8.0" fill="#222">UMAP_1</text>
<text transform="translate(349.00 372.00) rotate(-90) scale(0.8278 1)" font-size="8.0" text-anchor="middle" fill="#222">UMAP_2</text>
<text transform="translate(342.90 425.40) scale(0.8968 1)" font-size="11.5" font-weight="bold" fill="#000">F</text>
<text transform="translate(381.00 439.30) scale(1.0028 1)" font-size="8.0" fill="#222">Monocle3 estimated pseudotime</text>
<defs><linearGradient id="gp" x1="0" y1="0" x2="1" y2="0"><stop offset="0" stop-color="#0d0887"/><stop offset="0.25" stop-color="#6a00a8"/><stop offset="0.5" stop-color="#b12a90"/><stop offset="0.7" stop-color="#e16462"/><stop offset="0.85" stop-color="#fca636"/><stop offset="1" stop-color="#f0f921"/></linearGradient><linearGradient id="gf" gradientUnits="userSpaceOnUse" x1="405" y1="495" x2="492" y2="548"><stop offset="0" stop-color="#2f1a86"/><stop offset="0.2" stop-color="#3a1e94"/><stop offset="0.33" stop-color="#5a2a9e"/><stop offset="0.44" stop-color="#a83488"/><stop offset="0.58" stop-color="#d04a62"/><stop offset="0.75" stop-color="#e07a44"/><stop offset="0.88" stop-color="#d8c03c"/><stop offset="1" stop-color="#d0d43a"/></linearGradient></defs>
<rect x="435.00" y="443.20" width="32.70" height="6.80" fill="url(#gp)"/>
<text transform="translate(434.00 451.00) scale(0.9531 1)" font-size="6.9" text-anchor="end" fill="#222">pseudotime</text>
<text transform="translate(437.00 457.30) scale(0.8800 1)" font-size="7.0" text-anchor="middle" fill="#222">0</text>
<text transform="translate(444.00 457.30) scale(0.8800 1)" font-size="7.0" text-anchor="middle" fill="#222">5</text>
<text transform="translate(451.00 457.30) scale(0.8800 1)" font-size="7.0" text-anchor="middle" fill="#222">10</text>
<text transform="translate(458.10 457.30) scale(0.8800 1)" font-size="7.0" text-anchor="middle" fill="#222">15</text>
<text transform="translate(465.40 457.30) scale(0.8800 1)" font-size="7.0" text-anchor="middle" fill="#222">20</text>
<path d="M390.5,477.8C391.6,476.8 392.7,476.7 394.3,476.8C395.9,476.9 398.5,477.7 400.1,478.7C401.7,479.7 403.0,481.3 404.0,482.6C405.0,483.9 405.4,485.1 405.9,486.4C406.4,487.7 406.0,489.5 406.8,490.3C407.6,491.1 409.1,490.9 410.7,491.2C412.3,491.5 415.4,491.5 416.5,492.2C417.6,492.9 416.8,494.0 417.4,495.1C418.0,496.2 418.2,498.2 420.4,498.7C422.6,499.1 427.3,498.1 430.8,497.8C434.3,497.5 438.0,497.2 441.2,496.9C444.4,496.6 447.4,496.1 449.8,496.1C452.2,496.1 454.8,495.6 455.9,496.9C457.0,498.2 456.0,501.5 456.7,503.8C457.4,506.1 458.8,507.9 460.2,510.8C461.6,513.7 463.7,518.0 465.4,521.2C467.1,524.4 468.6,527.2 470.6,529.8C472.6,532.4 475.2,535.2 477.5,536.7C479.8,538.2 482.1,537.9 484.4,538.5C486.7,539.1 489.6,539.1 491.3,540.2C493.0,541.4 494.5,543.4 494.8,545.4C495.1,547.4 494.5,550.7 493.1,552.3C491.7,553.9 488.5,554.8 486.2,554.9C483.9,555.0 481.2,554.2 479.2,553.2C477.2,552.2 476.0,550.7 474.0,548.8C472.0,546.9 469.4,543.9 467.1,541.9C464.8,539.9 462.5,538.4 460.2,536.7C457.9,535.0 455.9,532.9 453.3,531.5C450.7,530.1 447.5,529.0 444.6,528.1C441.7,527.2 438.9,526.4 436.0,526.3C433.1,526.1 429.9,526.9 427.3,527.2C424.7,527.5 422.0,528.2 420.4,528.1C418.8,528.0 418.1,527.8 417.8,526.3C417.5,524.8 418.9,521.7 418.7,519.4C418.5,517.1 417.9,513.7 416.9,512.5C415.9,511.3 414.0,512.4 412.6,512.4C411.2,512.4 409.9,512.7 408.8,512.4C407.7,512.1 406.9,510.7 405.9,510.5C404.9,510.3 404.0,511.1 403.0,511.4C402.0,511.7 401.1,511.8 400.1,512.4C399.1,513.0 398.5,514.5 397.2,515.3C395.9,516.1 394.3,517.1 392.4,517.2C390.5,517.4 387.5,516.9 385.7,516.2C383.9,515.6 382.1,514.6 381.8,513.3C381.5,512.0 383.0,509.9 383.8,508.5C384.6,507.1 386.7,506.0 386.7,504.7C386.7,503.4 384.6,502.4 383.8,500.8C383.0,499.2 382.0,496.5 381.8,495.1C381.6,493.7 382.0,493.3 382.8,492.2C383.6,491.1 385.9,489.9 386.7,488.3C387.5,486.7 387.0,484.4 387.6,482.6C388.2,480.9 389.4,478.8 390.5,477.8Z" fill="url(#gf)"/>
<ellipse cx="409" cy="498" rx="8.5" ry="5.5" transform="rotate(25 409 498)" fill="#fff" opacity="0.35"/>
<ellipse cx="390" cy="510" rx="5" ry="3.5" fill="#7a4ab0" opacity="0.35"/>
<path d="M413.7 494.7h0.8v0.8h-0.8zM440.1 518.0h0.8v0.8h-0.8zM463.1 536.2h0.8v0.8h-0.8zM423.8 526.2h0.8v0.8h-0.8zM416.1 496.0h0.8v0.8h-0.8zM414.4 494.8h0.8v0.8h-0.8zM396.9 506.9h0.8v0.8h-0.8zM393.5 504.7h0.8v0.8h-0.8zM489.3 551.9h0.8v0.8h-0.8zM467.4 539.6h0.8v0.8h-0.8zM388.8 515.2h0.8v0.8h-0.8zM391.3 510.9h0.8v0.8h-0.8zM410.6 494.7h0.8v0.8h-0.8zM416.4 508.0h0.8v0.8h-0.8zM435.9 517.4h0.8v0.8h-0.8zM450.1 524.5h0.8v0.8h-0.8zM385.0 498.4h0.8v0.8h-0.8zM464.4 525.3h0.8v0.8h-0.8zM400.2 494.6h0.8v0.8h-0.8zM443.9 517.4h0.8v0.8h-0.8zM449.7 522.2h0.8v0.8h-0.8zM402.6 495.1h0.8v0.8h-0.8zM462.5 534.5h0.8v0.8h-0.8zM445.7 523.6h0.8v0.8h-0.8zM455.3 530.1h0.8v0.8h-0.8zM404.6 491.7h0.8v0.8h-0.8zM445.1 524.9h0.8v0.8h-0.8zM434.9 520.9h0.8v0.8h-0.8zM478.3 543.1h0.8v0.8h-0.8zM394.2 502.1h0.8v0.8h-0.8zM462.9 523.0h0.8v0.8h-0.8zM436.1 503.8h0.8v0.8h-0.8zM446.1 515.9h0.8v0.8h-0.8zM446.5 517.8h0.8v0.8h-0.8zM391.7 481.4h0.8v0.8h-0.8zM476.1 549.7h0.8v0.8h-0.8zM433.9 500.7h0.8v0.8h-0.8zM431.1 513.7h0.8v0.8h-0.8zM423.5 526.9h0.8v0.8h-0.8zM401.4 504.2h0.8v0.8h-0.8zM485.2 542.5h0.8v0.8h-0.8zM447.0 502.1h0.8v0.8h-0.8zM450.0 520.5h0.8v0.8h-0.8zM444.2 502.1h0.8v0.8h-0.8zM493.2 551.6h0.8v0.8h-0.8zM472.2 543.4h0.8v0.8h-0.8zM455.0 504.1h0.8v0.8h-0.8zM440.6 507.9h0.8v0.8h-0.8zM454.7 508.7h0.8v0.8h-0.8zM458.8 521.8h0.8v0.8h-0.8zM443.6 503.7h0.8v0.8h-0.8zM392.6 509.1h0.8v0.8h-0.8zM391.8 515.7h0.8v0.8h-0.8zM483.9 543.5h0.8v0.8h-0.8zM422.8 511.0h0.8v0.8h-0.8zM394.5 501.1h0.8v0.8h-0.8zM462.5 519.9h0.8v0.8h-0.8zM421.3 526.6h0.8v0.8h-0.8zM433.8 520.2h0.8v0.8h-0.8zM453.6 502.2h0.8v0.8h-0.8zM456.1 512.1h0.8v0.8h-0.8zM436.0 510.5h0.8v0.8h-0.8zM462.2 519.1h0.8v0.8h-0.8zM404.4 502.0h0.8v0.8h-0.8zM468.5 530.1h0.8v0.8h-0.8zM431.1 521.3h0.8v0.8h-0.8zM446.5 496.7h0.8v0.8h-0.8zM394.0 505.8h0.8v0.8h-0.8zM438.1 506.9h0.8v0.8h-0.8zM409.7 499.0h0.8v0.8h-0.8zM454.7 509.3h0.8v0.8h-0.8zM419.1 511.5h0.8v0.8h-0.8zM458.2 509.2h0.8v0.8h-0.8zM470.6 542.9h0.8v0.8h-0.8zM422.6 512.6h0.8v0.8h-0.8zM400.3 503.2h0.8v0.8h-0.8zM388.6 511.8h0.8v0.8h-0.8zM432.9 517.7h0.8v0.8h-0.8zM403.4 489.2h0.8v0.8h-0.8zM454.1 508.4h0.8v0.8h-0.8zM397.5 494.7h0.8v0.8h-0.8zM466.1 528.7h0.8v0.8h-0.8zM384.9 492.0h0.8v0.8h-0.8zM406.0 500.6h0.8v0.8h-0.8zM413.7 492.8h0.8v0.8h-0.8zM448.5 496.7h0.8v0.8h-0.8zM397.2 492.3h0.8v0.8h-0.8zM420.3 510.3h0.8v0.8h-0.8zM472.7 532.3h0.8v0.8h-0.8zM469.3 536.0h0.8v0.8h-0.8zM431.8 519.8h0.8v0.8h-0.8zM445.1 524.0h0.8v0.8h-0.8zM393.5 489.9h0.8v0.8h-0.8zM389.4 509.2h0.8v0.8h-0.8zM412.3 509.4h0.8v0.8h-0.8zM457.2 511.3h0.8v0.8h-0.8zM471.3 536.7h0.8v0.8h-0.8zM441.5 512.9h0.8v0.8h-0.8zM403.4 495.0h0.8v0.8h-0.8zM387.7 503.1h0.8v0.8h-0.8zM396.8 478.2h0.8v0.8h-0.8zM397.2 502.0h0.8v0.8h-0.8zM464.3 527.2h0.8v0.8h-0.8zM423.4 525.8h0.8v0.8h-0.8zM476.4 542.3h0.8v0.8h-0.8zM392.5 478.4h0.8v0.8h-0.8zM450.3 522.0h0.8v0.8h-0.8zM394.5 513.8h0.8v0.8h-0.8zM479.8 539.8h0.8v0.8h-0.8zM440.7 499.4h0.8v0.8h-0.8zM399.0 488.0h0.8v0.8h-0.8zM442.0 513.8h0.8v0.8h-0.8zM437.3 517.8h0.8v0.8h-0.8zM484.5 539.5h0.8v0.8h-0.8zM421.8 521.1h0.8v0.8h-0.8zM425.7 519.7h0.8v0.8h-0.8zM471.5 538.1h0.8v0.8h-0.8zM415.0 494.4h0.8v0.8h-0.8zM434.7 523.9h0.8v0.8h-0.8zM464.2 521.1h0.8v0.8h-0.8zM407.5 508.8h0.8v0.8h-0.8zM407.2 493.8h0.8v0.8h-0.8zM484.7 547.0h0.8v0.8h-0.8zM407.6 496.6h0.8v0.8h-0.8zM484.2 552.6h0.8v0.8h-0.8zM395.6 511.8h0.8v0.8h-0.8zM435.1 510.9h0.8v0.8h-0.8zM401.3 480.7h0.8v0.8h-0.8zM426.5 500.2h0.8v0.8h-0.8zM445.3 501.2h0.8v0.8h-0.8zM399.4 513.1h0.8v0.8h-0.8zM436.8 518.9h0.8v0.8h-0.8zM423.4 507.9h0.8v0.8h-0.8zM407.6 509.9h0.8v0.8h-0.8zM455.3 518.0h0.8v0.8h-0.8zM462.2 524.8h0.8v0.8h-0.8zM458.9 517.2h0.8v0.8h-0.8zM399.6 488.9h0.8v0.8h-0.8zM398.0 495.4h0.8v0.8h-0.8zM385.4 502.6h0.8v0.8h-0.8zM440.2 516.3h0.8v0.8h-0.8zM451.0 515.3h0.8v0.8h-0.8zM479.3 550.4h0.8v0.8h-0.8zM449.1 498.4h0.8v0.8h-0.8zM429.0 524.8h0.8v0.8h-0.8zM408.3 490.8h0.8v0.8h-0.8zM489.7 544.0h0.8v0.8h-0.8zM444.8 520.7h0.8v0.8h-0.8zM459.0 522.6h0.8v0.8h-0.8zM437.7 524.2h0.8v0.8h-0.8zM399.0 492.5h0.8v0.8h-0.8zM395.4 502.5h0.8v0.8h-0.8zM399.7 510.7h0.8v0.8h-0.8zM476.7 540.5h0.8v0.8h-0.8zM448.6 519.7h0.8v0.8h-0.8zM431.8 511.8h0.8v0.8h-0.8zM404.6 504.0h0.8v0.8h-0.8zM482.8 542.4h0.8v0.8h-0.8zM449.6 497.3h0.8v0.8h-0.8zM456.3 511.2h0.8v0.8h-0.8zM441.3 515.4h0.8v0.8h-0.8zM475.7 540.1h0.8v0.8h-0.8zM428.1 516.3h0.8v0.8h-0.8zM459.2 533.7h0.8v0.8h-0.8zM394.8 484.9h0.8v0.8h-0.8zM470.9 538.6h0.8v0.8h-0.8zM385.0 496.6h0.8v0.8h-0.8zM455.3 501.5h0.8v0.8h-0.8zM447.8 503.9h0.8v0.8h-0.8zM403.7 500.2h0.8v0.8h-0.8zM394.9 508.6h0.8v0.8h-0.8zM390.9 479.0h0.8v0.8h-0.8zM464.6 531.8h0.8v0.8h-0.8zM415.1 494.7h0.8v0.8h-0.8zM443.8 508.5h0.8v0.8h-0.8zM407.3 501.2h0.8v0.8h-0.8zM436.2 502.2h0.8v0.8h-0.8zM485.3 550.4h0.8v0.8h-0.8zM396.1 514.8h0.8v0.8h-0.8zM420.9 503.7h0.8v0.8h-0.8zM470.4 535.2h0.8v0.8h-0.8zM489.8 543.5h0.8v0.8h-0.8zM446.9 499.6h0.8v0.8h-0.8zM460.9 524.5h0.8v0.8h-0.8zM450.1 498.3h0.8v0.8h-0.8zM423.6 525.7h0.8v0.8h-0.8zM397.2 500.4h0.8v0.8h-0.8zM400.8 479.6h0.8v0.8h-0.8zM432.8 505.9h0.8v0.8h-0.8zM445.0 507.9h0.8v0.8h-0.8zM417.6 508.7h0.8v0.8h-0.8zM446.4 527.2h0.8v0.8h-0.8zM488.0 550.8h0.8v0.8h-0.8zM468.0 539.6h0.8v0.8h-0.8zM471.0 538.4h0.8v0.8h-0.8zM385.9 513.0h0.8v0.8h-0.8zM453.6 505.7h0.8v0.8h-0.8zM421.3 515.1h0.8v0.8h-0.8zM402.6 493.0h0.8v0.8h-0.8zM397.7 498.3h0.8v0.8h-0.8zM468.6 532.3h0.8v0.8h-0.8zM414.9 505.3h0.8v0.8h-0.8zM398.0 482.9h0.8v0.8h-0.8zM419.2 520.6h0.8v0.8h-0.8zM423.7 505.7h0.8v0.8h-0.8zM427.0 498.7h0.8v0.8h-0.8zM428.4 505.0h0.8v0.8h-0.8zM411.5 506.5h0.8v0.8h-0.8zM413.3 495.3h0.8v0.8h-0.8zM432.3 507.9h0.8v0.8h-0.8zM442.9 518.3h0.8v0.8h-0.8zM399.1 508.5h0.8v0.8h-0.8zM450.6 499.9h0.8v0.8h-0.8zM395.2 501.5h0.8v0.8h-0.8zM384.9 508.7h0.8v0.8h-0.8zM458.9 514.4h0.8v0.8h-0.8zM480.4 546.2h0.8v0.8h-0.8zM405.6 499.5h0.8v0.8h-0.8zM462.1 536.5h0.8v0.8h-0.8zM482.5 553.0h0.8v0.8h-0.8zM484.4 549.6h0.8v0.8h-0.8zM460.6 517.3h0.8v0.8h-0.8zM415.1 497.7h0.8v0.8h-0.8zM453.0 525.2h0.8v0.8h-0.8zM457.6 519.5h0.8v0.8h-0.8zM423.6 518.4h0.8v0.8h-0.8zM405.3 509.6h0.8v0.8h-0.8zM390.4 503.9h0.8v0.8h-0.8zM440.9 507.2h0.8v0.8h-0.8zM467.3 531.8h0.8v0.8h-0.8zM486.9 552.7h0.8v0.8h-0.8zM434.2 499.0h0.8v0.8h-0.8zM390.7 496.6h0.8v0.8h-0.8zM434.3 514.6h0.8v0.8h-0.8zM465.2 538.6h0.8v0.8h-0.8zM455.5 498.8h0.8v0.8h-0.8zM460.3 521.4h0.8v0.8h-0.8zM434.0 501.5h0.8v0.8h-0.8zM459.0 523.3h0.8v0.8h-0.8zM468.4 527.1h0.8v0.8h-0.8zM492.0 544.2h0.8v0.8h-0.8zM484.8 553.3h0.8v0.8h-0.8zM397.1 505.4h0.8v0.8h-0.8zM445.0 503.3h0.8v0.8h-0.8zM388.4 498.6h0.8v0.8h-0.8zM426.7 515.9h0.8v0.8h-0.8zM425.0 505.7h0.8v0.8h-0.8zM428.0 516.8h0.8v0.8h-0.8zM441.4 500.2h0.8v0.8h-0.8zM390.9 485.6h0.8v0.8h-0.8zM387.8 508.0h0.8v0.8h-0.8zM440.0 524.9h0.8v0.8h-0.8zM455.9 522.1h0.8v0.8h-0.8zM470.0 542.2h0.8v0.8h-0.8zM429.4 524.0h0.8v0.8h-0.8zM440.3 506.8h0.8v0.8h-0.8zM444.6 516.2h0.8v0.8h-0.8zM454.2 529.3h0.8v0.8h-0.8zM487.8 541.5h0.8v0.8h-0.8zM425.1 506.4h0.8v0.8h-0.8zM409.7 505.9h0.8v0.8h-0.8zM433.0 510.2h0.8v0.8h-0.8zM441.5 498.5h0.8v0.8h-0.8zM429.1 502.2h0.8v0.8h-0.8zM385.3 511.1h0.8v0.8h-0.8zM393.2 504.5h0.8v0.8h-0.8zM465.0 526.4h0.8v0.8h-0.8zM420.3 505.9h0.8v0.8h-0.8zM403.1 502.4h0.8v0.8h-0.8zM451.7 529.1h0.8v0.8h-0.8zM462.0 518.7h0.8v0.8h-0.8zM477.5 545.0h0.8v0.8h-0.8zM437.3 525.5h0.8v0.8h-0.8zM441.9 504.4h0.8v0.8h-0.8zM468.5 541.2h0.8v0.8h-0.8zM428.4 500.0h0.8v0.8h-0.8zM471.4 546.0h0.8v0.8h-0.8zM465.1 533.5h0.8v0.8h-0.8zM458.3 521.0h0.8v0.8h-0.8zM483.0 548.3h0.8v0.8h-0.8zM451.9 502.6h0.8v0.8h-0.8zM415.4 497.0h0.8v0.8h-0.8zM397.8 490.6h0.8v0.8h-0.8zM470.7 541.9h0.8v0.8h-0.8zM436.6 508.5h0.8v0.8h-0.8zM395.4 487.8h0.8v0.8h-0.8zM461.5 528.4h0.8v0.8h-0.8zM410.9 511.1h0.8v0.8h-0.8zM429.2 513.5h0.8v0.8h-0.8zM387.9 485.6h0.8v0.8h-0.8zM486.6 554.7h0.8v0.8h-0.8zM401.9 508.7h0.8v0.8h-0.8zM388.9 499.0h0.8v0.8h-0.8zM461.8 525.2h0.8v0.8h-0.8zM410.3 495.5h0.8v0.8h-0.8zM483.4 541.5h0.8v0.8h-0.8zM428.3 498.4h0.8v0.8h-0.8zM479.1 539.0h0.8v0.8h-0.8zM410.3 502.7h0.8v0.8h-0.8zM474.9 537.8h0.8v0.8h-0.8zM470.7 540.2h0.8v0.8h-0.8zM395.0 495.7h0.8v0.8h-0.8zM406.7 501.0h0.8v0.8h-0.8zM466.1 529.1h0.8v0.8h-0.8zM434.0 498.3h0.8v0.8h-0.8zM433.2 520.6h0.8v0.8h-0.8zM389.0 497.8h0.8v0.8h-0.8zM450.8 516.1h0.8v0.8h-0.8zM448.1 505.1h0.8v0.8h-0.8zM414.8 505.4h0.8v0.8h-0.8zM459.4 529.9h0.8v0.8h-0.8zM445.8 504.9h0.8v0.8h-0.8zM423.6 524.1h0.8v0.8h-0.8zM470.2 537.8h0.8v0.8h-0.8zM397.5 481.0h0.8v0.8h-0.8zM429.5 507.7h0.8v0.8h-0.8zM490.8 543.4h0.8v0.8h-0.8zM402.3 488.9h0.8v0.8h-0.8zM474.5 536.3h0.8v0.8h-0.8zM387.2 509.2h0.8v0.8h-0.8zM432.9 513.2h0.8v0.8h-0.8zM387.9 499.9h0.8v0.8h-0.8zM387.4 486.7h0.8v0.8h-0.8zM424.9 512.8h0.8v0.8h-0.8zM399.6 508.9h0.8v0.8h-0.8zM482.8 547.8h0.8v0.8h-0.8zM428.9 523.7h0.8v0.8h-0.8zM401.6 509.6h0.8v0.8h-0.8zM398.3 498.4h0.8v0.8h-0.8zM406.1 500.5h0.8v0.8h-0.8zM474.7 547.1h0.8v0.8h-0.8zM432.0 504.0h0.8v0.8h-0.8zM393.5 507.8h0.8v0.8h-0.8zM442.0 517.5h0.8v0.8h-0.8zM431.1 498.7h0.8v0.8h-0.8zM458.4 526.2h0.8v0.8h-0.8zM430.6 516.7h0.8v0.8h-0.8zM450.7 505.1h0.8v0.8h-0.8zM420.8 502.6h0.8v0.8h-0.8zM399.4 499.8h0.8v0.8h-0.8zM430.8 505.5h0.8v0.8h-0.8zM384.5 514.0h0.8v0.8h-0.8zM391.7 492.3h0.8v0.8h-0.8zM398.0 505.8h0.8v0.8h-0.8zM398.9 480.0h0.8v0.8h-0.8zM393.1 514.2h0.8v0.8h-0.8zM436.8 523.7h0.8v0.8h-0.8zM455.7 510.3h0.8v0.8h-0.8zM453.5 506.4h0.8v0.8h-0.8zM487.3 549.5h0.8v0.8h-0.8zM465.2 522.3h0.8v0.8h-0.8zM440.2 498.2h0.8v0.8h-0.8zM402.4 504.1h0.8v0.8h-0.8zM398.0 508.0h0.8v0.8h-0.8zM414.7 503.9h0.8v0.8h-0.8zM439.4 508.9h0.8v0.8h-0.8zM415.3 506.2h0.8v0.8h-0.8zM459.9 531.0h0.8v0.8h-0.8zM435.5 502.1h0.8v0.8h-0.8zM421.9 499.6h0.8v0.8h-0.8zM444.0 521.2h0.8v0.8h-0.8zM441.3 510.3h0.8v0.8h-0.8zM418.3 516.7h0.8v0.8h-0.8zM453.5 502.4h0.8v0.8h-0.8zM447.1 504.5h0.8v0.8h-0.8zM425.1 526.8h0.8v0.8h-0.8zM396.8 515.3h0.8v0.8h-0.8zM449.2 525.4h0.8v0.8h-0.8zM433.4 523.0h0.8v0.8h-0.8zM385.4 507.6h0.8v0.8h-0.8zM467.8 533.3h0.8v0.8h-0.8zM472.2 534.5h0.8v0.8h-0.8zM398.6 489.0h0.8v0.8h-0.8zM396.8 479.5h0.8v0.8h-0.8zM438.7 503.5h0.8v0.8h-0.8zM399.6 498.9h0.8v0.8h-0.8zM409.9 503.9h0.8v0.8h-0.8zM484.5 545.8h0.8v0.8h-0.8zM406.0 499.6h0.8v0.8h-0.8zM465.5 540.2h0.8v0.8h-0.8zM398.7 478.5h0.8v0.8h-0.8zM478.8 546.3h0.8v0.8h-0.8zM391.9 488.5h0.8v0.8h-0.8zM491.5 550.2h0.8v0.8h-0.8zM476.1 537.3h0.8v0.8h-0.8zM463.5 518.7h0.8v0.8h-0.8zM385.8 493.8h0.8v0.8h-0.8zM484.0 553.9h0.8v0.8h-0.8zM441.8 511.6h0.8v0.8h-0.8zM420.0 525.5h0.8v0.8h-0.8zM445.6 516.5h0.8v0.8h-0.8zM458.6 516.3h0.8v0.8h-0.8zM460.2 515.8h0.8v0.8h-0.8zM422.5 500.7h0.8v0.8h-0.8zM466.4 525.2h0.8v0.8h-0.8zM444.1 520.6h0.8v0.8h-0.8zM394.1 479.8h0.8v0.8h-0.8zM446.9 502.2h0.8v0.8h-0.8zM412.5 492.1h0.8v0.8h-0.8zM433.6 510.8h0.8v0.8h-0.8zM426.9 499.6h0.8v0.8h-0.8zM394.5 496.4h0.8v0.8h-0.8zM400.1 487.0h0.8v0.8h-0.8zM397.0 489.0h0.8v0.8h-0.8zM466.3 525.8h0.8v0.8h-0.8zM435.7 524.3h0.8v0.8h-0.8zM457.0 513.4h0.8v0.8h-0.8zM389.7 490.7h0.8v0.8h-0.8zM464.5 529.1h0.8v0.8h-0.8zM420.8 508.9h0.8v0.8h-0.8zM419.3 512.9h0.8v0.8h-0.8zM428.9 509.9h0.8v0.8h-0.8zM431.5 517.1h0.8v0.8h-0.8zM442.4 508.3h0.8v0.8h-0.8zM446.0 512.6h0.8v0.8h-0.8zM458.8 512.2h0.8v0.8h-0.8zM455.3 528.0h0.8v0.8h-0.8zM398.7 506.7h0.8v0.8h-0.8zM401.7 486.0h0.8v0.8h-0.8zM402.9 491.2h0.8v0.8h-0.8zM443.1 510.1h0.8v0.8h-0.8zM466.7 530.3h0.8v0.8h-0.8zM436.2 521.0h0.8v0.8h-0.8zM467.5 539.6h0.8v0.8h-0.8zM404.6 503.4h0.8v0.8h-0.8zM403.1 484.3h0.8v0.8h-0.8zM400.4 495.8h0.8v0.8h-0.8zM442.0 509.7h0.8v0.8h-0.8zM401.7 493.7h0.8v0.8h-0.8zM456.0 497.7h0.8v0.8h-0.8zM422.8 522.2h0.8v0.8h-0.8zM396.5 513.9h0.8v0.8h-0.8zM390.3 515.9h0.8v0.8h-0.8zM448.3 516.4h0.8v0.8h-0.8zM476.8 545.9h0.8v0.8h-0.8zM460.2 518.5h0.8v0.8h-0.8zM406.0 496.6h0.8v0.8h-0.8zM477.9 550.1h0.8v0.8h-0.8zM425.1 503.1h0.8v0.8h-0.8zM443.6 503.3h0.8v0.8h-0.8zM391.8 499.7h0.8v0.8h-0.8zM431.3 519.4h0.8v0.8h-0.8zM431.3 502.3h0.8v0.8h-0.8zM436.8 526.1h0.8v0.8h-0.8zM444.1 508.0h0.8v0.8h-0.8zM459.6 521.6h0.8v0.8h-0.8zM407.4 506.3h0.8v0.8h-0.8zM436.0 508.5h0.8v0.8h-0.8zM385.2 493.8h0.8v0.8h-0.8zM424.9 505.3h0.8v0.8h-0.8zM419.5 497.9h0.8v0.8h-0.8zM411.6 498.8h0.8v0.8h-0.8zM434.3 511.4h0.8v0.8h-0.8zM474.4 535.6h0.8v0.8h-0.8zM396.1 493.0h0.8v0.8h-0.8zM452.9 525.9h0.8v0.8h-0.8zM387.5 501.1h0.8v0.8h-0.8zM445.4 527.0h0.8v0.8h-0.8zM482.0 545.2h0.8v0.8h-0.8zM434.2 514.9h0.8v0.8h-0.8zM382.4 495.0h0.8v0.8h-0.8zM398.0 494.4h0.8v0.8h-0.8zM446.8 525.0h0.8v0.8h-0.8zM465.3 521.1h0.8v0.8h-0.8zM450.2 516.1h0.8v0.8h-0.8zM398.1 492.9h0.8v0.8h-0.8zM432.8 525.9h0.8v0.8h-0.8zM464.2 534.9h0.8v0.8h-0.8zM446.7 522.6h0.8v0.8h-0.8zM427.4 517.9h0.8v0.8h-0.8zM465.1 538.7h0.8v0.8h-0.8zM488.6 552.8h0.8v0.8h-0.8zM450.0 517.2h0.8v0.8h-0.8zM395.7 503.3h0.8v0.8h-0.8zM452.0 529.8h0.8v0.8h-0.8zM433.8 510.5h0.8v0.8h-0.8zM439.4 518.2h0.8v0.8h-0.8zM420.5 518.0h0.8v0.8h-0.8zM395.4 515.5h0.8v0.8h-0.8zM442.8 514.0h0.8v0.8h-0.8zM414.4 507.3h0.8v0.8h-0.8zM491.7 549.3h0.8v0.8h-0.8zM466.3 532.3h0.8v0.8h-0.8zM443.5 496.7h0.8v0.8h-0.8zM383.1 495.6h0.8v0.8h-0.8zM456.0 505.6h0.8v0.8h-0.8zM404.0 487.2h0.8v0.8h-0.8zM386.2 513.7h0.8v0.8h-0.8zM442.0 518.8h0.8v0.8h-0.8zM484.6 546.3h0.8v0.8h-0.8zM400.7 485.9h0.8v0.8h-0.8zM390.8 501.1h0.8v0.8h-0.8zM426.1 517.6h0.8v0.8h-0.8zM480.8 548.4h0.8v0.8h-0.8zM402.6 489.7h0.8v0.8h-0.8zM486.2 547.6h0.8v0.8h-0.8zM398.0 500.1h0.8v0.8h-0.8zM398.8 478.7h0.8v0.8h-0.8zM490.0 550.3h0.8v0.8h-0.8zM383.1 498.5h0.8v0.8h-0.8zM412.3 502.5h0.8v0.8h-0.8zM491.6 545.2h0.8v0.8h-0.8zM436.1 521.0h0.8v0.8h-0.8zM456.3 510.2h0.8v0.8h-0.8zM452.4 499.1h0.8v0.8h-0.8zM429.0 499.3h0.8v0.8h-0.8zM398.8 486.3h0.8v0.8h-0.8zM436.8 511.1h0.8v0.8h-0.8zM402.9 503.8h0.8v0.8h-0.8zM446.5 515.2h0.8v0.8h-0.8zM387.1 515.2h0.8v0.8h-0.8zM401.0 490.2h0.8v0.8h-0.8zM492.7 543.5h0.8v0.8h-0.8zM428.1 511.2h0.8v0.8h-0.8zM402.6 486.6h0.8v0.8h-0.8zM465.5 525.7h0.8v0.8h-0.8zM426.0 514.4h0.8v0.8h-0.8zM460.2 525.7h0.8v0.8h-0.8zM491.3 551.7h0.8v0.8h-0.8zM439.6 509.3h0.8v0.8h-0.8zM425.8 510.7h0.8v0.8h-0.8zM387.6 488.1h0.8v0.8h-0.8zM459.4 519.0h0.8v0.8h-0.8zM451.9 514.7h0.8v0.8h-0.8zM463.2 522.6h0.8v0.8h-0.8zM397.9 509.1h0.8v0.8h-0.8zM449.3 524.2h0.8v0.8h-0.8zM389.0 495.6h0.8v0.8h-0.8zM426.3 503.0h0.8v0.8h-0.8zM415.7 506.6h0.8v0.8h-0.8zM479.3 538.4h0.8v0.8h-0.8zM396.3 484.5h0.8v0.8h-0.8zM401.2 491.0h0.8v0.8h-0.8zM453.9 525.8h0.8v0.8h-0.8zM448.3 524.9h0.8v0.8h-0.8zM404.1 499.9h0.8v0.8h-0.8zM389.9 510.3h0.8v0.8h-0.8zM453.5 509.8h0.8v0.8h-0.8zM400.5 509.2h0.8v0.8h-0.8zM434.3 501.5h0.8v0.8h-0.8zM403.7 506.3h0.8v0.8h-0.8zM442.3 512.6h0.8v0.8h-0.8zM475.0 537.6h0.8v0.8h-0.8zM474.5 539.8h0.8v0.8h-0.8zM461.2 516.6h0.8v0.8h-0.8zM439.2 501.9h0.8v0.8h-0.8zM399.6 505.6h0.8v0.8h-0.8zM420.6 504.1h0.8v0.8h-0.8zM445.0 501.5h0.8v0.8h-0.8zM428.0 526.8h0.8v0.8h-0.8zM465.1 533.3h0.8v0.8h-0.8zM477.6 546.9h0.8v0.8h-0.8zM464.0 528.8h0.8v0.8h-0.8zM468.8 533.8h0.8v0.8h-0.8zM465.2 528.8h0.8v0.8h-0.8zM456.9 522.2h0.8v0.8h-0.8zM398.3 481.2h0.8v0.8h-0.8zM456.6 524.2h0.8v0.8h-0.8zM463.1 530.2h0.8v0.8h-0.8zM399.6 490.9h0.8v0.8h-0.8zM438.7 497.7h0.8v0.8h-0.8zM470.9 544.6h0.8v0.8h-0.8zM435.0 515.9h0.8v0.8h-0.8zM400.9 489.7h0.8v0.8h-0.8zM448.7 503.9h0.8v0.8h-0.8zM407.9 511.7h0.8v0.8h-0.8zM396.3 511.4h0.8v0.8h-0.8zM443.2 514.8h0.8v0.8h-0.8zM470.7 533.0h0.8v0.8h-0.8zM433.5 513.0h0.8v0.8h-0.8zM448.9 526.8h0.8v0.8h-0.8zM451.4 503.4h0.8v0.8h-0.8zM454.6 497.4h0.8v0.8h-0.8zM393.7 488.7h0.8v0.8h-0.8zM455.6 505.5h0.8v0.8h-0.8zM418.3 513.5h0.8v0.8h-0.8zM394.8 486.1h0.8v0.8h-0.8zM423.8 520.2h0.8v0.8h-0.8zM445.8 526.5h0.8v0.8h-0.8zM403.0 499.4h0.8v0.8h-0.8zM416.4 507.1h0.8v0.8h-0.8zM436.2 501.4h0.8v0.8h-0.8zM448.1 499.8h0.8v0.8h-0.8zM412.8 512.0h0.8v0.8h-0.8zM431.7 523.7h0.8v0.8h-0.8zM411.8 493.3h0.8v0.8h-0.8zM459.5 523.6h0.8v0.8h-0.8zM475.3 548.1h0.8v0.8h-0.8zM477.7 539.2h0.8v0.8h-0.8zM415.0 511.5h0.8v0.8h-0.8zM396.8 494.9h0.8v0.8h-0.8zM397.3 478.2h0.8v0.8h-0.8zM462.9 535.2h0.8v0.8h-0.8zM459.4 512.3h0.8v0.8h-0.8zM430.6 516.0h0.8v0.8h-0.8zM420.6 510.2h0.8v0.8h-0.8zM493.6 547.7h0.8v0.8h-0.8zM449.3 528.3h0.8v0.8h-0.8zM455.5 501.9h0.8v0.8h-0.8zM402.5 504.0h0.8v0.8h-0.8zM405.1 489.8h0.8v0.8h-0.8zM440.3 501.0h0.8v0.8h-0.8zM465.3 539.8h0.8v0.8h-0.8zM403.4 509.6h0.8v0.8h-0.8zM463.2 524.0h0.8v0.8h-0.8zM470.2 537.0h0.8v0.8h-0.8zM433.9 518.8h0.8v0.8h-0.8zM386.8 499.6h0.8v0.8h-0.8zM396.6 490.0h0.8v0.8h-0.8zM427.4 503.9h0.8v0.8h-0.8zM450.8 518.9h0.8v0.8h-0.8zM463.8 518.6h0.8v0.8h-0.8zM470.5 544.1h0.8v0.8h-0.8zM493.6 545.3h0.8v0.8h-0.8zM394.1 515.0h0.8v0.8h-0.8zM417.7 514.5h0.8v0.8h-0.8zM481.3 542.3h0.8v0.8h-0.8zM465.9 536.0h0.8v0.8h-0.8zM410.3 506.0h0.8v0.8h-0.8zM455.0 498.0h0.8v0.8h-0.8zM439.0 509.0h0.8v0.8h-0.8zM390.4 482.4h0.8v0.8h-0.8zM461.1 525.0h0.8v0.8h-0.8zM453.4 528.9h0.8v0.8h-0.8zM474.8 540.6h0.8v0.8h-0.8zM386.9 499.5h0.8v0.8h-0.8zM446.7 519.9h0.8v0.8h-0.8zM450.2 505.5h0.8v0.8h-0.8zM408.5 509.1h0.8v0.8h-0.8zM446.6 518.0h0.8v0.8h-0.8zM395.0 503.3h0.8v0.8h-0.8zM400.8 482.1h0.8v0.8h-0.8zM428.7 521.2h0.8v0.8h-0.8zM428.0 524.2h0.8v0.8h-0.8zM454.7 528.9h0.8v0.8h-0.8zM392.4 511.5h0.8v0.8h-0.8zM405.6 500.6h0.8v0.8h-0.8zM390.2 507.0h0.8v0.8h-0.8zM398.7 500.4h0.8v0.8h-0.8zM428.1 502.8h0.8v0.8h-0.8zM459.5 535.4h0.8v0.8h-0.8zM443.3 510.4h0.8v0.8h-0.8zM456.2 503.9h0.8v0.8h-0.8zM481.4 551.0h0.8v0.8h-0.8zM434.8 523.5h0.8v0.8h-0.8zM427.3 509.7h0.8v0.8h-0.8zM446.1 497.4h0.8v0.8h-0.8zM427.0 513.5h0.8v0.8h-0.8zM390.8 502.7h0.8v0.8h-0.8zM489.3 548.9h0.8v0.8h-0.8zM397.5 509.7h0.8v0.8h-0.8zM458.6 525.2h0.8v0.8h-0.8zM479.8 542.7h0.8v0.8h-0.8zM426.5 522.9h0.8v0.8h-0.8zM465.5 527.5h0.8v0.8h-0.8zM463.8 535.0h0.8v0.8h-0.8zM436.8 519.2h0.8v0.8h-0.8zM427.8 524.5h0.8v0.8h-0.8zM468.6 533.7h0.8v0.8h-0.8zM398.8 486.7h0.8v0.8h-0.8zM422.9 527.1h0.8v0.8h-0.8zM434.4 517.9h0.8v0.8h-0.8zM396.9 494.6h0.8v0.8h-0.8zM400.8 486.0h0.8v0.8h-0.8zM397.6 484.7h0.8v0.8h-0.8zM420.7 517.0h0.8v0.8h-0.8zM441.8 497.6h0.8v0.8h-0.8zM392.5 481.7h0.8v0.8h-0.8zM464.6 531.7h0.8v0.8h-0.8zM397.1 503.8h0.8v0.8h-0.8zM455.5 511.0h0.8v0.8h-0.8zM479.1 547.7h0.8v0.8h-0.8zM427.2 516.4h0.8v0.8h-0.8zM404.7 487.1h0.8v0.8h-0.8zM392.4 490.0h0.8v0.8h-0.8zM421.7 520.0h0.8v0.8h-0.8zM384.9 507.9h0.8v0.8h-0.8zM445.9 499.4h0.8v0.8h-0.8zM486.8 540.6h0.8v0.8h-0.8zM428.9 516.2h0.8v0.8h-0.8zM452.1 523.8h0.8v0.8h-0.8zM400.7 490.1h0.8v0.8h-0.8zM435.9 515.0h0.8v0.8h-0.8zM387.3 499.9h0.8v0.8h-0.8zM437.6 521.4h0.8v0.8h-0.8zM412.3 495.4h0.8v0.8h-0.8zM469.1 528.8h0.8v0.8h-0.8zM386.9 515.9h0.8v0.8h-0.8zM446.4 523.0h0.8v0.8h-0.8zM449.5 507.8h0.8v0.8h-0.8zM458.3 530.8h0.8v0.8h-0.8zM406.3 489.1h0.8v0.8h-0.8zM453.1 502.3h0.8v0.8h-0.8zM399.8 510.2h0.8v0.8h-0.8zM411.9 501.3h0.8v0.8h-0.8zM445.5 501.8h0.8v0.8h-0.8zM454.8 520.6h0.8v0.8h-0.8zM455.1 498.8h0.8v0.8h-0.8zM394.4 497.5h0.8v0.8h-0.8zM399.5 499.0h0.8v0.8h-0.8zM404.0 510.8h0.8v0.8h-0.8zM406.6 500.8h0.8v0.8h-0.8zM393.3 497.3h0.8v0.8h-0.8zM482.6 549.9h0.8v0.8h-0.8zM408.1 501.9h0.8v0.8h-0.8zM455.6 525.8h0.8v0.8h-0.8zM423.9 525.7h0.8v0.8h-0.8zM391.6 516.2h0.8v0.8h-0.8zM485.8 553.4h0.8v0.8h-0.8zM389.5 493.0h0.8v0.8h-0.8zM419.5 504.4h0.8v0.8h-0.8zM440.4 507.8h0.8v0.8h-0.8zM450.8 501.7h0.8v0.8h-0.8zM418.9 524.4h0.8v0.8h-0.8zM466.4 534.5h0.8v0.8h-0.8zM493.7 549.4h0.8v0.8h-0.8zM470.3 535.9h0.8v0.8h-0.8zM424.5 504.1h0.8v0.8h-0.8zM458.2 530.5h0.8v0.8h-0.8zM431.6 526.6h0.8v0.8h-0.8zM406.2 503.5h0.8v0.8h-0.8zM387.2 508.3h0.8v0.8h-0.8zM432.0 502.1h0.8v0.8h-0.8zM384.0 511.5h0.8v0.8h-0.8zM386.1 491.1h0.8v0.8h-0.8zM461.3 523.9h0.8v0.8h-0.8zM484.1 539.9h0.8v0.8h-0.8zM415.8 499.9h0.8v0.8h-0.8zM392.8 478.2h0.8v0.8h-0.8zM436.8 509.4h0.8v0.8h-0.8zM439.1 521.2h0.8v0.8h-0.8zM398.2 506.1h0.8v0.8h-0.8zM436.9 501.1h0.8v0.8h-0.8zM386.5 489.4h0.8v0.8h-0.8zM440.4 512.3h0.8v0.8h-0.8zM422.2 518.5h0.8v0.8h-0.8zM419.8 525.1h0.8v0.8h-0.8zM454.0 506.5h0.8v0.8h-0.8zM432.1 515.7h0.8v0.8h-0.8zM414.1 507.5h0.8v0.8h-0.8zM426.3 512.6h0.8v0.8h-0.8zM448.6 504.7h0.8v0.8h-0.8zM390.9 510.9h0.8v0.8h-0.8zM440.6 526.8h0.8v0.8h-0.8zM448.8 501.8h0.8v0.8h-0.8zM480.4 547.8h0.8v0.8h-0.8zM477.9 546.3h0.8v0.8h-0.8zM420.6 500.1h0.8v0.8h-0.8zM452.3 497.7h0.8v0.8h-0.8zM444.8 500.9h0.8v0.8h-0.8zM432.9 502.2h0.8v0.8h-0.8zM459.5 525.5h0.8v0.8h-0.8zM431.3 526.7h0.8v0.8h-0.8zM385.5 490.4h0.8v0.8h-0.8zM452.6 500.7h0.8v0.8h-0.8zM397.8 498.5h0.8v0.8h-0.8zM454.8 529.8h0.8v0.8h-0.8zM448.0 528.3h0.8v0.8h-0.8zM476.4 549.8h0.8v0.8h-0.8zM399.1 496.0h0.8v0.8h-0.8zM455.6 518.2h0.8v0.8h-0.8zM428.6 502.8h0.8v0.8h-0.8zM439.1 520.4h0.8v0.8h-0.8zM448.2 523.4h0.8v0.8h-0.8zM450.0 499.5h0.8v0.8h-0.8zM433.5 516.3h0.8v0.8h-0.8zM427.9 507.8h0.8v0.8h-0.8zM429.5 509.9h0.8v0.8h-0.8zM421.1 524.9h0.8v0.8h-0.8zM410.4 507.2h0.8v0.8h-0.8zM390.3 498.7h0.8v0.8h-0.8zM425.8 500.1h0.8v0.8h-0.8zM428.6 499.4h0.8v0.8h-0.8zM410.6 503.6h0.8v0.8h-0.8zM457.6 525.4h0.8v0.8h-0.8zM452.0 510.2h0.8v0.8h-0.8zM413.0 512.2h0.8v0.8h-0.8zM469.2 533.3h0.8v0.8h-0.8zM399.8 497.6h0.8v0.8h-0.8zM400.7 490.7h0.8v0.8h-0.8zM442.8 514.9h0.8v0.8h-0.8zM396.3 507.6h0.8v0.8h-0.8zM436.5 508.9h0.8v0.8h-0.8zM467.6 526.9h0.8v0.8h-0.8zM459.0 526.5h0.8v0.8h-0.8zM449.6 499.4h0.8v0.8h-0.8zM387.9 514.0h0.8v0.8h-0.8zM483.2 545.0h0.8v0.8h-0.8zM446.3 508.6h0.8v0.8h-0.8zM463.9 530.7h0.8v0.8h-0.8zM390.2 498.3h0.8v0.8h-0.8zM385.3 498.4h0.8v0.8h-0.8zM436.3 499.1h0.8v0.8h-0.8zM474.8 536.2h0.8v0.8h-0.8zM445.3 496.6h0.8v0.8h-0.8zM484.3 543.7h0.8v0.8h-0.8zM398.0 494.7h0.8v0.8h-0.8zM441.3 522.5h0.8v0.8h-0.8zM426.5 512.9h0.8v0.8h-0.8zM419.1 521.1h0.8v0.8h-0.8zM393.7 508.3h0.8v0.8h-0.8zM398.1 496.6h0.8v0.8h-0.8zM436.2 499.9h0.8v0.8h-0.8zM404.5 492.5h0.8v0.8h-0.8zM454.6 514.7h0.8v0.8h-0.8zM480.5 547.0h0.8v0.8h-0.8zM402.4 491.8h0.8v0.8h-0.8zM434.0 521.7h0.8v0.8h-0.8zM438.0 505.1h0.8v0.8h-0.8zM461.2 530.0h0.8v0.8h-0.8zM391.9 484.5h0.8v0.8h-0.8zM447.8 526.6h0.8v0.8h-0.8zM469.8 528.7h0.8v0.8h-0.8zM401.5 503.7h0.8v0.8h-0.8zM420.4 500.5h0.8v0.8h-0.8zM459.0 533.2h0.8v0.8h-0.8zM413.3 507.3h0.8v0.8h-0.8zM418.1 497.0h0.8v0.8h-0.8zM488.2 552.0h0.8v0.8h-0.8zM412.9 504.3h0.8v0.8h-0.8zM432.1 499.5h0.8v0.8h-0.8zM421.1 511.0h0.8v0.8h-0.8zM392.8 499.1h0.8v0.8h-0.8zM451.4 497.2h0.8v0.8h-0.8zM414.5 509.8h0.8v0.8h-0.8zM402.5 506.1h0.8v0.8h-0.8zM406.4 508.9h0.8v0.8h-0.8zM483.3 549.6h0.8v0.8h-0.8zM452.8 499.2h0.8v0.8h-0.8zM489.5 549.7h0.8v0.8h-0.8zM384.4 495.2h0.8v0.8h-0.8zM421.1 506.9h0.8v0.8h-0.8zM385.1 494.8h0.8v0.8h-0.8zM462.9 532.1h0.8v0.8h-0.8zM404.7 487.7h0.8v0.8h-0.8zM459.6 517.8h0.8v0.8h-0.8zM446.3 500.2h0.8v0.8h-0.8zM398.3 508.5h0.8v0.8h-0.8zM442.4 497.6h0.8v0.8h-0.8zM409.5 500.2h0.8v0.8h-0.8zM391.9 508.8h0.8v0.8h-0.8zM472.3 536.7h0.8v0.8h-0.8zM398.1 481.5h0.8v0.8h-0.8zM468.8 542.7h0.8v0.8h-0.8zM392.2 480.5h0.8v0.8h-0.8zM465.8 522.5h0.8v0.8h-0.8zM456.3 503.5h0.8v0.8h-0.8zM472.0 545.3h0.8v0.8h-0.8zM412.2 507.6h0.8v0.8h-0.8zM457.6 510.9h0.8v0.8h-0.8zM389.7 502.8h0.8v0.8h-0.8zM386.2 503.4h0.8v0.8h-0.8zM399.8 508.8h0.8v0.8h-0.8zM449.7 497.5h0.8v0.8h-0.8zM428.1 514.5h0.8v0.8h-0.8zM419.6 506.2h0.8v0.8h-0.8zM479.7 552.7h0.8v0.8h-0.8zM386.0 499.9h0.8v0.8h-0.8zM445.0 508.6h0.8v0.8h-0.8zM405.6 491.8h0.8v0.8h-0.8zM465.5 529.7h0.8v0.8h-0.8zM402.2 509.5h0.8v0.8h-0.8zM480.9 539.6h0.8v0.8h-0.8zM469.3 535.7h0.8v0.8h-0.8zM439.6 513.1h0.8v0.8h-0.8zM401.7 496.2h0.8v0.8h-0.8zM427.7 499.5h0.8v0.8h-0.8zM410.4 493.1h0.8v0.8h-0.8zM442.8 510.3h0.8v0.8h-0.8zM443.9 499.6h0.8v0.8h-0.8zM412.5 511.5h0.8v0.8h-0.8zM432.9 503.9h0.8v0.8h-0.8zM461.0 533.6h0.8v0.8h-0.8zM396.7 481.8h0.8v0.8h-0.8zM411.1 502.2h0.8v0.8h-0.8zM402.7 505.6h0.8v0.8h-0.8zM456.5 516.0h0.8v0.8h-0.8zM386.0 503.1h0.8v0.8h-0.8zM437.4 522.1h0.8v0.8h-0.8zM388.3 485.3h0.8v0.8h-0.8zM451.2 520.9h0.8v0.8h-0.8zM453.0 517.2h0.8v0.8h-0.8zM462.4 515.3h0.8v0.8h-0.8zM440.8 513.5h0.8v0.8h-0.8zM384.5 509.4h0.8v0.8h-0.8zM469.7 543.7h0.8v0.8h-0.8zM397.0 489.5h0.8v0.8h-0.8zM454.7 520.5h0.8v0.8h-0.8zM452.0 523.2h0.8v0.8h-0.8zM455.8 509.1h0.8v0.8h-0.8zM436.5 499.8h0.8v0.8h-0.8zM429.0 525.7h0.8v0.8h-0.8zM403.5 486.4h0.8v0.8h-0.8zM441.3 517.0h0.8v0.8h-0.8zM448.4 511.7h0.8v0.8h-0.8zM455.9 500.8h0.8v0.8h-0.8zM459.4 515.2h0.8v0.8h-0.8zM393.3 512.4h0.8v0.8h-0.8zM386.8 490.7h0.8v0.8h-0.8zM478.2 542.0h0.8v0.8h-0.8zM455.5 512.2h0.8v0.8h-0.8zM459.8 526.2h0.8v0.8h-0.8zM439.5 499.9h0.8v0.8h-0.8zM455.7 501.8h0.8v0.8h-0.8zM428.3 502.7h0.8v0.8h-0.8zM432.2 502.0h0.8v0.8h-0.8zM390.8 487.8h0.8v0.8h-0.8zM409.1 505.3h0.8v0.8h-0.8zM389.2 507.3h0.8v0.8h-0.8zM445.9 502.0h0.8v0.8h-0.8zM468.5 536.3h0.8v0.8h-0.8zM456.5 518.2h0.8v0.8h-0.8zM441.1 514.2h0.8v0.8h-0.8zM489.1 543.6h0.8v0.8h-0.8zM430.4 507.0h0.8v0.8h-0.8zM444.8 527.7h0.8v0.8h-0.8zM452.1 515.9h0.8v0.8h-0.8zM384.9 497.4h0.8v0.8h-0.8zM423.6 517.8h0.8v0.8h-0.8zM409.5 498.6h0.8v0.8h-0.8zM402.2 509.4h0.8v0.8h-0.8zM405.1 486.1h0.8v0.8h-0.8zM383.4 494.7h0.8v0.8h-0.8zM441.8 502.1h0.8v0.8h-0.8zM433.0 512.6h0.8v0.8h-0.8zM419.6 524.7h0.8v0.8h-0.8zM464.6 530.8h0.8v0.8h-0.8zM451.8 501.9h0.8v0.8h-0.8zM411.1 503.6h0.8v0.8h-0.8zM389.9 510.7h0.8v0.8h-0.8zM405.0 508.1h0.8v0.8h-0.8zM392.0 515.2h0.8v0.8h-0.8zM407.6 494.4h0.8v0.8h-0.8zM391.3 484.4h0.8v0.8h-0.8zM417.8 499.1h0.8v0.8h-0.8zM431.5 499.7h0.8v0.8h-0.8zM427.0 522.9h0.8v0.8h-0.8zM421.4 499.2h0.8v0.8h-0.8zM419.1 504.5h0.8v0.8h-0.8zM428.4 514.0h0.8v0.8h-0.8zM411.5 502.1h0.8v0.8h-0.8zM485.6 542.3h0.8v0.8h-0.8zM468.4 539.6h0.8v0.8h-0.8zM486.1 545.5h0.8v0.8h-0.8zM455.6 532.3h0.8v0.8h-0.8zM441.7 515.9h0.8v0.8h-0.8zM435.7 498.7h0.8v0.8h-0.8zM391.5 507.0h0.8v0.8h-0.8zM441.3 521.0h0.8v0.8h-0.8zM430.5 510.5h0.8v0.8h-0.8zM428.8 499.4h0.8v0.8h-0.8zM413.4 498.0h0.8v0.8h-0.8zM397.9 512.3h0.8v0.8h-0.8zM467.5 531.3h0.8v0.8h-0.8zM487.4 543.8h0.8v0.8h-0.8zM493.0 549.8h0.8v0.8h-0.8zM479.9 541.7h0.8v0.8h-0.8zM428.5 504.6h0.8v0.8h-0.8zM388.3 483.6h0.8v0.8h-0.8zM394.5 478.7h0.8v0.8h-0.8zM420.8 527.6h0.8v0.8h-0.8zM492.9 547.5h0.8v0.8h-0.8zM401.8 507.6h0.8v0.8h-0.8zM441.2 526.8h0.8v0.8h-0.8zM440.1 504.6h0.8v0.8h-0.8zM460.6 514.0h0.8v0.8h-0.8zM391.3 485.1h0.8v0.8h-0.8zM390.3 488.9h0.8v0.8h-0.8zM414.1 493.2h0.8v0.8h-0.8zM475.6 545.4h0.8v0.8h-0.8zM453.2 521.4h0.8v0.8h-0.8zM454.3 524.8h0.8v0.8h-0.8zM448.4 519.3h0.8v0.8h-0.8zM435.5 509.4h0.8v0.8h-0.8zM402.9 509.7h0.8v0.8h-0.8zM464.6 530.9h0.8v0.8h-0.8zM383.2 510.7h0.8v0.8h-0.8zM422.5 505.3h0.8v0.8h-0.8zM390.7 479.1h0.8v0.8h-0.8zM406.0 496.8h0.8v0.8h-0.8zM441.4 515.6h0.8v0.8h-0.8zM383.5 511.5h0.8v0.8h-0.8zM395.7 501.8h0.8v0.8h-0.8zM398.4 479.3h0.8v0.8h-0.8zM394.5 504.0h0.8v0.8h-0.8zM449.8 527.2h0.8v0.8h-0.8zM429.1 517.5h0.8v0.8h-0.8zM395.1 502.6h0.8v0.8h-0.8zM479.5 549.7h0.8v0.8h-0.8zM407.3 509.0h0.8v0.8h-0.8zM393.6 498.3h0.8v0.8h-0.8zM454.3 527.1h0.8v0.8h-0.8zM414.3 510.7h0.8v0.8h-0.8zM489.5 549.6h0.8v0.8h-0.8zM445.1 520.5h0.8v0.8h-0.8zM423.6 523.1h0.8v0.8h-0.8zM403.8 485.0h0.8v0.8h-0.8zM468.9 533.8h0.8v0.8h-0.8zM426.6 511.1h0.8v0.8h-0.8zM472.9 546.3h0.8v0.8h-0.8zM422.9 501.5h0.8v0.8h-0.8zM403.0 492.5h0.8v0.8h-0.8zM413.8 498.9h0.8v0.8h-0.8zM487.0 554.1h0.8v0.8h-0.8zM468.0 538.1h0.8v0.8h-0.8zM424.0 504.1h0.8v0.8h-0.8zM405.5 502.2h0.8v0.8h-0.8zM393.9 491.5h0.8v0.8h-0.8zM441.7 509.6h0.8v0.8h-0.8zM453.9 520.8h0.8v0.8h-0.8zM400.4 508.7h0.8v0.8h-0.8zM386.9 491.3h0.8v0.8h-0.8zM392.0 482.2h0.8v0.8h-0.8zM490.2 549.4h0.8v0.8h-0.8zM441.8 524.6h0.8v0.8h-0.8zM400.2 507.5h0.8v0.8h-0.8zM470.9 540.7h0.8v0.8h-0.8zM427.8 506.2h0.8v0.8h-0.8zM442.4 520.0h0.8v0.8h-0.8zM392.0 504.8h0.8v0.8h-0.8zM447.2 503.2h0.8v0.8h-0.8zM411.5 496.9h0.8v0.8h-0.8zM401.9 482.2h0.8v0.8h-0.8zM393.5 498.0h0.8v0.8h-0.8zM475.8 546.6h0.8v0.8h-0.8zM426.1 518.7h0.8v0.8h-0.8zM458.3 521.4h0.8v0.8h-0.8zM419.5 520.7h0.8v0.8h-0.8zM446.3 500.0h0.8v0.8h-0.8zM390.7 516.7h0.8v0.8h-0.8zM389.8 505.4h0.8v0.8h-0.8zM394.3 497.9h0.8v0.8h-0.8zM468.6 541.7h0.8v0.8h-0.8zM444.2 521.8h0.8v0.8h-0.8zM387.4 501.6h0.8v0.8h-0.8zM389.0 516.5h0.8v0.8h-0.8zM420.8 499.2h0.8v0.8h-0.8zM484.4 541.7h0.8v0.8h-0.8zM457.3 517.7h0.8v0.8h-0.8zM382.9 493.1h0.8v0.8h-0.8zM464.5 528.2h0.8v0.8h-0.8zM435.5 514.4h0.8v0.8h-0.8zM484.4 544.8h0.8v0.8h-0.8zM405.2 505.3h0.8v0.8h-0.8zM442.8 508.4h0.8v0.8h-0.8zM422.7 511.9h0.8v0.8h-0.8zM447.6 504.0h0.8v0.8h-0.8zM402.9 507.2h0.8v0.8h-0.8zM389.3 485.1h0.8v0.8h-0.8zM469.7 536.1h0.8v0.8h-0.8zM405.6 507.2h0.8v0.8h-0.8zM458.8 516.5h0.8v0.8h-0.8zM429.3 502.5h0.8v0.8h-0.8zM399.8 486.0h0.8v0.8h-0.8zM478.9 546.8h0.8v0.8h-0.8zM421.1 505.3h0.8v0.8h-0.8zM450.0 525.1h0.8v0.8h-0.8zM447.9 497.6h0.8v0.8h-0.8zM480.3 550.5h0.8v0.8h-0.8zM439.6 504.2h0.8v0.8h-0.8zM487.8 545.3h0.8v0.8h-0.8zM438.5 526.0h0.8v0.8h-0.8zM463.9 519.7h0.8v0.8h-0.8zM433.0 508.1h0.8v0.8h-0.8zM400.1 494.5h0.8v0.8h-0.8zM469.7 536.4h0.8v0.8h-0.8zM443.2 523.7h0.8v0.8h-0.8zM398.2 490.9h0.8v0.8h-0.8zM456.9 529.0h0.8v0.8h-0.8zM441.6 521.9h0.8v0.8h-0.8zM481.3 553.1h0.8v0.8h-0.8zM408.7 495.1h0.8v0.8h-0.8zM422.3 522.5h0.8v0.8h-0.8zM388.5 503.5h0.8v0.8h-0.8zM420.6 515.0h0.8v0.8h-0.8zM395.0 496.5h0.8v0.8h-0.8zM470.6 534.6h0.8v0.8h-0.8zM396.9 504.9h0.8v0.8h-0.8zM408.3 500.7h0.8v0.8h-0.8zM471.3 535.3h0.8v0.8h-0.8zM446.4 505.2h0.8v0.8h-0.8zM405.1 491.8h0.8v0.8h-0.8zM413.0 509.5h0.8v0.8h-0.8zM471.1 543.4h0.8v0.8h-0.8zM460.4 535.1h0.8v0.8h-0.8zM409.1 499.0h0.8v0.8h-0.8zM420.8 501.3h0.8v0.8h-0.8zM422.1 507.0h0.8v0.8h-0.8zM434.2 508.4h0.8v0.8h-0.8zM481.1 545.1h0.8v0.8h-0.8zM449.6 507.4h0.8v0.8h-0.8zM389.7 509.0h0.8v0.8h-0.8zM390.8 487.8h0.8v0.8h-0.8zM429.8 509.8h0.8v0.8h-0.8zM410.0 503.2h0.8v0.8h-0.8zM435.5 517.0h0.8v0.8h-0.8zM431.4 498.3h0.8v0.8h-0.8zM450.0 497.4h0.8v0.8h-0.8zM400.8 481.1h0.8v0.8h-0.8zM403.6 498.1h0.8v0.8h-0.8z" fill="#ffffff" fill-opacity="0.75"/>
<path d="M390.9 501.4h0.8v0.8h-0.8zM431.5 502.1h0.8v0.8h-0.8zM406.2 500.5h0.8v0.8h-0.8zM435.3 499.4h0.8v0.8h-0.8zM416.6 509.4h0.8v0.8h-0.8zM387.4 509.7h0.8v0.8h-0.8zM395.7 482.8h0.8v0.8h-0.8zM402.7 485.6h0.8v0.8h-0.8zM412.3 492.8h0.8v0.8h-0.8zM423.7 519.6h0.8v0.8h-0.8zM438.4 514.6h0.8v0.8h-0.8zM395.2 496.5h0.8v0.8h-0.8zM419.6 518.8h0.8v0.8h-0.8zM413.9 498.8h0.8v0.8h-0.8zM393.5 478.5h0.8v0.8h-0.8zM394.9 496.6h0.8v0.8h-0.8zM410.8 492.6h0.8v0.8h-0.8zM392.5 497.8h0.8v0.8h-0.8zM413.5 506.7h0.8v0.8h-0.8zM427.0 508.5h0.8v0.8h-0.8zM395.5 511.8h0.8v0.8h-0.8zM424.0 508.6h0.8v0.8h-0.8zM400.5 497.5h0.8v0.8h-0.8zM437.9 511.0h0.8v0.8h-0.8zM394.1 486.1h0.8v0.8h-0.8zM401.7 485.0h0.8v0.8h-0.8zM407.9 493.8h0.8v0.8h-0.8zM391.0 493.9h0.8v0.8h-0.8zM416.9 504.2h0.8v0.8h-0.8zM426.7 501.0h0.8v0.8h-0.8zM420.6 507.8h0.8v0.8h-0.8zM432.3 499.6h0.8v0.8h-0.8zM396.6 485.6h0.8v0.8h-0.8zM423.7 518.8h0.8v0.8h-0.8zM419.7 523.3h0.8v0.8h-0.8zM422.8 512.0h0.8v0.8h-0.8zM428.4 506.1h0.8v0.8h-0.8zM388.7 498.5h0.8v0.8h-0.8zM396.2 506.2h0.8v0.8h-0.8zM407.9 500.1h0.8v0.8h-0.8zM400.9 511.3h0.8v0.8h-0.8zM426.7 499.5h0.8v0.8h-0.8zM389.2 504.0h0.8v0.8h-0.8zM426.5 511.7h0.8v0.8h-0.8zM389.7 492.6h0.8v0.8h-0.8zM439.2 508.9h0.8v0.8h-0.8zM406.8 507.0h0.8v0.8h-0.8zM438.4 509.2h0.8v0.8h-0.8zM393.1 496.4h0.8v0.8h-0.8zM382.8 497.3h0.8v0.8h-0.8zM419.3 525.1h0.8v0.8h-0.8zM431.2 502.6h0.8v0.8h-0.8zM404.7 490.3h0.8v0.8h-0.8zM428.8 510.3h0.8v0.8h-0.8zM401.4 488.4h0.8v0.8h-0.8zM418.1 506.8h0.8v0.8h-0.8zM401.5 485.6h0.8v0.8h-0.8zM409.6 497.5h0.8v0.8h-0.8zM412.0 492.3h0.8v0.8h-0.8zM414.4 501.4h0.8v0.8h-0.8zM401.2 497.2h0.8v0.8h-0.8zM397.3 501.8h0.8v0.8h-0.8zM388.2 503.6h0.8v0.8h-0.8zM429.5 522.5h0.8v0.8h-0.8zM438.4 523.7h0.8v0.8h-0.8zM403.3 490.9h0.8v0.8h-0.8zM399.4 497.9h0.8v0.8h-0.8zM395.6 478.9h0.8v0.8h-0.8zM428.8 507.0h0.8v0.8h-0.8zM414.2 501.0h0.8v0.8h-0.8zM420.7 508.8h0.8v0.8h-0.8zM427.2 508.6h0.8v0.8h-0.8zM411.2 494.5h0.8v0.8h-0.8zM401.8 497.3h0.8v0.8h-0.8zM438.0 516.2h0.8v0.8h-0.8zM411.6 492.3h0.8v0.8h-0.8zM410.8 498.6h0.8v0.8h-0.8zM413.5 499.7h0.8v0.8h-0.8zM439.5 517.0h0.8v0.8h-0.8zM415.5 510.3h0.8v0.8h-0.8zM422.0 526.3h0.8v0.8h-0.8zM426.8 513.5h0.8v0.8h-0.8zM428.8 506.9h0.8v0.8h-0.8zM439.1 507.1h0.8v0.8h-0.8zM416.9 503.0h0.8v0.8h-0.8zM417.1 494.4h0.8v0.8h-0.8zM437.7 517.8h0.8v0.8h-0.8zM386.6 514.8h0.8v0.8h-0.8zM407.2 508.4h0.8v0.8h-0.8zM390.0 510.0h0.8v0.8h-0.8zM392.9 490.2h0.8v0.8h-0.8zM431.0 522.7h0.8v0.8h-0.8zM420.0 509.4h0.8v0.8h-0.8zM396.7 488.5h0.8v0.8h-0.8zM412.5 497.5h0.8v0.8h-0.8zM404.7 486.8h0.8v0.8h-0.8zM397.7 512.5h0.8v0.8h-0.8zM403.8 506.8h0.8v0.8h-0.8zM388.0 485.3h0.8v0.8h-0.8zM428.6 500.5h0.8v0.8h-0.8zM400.7 498.4h0.8v0.8h-0.8zM422.1 520.4h0.8v0.8h-0.8zM437.9 511.1h0.8v0.8h-0.8zM401.3 495.5h0.8v0.8h-0.8zM433.3 500.9h0.8v0.8h-0.8zM400.4 504.3h0.8v0.8h-0.8zM431.9 521.5h0.8v0.8h-0.8zM426.0 507.3h0.8v0.8h-0.8zM398.3 483.6h0.8v0.8h-0.8zM404.1 487.0h0.8v0.8h-0.8zM391.8 496.2h0.8v0.8h-0.8zM390.5 516.4h0.8v0.8h-0.8zM430.4 526.3h0.8v0.8h-0.8zM390.5 480.8h0.8v0.8h-0.8zM433.7 510.7h0.8v0.8h-0.8zM431.1 520.2h0.8v0.8h-0.8zM396.4 511.7h0.8v0.8h-0.8zM420.3 514.4h0.8v0.8h-0.8zM436.0 507.5h0.8v0.8h-0.8zM420.1 508.7h0.8v0.8h-0.8zM439.4 500.4h0.8v0.8h-0.8zM422.6 502.9h0.8v0.8h-0.8zM431.3 499.3h0.8v0.8h-0.8zM404.1 486.5h0.8v0.8h-0.8zM392.4 478.9h0.8v0.8h-0.8zM398.8 478.8h0.8v0.8h-0.8zM395.0 505.7h0.8v0.8h-0.8zM422.2 503.9h0.8v0.8h-0.8zM395.0 480.6h0.8v0.8h-0.8zM386.7 492.5h0.8v0.8h-0.8zM430.7 497.8h0.8v0.8h-0.8zM419.0 504.7h0.8v0.8h-0.8zM430.7 504.6h0.8v0.8h-0.8zM393.3 511.6h0.8v0.8h-0.8zM412.3 505.7h0.8v0.8h-0.8zM439.3 511.7h0.8v0.8h-0.8zM398.3 486.2h0.8v0.8h-0.8zM428.9 500.7h0.8v0.8h-0.8zM400.0 493.1h0.8v0.8h-0.8zM386.9 509.3h0.8v0.8h-0.8zM406.0 508.8h0.8v0.8h-0.8zM430.1 505.8h0.8v0.8h-0.8zM439.1 525.2h0.8v0.8h-0.8zM403.5 496.8h0.8v0.8h-0.8zM420.1 510.8h0.8v0.8h-0.8zM402.9 494.5h0.8v0.8h-0.8zM420.4 519.5h0.8v0.8h-0.8zM427.3 500.5h0.8v0.8h-0.8zM415.6 512.3h0.8v0.8h-0.8zM415.5 492.2h0.8v0.8h-0.8zM390.6 486.5h0.8v0.8h-0.8zM427.7 510.2h0.8v0.8h-0.8zM414.5 508.4h0.8v0.8h-0.8zM413.4 511.1h0.8v0.8h-0.8zM430.0 522.1h0.8v0.8h-0.8zM420.4 514.7h0.8v0.8h-0.8zM397.5 502.8h0.8v0.8h-0.8zM388.7 485.4h0.8v0.8h-0.8zM410.7 496.5h0.8v0.8h-0.8z" fill="#241470" fill-opacity="0.7"/>
<g stroke="#1a1a1a" stroke-width="0.95" fill="none"><line x1="373.5" y1="563.8" x2="373.5" y2="547.7"/><line x1="367.6" y1="560.2" x2="388.0" y2="560.2"/></g>
<path d="M373.5,544.4 L371.4,549.0 L375.6,549.0Z" fill="#1a1a1a"/>
<path d="M391.8,560.2 L387.1,558.1 L387.1,562.3Z" fill="#1a1a1a"/>
<text transform="translate(375.80 571.50) scale(0.8278 1)" font-size="8.0" fill="#222">UMAP_1</text>
<text transform="translate(368.00 545.20) rotate(-90) scale(0.8309 1)" font-size="8.0" text-anchor="middle" fill="#222">UMAP_2</text>
<text transform="translate(7.90 409.20) scale(0.8213 1)" font-size="11.5" font-weight="bold" fill="#000">E</text>
<text x="61.20" y="420.60" font-size="7.2" text-anchor="middle" fill="#222">TSP1</text>
<text x="163.50" y="420.60" font-size="7.2" text-anchor="middle" fill="#222">TSP2</text>
<text x="264.50" y="420.60" font-size="7.2" text-anchor="middle" fill="#222">ETP</text>
<ellipse cx="38.8" cy="440.5" rx="11" ry="14" transform="rotate(-12 38.8 440.5)" fill="#c4c4c4" opacity="0.65"/>
<path fill="#4a4a4a" fill-opacity="0.55" d="M46.6 444.3h0.8v0.8h-0.8zM30.6 433.2h0.8v0.8h-0.8zM43.7 445.5h0.8v0.8h-0.8zM39.4 442.0h0.8v0.8h-0.8zM37.7 445.1h0.8v0.8h-0.8zM43.7 433.7h0.8v0.8h-0.8zM37.2 445.4h0.8v0.8h-0.8zM39.2 433.6h0.8v0.8h-0.8zM39.1 431.2h0.8v0.8h-0.8zM39.5 431.2h0.8v0.8h-0.8zM46.2 448.7h0.8v0.8h-0.8zM39.1 449.8h0.8v0.8h-0.8zM38.1 433.2h0.8v0.8h-0.8zM47.5 438.4h0.8v0.8h-0.8zM36.4 443.4h0.8v0.8h-0.8zM44.9 438.7h0.8v0.8h-0.8zM36.8 442.8h0.8v0.8h-0.8zM42.4 450.6h0.8v0.8h-0.8zM41.0 441.6h0.8v0.8h-0.8zM31.6 433.9h0.8v0.8h-0.8zM38.5 431.2h0.8v0.8h-0.8zM44.1 449.5h0.8v0.8h-0.8zM35.4 430.4h0.8v0.8h-0.8zM41.7 441.1h0.8v0.8h-0.8zM41.3 441.7h0.8v0.8h-0.8zM42.6 440.0h0.8v0.8h-0.8zM45.0 433.1h0.8v0.8h-0.8zM44.2 439.0h0.8v0.8h-0.8zM39.5 448.4h0.8v0.8h-0.8zM43.4 433.2h0.8v0.8h-0.8zM37.6 435.7h0.8v0.8h-0.8zM37.5 442.0h0.8v0.8h-0.8zM42.5 434.3h0.8v0.8h-0.8zM43.3 445.3h0.8v0.8h-0.8zM44.8 438.2h0.8v0.8h-0.8zM37.6 444.6h0.8v0.8h-0.8zM40.8 449.8h0.8v0.8h-0.8zM39.9 428.3h0.8v0.8h-0.8zM36.8 438.4h0.8v0.8h-0.8zM47.1 440.4h0.8v0.8h-0.8zM43.6 439.3h0.8v0.8h-0.8zM39.9 433.3h0.8v0.8h-0.8zM36.7 443.4h0.8v0.8h-0.8zM34.6 444.4h0.8v0.8h-0.8zM40.9 448.9h0.8v0.8h-0.8zM37.3 443.3h0.8v0.8h-0.8zM40.8 442.9h0.8v0.8h-0.8zM42.8 438.6h0.8v0.8h-0.8zM35.6 452.5h0.8v0.8h-0.8zM38.4 437.1h0.8v0.8h-0.8zM38.1 444.3h0.8v0.8h-0.8zM38.8 430.9h0.8v0.8h-0.8zM45.3 443.8h0.8v0.8h-0.8zM38.9 429.3h0.8v0.8h-0.8zM31.9 439.2h0.8v0.8h-0.8zM38.8 437.1h0.8v0.8h-0.8zM38.9 442.7h0.8v0.8h-0.8zM35.6 451.9h0.8v0.8h-0.8zM39.1 445.4h0.8v0.8h-0.8zM37.9 443.9h0.8v0.8h-0.8zM40.7 442.5h0.8v0.8h-0.8zM39.1 438.7h0.8v0.8h-0.8zM44.9 444.8h0.8v0.8h-0.8zM39.1 438.0h0.8v0.8h-0.8zM41.0 436.4h0.8v0.8h-0.8zM29.0 441.9h0.8v0.8h-0.8zM41.3 438.9h0.8v0.8h-0.8zM39.5 438.4h0.8v0.8h-0.8zM32.0 447.2h0.8v0.8h-0.8zM44.7 435.9h0.8v0.8h-0.8zM37.6 442.8h0.8v0.8h-0.8zM41.7 440.2h0.8v0.8h-0.8zM38.7 443.2h0.8v0.8h-0.8zM32.9 436.0h0.8v0.8h-0.8zM38.3 437.0h0.8v0.8h-0.8zM44.3 434.3h0.8v0.8h-0.8zM41.8 444.9h0.8v0.8h-0.8zM36.4 434.8h0.8v0.8h-0.8zM36.8 447.5h0.8v0.8h-0.8zM41.6 431.9h0.8v0.8h-0.8zM39.9 432.0h0.8v0.8h-0.8zM42.5 439.4h0.8v0.8h-0.8zM42.7 435.5h0.8v0.8h-0.8zM36.5 443.4h0.8v0.8h-0.8zM44.9 435.6h0.8v0.8h-0.8zM36.0 441.2h0.8v0.8h-0.8zM32.9 442.6h0.8v0.8h-0.8zM40.8 444.0h0.8v0.8h-0.8zM36.8 430.8h0.8v0.8h-0.8zM35.7 442.9h0.8v0.8h-0.8zM34.6 431.7h0.8v0.8h-0.8zM37.3 433.2h0.8v0.8h-0.8zM40.0 428.7h0.8v0.8h-0.8zM41.1 439.7h0.8v0.8h-0.8zM33.6 438.4h0.8v0.8h-0.8zM40.8 450.0h0.8v0.8h-0.8zM40.5 449.3h0.8v0.8h-0.8zM37.9 438.1h0.8v0.8h-0.8zM41.4 439.3h0.8v0.8h-0.8zM45.4 439.8h0.8v0.8h-0.8zM39.0 438.4h0.8v0.8h-0.8zM40.6 444.2h0.8v0.8h-0.8zM43.2 438.1h0.8v0.8h-0.8zM40.0 438.2h0.8v0.8h-0.8zM35.0 447.5h0.8v0.8h-0.8zM37.4 440.9h0.8v0.8h-0.8zM42.2 441.0h0.8v0.8h-0.8zM39.8 443.0h0.8v0.8h-0.8zM41.7 434.1h0.8v0.8h-0.8zM42.2 429.7h0.8v0.8h-0.8zM33.5 448.7h0.8v0.8h-0.8zM41.4 443.9h0.8v0.8h-0.8zM43.8 431.1h0.8v0.8h-0.8zM34.4 450.4h0.8v0.8h-0.8zM40.5 439.9h0.8v0.8h-0.8zM41.0 443.5h0.8v0.8h-0.8zM47.0 446.5h0.8v0.8h-0.8zM37.5 450.8h0.8v0.8h-0.8zM35.6 446.3h0.8v0.8h-0.8zM34.3 441.3h0.8v0.8h-0.8zM34.9 447.2h0.8v0.8h-0.8zM45.4 433.4h0.8v0.8h-0.8zM29.8 444.6h0.8v0.8h-0.8zM43.2 437.6h0.8v0.8h-0.8zM39.6 430.8h0.8v0.8h-0.8zM38.4 445.0h0.8v0.8h-0.8zM39.6 438.0h0.8v0.8h-0.8zM40.9 441.1h0.8v0.8h-0.8zM45.1 436.0h0.8v0.8h-0.8zM42.0 434.2h0.8v0.8h-0.8zM37.6 440.0h0.8v0.8h-0.8zM46.0 437.9h0.8v0.8h-0.8zM32.5 437.4h0.8v0.8h-0.8zM34.3 437.1h0.8v0.8h-0.8zM42.5 440.5h0.8v0.8h-0.8zM45.6 445.6h0.8v0.8h-0.8zM41.4 445.6h0.8v0.8h-0.8zM33.4 445.1h0.8v0.8h-0.8zM44.8 432.1h0.8v0.8h-0.8zM36.1 446.8h0.8v0.8h-0.8zM33.4 432.0h0.8v0.8h-0.8zM41.6 437.5h0.8v0.8h-0.8zM35.5 432.5h0.8v0.8h-0.8zM37.3 442.2h0.8v0.8h-0.8zM45.8 443.2h0.8v0.8h-0.8zM42.8 438.7h0.8v0.8h-0.8zM39.2 442.6h0.8v0.8h-0.8zM40.3 443.3h0.8v0.8h-0.8zM34.0 433.6h0.8v0.8h-0.8zM41.4 431.4h0.8v0.8h-0.8zM33.7 431.9h0.8v0.8h-0.8zM36.7 439.0h0.8v0.8h-0.8zM49.1 442.3h0.8v0.8h-0.8zM40.3 435.5h0.8v0.8h-0.8zM40.4 444.7h0.8v0.8h-0.8zM42.9 443.9h0.8v0.8h-0.8zM45.3 433.8h0.8v0.8h-0.8zM34.9 439.5h0.8v0.8h-0.8zM41.2 447.8h0.8v0.8h-0.8zM42.2 448.2h0.8v0.8h-0.8zM44.0 441.1h0.8v0.8h-0.8zM35.5 448.6h0.8v0.8h-0.8zM46.2 435.4h0.8v0.8h-0.8zM42.1 443.8h0.8v0.8h-0.8zM43.2 433.7h0.8v0.8h-0.8zM36.8 447.3h0.8v0.8h-0.8zM39.8 443.6h0.8v0.8h-0.8zM34.4 449.3h0.8v0.8h-0.8zM41.8 437.2h0.8v0.8h-0.8zM43.9 451.2h0.8v0.8h-0.8zM31.6 442.2h0.8v0.8h-0.8zM43.3 438.4h0.8v0.8h-0.8zM35.2 442.0h0.8v0.8h-0.8zM36.4 441.6h0.8v0.8h-0.8zM40.4 439.5h0.8v0.8h-0.8zM38.1 452.9h0.8v0.8h-0.8zM39.2 430.2h0.8v0.8h-0.8zM36.9 452.0h0.8v0.8h-0.8zM42.1 439.0h0.8v0.8h-0.8zM37.7 433.3h0.8v0.8h-0.8zM39.7 439.2h0.8v0.8h-0.8zM34.9 436.2h0.8v0.8h-0.8zM35.4 436.3h0.8v0.8h-0.8zM43.8 445.7h0.8v0.8h-0.8zM44.2 434.8h0.8v0.8h-0.8zM48.8 441.2h0.8v0.8h-0.8zM32.8 432.1h0.8v0.8h-0.8zM35.3 442.5h0.8v0.8h-0.8zM40.4 444.4h0.8v0.8h-0.8zM37.0 445.3h0.8v0.8h-0.8zM40.8 439.2h0.8v0.8h-0.8zM34.6 445.8h0.8v0.8h-0.8zM38.7 452.8h0.8v0.8h-0.8zM35.9 432.3h0.8v0.8h-0.8zM44.5 446.7h0.8v0.8h-0.8zM35.7 442.5h0.8v0.8h-0.8zM35.2 429.5h0.8v0.8h-0.8zM35.7 444.0h0.8v0.8h-0.8zM38.2 436.9h0.8v0.8h-0.8zM31.5 432.1h0.8v0.8h-0.8zM33.0 444.6h0.8v0.8h-0.8zM34.0 439.3h0.8v0.8h-0.8zM43.1 441.2h0.8v0.8h-0.8zM35.9 440.4h0.8v0.8h-0.8zM38.4 439.1h0.8v0.8h-0.8zM41.1 444.9h0.8v0.8h-0.8zM37.5 431.4h0.8v0.8h-0.8zM39.8 441.8h0.8v0.8h-0.8zM35.1 432.7h0.8v0.8h-0.8zM35.2 439.8h0.8v0.8h-0.8zM34.7 450.1h0.8v0.8h-0.8zM36.7 436.5h0.8v0.8h-0.8zM42.0 447.1h0.8v0.8h-0.8zM38.5 438.3h0.8v0.8h-0.8zM37.7 431.0h0.8v0.8h-0.8zM42.0 433.6h0.8v0.8h-0.8zM44.5 439.0h0.8v0.8h-0.8zM30.0 442.5h0.8v0.8h-0.8zM38.8 441.8h0.8v0.8h-0.8zM43.1 439.1h0.8v0.8h-0.8zM43.3 440.6h0.8v0.8h-0.8zM35.1 447.1h0.8v0.8h-0.8zM39.9 437.3h0.8v0.8h-0.8zM40.6 441.3h0.8v0.8h-0.8zM40.3 430.7h0.8v0.8h-0.8zM39.2 428.7h0.8v0.8h-0.8zM42.7 437.1h0.8v0.8h-0.8zM33.8 443.3h0.8v0.8h-0.8zM38.4 438.8h0.8v0.8h-0.8zM38.3 442.4h0.8v0.8h-0.8zM32.4 437.7h0.8v0.8h-0.8zM44.9 446.1h0.8v0.8h-0.8zM38.4 437.3h0.8v0.8h-0.8zM34.0 446.1h0.8v0.8h-0.8zM44.7 447.6h0.8v0.8h-0.8zM36.8 446.3h0.8v0.8h-0.8zM37.7 445.4h0.8v0.8h-0.8zM40.4 433.0h0.8v0.8h-0.8zM42.8 432.2h0.8v0.8h-0.8zM33.4 438.4h0.8v0.8h-0.8zM39.3 430.3h0.8v0.8h-0.8zM33.3 438.8h0.8v0.8h-0.8zM44.5 445.7h0.8v0.8h-0.8zM39.4 440.7h0.8v0.8h-0.8zM34.4 436.5h0.8v0.8h-0.8zM37.2 450.1h0.8v0.8h-0.8zM45.7 441.9h0.8v0.8h-0.8zM31.9 439.4h0.8v0.8h-0.8zM37.4 450.7h0.8v0.8h-0.8zM44.6 436.4h0.8v0.8h-0.8zM47.4 441.0h0.8v0.8h-0.8zM33.5 437.4h0.8v0.8h-0.8zM41.4 433.5h0.8v0.8h-0.8zM41.2 436.6h0.8v0.8h-0.8zM38.1 451.3h0.8v0.8h-0.8zM41.6 433.9h0.8v0.8h-0.8zM35.8 445.3h0.8v0.8h-0.8zM35.5 446.2h0.8v0.8h-0.8zM48.3 441.8h0.8v0.8h-0.8zM39.8 441.6h0.8v0.8h-0.8zM39.0 444.3h0.8v0.8h-0.8zM33.1 437.2h0.8v0.8h-0.8zM35.6 439.1h0.8v0.8h-0.8zM39.0 441.1h0.8v0.8h-0.8zM45.0 442.0h0.8v0.8h-0.8zM40.5 438.7h0.8v0.8h-0.8zM41.5 452.5h0.8v0.8h-0.8zM44.5 441.8h0.8v0.8h-0.8zM41.6 442.5h0.8v0.8h-0.8zM44.8 440.7h0.8v0.8h-0.8zM32.4 443.3h0.8v0.8h-0.8zM44.9 448.2h0.8v0.8h-0.8zM41.1 436.8h0.8v0.8h-0.8zM42.8 440.9h0.8v0.8h-0.8zM38.6 439.3h0.8v0.8h-0.8zM36.8 436.4h0.8v0.8h-0.8zM39.5 432.5h0.8v0.8h-0.8zM45.8 441.1h0.8v0.8h-0.8zM42.0 435.9h0.8v0.8h-0.8zM30.0 434.2h0.8v0.8h-0.8zM40.5 444.5h0.8v0.8h-0.8zM38.9 435.5h0.8v0.8h-0.8zM34.8 431.3h0.8v0.8h-0.8zM42.8 435.2h0.8v0.8h-0.8zM40.6 446.5h0.8v0.8h-0.8zM36.3 442.1h0.8v0.8h-0.8zM43.0 443.5h0.8v0.8h-0.8zM48.6 446.3h0.8v0.8h-0.8zM38.3 449.9h0.8v0.8h-0.8zM44.7 443.1h0.8v0.8h-0.8zM30.6 439.0h0.8v0.8h-0.8zM43.0 448.1h0.8v0.8h-0.8zM36.6 442.0h0.8v0.8h-0.8zM37.1 441.9h0.8v0.8h-0.8zM41.3 433.8h0.8v0.8h-0.8zM37.8 437.8h0.8v0.8h-0.8zM35.7 446.6h0.8v0.8h-0.8zM43.4 441.1h0.8v0.8h-0.8zM37.5 437.6h0.8v0.8h-0.8zM43.4 437.3h0.8v0.8h-0.8zM43.3 440.1h0.8v0.8h-0.8zM37.2 433.7h0.8v0.8h-0.8zM37.4 440.1h0.8v0.8h-0.8zM41.4 449.6h0.8v0.8h-0.8zM35.3 439.7h0.8v0.8h-0.8zM42.2 438.0h0.8v0.8h-0.8zM45.7 441.7h0.8v0.8h-0.8zM37.4 431.4h0.8v0.8h-0.8zM39.5 439.0h0.8v0.8h-0.8zM43.4 438.3h0.8v0.8h-0.8zM37.2 444.1h0.8v0.8h-0.8zM38.5 450.5h0.8v0.8h-0.8zM32.7 436.3h0.8v0.8h-0.8zM38.9 443.7h0.8v0.8h-0.8zM46.3 443.3h0.8v0.8h-0.8zM37.7 440.2h0.8v0.8h-0.8zM34.7 445.5h0.8v0.8h-0.8zM38.0 444.5h0.8v0.8h-0.8zM42.7 435.4h0.8v0.8h-0.8zM34.7 442.7h0.8v0.8h-0.8z"/>
<path d="M25.8,441.0 28.0,448.5 31.0,453.0 37.3,455.5 42.0,457.0 48.8,458.4 55.0,462.5 63.0,468.5 90.0,490.0 97.0,494.0 103.5,493.5 106.0,490.5 105.5,486.5 102.0,483.5 95.0,481.5 89.5,476.5 87.5,470.0 81.0,457.0 79.5,452.0 77.0,447.5 74.0,446.0 70.0,448.0 63.3,447.8 56.5,446.8 51.7,444.0 50.8,437.2 47.9,429.5 41.0,425.5 34.4,425.2 30.0,427.5 26.5,433.0ZM28.2,440.8 30.2,447.5 32.6,451.0 38.1,453.2 42.6,454.7 49.3,456.0 50.1,456.4 56.4,460.6 64.5,466.6 91.3,488.0 97.6,491.6 102.3,491.2 103.5,489.8 103.2,487.7 100.8,485.7 93.7,483.5 87.5,477.9 85.3,470.9 78.9,458.1 77.3,452.9 75.3,449.3 74.0,448.7 70.2,450.4 63.0,450.2 55.7,449.1 50.5,446.1 49.4,444.8 48.5,437.8 46.0,431.1 40.3,427.9 34.9,427.6 31.7,429.3 28.8,433.8ZM30.7,440.5 32.4,446.4 34.2,449.1 38.9,451.0 43.2,452.3 49.8,453.7 51.4,454.4 57.9,458.7 65.9,464.7 92.7,486.0 98.1,489.1 100.9,488.9 99.7,487.8 92.5,485.6 85.6,479.3 84.9,477.9 83.0,471.8 76.7,459.1 75.1,453.9 73.7,451.5 71.7,452.5 70.3,452.8 62.6,452.5 54.9,451.3 49.3,448.1 48.2,447.2 47.2,445.6 46.1,438.4 44.0,432.8 39.6,430.2 35.5,430.1 33.4,431.2 31.2,434.6ZM33.1,440.3 34.6,445.4 35.7,447.1 43.8,450.0 49.9,451.3 46.9,449.4 45.2,447.0 44.6,444.9 43.8,439.0 42.1,434.4 38.9,432.6 36.0,432.5 35.0,433.0 33.5,435.4ZM54.9,453.8 59.3,456.7 67.3,462.7 81.1,473.7 80.8,472.7 74.3,459.7 72.7,454.7 70.5,455.2 63.1,455.0ZM57.2,456.0a3.2,2.0 0 1,0 6.4,0.0a3.2,2.0 0 1,0 -6.4,-0.0ZM96.0,489.5a2.5,2.2 0 1,0 5.0,0.0a2.5,2.2 0 1,0 -5.0,-0.0ZM70.3,462.0a9,2.2 42 1,0 13.4,12.0a9,2.2 42 1,0 -13.4,-12.0Z" fill="none" stroke="#808080" stroke-width="0.48" stroke-linejoin="round"/>
<ellipse cx="158" cy="455" rx="10.5" ry="8" transform="rotate(10 158 455)" fill="#c8c8c8" opacity="0.55"/>
<path fill="#5a5a5a" fill-opacity="0.45" d="M159.7 454.6h0.8v0.8h-0.8zM160.5 453.6h0.8v0.8h-0.8zM157.8 452.5h0.8v0.8h-0.8zM157.2 453.9h0.8v0.8h-0.8zM153.7 452.4h0.8v0.8h-0.8zM162.0 455.1h0.8v0.8h-0.8zM153.3 452.2h0.8v0.8h-0.8zM159.5 449.1h0.8v0.8h-0.8zM159.9 456.0h0.8v0.8h-0.8zM156.6 449.3h0.8v0.8h-0.8zM161.1 455.2h0.8v0.8h-0.8zM159.5 457.7h0.8v0.8h-0.8zM164.0 456.2h0.8v0.8h-0.8zM164.7 454.1h0.8v0.8h-0.8zM163.5 451.1h0.8v0.8h-0.8zM154.2 452.3h0.8v0.8h-0.8zM156.9 454.1h0.8v0.8h-0.8zM154.7 453.8h0.8v0.8h-0.8zM157.0 454.7h0.8v0.8h-0.8zM157.4 451.5h0.8v0.8h-0.8zM157.5 454.9h0.8v0.8h-0.8zM160.5 452.5h0.8v0.8h-0.8zM157.0 453.3h0.8v0.8h-0.8zM159.5 454.5h0.8v0.8h-0.8zM157.5 454.0h0.8v0.8h-0.8zM153.5 454.5h0.8v0.8h-0.8zM158.1 456.3h0.8v0.8h-0.8zM163.0 454.8h0.8v0.8h-0.8zM157.9 455.3h0.8v0.8h-0.8zM161.8 454.3h0.8v0.8h-0.8zM158.8 455.5h0.8v0.8h-0.8zM154.1 450.5h0.8v0.8h-0.8zM164.3 452.4h0.8v0.8h-0.8zM161.5 455.9h0.8v0.8h-0.8zM162.6 454.4h0.8v0.8h-0.8zM157.2 448.2h0.8v0.8h-0.8zM153.8 457.0h0.8v0.8h-0.8zM152.6 452.0h0.8v0.8h-0.8zM157.2 453.9h0.8v0.8h-0.8zM162.3 453.7h0.8v0.8h-0.8zM161.3 456.0h0.8v0.8h-0.8zM158.8 452.7h0.8v0.8h-0.8zM155.6 452.0h0.8v0.8h-0.8zM159.3 458.1h0.8v0.8h-0.8zM161.3 456.2h0.8v0.8h-0.8zM163.8 454.7h0.8v0.8h-0.8zM152.6 455.8h0.8v0.8h-0.8zM154.6 450.0h0.8v0.8h-0.8zM161.4 453.3h0.8v0.8h-0.8zM158.2 453.5h0.8v0.8h-0.8zM161.1 452.1h0.8v0.8h-0.8zM156.5 452.7h0.8v0.8h-0.8zM154.5 455.3h0.8v0.8h-0.8zM164.0 451.8h0.8v0.8h-0.8zM156.3 452.8h0.8v0.8h-0.8zM164.3 451.5h0.8v0.8h-0.8zM162.9 451.1h0.8v0.8h-0.8zM156.9 454.9h0.8v0.8h-0.8zM158.2 453.0h0.8v0.8h-0.8zM160.0 450.7h0.8v0.8h-0.8zM158.8 451.4h0.8v0.8h-0.8zM159.9 452.2h0.8v0.8h-0.8zM158.7 450.6h0.8v0.8h-0.8zM151.1 452.0h0.8v0.8h-0.8zM160.7 453.8h0.8v0.8h-0.8zM160.7 452.6h0.8v0.8h-0.8zM155.5 449.7h0.8v0.8h-0.8zM163.9 456.1h0.8v0.8h-0.8zM165.5 451.3h0.8v0.8h-0.8zM160.7 454.5h0.8v0.8h-0.8zM153.1 451.4h0.8v0.8h-0.8zM158.8 452.4h0.8v0.8h-0.8zM155.8 451.5h0.8v0.8h-0.8zM160.7 451.3h0.8v0.8h-0.8zM159.9 450.4h0.8v0.8h-0.8zM159.2 456.6h0.8v0.8h-0.8zM158.4 450.7h0.8v0.8h-0.8zM158.5 453.3h0.8v0.8h-0.8zM157.0 455.2h0.8v0.8h-0.8zM157.3 451.5h0.8v0.8h-0.8zM159.3 455.0h0.8v0.8h-0.8zM158.2 455.6h0.8v0.8h-0.8zM158.9 456.2h0.8v0.8h-0.8zM163.0 456.0h0.8v0.8h-0.8zM162.2 457.1h0.8v0.8h-0.8zM157.7 452.2h0.8v0.8h-0.8zM158.9 454.8h0.8v0.8h-0.8zM156.9 456.3h0.8v0.8h-0.8zM155.7 452.3h0.8v0.8h-0.8zM160.4 453.8h0.8v0.8h-0.8zM157.5 454.3h0.8v0.8h-0.8zM160.9 456.2h0.8v0.8h-0.8zM162.0 453.6h0.8v0.8h-0.8zM157.1 454.2h0.8v0.8h-0.8zM164.0 454.0h0.8v0.8h-0.8zM158.1 451.4h0.8v0.8h-0.8zM155.9 449.8h0.8v0.8h-0.8zM158.1 455.0h0.8v0.8h-0.8zM158.2 454.3h0.8v0.8h-0.8zM157.1 448.6h0.8v0.8h-0.8zM159.7 449.6h0.8v0.8h-0.8zM160.0 452.0h0.8v0.8h-0.8zM156.9 448.8h0.8v0.8h-0.8zM158.4 455.3h0.8v0.8h-0.8zM159.5 450.1h0.8v0.8h-0.8zM164.7 451.3h0.8v0.8h-0.8zM162.4 456.4h0.8v0.8h-0.8zM162.9 451.7h0.8v0.8h-0.8zM159.5 458.6h0.8v0.8h-0.8zM162.2 454.3h0.8v0.8h-0.8zM153.0 452.9h0.8v0.8h-0.8zM160.2 454.3h0.8v0.8h-0.8zM157.5 458.1h0.8v0.8h-0.8zM154.7 455.4h0.8v0.8h-0.8zM165.0 452.2h0.8v0.8h-0.8zM160.0 452.4h0.8v0.8h-0.8zM154.0 457.4h0.8v0.8h-0.8zM157.7 455.5h0.8v0.8h-0.8zM160.0 457.2h0.8v0.8h-0.8zM160.0 451.6h0.8v0.8h-0.8zM157.0 456.6h0.8v0.8h-0.8zM155.3 451.0h0.8v0.8h-0.8zM157.4 457.2h0.8v0.8h-0.8zM163.0 455.2h0.8v0.8h-0.8zM159.7 454.0h0.8v0.8h-0.8zM154.4 453.0h0.8v0.8h-0.8zM158.0 449.4h0.8v0.8h-0.8zM160.5 454.6h0.8v0.8h-0.8zM159.0 454.3h0.8v0.8h-0.8zM155.0 454.3h0.8v0.8h-0.8zM162.8 454.8h0.8v0.8h-0.8zM155.0 451.9h0.8v0.8h-0.8zM157.0 453.6h0.8v0.8h-0.8zM152.9 453.2h0.8v0.8h-0.8zM159.1 454.5h0.8v0.8h-0.8zM164.4 451.9h0.8v0.8h-0.8zM159.7 452.9h0.8v0.8h-0.8zM157.9 452.5h0.8v0.8h-0.8zM163.1 455.5h0.8v0.8h-0.8zM160.0 450.1h0.8v0.8h-0.8zM154.6 453.7h0.8v0.8h-0.8zM155.7 452.5h0.8v0.8h-0.8zM156.7 455.8h0.8v0.8h-0.8zM163.9 452.7h0.8v0.8h-0.8zM158.8 450.8h0.8v0.8h-0.8zM152.9 449.3h0.8v0.8h-0.8zM155.7 458.1h0.8v0.8h-0.8zM160.6 453.1h0.8v0.8h-0.8zM155.0 455.0h0.8v0.8h-0.8zM159.0 453.5h0.8v0.8h-0.8zM156.0 453.9h0.8v0.8h-0.8zM162.0 449.8h0.8v0.8h-0.8zM157.0 454.8h0.8v0.8h-0.8zM160.7 456.3h0.8v0.8h-0.8zM158.0 452.0h0.8v0.8h-0.8zM158.3 453.6h0.8v0.8h-0.8zM158.7 451.1h0.8v0.8h-0.8zM162.1 454.7h0.8v0.8h-0.8zM159.0 449.8h0.8v0.8h-0.8zM156.9 452.9h0.8v0.8h-0.8z"/>
<path d="M145.4,452.8 145.4,456.8 146.7,460.9 150.8,464.9 153.5,469.0 152.8,474.3 156.2,475.0 160.2,473.0 165.6,473.0 171.0,475.7 177.7,481.1 184.4,487.8 191.1,493.2 196.5,495.9 201.9,495.9 206.0,491.8 206.6,486.5 203.3,482.4 197.9,481.1 192.5,477.0 188.5,470.3 184.4,462.2 181.7,455.5 180.4,448.8 177.7,444.7 172.3,444.1 166.9,445.4 160.2,445.4 152.1,446.1 147.4,448.1ZM147.6,453.2 147.6,456.5 148.6,459.7 152.5,463.5 155.5,468.2 155.7,469.1 155.2,472.6 155.9,472.7 159.8,470.8 166.4,470.9 172.4,474.0 179.1,479.4 185.9,486.2 192.3,491.3 197.0,493.7 201.0,493.7 203.9,490.8 204.3,487.2 202.1,484.4 196.8,483.0 190.6,478.1 186.5,471.3 182.4,463.0 179.6,456.1 178.3,449.6 176.4,446.8 172.4,446.3 167.2,447.6 160.3,447.6 152.6,448.3 149.1,449.8ZM149.8,453.7 149.8,456.1 150.6,458.5 154.5,462.5 157.4,467.0 157.8,468.2 157.9,469.2 159.0,468.8 160.2,468.6 166.0,468.6 167.6,469.1 173.8,472.3 180.5,477.7 187.3,484.5 193.5,489.5 197.5,491.5 200.1,491.5 201.8,489.8 202.0,487.8 200.8,486.3 196.9,485.4 195.6,484.9 189.8,480.5 188.7,479.3 184.6,472.3 180.3,463.8 177.5,456.7 176.2,450.5 175.2,448.8 172.6,448.6 167.4,449.8 160.4,449.8 153.2,450.4 150.8,451.5ZM152.0,454.1 152.0,455.8 152.5,457.3 155.9,460.7 159.6,466.4 166.8,466.5 168.6,467.1 174.0,469.8 181.8,476.0 188.8,482.9 194.7,487.6 198.1,489.3 199.2,489.3 199.7,488.8 199.6,488.3 195.7,487.3 194.5,486.7 188.5,482.3 187.2,480.9 182.6,473.3 178.3,464.7 175.4,457.4 174.2,451.3 173.9,450.9 172.7,450.8 167.7,452.0 160.5,452.0 153.7,452.6 152.4,453.1ZM154.2,454.8 154.4,456.1 157.6,459.3 160.9,464.2 166.4,464.2 168.8,464.8 175.8,468.3 178.9,470.7 176.2,465.5 173.5,458.8 172.3,453.2 167.9,454.1 160.6,454.2ZM195.0,488.0a3,2 0 1,0 6.0,0.0a3,2 0 1,0 -6.0,-0.0ZM175.7,459.0a11,2.5 55 1,0 12.6,18.0a11,2.5 55 1,0 -12.6,-18.0Z" fill="none" stroke="#808080" stroke-width="0.48" stroke-linejoin="round"/>
<ellipse cx="256.5" cy="472" rx="4" ry="6" fill="#a0a0a0" opacity="0.45"/>
<path fill="#444" fill-opacity="0.6" d="M259.4 472.5h0.8v0.8h-0.8zM256.3 474.2h0.8v0.8h-0.8zM257.5 475.1h0.8v0.8h-0.8zM257.4 476.0h0.8v0.8h-0.8zM257.3 476.7h0.8v0.8h-0.8zM256.1 475.3h0.8v0.8h-0.8zM255.8 471.6h0.8v0.8h-0.8zM255.8 472.1h0.8v0.8h-0.8zM255.9 474.4h0.8v0.8h-0.8zM258.0 471.9h0.8v0.8h-0.8zM256.6 474.9h0.8v0.8h-0.8zM258.5 473.8h0.8v0.8h-0.8zM258.1 472.2h0.8v0.8h-0.8zM255.4 473.8h0.8v0.8h-0.8zM256.7 476.2h0.8v0.8h-0.8zM258.2 473.0h0.8v0.8h-0.8zM257.7 473.0h0.8v0.8h-0.8zM255.6 473.8h0.8v0.8h-0.8zM258.1 472.9h0.8v0.8h-0.8zM256.3 472.0h0.8v0.8h-0.8zM258.7 474.6h0.8v0.8h-0.8zM257.4 471.2h0.8v0.8h-0.8zM258.6 472.6h0.8v0.8h-0.8zM257.0 476.5h0.8v0.8h-0.8zM257.6 471.0h0.8v0.8h-0.8zM257.9 471.8h0.8v0.8h-0.8zM257.3 472.7h0.8v0.8h-0.8zM256.9 471.4h0.8v0.8h-0.8zM258.8 471.8h0.8v0.8h-0.8zM259.3 473.0h0.8v0.8h-0.8zM257.3 473.0h0.8v0.8h-0.8zM255.6 473.6h0.8v0.8h-0.8zM258.2 474.1h0.8v0.8h-0.8zM259.1 475.7h0.8v0.8h-0.8zM257.8 471.5h0.8v0.8h-0.8zM257.4 473.7h0.8v0.8h-0.8zM258.7 473.6h0.8v0.8h-0.8zM257.5 473.4h0.8v0.8h-0.8zM256.4 476.7h0.8v0.8h-0.8zM256.7 475.6h0.8v0.8h-0.8z"/>
<path d="M244.8,458.8 246.2,462.9 249.7,465.7 251.1,469.9 251.8,475.4 255.2,478.2 259.4,478.9 263.5,478.2 270.5,480.9 277.4,486.5 284.3,493.4 291.2,498.9 298.2,501.0 305.1,498.9 307.9,493.4 306.5,486.5 302.3,482.3 296.8,479.6 291.2,474.0 285.7,465.7 282.2,458.8 281.6,450.5 279.5,445.6 274.6,444.9 267.7,446.3 259.4,447.0 252.5,449.1 246.9,453.2ZM247.3,458.8 248.2,461.5 251.8,464.5 253.4,469.4 254.1,474.2 256.2,475.9 259.4,476.5 263.9,475.8 271.6,478.8 278.9,484.6 285.9,491.6 292.3,496.7 298.2,498.5 303.4,496.9 305.4,493.1 304.3,487.7 300.9,484.3 295.3,481.5 289.2,475.3 283.7,467.0 280.0,459.7 279.2,451.1 277.8,447.8 274.7,447.3 267.9,448.7 259.9,449.4 253.6,451.3 248.9,454.7ZM249.9,458.9 250.3,460.0 253.0,462.3 254.1,463.8 255.8,468.8 256.3,472.9 257.3,473.7 259.4,474.0 262.7,473.5 264.2,473.5 272.7,476.6 280.4,482.8 287.5,489.8 293.5,494.6 298.2,496.0 301.7,494.9 302.9,492.7 302.1,488.9 299.5,486.3 293.8,483.3 287.8,477.4 281.4,467.9 277.6,460.1 276.9,451.6 276.2,450.0 274.7,449.8 268.1,451.1 260.3,451.7 254.7,453.5 250.9,456.2ZM252.5,458.7 255.2,461.0 256.3,462.8 258.1,468.3 258.6,471.5 259.4,471.6 263.1,471.0 264.6,471.1 273.8,474.5 281.9,480.9 289.1,488.0 294.6,492.4 298.2,493.5 300.1,492.9 300.3,492.4 299.9,490.1 298.1,488.2 292.3,485.2 286.1,479.1 279.7,469.7 275.3,460.7 274.5,452.3 268.3,453.5 260.8,454.1 255.8,455.6 252.9,457.7ZM252.9,456.0a6.5,3.8 0 1,0 13.0,0.0a6.5,3.8 0 1,0 -13.0,-0.0ZM293.0,492.0a4,3.5 0 1,0 8.0,0.0a4,3.5 0 1,0 -8.0,-0.0ZM294.8,492.0a2.2,1.8 0 1,0 4.4,0.0a2.2,1.8 0 1,0 -4.4,-0.0ZM267.8,460.1a10,2.6 52 1,0 12.3,15.8a10,2.6 52 1,0 -12.3,-15.8Z" fill="none" stroke="#808080" stroke-width="0.48" stroke-linejoin="round"/>
<g stroke="#1a1a1a" stroke-width="0.95" fill="none"><line x1="18.0" y1="504.6" x2="18.0" y2="488.5"/><line x1="12.1" y1="501.0" x2="32.5" y2="501.0"/></g>
<path d="M18.0,485.2 L15.9,489.8 L20.1,489.8Z" fill="#1a1a1a"/>
<path d="M36.3,501.0 L31.6,498.9 L31.6,503.1Z" fill="#1a1a1a"/>
<text transform="translate(20.40 511.50) scale(0.7965 1)" font-size="8.0" fill="#222">UMAP_1</text>
<text transform="translate(12.70 485.20) rotate(-90) scale(0.8122 1)" font-size="8.0" text-anchor="middle" fill="#222">UMAP_2</text>
<text transform="translate(6.90 538.70) scale(0.9391 1)" font-size="11.5" font-weight="bold" fill="#000">G</text>
<line x1="47.60" y1="568.06" x2="47.60" y2="581.03" stroke="#7a4a80" stroke-width="0.8"/>
<line x1="47.60" y1="594.01" x2="47.60" y2="607.85" stroke="#7a4a80" stroke-width="0.8"/>
<rect x="40.40" y="581.03" width="14.40" height="12.98" fill="#9d77a2"/>
<line x1="40.40" y1="587.26" x2="54.80" y2="587.26" stroke="#5a2a62" stroke-width="1.1"/>
<circle cx="43.0" cy="600.6" r="1.05" fill="#c2a2c6" stroke="#8a5a92" stroke-width="0.35" fill-opacity="0.6" stroke-opacity="0.7"/><circle cx="41.6" cy="582.3" r="1.05" fill="#c2a2c6" stroke="#8a5a92" stroke-width="0.35" fill-opacity="0.6" stroke-opacity="0.7"/><circle cx="45.0" cy="578.4" r="1.05" fill="#c2a2c6" stroke="#8a5a92" stroke-width="0.35" fill-opacity="0.6" stroke-opacity="0.7"/><circle cx="49.0" cy="575.7" r="1.05" fill="#c2a2c6" stroke="#8a5a92" stroke-width="0.35" fill-opacity="0.6" stroke-opacity="0.7"/><circle cx="47.5" cy="579.6" r="1.05" fill="#c2a2c6" stroke="#8a5a92" stroke-width="0.35" fill-opacity="0.6" stroke-opacity="0.7"/><circle cx="46.4" cy="577.5" r="1.05" fill="#c2a2c6" stroke="#8a5a92" stroke-width="0.35" fill-opacity="0.6" stroke-opacity="0.7"/><circle cx="41.6" cy="601.4" r="1.05" fill="#c2a2c6" stroke="#8a5a92" stroke-width="0.35" fill-opacity="0.6" stroke-opacity="0.7"/><circle cx="48.1" cy="596.2" r="1.05" fill="#c2a2c6" stroke="#8a5a92" stroke-width="0.35" fill-opacity="0.6" stroke-opacity="0.7"/><circle cx="53.8" cy="581.6" r="1.05" fill="#c2a2c6" stroke="#8a5a92" stroke-width="0.35" fill-opacity="0.6" stroke-opacity="0.7"/><circle cx="43.6" cy="606.5" r="1.05" fill="#c2a2c6" stroke="#8a5a92" stroke-width="0.35" fill-opacity="0.6" stroke-opacity="0.7"/><circle cx="51.1" cy="592.3" r="1.05" fill="#c2a2c6" stroke="#8a5a92" stroke-width="0.35" fill-opacity="0.6" stroke-opacity="0.7"/><circle cx="42.4" cy="588.9" r="1.05" fill="#c2a2c6" stroke="#8a5a92" stroke-width="0.35" fill-opacity="0.6" stroke-opacity="0.7"/><circle cx="50.8" cy="583.5" r="1.05" fill="#c2a2c6" stroke="#8a5a92" stroke-width="0.35" fill-opacity="0.6" stroke-opacity="0.7"/><circle cx="46.7" cy="578.5" r="1.05" fill="#c2a2c6" stroke="#8a5a92" stroke-width="0.35" fill-opacity="0.6" stroke-opacity="0.7"/><circle cx="50.4" cy="584.8" r="1.05" fill="#c2a2c6" stroke="#8a5a92" stroke-width="0.35" fill-opacity="0.6" stroke-opacity="0.7"/><circle cx="49.4" cy="595.0" r="1.05" fill="#c2a2c6" stroke="#8a5a92" stroke-width="0.35" fill-opacity="0.6" stroke-opacity="0.7"/><circle cx="45.6" cy="596.2" r="1.05" fill="#c2a2c6" stroke="#8a5a92" stroke-width="0.35" fill-opacity="0.6" stroke-opacity="0.7"/><circle cx="51.8" cy="583.2" r="1.05" fill="#c2a2c6" stroke="#8a5a92" stroke-width="0.35" fill-opacity="0.6" stroke-opacity="0.7"/><circle cx="47.1" cy="581.5" r="1.05" fill="#c2a2c6" stroke="#8a5a92" stroke-width="0.35" fill-opacity="0.6" stroke-opacity="0.7"/><circle cx="53.6" cy="583.5" r="1.05" fill="#c2a2c6" stroke="#8a5a92" stroke-width="0.35" fill-opacity="0.6" stroke-opacity="0.7"/><circle cx="51.0" cy="585.8" r="1.05" fill="#c2a2c6" stroke="#8a5a92" stroke-width="0.35" fill-opacity="0.6" stroke-opacity="0.7"/><circle cx="41.6" cy="586.0" r="1.05" fill="#c2a2c6" stroke="#8a5a92" stroke-width="0.35" fill-opacity="0.6" stroke-opacity="0.7"/><circle cx="50.8" cy="600.3" r="1.05" fill="#c2a2c6" stroke="#8a5a92" stroke-width="0.35" fill-opacity="0.6" stroke-opacity="0.7"/><circle cx="48.6" cy="587.3" r="1.05" fill="#c2a2c6" stroke="#8a5a92" stroke-width="0.35" fill-opacity="0.6" stroke-opacity="0.7"/><circle cx="52.6" cy="579.9" r="1.05" fill="#c2a2c6" stroke="#8a5a92" stroke-width="0.35" fill-opacity="0.6" stroke-opacity="0.7"/><circle cx="48.8" cy="597.8" r="1.05" fill="#c2a2c6" stroke="#8a5a92" stroke-width="0.35" fill-opacity="0.6" stroke-opacity="0.7"/><circle cx="49.0" cy="583.0" r="1.05" fill="#c2a2c6" stroke="#8a5a92" stroke-width="0.35" fill-opacity="0.6" stroke-opacity="0.7"/><circle cx="49.0" cy="580.5" r="1.05" fill="#c2a2c6" stroke="#8a5a92" stroke-width="0.35" fill-opacity="0.6" stroke-opacity="0.7"/><circle cx="44.2" cy="568.1" r="1.05" fill="#c2a2c6" stroke="#8a5a92" stroke-width="0.35" fill-opacity="0.6" stroke-opacity="0.7"/><circle cx="47.4" cy="587.7" r="1.05" fill="#c2a2c6" stroke="#8a5a92" stroke-width="0.35" fill-opacity="0.6" stroke-opacity="0.7"/><circle cx="52.2" cy="589.4" r="1.05" fill="#c2a2c6" stroke="#8a5a92" stroke-width="0.35" fill-opacity="0.6" stroke-opacity="0.7"/><circle cx="43.4" cy="598.6" r="1.05" fill="#c2a2c6" stroke="#8a5a92" stroke-width="0.35" fill-opacity="0.6" stroke-opacity="0.7"/><circle cx="46.2" cy="597.5" r="1.05" fill="#c2a2c6" stroke="#8a5a92" stroke-width="0.35" fill-opacity="0.6" stroke-opacity="0.7"/><circle cx="51.1" cy="602.5" r="1.05" fill="#c2a2c6" stroke="#8a5a92" stroke-width="0.35" fill-opacity="0.6" stroke-opacity="0.7"/><circle cx="52.3" cy="604.1" r="1.05" fill="#c2a2c6" stroke="#8a5a92" stroke-width="0.35" fill-opacity="0.6" stroke-opacity="0.7"/><circle cx="43.6" cy="580.4" r="1.05" fill="#c2a2c6" stroke="#8a5a92" stroke-width="0.35" fill-opacity="0.6" stroke-opacity="0.7"/><circle cx="44.7" cy="587.2" r="1.05" fill="#c2a2c6" stroke="#8a5a92" stroke-width="0.35" fill-opacity="0.6" stroke-opacity="0.7"/><circle cx="50.6" cy="584.2" r="1.05" fill="#c2a2c6" stroke="#8a5a92" stroke-width="0.35" fill-opacity="0.6" stroke-opacity="0.7"/><circle cx="50.8" cy="602.2" r="1.05" fill="#c2a2c6" stroke="#8a5a92" stroke-width="0.35" fill-opacity="0.6" stroke-opacity="0.7"/><circle cx="44.8" cy="606.4" r="1.05" fill="#c2a2c6" stroke="#8a5a92" stroke-width="0.35" fill-opacity="0.6" stroke-opacity="0.7"/><circle cx="43.0" cy="604.0" r="1.05" fill="#c2a2c6" stroke="#8a5a92" stroke-width="0.35" fill-opacity="0.6" stroke-opacity="0.7"/><circle cx="42.4" cy="571.7" r="1.05" fill="#c2a2c6" stroke="#8a5a92" stroke-width="0.35" fill-opacity="0.6" stroke-opacity="0.7"/><circle cx="52.8" cy="576.4" r="1.05" fill="#c2a2c6" stroke="#8a5a92" stroke-width="0.35" fill-opacity="0.6" stroke-opacity="0.7"/><circle cx="53.3" cy="599.8" r="1.05" fill="#c2a2c6" stroke="#8a5a92" stroke-width="0.35" fill-opacity="0.6" stroke-opacity="0.7"/><circle cx="41.6" cy="586.1" r="1.05" fill="#c2a2c6" stroke="#8a5a92" stroke-width="0.35" fill-opacity="0.6" stroke-opacity="0.7"/><circle cx="46.2" cy="585.5" r="1.05" fill="#c2a2c6" stroke="#8a5a92" stroke-width="0.35" fill-opacity="0.6" stroke-opacity="0.7"/><circle cx="44.9" cy="596.4" r="1.05" fill="#c2a2c6" stroke="#8a5a92" stroke-width="0.35" fill-opacity="0.6" stroke-opacity="0.7"/><circle cx="46.7" cy="593.2" r="1.05" fill="#c2a2c6" stroke="#8a5a92" stroke-width="0.35" fill-opacity="0.6" stroke-opacity="0.7"/><circle cx="48.1" cy="578.0" r="1.05" fill="#c2a2c6" stroke="#8a5a92" stroke-width="0.35" fill-opacity="0.6" stroke-opacity="0.7"/><circle cx="47.4" cy="580.3" r="1.05" fill="#c2a2c6" stroke="#8a5a92" stroke-width="0.35" fill-opacity="0.6" stroke-opacity="0.7"/><circle cx="48.4" cy="578.5" r="1.05" fill="#c2a2c6" stroke="#8a5a92" stroke-width="0.35" fill-opacity="0.6" stroke-opacity="0.7"/><circle cx="48.0" cy="583.9" r="1.05" fill="#c2a2c6" stroke="#8a5a92" stroke-width="0.35" fill-opacity="0.6" stroke-opacity="0.7"/><circle cx="48.1" cy="585.9" r="1.05" fill="#c2a2c6" stroke="#8a5a92" stroke-width="0.35" fill-opacity="0.6" stroke-opacity="0.7"/><circle cx="52.6" cy="582.3" r="1.05" fill="#c2a2c6" stroke="#8a5a92" stroke-width="0.35" fill-opacity="0.6" stroke-opacity="0.7"/><circle cx="44.9" cy="588.5" r="1.05" fill="#c2a2c6" stroke="#8a5a92" stroke-width="0.35" fill-opacity="0.6" stroke-opacity="0.7"/><circle cx="43.8" cy="570.9" r="1.05" fill="#c2a2c6" stroke="#8a5a92" stroke-width="0.35" fill-opacity="0.6" stroke-opacity="0.7"/><circle cx="52.0" cy="584.8" r="1.05" fill="#c2a2c6" stroke="#8a5a92" stroke-width="0.35" fill-opacity="0.6" stroke-opacity="0.7"/><circle cx="47.5" cy="581.8" r="1.05" fill="#c2a2c6" stroke="#8a5a92" stroke-width="0.35" fill-opacity="0.6" stroke-opacity="0.7"/><circle cx="42.5" cy="587.8" r="1.05" fill="#c2a2c6" stroke="#8a5a92" stroke-width="0.35" fill-opacity="0.6" stroke-opacity="0.7"/><circle cx="50.4" cy="593.3" r="1.05" fill="#c2a2c6" stroke="#8a5a92" stroke-width="0.35" fill-opacity="0.6" stroke-opacity="0.7"/>
<line x1="47.60" y1="638.40" x2="47.60" y2="640.80" stroke="#1a1a1a" stroke-width="0.7"/>
<text transform="translate(49.60 646.80) rotate(-45) scale(0.9500 1)" font-size="6.6" text-anchor="end" fill="#222">Neonate</text>
<line x1="67.20" y1="568.06" x2="67.20" y2="578.01" stroke="#7a4a80" stroke-width="0.8"/>
<line x1="67.20" y1="600.58" x2="67.20" y2="606.98" stroke="#7a4a80" stroke-width="0.8"/>
<rect x="60.00" y="578.01" width="14.40" height="22.58" fill="#9d77a2"/>
<line x1="60.00" y1="587.09" x2="74.40" y2="587.09" stroke="#5a2a62" stroke-width="1.1"/>
<circle cx="62.2" cy="576.2" r="1.05" fill="#c2a2c6" stroke="#8a5a92" stroke-width="0.35" fill-opacity="0.6" stroke-opacity="0.7"/><circle cx="65.7" cy="568.1" r="1.05" fill="#c2a2c6" stroke="#8a5a92" stroke-width="0.35" fill-opacity="0.6" stroke-opacity="0.7"/><circle cx="71.9" cy="581.6" r="1.05" fill="#c2a2c6" stroke="#8a5a92" stroke-width="0.35" fill-opacity="0.6" stroke-opacity="0.7"/><circle cx="61.3" cy="590.7" r="1.05" fill="#c2a2c6" stroke="#8a5a92" stroke-width="0.35" fill-opacity="0.6" stroke-opacity="0.7"/><circle cx="63.2" cy="572.3" r="1.05" fill="#c2a2c6" stroke="#8a5a92" stroke-width="0.35" fill-opacity="0.6" stroke-opacity="0.7"/><circle cx="71.3" cy="601.3" r="1.05" fill="#c2a2c6" stroke="#8a5a92" stroke-width="0.35" fill-opacity="0.6" stroke-opacity="0.7"/><circle cx="71.8" cy="575.1" r="1.05" fill="#c2a2c6" stroke="#8a5a92" stroke-width="0.35" fill-opacity="0.6" stroke-opacity="0.7"/><circle cx="70.6" cy="568.1" r="1.05" fill="#c2a2c6" stroke="#8a5a92" stroke-width="0.35" fill-opacity="0.6" stroke-opacity="0.7"/><circle cx="69.4" cy="568.1" r="1.05" fill="#c2a2c6" stroke="#8a5a92" stroke-width="0.35" fill-opacity="0.6" stroke-opacity="0.7"/><circle cx="68.0" cy="574.3" r="1.05" fill="#c2a2c6" stroke="#8a5a92" stroke-width="0.35" fill-opacity="0.6" stroke-opacity="0.7"/><circle cx="64.2" cy="594.2" r="1.05" fill="#c2a2c6" stroke="#8a5a92" stroke-width="0.35" fill-opacity="0.6" stroke-opacity="0.7"/><circle cx="65.5" cy="591.3" r="1.05" fill="#c2a2c6" stroke="#8a5a92" stroke-width="0.35" fill-opacity="0.6" stroke-opacity="0.7"/><circle cx="64.2" cy="600.9" r="1.05" fill="#c2a2c6" stroke="#8a5a92" stroke-width="0.35" fill-opacity="0.6" stroke-opacity="0.7"/><circle cx="66.4" cy="568.1" r="1.05" fill="#c2a2c6" stroke="#8a5a92" stroke-width="0.35" fill-opacity="0.6" stroke-opacity="0.7"/>
<line x1="67.20" y1="638.40" x2="67.20" y2="640.80" stroke="#1a1a1a" stroke-width="0.7"/>
<text transform="translate(69.20 646.80) rotate(-45) scale(0.9500 1)" font-size="6.6" text-anchor="end" fill="#222">Infant</text>
<line x1="87.00" y1="561.14" x2="87.00" y2="581.29" stroke="#7a4a80" stroke-width="0.8"/>
<line x1="87.00" y1="607.50" x2="87.00" y2="613.04" stroke="#7a4a80" stroke-width="0.8"/>
<rect x="79.80" y="581.29" width="14.40" height="26.21" fill="#9d77a2"/>
<line x1="79.80" y1="594.44" x2="94.20" y2="594.44" stroke="#5a2a62" stroke-width="1.1"/>
<circle cx="90.9" cy="613.0" r="1.05" fill="#c2a2c6" stroke="#8a5a92" stroke-width="0.35" fill-opacity="0.6" stroke-opacity="0.7"/><circle cx="81.7" cy="561.1" r="1.05" fill="#c2a2c6" stroke="#8a5a92" stroke-width="0.35" fill-opacity="0.6" stroke-opacity="0.7"/><circle cx="87.4" cy="602.7" r="1.05" fill="#c2a2c6" stroke="#8a5a92" stroke-width="0.35" fill-opacity="0.6" stroke-opacity="0.7"/><circle cx="90.9" cy="596.9" r="1.05" fill="#c2a2c6" stroke="#8a5a92" stroke-width="0.35" fill-opacity="0.6" stroke-opacity="0.7"/><circle cx="81.1" cy="599.1" r="1.05" fill="#c2a2c6" stroke="#8a5a92" stroke-width="0.35" fill-opacity="0.6" stroke-opacity="0.7"/><circle cx="89.4" cy="609.6" r="1.05" fill="#c2a2c6" stroke="#8a5a92" stroke-width="0.35" fill-opacity="0.6" stroke-opacity="0.7"/><circle cx="87.2" cy="562.5" r="1.05" fill="#c2a2c6" stroke="#8a5a92" stroke-width="0.35" fill-opacity="0.6" stroke-opacity="0.7"/><circle cx="83.4" cy="613.0" r="1.05" fill="#c2a2c6" stroke="#8a5a92" stroke-width="0.35" fill-opacity="0.6" stroke-opacity="0.7"/><circle cx="83.4" cy="584.3" r="1.05" fill="#c2a2c6" stroke="#8a5a92" stroke-width="0.35" fill-opacity="0.6" stroke-opacity="0.7"/><circle cx="93.0" cy="604.6" r="1.05" fill="#c2a2c6" stroke="#8a5a92" stroke-width="0.35" fill-opacity="0.6" stroke-opacity="0.7"/><circle cx="92.0" cy="569.2" r="1.05" fill="#c2a2c6" stroke="#8a5a92" stroke-width="0.35" fill-opacity="0.6" stroke-opacity="0.7"/><circle cx="92.1" cy="577.3" r="1.05" fill="#c2a2c6" stroke="#8a5a92" stroke-width="0.35" fill-opacity="0.6" stroke-opacity="0.7"/><circle cx="81.8" cy="591.9" r="1.05" fill="#c2a2c6" stroke="#8a5a92" stroke-width="0.35" fill-opacity="0.6" stroke-opacity="0.7"/><circle cx="89.3" cy="613.0" r="1.05" fill="#c2a2c6" stroke="#8a5a92" stroke-width="0.35" fill-opacity="0.6" stroke-opacity="0.7"/><circle cx="87.2" cy="578.5" r="1.05" fill="#c2a2c6" stroke="#8a5a92" stroke-width="0.35" fill-opacity="0.6" stroke-opacity="0.7"/><circle cx="81.7" cy="574.9" r="1.05" fill="#c2a2c6" stroke="#8a5a92" stroke-width="0.35" fill-opacity="0.6" stroke-opacity="0.7"/><circle cx="90.6" cy="581.0" r="1.05" fill="#c2a2c6" stroke="#8a5a92" stroke-width="0.35" fill-opacity="0.6" stroke-opacity="0.7"/><circle cx="82.2" cy="599.1" r="1.05" fill="#c2a2c6" stroke="#8a5a92" stroke-width="0.35" fill-opacity="0.6" stroke-opacity="0.7"/><circle cx="90.6" cy="572.4" r="1.05" fill="#c2a2c6" stroke="#8a5a92" stroke-width="0.35" fill-opacity="0.6" stroke-opacity="0.7"/>
<line x1="87.00" y1="638.40" x2="87.00" y2="640.80" stroke="#1a1a1a" stroke-width="0.7"/>
<text transform="translate(89.00 646.80) rotate(-45) scale(0.9500 1)" font-size="6.6" text-anchor="end" fill="#222">Young Child</text>
<line x1="106.60" y1="573.60" x2="106.60" y2="587.52" stroke="#7a4a80" stroke-width="0.8"/>
<line x1="106.60" y1="606.55" x2="106.60" y2="622.04" stroke="#7a4a80" stroke-width="0.8"/>
<rect x="99.40" y="587.52" width="14.40" height="19.03" fill="#9d77a2"/>
<line x1="99.40" y1="600.58" x2="113.80" y2="600.58" stroke="#5a2a62" stroke-width="1.1"/>
<circle cx="105.0" cy="598.1" r="1.05" fill="#c2a2c6" stroke="#8a5a92" stroke-width="0.35" fill-opacity="0.6" stroke-opacity="0.7"/><circle cx="111.4" cy="612.6" r="1.05" fill="#c2a2c6" stroke="#8a5a92" stroke-width="0.35" fill-opacity="0.6" stroke-opacity="0.7"/><circle cx="103.3" cy="615.0" r="1.05" fill="#c2a2c6" stroke="#8a5a92" stroke-width="0.35" fill-opacity="0.6" stroke-opacity="0.7"/><circle cx="108.0" cy="582.0" r="1.05" fill="#c2a2c6" stroke="#8a5a92" stroke-width="0.35" fill-opacity="0.6" stroke-opacity="0.7"/><circle cx="107.1" cy="603.9" r="1.05" fill="#c2a2c6" stroke="#8a5a92" stroke-width="0.35" fill-opacity="0.6" stroke-opacity="0.7"/><circle cx="110.5" cy="583.4" r="1.05" fill="#c2a2c6" stroke="#8a5a92" stroke-width="0.35" fill-opacity="0.6" stroke-opacity="0.7"/><circle cx="111.7" cy="591.8" r="1.05" fill="#c2a2c6" stroke="#8a5a92" stroke-width="0.35" fill-opacity="0.6" stroke-opacity="0.7"/><circle cx="104.5" cy="601.1" r="1.05" fill="#c2a2c6" stroke="#8a5a92" stroke-width="0.35" fill-opacity="0.6" stroke-opacity="0.7"/><circle cx="106.6" cy="603.4" r="1.05" fill="#c2a2c6" stroke="#8a5a92" stroke-width="0.35" fill-opacity="0.6" stroke-opacity="0.7"/><circle cx="105.1" cy="577.5" r="1.05" fill="#c2a2c6" stroke="#8a5a92" stroke-width="0.35" fill-opacity="0.6" stroke-opacity="0.7"/><circle cx="104.3" cy="609.0" r="1.05" fill="#c2a2c6" stroke="#8a5a92" stroke-width="0.35" fill-opacity="0.6" stroke-opacity="0.7"/><circle cx="112.0" cy="605.5" r="1.05" fill="#c2a2c6" stroke="#8a5a92" stroke-width="0.35" fill-opacity="0.6" stroke-opacity="0.7"/><circle cx="108.4" cy="611.6" r="1.05" fill="#c2a2c6" stroke="#8a5a92" stroke-width="0.35" fill-opacity="0.6" stroke-opacity="0.7"/><circle cx="109.8" cy="602.3" r="1.05" fill="#c2a2c6" stroke="#8a5a92" stroke-width="0.35" fill-opacity="0.6" stroke-opacity="0.7"/><circle cx="102.5" cy="552.5" r="1.05" fill="#c2a2c6" stroke="#8a5a92" stroke-width="0.35" fill-opacity="0.6" stroke-opacity="0.7"/>
<line x1="106.60" y1="638.40" x2="106.60" y2="640.80" stroke="#1a1a1a" stroke-width="0.7"/>
<text transform="translate(108.60 646.80) rotate(-45) scale(0.9500 1)" font-size="6.6" text-anchor="end" fill="#222">Child</text>
<line x1="126.30" y1="588.82" x2="126.30" y2="593.66" stroke="#7a4a80" stroke-width="0.8"/>
<line x1="126.30" y1="600.58" x2="126.30" y2="606.55" stroke="#7a4a80" stroke-width="0.8"/>
<rect x="119.10" y="593.66" width="14.40" height="6.92" fill="#9d77a2"/>
<line x1="119.10" y1="594.01" x2="133.50" y2="594.01" stroke="#5a2a62" stroke-width="1.1"/>
<circle cx="130.3" cy="600.7" r="1.05" fill="#c2a2c6" stroke="#8a5a92" stroke-width="0.35" fill-opacity="0.6" stroke-opacity="0.7"/><circle cx="125.3" cy="590.2" r="1.05" fill="#c2a2c6" stroke="#8a5a92" stroke-width="0.35" fill-opacity="0.6" stroke-opacity="0.7"/><circle cx="121.2" cy="599.1" r="1.05" fill="#c2a2c6" stroke="#8a5a92" stroke-width="0.35" fill-opacity="0.6" stroke-opacity="0.7"/><circle cx="123.0" cy="600.2" r="1.05" fill="#c2a2c6" stroke="#8a5a92" stroke-width="0.35" fill-opacity="0.6" stroke-opacity="0.7"/><circle cx="123.3" cy="595.8" r="1.05" fill="#c2a2c6" stroke="#8a5a92" stroke-width="0.35" fill-opacity="0.6" stroke-opacity="0.7"/><circle cx="127.9" cy="588.8" r="1.05" fill="#c2a2c6" stroke="#8a5a92" stroke-width="0.35" fill-opacity="0.6" stroke-opacity="0.7"/><circle cx="127.3" cy="597.1" r="1.05" fill="#c2a2c6" stroke="#8a5a92" stroke-width="0.35" fill-opacity="0.6" stroke-opacity="0.7"/><circle cx="132.2" cy="591.5" r="1.05" fill="#c2a2c6" stroke="#8a5a92" stroke-width="0.35" fill-opacity="0.6" stroke-opacity="0.7"/><circle cx="127.1" cy="581.9" r="1.05" fill="#c2a2c6" stroke="#8a5a92" stroke-width="0.35" fill-opacity="0.6" stroke-opacity="0.7"/><circle cx="125.0" cy="612.2" r="1.05" fill="#c2a2c6" stroke="#8a5a92" stroke-width="0.35" fill-opacity="0.6" stroke-opacity="0.7"/><circle cx="126.5" cy="614.8" r="1.05" fill="#c2a2c6" stroke="#8a5a92" stroke-width="0.35" fill-opacity="0.6" stroke-opacity="0.7"/>
<line x1="126.30" y1="638.40" x2="126.30" y2="640.80" stroke="#1a1a1a" stroke-width="0.7"/>
<text transform="translate(128.30 646.80) rotate(-45) scale(0.9500 1)" font-size="6.6" text-anchor="end" fill="#222">Teen</text>
<line x1="145.90" y1="582.33" x2="145.90" y2="587.52" stroke="#7a4a80" stroke-width="0.8"/>
<line x1="145.90" y1="606.55" x2="145.90" y2="622.04" stroke="#7a4a80" stroke-width="0.8"/>
<rect x="138.70" y="587.52" width="14.40" height="19.03" fill="#9d77a2"/>
<line x1="138.70" y1="600.58" x2="153.10" y2="600.58" stroke="#5a2a62" stroke-width="1.1"/>
<circle cx="144.5" cy="592.4" r="1.05" fill="#c2a2c6" stroke="#8a5a92" stroke-width="0.35" fill-opacity="0.6" stroke-opacity="0.7"/><circle cx="141.1" cy="588.2" r="1.05" fill="#c2a2c6" stroke="#8a5a92" stroke-width="0.35" fill-opacity="0.6" stroke-opacity="0.7"/><circle cx="139.8" cy="612.7" r="1.05" fill="#c2a2c6" stroke="#8a5a92" stroke-width="0.35" fill-opacity="0.6" stroke-opacity="0.7"/><circle cx="148.9" cy="601.2" r="1.05" fill="#c2a2c6" stroke="#8a5a92" stroke-width="0.35" fill-opacity="0.6" stroke-opacity="0.7"/><circle cx="143.8" cy="594.3" r="1.05" fill="#c2a2c6" stroke="#8a5a92" stroke-width="0.35" fill-opacity="0.6" stroke-opacity="0.7"/><circle cx="143.6" cy="596.7" r="1.05" fill="#c2a2c6" stroke="#8a5a92" stroke-width="0.35" fill-opacity="0.6" stroke-opacity="0.7"/><circle cx="145.4" cy="613.5" r="1.05" fill="#c2a2c6" stroke="#8a5a92" stroke-width="0.35" fill-opacity="0.6" stroke-opacity="0.7"/><circle cx="141.0" cy="622.0" r="1.05" fill="#c2a2c6" stroke="#8a5a92" stroke-width="0.35" fill-opacity="0.6" stroke-opacity="0.7"/><circle cx="148.7" cy="595.8" r="1.05" fill="#c2a2c6" stroke="#8a5a92" stroke-width="0.35" fill-opacity="0.6" stroke-opacity="0.7"/><circle cx="147.0" cy="590.2" r="1.05" fill="#c2a2c6" stroke="#8a5a92" stroke-width="0.35" fill-opacity="0.6" stroke-opacity="0.7"/><circle cx="142.4" cy="582.3" r="1.05" fill="#c2a2c6" stroke="#8a5a92" stroke-width="0.35" fill-opacity="0.6" stroke-opacity="0.7"/><circle cx="147.4" cy="594.4" r="1.05" fill="#c2a2c6" stroke="#8a5a92" stroke-width="0.35" fill-opacity="0.6" stroke-opacity="0.7"/><circle cx="145.0" cy="612.3" r="1.05" fill="#c2a2c6" stroke="#8a5a92" stroke-width="0.35" fill-opacity="0.6" stroke-opacity="0.7"/><circle cx="144.3" cy="594.1" r="1.05" fill="#c2a2c6" stroke="#8a5a92" stroke-width="0.35" fill-opacity="0.6" stroke-opacity="0.7"/><circle cx="145.7" cy="601.9" r="1.05" fill="#c2a2c6" stroke="#8a5a92" stroke-width="0.35" fill-opacity="0.6" stroke-opacity="0.7"/><circle cx="150.3" cy="609.7" r="1.05" fill="#c2a2c6" stroke="#8a5a92" stroke-width="0.35" fill-opacity="0.6" stroke-opacity="0.7"/><circle cx="140.0" cy="620.2" r="1.05" fill="#c2a2c6" stroke="#8a5a92" stroke-width="0.35" fill-opacity="0.6" stroke-opacity="0.7"/><circle cx="140.0" cy="622.0" r="1.05" fill="#c2a2c6" stroke="#8a5a92" stroke-width="0.35" fill-opacity="0.6" stroke-opacity="0.7"/><circle cx="143.8" cy="610.0" r="1.05" fill="#c2a2c6" stroke="#8a5a92" stroke-width="0.35" fill-opacity="0.6" stroke-opacity="0.7"/><circle cx="142.8" cy="606.1" r="1.05" fill="#c2a2c6" stroke="#8a5a92" stroke-width="0.35" fill-opacity="0.6" stroke-opacity="0.7"/><circle cx="145.4" cy="599.4" r="1.05" fill="#c2a2c6" stroke="#8a5a92" stroke-width="0.35" fill-opacity="0.6" stroke-opacity="0.7"/><circle cx="148.8" cy="600.0" r="1.05" fill="#c2a2c6" stroke="#8a5a92" stroke-width="0.35" fill-opacity="0.6" stroke-opacity="0.7"/><circle cx="145.7" cy="622.1" r="1.05" fill="#c2a2c6" stroke="#8a5a92" stroke-width="0.35" fill-opacity="0.6" stroke-opacity="0.7"/>
<line x1="145.90" y1="638.40" x2="145.90" y2="640.80" stroke="#1a1a1a" stroke-width="0.7"/>
<text transform="translate(147.90 646.80) rotate(-45) scale(0.9500 1)" font-size="6.6" text-anchor="end" fill="#222">Adult</text>
<line x1="165.60" y1="598.33" x2="165.60" y2="600.58" stroke="#7a4a80" stroke-width="0.8"/>
<line x1="165.60" y1="606.55" x2="165.60" y2="606.98" stroke="#7a4a80" stroke-width="0.8"/>
<rect x="158.40" y="600.58" width="14.40" height="5.97" fill="#9d77a2"/>
<line x1="158.40" y1="600.93" x2="172.80" y2="600.93" stroke="#5a2a62" stroke-width="1.1"/>
<circle cx="170.8" cy="607.0" r="1.05" fill="#c2a2c6" stroke="#8a5a92" stroke-width="0.35" fill-opacity="0.6" stroke-opacity="0.7"/><circle cx="159.9" cy="600.5" r="1.05" fill="#c2a2c6" stroke="#8a5a92" stroke-width="0.35" fill-opacity="0.6" stroke-opacity="0.7"/><circle cx="169.0" cy="598.3" r="1.05" fill="#c2a2c6" stroke="#8a5a92" stroke-width="0.35" fill-opacity="0.6" stroke-opacity="0.7"/><circle cx="161.1" cy="598.3" r="1.05" fill="#c2a2c6" stroke="#8a5a92" stroke-width="0.35" fill-opacity="0.6" stroke-opacity="0.7"/><circle cx="162.5" cy="603.6" r="1.05" fill="#c2a2c6" stroke="#8a5a92" stroke-width="0.35" fill-opacity="0.6" stroke-opacity="0.7"/><circle cx="171.6" cy="622.6" r="1.05" fill="#c2a2c6" stroke="#8a5a92" stroke-width="0.35" fill-opacity="0.6" stroke-opacity="0.7"/>
<line x1="165.60" y1="638.40" x2="165.60" y2="640.80" stroke="#1a1a1a" stroke-width="0.7"/>
<text transform="translate(167.60 646.80) rotate(-45) scale(0.9500 1)" font-size="6.6" text-anchor="end" fill="#222">Elderly</text>
<line x1="35.30" y1="545.50" x2="35.30" y2="638.80" stroke="#1a1a1a" stroke-width="0.9"/>
<line x1="34.90" y1="638.40" x2="176.90" y2="638.40" stroke="#1a1a1a" stroke-width="0.9"/>
<line x1="32.70" y1="633.80" x2="35.30" y2="633.80" stroke="#1a1a1a" stroke-width="0.7"/>
<text transform="translate(31.50 636.10) scale(0.8000 1)" font-size="6.6" text-anchor="end" fill="#222">0</text>
<line x1="32.70" y1="612.17" x2="35.30" y2="612.17" stroke="#1a1a1a" stroke-width="0.7"/>
<text transform="translate(31.50 614.47) scale(0.8000 1)" font-size="6.6" text-anchor="end" fill="#222">25</text>
<line x1="32.70" y1="590.55" x2="35.30" y2="590.55" stroke="#1a1a1a" stroke-width="0.7"/>
<text transform="translate(31.50 592.85) scale(0.8000 1)" font-size="6.6" text-anchor="end" fill="#222">50</text>
<line x1="32.70" y1="568.92" x2="35.30" y2="568.92" stroke="#1a1a1a" stroke-width="0.7"/>
<text transform="translate(31.50 571.22) scale(0.8000 1)" font-size="6.6" text-anchor="end" fill="#222">75</text>
<line x1="32.70" y1="547.30" x2="35.30" y2="547.30" stroke="#1a1a1a" stroke-width="0.7"/>
<text transform="translate(31.50 549.60) scale(0.8000 1)" font-size="6.6" text-anchor="end" fill="#222">100</text>
<text transform="translate(13.60 593.20) rotate(-90) scale(0.7742 1)" font-size="7.8" text-anchor="middle" fill="#222">Expressed TSP1 genes (%)</text>
<g stroke="#231f20" stroke-width="0.8" fill="none"><rect x="186.2" y="546.50" width="128.50" height="95.76"/><line x1="186.2" y1="558.47" x2="314.7" y2="558.47"/><line x1="186.2" y1="570.44" x2="314.7" y2="570.44"/><line x1="186.2" y1="582.41" x2="314.7" y2="582.41"/><line x1="186.2" y1="594.38" x2="314.7" y2="594.38"/><line x1="186.2" y1="606.35" x2="314.7" y2="606.35"/><line x1="186.2" y1="618.32" x2="314.7" y2="618.32"/><line x1="186.2" y1="630.29" x2="314.7" y2="630.29"/><line x1="256.9" y1="546.50" x2="256.9" y2="642.26"/></g>
<text transform="translate(221.55 554.88) scale(0.9500 1)" font-size="6.7" text-anchor="middle" fill="#222">Group comparisons</text>
<text transform="translate(221.55 566.86) scale(0.9500 1)" font-size="6.7" text-anchor="middle" fill="#222">Child vs. Neon</text>
<text transform="translate(285.80 566.86) scale(0.9500 1)" font-size="6.7" text-anchor="middle" fill="#222">.041</text>
<text transform="translate(221.55 578.82) scale(0.9500 1)" font-size="6.7" text-anchor="middle" fill="#222">Teen vs. Neon</text>
<text transform="translate(285.80 578.82) scale(0.9500 1)" font-size="6.7" text-anchor="middle" fill="#222">.022</text>
<text transform="translate(221.55 590.79) scale(0.9500 1)" font-size="6.7" text-anchor="middle" fill="#222">Adult vs. Neon</text>
<text transform="translate(285.80 590.79) scale(0.9500 1)" font-size="6.7" text-anchor="middle" fill="#222">.003</text>
<text transform="translate(221.55 602.76) scale(0.9500 1)" font-size="6.7" text-anchor="middle" fill="#222">Elderly vs. Neon</text>
<text transform="translate(285.80 602.76) scale(0.9500 1)" font-size="6.7" text-anchor="middle" fill="#222">.002</text>
<text transform="translate(221.55 614.74) scale(0.9500 1)" font-size="6.7" text-anchor="middle" fill="#222">Adult vs. Infant</text>
<text transform="translate(285.80 614.74) scale(0.9500 1)" font-size="6.7" text-anchor="middle" fill="#222">.041</text>
<text transform="translate(221.55 626.71) scale(0.9500 1)" font-size="6.7" text-anchor="middle" fill="#222">Elderly vs. Infant</text>
<text transform="translate(285.80 626.71) scale(0.9500 1)" font-size="6.7" text-anchor="middle" fill="#222">.011</text>
<text transform="translate(221.55 638.67) scale(0.9500 1)" font-size="6.7" text-anchor="middle" fill="#222">Elderly vs. Young Child</text>
<text transform="translate(285.80 638.67) scale(0.9500 1)" font-size="6.7" text-anchor="middle" fill="#222">.032</text>
<text transform="translate(285.80 554.88) scale(0.95 1)" font-size="6.7" text-anchor="middle" fill="#222">Corrected <tspan font-style="italic">P</tspan>-values</text>
<rect x="0.5" y="0.5" width="519" height="678" fill="none" stroke="#3a3a3a" stroke-width="1.1"/>
</svg></body></html>
